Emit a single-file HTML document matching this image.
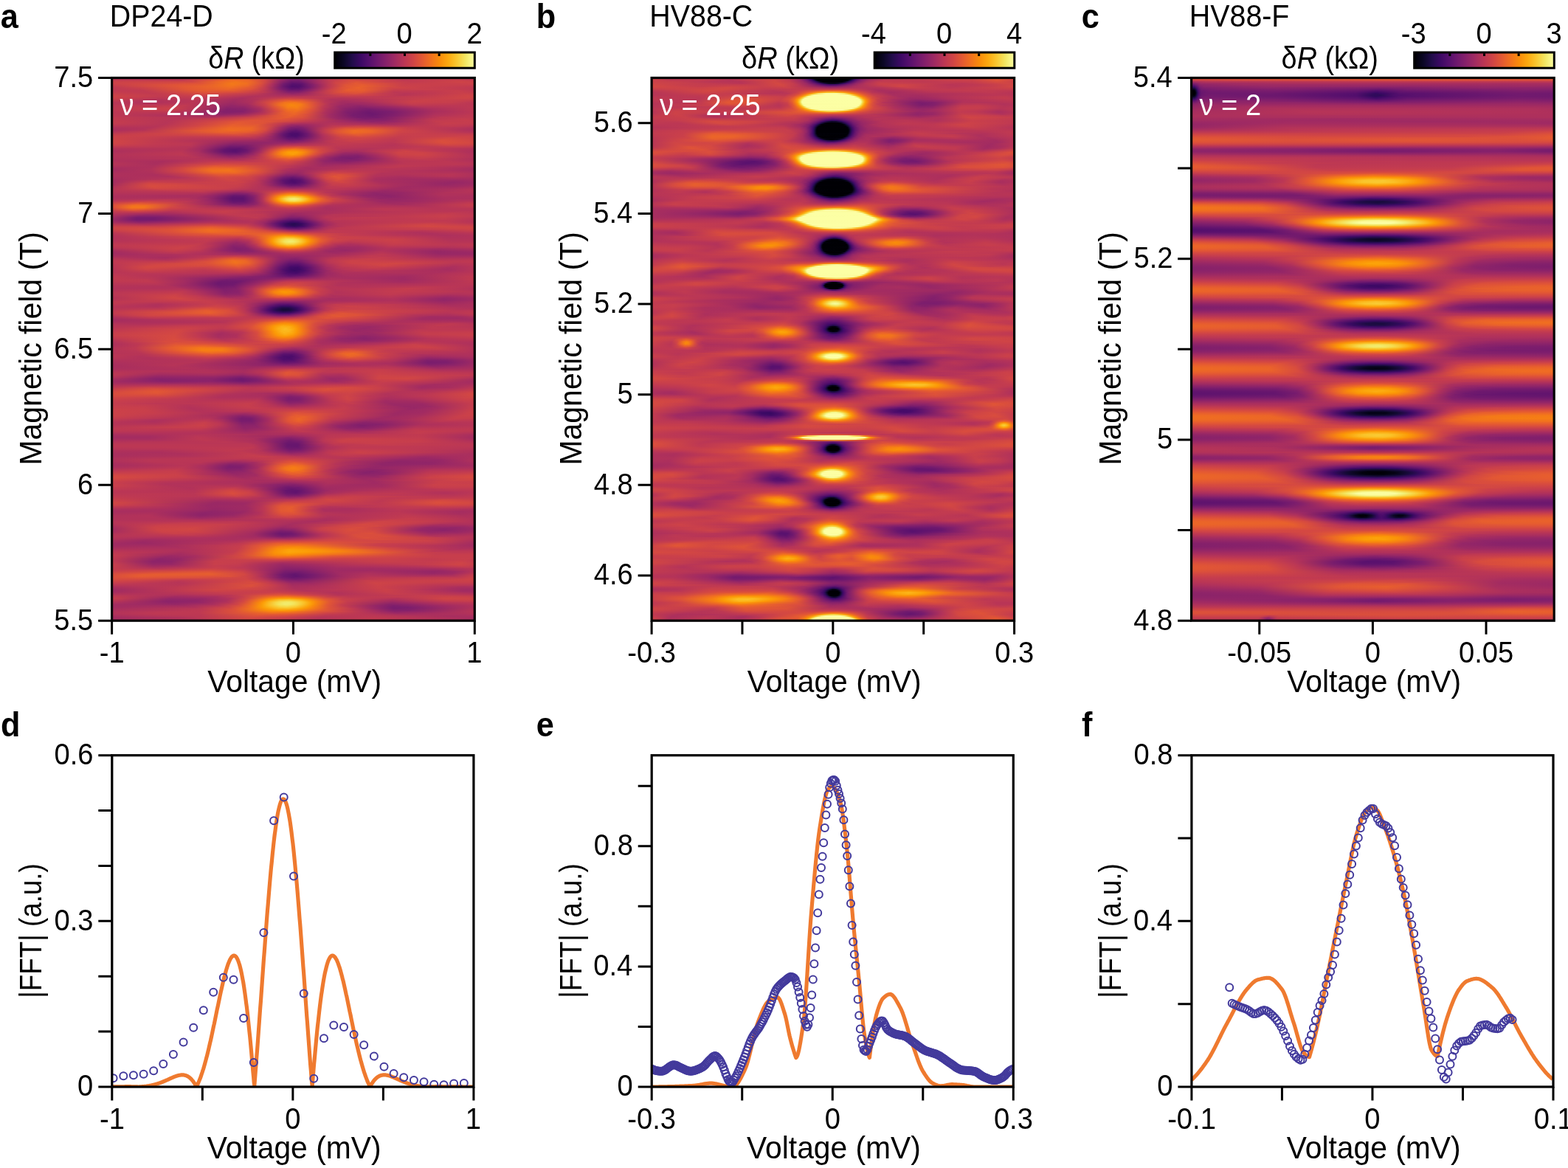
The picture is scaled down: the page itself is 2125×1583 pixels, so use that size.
<!DOCTYPE html><html><head><meta charset="utf-8"><title>Figure</title><style>
html,body{margin:0;padding:0;background:#fff}body{width:2125px;height:1583px;position:relative;overflow:hidden}
.hm{position:absolute;overflow:hidden}.hm i{display:block;height:2px}
svg{position:absolute;left:0;top:0}text{font-family:'Liberation Sans', Arial, sans-serif}
</style></head><body>
<div class="hm" style="left:151.6px;top:105.5px;width:491.7px;height:735.7px"><i style="background:linear-gradient(90deg,#b93556 0px,#b3325a 51px,#bd3853 103px,#e75e2e 156px,#e65e2e 183px,#d04545 206px,#8f2469 234px,#7e1e6c 248px,#8b236a 263px,#bf3952 295px,#d24644 326px,#c83f4c 363px,#bc3754 403px,#c33b4f 462px,#b93556 491px)"></i><i style="background:linear-gradient(90deg,#c43c4f 0px,#c23b50 95px,#da4e3d 128px,#ef6c23 162px,#eb6628 184px,#d44842 206px,#9a2865 227px,#791c6d 241px,#751b6e 253px,#932667 270px,#c23b50 295px,#d74b3f 323px,#d04545 356px,#bf3952 395px,#ca404a 467px,#c43c4e 491px)"></i><i style="background:linear-gradient(90deg,#cb4149 0px,#d14644 108px,#ec6726 145px,#f2751b 167px,#ec6727 188px,#d24743 207px,#8c2369 229px,#6a176e 243px,#6c186e 255px,#a62d60 280px,#ce4347 303px,#de5338 332px,#cc4248 370px,#c23b50 406px,#ce4347 471px,#cb4149 491px)"></i><i style="background:linear-gradient(90deg,#cc4149 0px,#d74b3f 82px,#df5337 120px,#f37819 162px,#f06f20 182px,#db4f3b 202px,#b0315b 217px,#741b6e 233px,#5c126e 245px,#63146e 257px,#a22b62 280px,#cf4446 303px,#e35833 330px,#da4e3c 357px,#c63d4d 398px,#cc4149 489px,#cc4149 491px)"></i><i style="background:linear-gradient(90deg,#c83f4b 0px,#de5238 82px,#e45a31 121px,#f3771a 162px,#ee6b24 183px,#d74b3f 202px,#ae305c 216px,#6f196e 232px,#540f6d 244px,#57106d 255px,#84206b 272px,#bd3853 293px,#de5338 316px,#e65c30 338px,#c93f4b 394px,#c83f4b 491px)"></i><i style="background:linear-gradient(90deg,#c33b4f 0px,#e05536 88px,#e9622b 129px,#f1721e 161px,#eb6429 183px,#d34743 202px,#a62d60 217px,#68166e 233px,#4f0d6c 244px,#540f6d 255px,#7f1e6c 271px,#bf3952 294px,#e15734 318px,#e75f2d 339px,#cb4149 392px,#c33b4f 491px)"></i><i style="background:linear-gradient(90deg,#bf3952 0px,#cb4149 41px,#e25734 98px,#ef6c23 162px,#e05536 191px,#c13a51 208px,#7b1d6d 228px,#58106e 241px,#550f6d 252px,#731a6e 266px,#b93556 290px,#dd513a 311px,#e9612b 334px,#d04545 377px,#c83f4b 418px,#c13a51 482px,#bf3952 491px)"></i><i style="background:linear-gradient(90deg,#bf3952 0px,#c43c4f 38px,#e35833 106px,#eb6528 157px,#de5238 188px,#bf3952 208px,#7b1d6d 230px,#60136e 243px,#65156e 255px,#9b2865 276px,#cc4248 297px,#e65d2f 321px,#e75e2e 340px,#c83f4b 383px,#c83f4c 429px,#c13a50 481px,#bf3952 491px)"></i><i style="background:linear-gradient(90deg,#c13a51 0px,#c13a51 42px,#e45a31 120px,#e45a31 164px,#cd4248 198px,#a62d60 218px,#731a6e 239px,#71196e 252px,#902568 268px,#ca404a 293px,#e55b31 318px,#e55b31 340px,#c33b4f 381px,#c13a50 416px,#c73e4c 468px,#c13a51 491px)"></i><i style="background:linear-gradient(90deg,#c43c4e 0px,#c13a51 48px,#df5437 126px,#d84c3e 170px,#bf3952 205px,#83206b 239px,#84206b 253px,#ba3655 282px,#de5238 311px,#e15734 336px,#bc3754 383px,#be3853 419px,#c83f4b 471px,#c43c4e 491px)"></i><i style="background:linear-gradient(90deg,#c83f4b 0px,#c13a50 56px,#d84c3e 128px,#c13a51 193px,#a32c61 224px,#912568 245px,#a22b62 264px,#cf4446 300px,#db503b 330px,#c43c4f 367px,#b73557 397px,#ca404a 477px,#c83f4b 491px)"></i><i style="background:linear-gradient(90deg,#cc4248 0px,#c23b50 64px,#ce4347 128px,#a92e5f 229px,#a52c60 252px,#ce4447 316px,#cc4149 348px,#b83556 393px,#ce4347 481px,#cc4248 491px)"></i><i style="background:linear-gradient(90deg,#ce4347 0px,#c03a51 68px,#c53d4e 125px,#b0315b 186px,#c33c4f 324px,#be3853 375px,#c43c4f 426px,#cf4446 482px,#ce4347 491px)"></i><i style="background:linear-gradient(90deg,#cc4149 0px,#bc3754 61px,#bf3952 122px,#a92e5e 176px,#bb3755 210px,#cb4149 241px,#be3853 277px,#b53458 308px,#ce4447 479px,#cc4248 491px)"></i><i style="background:linear-gradient(90deg,#c63e4d 0px,#b43359 57px,#bb3755 116px,#a52c60 168px,#b33359 196px,#dc503a 235px,#da4e3c 256px,#b0315b 297px,#b0315b 332px,#ca404a 423px,#c9404b 484px,#c63e4d 491px)"></i><i style="background:linear-gradient(90deg,#c03a51 0px,#af315c 51px,#b93656 112px,#a22b62 165px,#b0315b 190px,#d84c3e 218px,#ec6727 240px,#e65e2e 257px,#b83556 289px,#a62d60 314px,#b43359 356px,#cb4149 410px,#c63e4d 474px,#c03a51 491px)"></i><i style="background:linear-gradient(90deg,#bb3755 0px,#af315c 53px,#ba3655 108px,#9e2a63 164px,#ad305c 188px,#d74b3f 213px,#f1731d 234px,#f37819 248px,#e55b31 266px,#bc3754 288px,#a32c61 310px,#a42c61 339px,#c93f4b 405px,#c63e4d 459px,#bb3755 491px)"></i><i style="background:linear-gradient(90deg,#ba3655 0px,#b63458 54px,#bc3754 103px,#9a2865 161px,#a52c60 183px,#cc4248 207px,#f1721e 229px,#f78410 242px,#f57b17 255px,#d84c3e 275px,#ae305c 296px,#9a2865 320px,#a22b62 352px,#c53d4e 406px,#c13a50 462px,#ba3655 491px)"></i><i style="background:linear-gradient(90deg,#bc3754 0px,#c13a51 98px,#a42c61 135px,#932667 162px,#a02a62 185px,#cc4248 209px,#f1721e 229px,#f8870e 243px,#f67e14 254px,#e15635 271px,#b93656 289px,#9b2865 310px,#912568 336px,#a32c61 370px,#bd3853 411px,#bc3754 491px)"></i><i style="background:linear-gradient(90deg,#bd3853 0px,#c73e4c 85px,#b33359 117px,#8f2469 156px,#932567 179px,#b33359 201px,#df5437 220px,#f67e14 238px,#f78212 250px,#ea6429 265px,#c03a51 285px,#992865 307px,#88226a 336px,#952667 369px,#b43359 419px,#bd3853 491px)"></i><i style="background:linear-gradient(90deg,#bd3853 0px,#ca404a 80px,#b63457 112px,#88226a 156px,#8c2369 179px,#ab2f5e 201px,#db503b 221px,#f3771a 238px,#f57b17 251px,#e15734 269px,#b63457 288px,#8d2369 315px,#7e1e6c 344px,#902568 381px,#ae305c 429px,#bd3853 491px)"></i><i style="background:linear-gradient(90deg,#bd3853 0px,#c83f4c 77px,#b63458 108px,#84206b 155px,#88226a 180px,#a62d60 201px,#d94d3d 222px,#f0701f 239px,#f1731d 252px,#dc503a 270px,#ac2f5d 292px,#85216b 319px,#761b6e 348px,#87216b 381px,#ac2f5d 436px,#bd3853 491px)"></i><i style="background:linear-gradient(90deg,#bc3754 0px,#c13a50 78px,#ab2f5e 112px,#84206b 151px,#84206b 175px,#9f2a63 197px,#d24644 220px,#ec6726 237px,#ef6e21 249px,#de5238 267px,#ad305c 290px,#83206b 317px,#71196e 346px,#7c1e6d 377px,#a92e5e 435px,#bc3754 491px)"></i><i style="background:linear-gradient(90deg,#bc3754 0px,#b93556 83px,#9a2865 124px,#85216b 154px,#8f2468 180px,#b63457 206px,#e55c30 231px,#ed6925 246px,#e25734 262px,#ae305c 288px,#7f1e6c 319px,#6d186e 348px,#7c1e6d 380px,#ac2f5d 437px,#bc3754 491px)"></i><i style="background:linear-gradient(90deg,#bd3853 0px,#b0315b 91px,#902568 148px,#992865 174px,#be3853 204px,#e65d2f 232px,#eb6429 247px,#d54941 268px,#a02a63 295px,#781c6d 326px,#6d186e 353px,#83206b 386px,#af315c 437px,#bd3853 488px,#bd3853 491px)"></i><i style="background:linear-gradient(90deg,#be3853 0px,#ab2f5e 103px,#a02b62 148px,#b53458 184px,#de5238 221px,#e9612b 242px,#db4f3b 262px,#a32c61 293px,#791c6d 326px,#6f196e 351px,#811f6c 381px,#b3325a 436px,#bf3952 484px,#be3853 491px)"></i><i style="background:linear-gradient(90deg,#c03a51 0px,#b0315b 135px,#cc4249 191px,#e65d2f 236px,#db503b 258px,#9f2a63 297px,#781c6d 333px,#751b6e 359px,#9d2964 403px,#bd3853 446px,#c03a51 491px)"></i><i style="background:linear-gradient(90deg,#c13a50 0px,#b63458 96px,#c83f4b 156px,#e25734 229px,#d44842 260px,#982766 307px,#7c1d6d 343px,#84206b 372px,#bc3754 434px,#c43c4f 476px,#c23b50 491px)"></i><i style="background:linear-gradient(90deg,#c33b4f 0px,#b73557 79px,#ca404a 134px,#df5337 191px,#da4e3d 236px,#ba3655 281px,#88226a 336px,#88226a 369px,#c13a51 435px,#c63d4d 481px,#c43c4f 491px)"></i><i style="background:linear-gradient(90deg,#c43c4e 0px,#b73557 75px,#cb4149 124px,#e15635 173px,#dd513a 214px,#bf3952 262px,#a62d60 309px,#8f2469 352px,#982766 382px,#c43c4e 440px,#c53d4e 488px,#c43c4e 491px)"></i><i style="background:linear-gradient(90deg,#c43c4f 0px,#b73557 73px,#cf4446 123px,#e45932 170px,#de5238 205px,#be3952 234px,#b0315b 256px,#b1325a 301px,#9c2964 365px,#b1325a 406px,#c73e4c 452px,#c43c4f 491px)"></i><i style="background:linear-gradient(90deg,#c03a51 0px,#b73557 69px,#cf4446 118px,#e65d2f 164px,#e15734 198px,#c73e4c 221px,#9f2a63 244px,#9f2a63 262px,#b63458 296px,#b33359 343px,#ad305d 381px,#c53d4e 450px,#c13a51 491px)"></i><i style="background:linear-gradient(90deg,#b93656 0px,#b63457 60px,#cf4446 110px,#e9612b 161px,#e65e2e 192px,#d04545 214px,#962766 238px,#88226a 251px,#9d2964 270px,#be3952 299px,#ca414a 333px,#bc3754 389px,#c13a50 463px,#ba3655 491px)"></i><i style="background:linear-gradient(90deg,#b2325a 0px,#b43359 52px,#d54a41 110px,#ec6726 160px,#ea6429 189px,#d54a41 210px,#9d2964 230px,#7d1e6c 243px,#7d1e6c 256px,#ba3655 288px,#d84c3e 317px,#da4e3c 347px,#c43c4e 400px,#b73557 474px,#b2325a 491px)"></i><i style="background:linear-gradient(90deg,#ad305d 0px,#b3325a 43px,#d94d3d 107px,#ee6b23 158px,#ec6726 187px,#da4e3d 207px,#b0315b 222px,#771c6d 239px,#6c186e 249px,#7c1d6d 261px,#c33b4f 289px,#e35933 316px,#e8612c 340px,#c93f4b 399px,#ad305c 491px)"></i><i style="background:linear-gradient(90deg,#ae305c 0px,#b83556 43px,#e35833 118px,#ee6b23 163px,#e9612b 190px,#d34743 208px,#a22b61 223px,#69176e 239px,#5f136e 249px,#741a6e 261px,#b63458 282px,#dc503a 302px,#ee6b24 328px,#eb6429 349px,#ce4347 393px,#ae305c 491px)"></i><i style="background:linear-gradient(90deg,#b53458 0px,#c63e4d 59px,#e9622b 147px,#e75e2e 183px,#d54941 203px,#af315c 217px,#6f196e 233px,#550f6d 244px,#58106e 253px,#7c1d6d 266px,#c13a51 287px,#e15734 307px,#ee6b23 328px,#eb6429 349px,#ce4447 389px,#b53458 486px,#b53458 491px)"></i><i style="background:linear-gradient(90deg,#bf3952 0px,#d04545 83px,#e35933 164px,#d74b3f 195px,#bb3755 210px,#731a6e 229px,#4f0d6c 241px,#4d0c6b 251px,#6d186e 264px,#b63458 285px,#da4e3d 304px,#ea6429 328px,#e45932 352px,#ca404a 392px,#bf3952 491px)"></i><i style="background:linear-gradient(90deg,#c73e4c 0px,#ce4347 95px,#d74b3f 174px,#c73e4c 199px,#a62d60 214px,#63146e 232px,#4a0c6b 243px,#4c0c6b 252px,#6e186e 265px,#b3325a 286px,#d74b3f 308px,#e35933 333px,#c83f4c 390px,#c73e4c 491px)"></i><i style="background:linear-gradient(90deg,#cc4149 0px,#c53d4e 98px,#c83f4c 185px,#b53458 204px,#8f2468 219px,#550f6d 238px,#4d0d6c 249px,#67166e 262px,#af315c 286px,#d14644 309px,#da4e3d 336px,#c53d4e 388px,#cd4248 477px,#cc4149 491px)"></i><i style="background:linear-gradient(90deg,#cd4248 0px,#bf3952 93px,#b73557 193px,#9f2a63 212px,#5e136e 238px,#59116e 250px,#781c6d 265px,#b3325a 288px,#ce4447 313px,#d04545 342px,#c23b50 383px,#d24743 456px,#cd4248 491px)"></i><i style="background:linear-gradient(90deg,#ce4347 0px,#bd3853 83px,#ad305c 177px,#a62d60 203px,#86216b 223px,#69166e 240px,#6b176e 253px,#a92e5f 282px,#c63e4d 305px,#ce4347 334px,#bf3952 381px,#d74b3f 449px,#ce4447 491px)"></i><i style="background:linear-gradient(90deg,#d04545 0px,#c03a51 63px,#b2325a 121px,#a02a62 170px,#9b2865 208px,#771c6d 243px,#83206b 258px,#bc3754 293px,#ca404a 322px,#be3853 383px,#da4e3d 447px,#d04545 491px)"></i><i style="background:linear-gradient(90deg,#d04545 0px,#c13a50 58px,#b93556 109px,#932667 168px,#932667 220px,#8b236a 247px,#c13a50 300px,#c53d4e 335px,#bb3755 379px,#da4e3c 449px,#d24644 491px)"></i><i style="background:linear-gradient(90deg,#cf4446 0px,#c13a51 58px,#bc3754 106px,#88226a 165px,#8e2469 192px,#a22b62 239px,#c23b50 310px,#b83556 382px,#d74b3f 452px,#d04545 491px)"></i><i style="background:linear-gradient(90deg,#c9404b 0px,#be3853 63px,#bb3755 105px,#9d2964 134px,#7c1e6d 161px,#7e1e6c 182px,#bb3755 237px,#bf3952 309px,#b63458 380px,#cf4446 455px,#ca404a 491px)"></i><i style="background:linear-gradient(90deg,#c03a51 0px,#bb3755 72px,#b63458 107px,#9b2964 130px,#6f196e 160px,#711a6e 179px,#972766 202px,#d04545 232px,#d84d3e 252px,#bc3754 305px,#b73557 373px,#c53d4e 465px,#c13a51 491px)"></i><i style="background:linear-gradient(90deg,#b63457 0px,#b63457 100px,#9f2a63 124px,#65156e 157px,#63146e 173px,#811f6c 192px,#bd3853 214px,#e45a31 232px,#ec6826 248px,#d74b3f 274px,#b93656 305px,#b33359 345px,#c13a51 414px,#b63457 491px)"></i><i style="background:linear-gradient(90deg,#b0315b 0px,#b63457 96px,#a32c61 119px,#62146e 153px,#59116e 167px,#68166e 181px,#972766 199px,#d34743 217px,#f1721e 232px,#f78510 245px,#f3771a 258px,#d04545 284px,#b2325a 312px,#af315c 339px,#c73e4c 394px,#b93556 454px,#b0315b 491px)"></i><i style="background:linear-gradient(90deg,#ad305c 0px,#b93656 94px,#a62d60 118px,#63146e 152px,#59116e 167px,#6d186e 182px,#a22b62 200px,#da4e3d 216px,#f57c16 229px,#fb9607 239px,#fb9706 250px,#f57d15 262px,#d44842 282px,#af315c 307px,#a62d60 331px,#bf3952 366px,#ce4347 398px,#bc3754 448px,#ad305c 491px)"></i><i style="background:linear-gradient(90deg,#af315c 0px,#bc3754 93px,#ab2f5e 117px,#69176e 153px,#62146e 168px,#781c6d 183px,#ad305c 201px,#e05536 216px,#f98a0c 230px,#fca007 239px,#fca007 250px,#f98a0c 259px,#df5337 276px,#b93656 294px,#9d2964 316px,#9e2a63 337px,#ce4347 388px,#cd4248 422px,#b0315b 484px,#af315c 491px)"></i><i style="background:linear-gradient(90deg,#b2325a 0px,#bd3853 95px,#a82e5f 123px,#731a6e 157px,#741b6e 173px,#9b2865 192px,#d24743 210px,#f57c16 226px,#fb9606 235px,#fca008 245px,#f98c0b 256px,#e05536 273px,#ba3655 288px,#932667 312px,#8f2469 332px,#ab2f5e 358px,#cc4248 388px,#cf4446 420px,#b3325a 486px,#b2325a 491px)"></i><i style="background:linear-gradient(90deg,#b3325a 0px,#bb3755 101px,#a62d60 129px,#83206b 158px,#88226a 175px,#ae305c 196px,#de5338 215px,#f78311 232px,#fa8f09 243px,#f68013 254px,#da4e3d 271px,#ad305c 288px,#88226a 312px,#84206b 333px,#a92e5e 362px,#ca404a 390px,#cd4248 422px,#b3325a 489px,#b3325a 491px)"></i><i style="background:linear-gradient(90deg,#b2325a 0px,#b73557 112px,#932567 161px,#9b2964 180px,#c63d4d 205px,#ef6c23 229px,#f47819 241px,#ee6b23 253px,#ce4347 270px,#9c2964 290px,#7f1e6c 311px,#7e1e6c 333px,#a62d60 364px,#c63d4d 392px,#c83f4c 426px,#b2325a 491px)"></i><i style="background:linear-gradient(90deg,#b0315b 0px,#b63458 92px,#b2325a 128px,#a12b62 166px,#b43359 193px,#df5337 223px,#ea6429 240px,#de5238 256px,#a72d5f 280px,#83206b 302px,#7a1d6d 324px,#8f2469 349px,#bc3754 387px,#c53d4e 417px,#b0315b 491px)"></i><i style="background:linear-gradient(90deg,#b0315b 0px,#ae305c 74px,#b83556 127px,#b0315b 174px,#ca404a 210px,#de5338 236px,#d44842 254px,#9a2865 283px,#811f6c 305px,#83206b 332px,#bb3755 391px,#bf3952 432px,#b0315b 491px)"></i><i style="background:linear-gradient(90deg,#b2325a 0px,#a92e5e 66px,#bf3952 134px,#c13a51 191px,#d54941 238px,#c13a51 259px,#912568 289px,#87216b 317px,#9b2865 350px,#ba3655 394px,#bc3754 453px,#b3325a 491px)"></i><i style="background:linear-gradient(90deg,#b53458 0px,#a92e5e 61px,#ca414a 140px,#cc4149 241px,#972766 289px,#932567 316px,#bc3754 399px,#bc3754 466px,#b63458 491px)"></i><i style="background:linear-gradient(90deg,#b53458 0px,#aa2f5e 59px,#c9404b 110px,#d74b3f 153px,#c53d4e 239px,#9d2964 287px,#a22b61 325px,#bc3754 391px,#bc3754 466px,#b53458 491px)"></i><i style="background:linear-gradient(90deg,#b1325a 0px,#ad305d 55px,#c63e4d 96px,#e15635 139px,#dd5139 180px,#b53458 250px,#a22b62 285px,#bf3952 392px,#b43359 480px,#b1325a 491px)"></i><i style="background:linear-gradient(90deg,#ab2f5e 0px,#ae305c 53px,#d14644 99px,#ea632a 138px,#e75f2d 172px,#c83f4c 219px,#a72d5f 262px,#ac2f5d 302px,#bd3853 377px,#b0315b 468px,#ab2f5e 491px)"></i><i style="background:linear-gradient(90deg,#a62d60 0px,#b0315b 52px,#d24743 95px,#ee6b24 133px,#f06e21 160px,#dc503a 198px,#ad305d 241px,#a52c60 267px,#b93656 333px,#b63458 421px,#a62d60 491px)"></i><i style="background:linear-gradient(90deg,#a62d60 0px,#b1325a 54px,#d44842 96px,#f06f20 134px,#f2741c 158px,#e45a31 191px,#ae305c 233px,#a12b62 255px,#be3952 310px,#ad305d 455px,#a62d60 491px)"></i><i style="background:linear-gradient(90deg,#a92e5f 0px,#b0315b 54px,#d24743 98px,#ef6d22 137px,#f06f20 165px,#da4e3d 200px,#a32c61 237px,#9e2a63 255px,#c83f4c 299px,#c13a50 331px,#b43359 383px,#b0315b 462px,#a92e5f 491px)"></i><i style="background:linear-gradient(90deg,#ad305c 0px,#ad305c 54px,#c83f4b 96px,#e9612b 138px,#eb6429 167px,#d64a40 199px,#992865 237px,#962766 252px,#b93656 276px,#d34743 298px,#ce4347 322px,#b33359 365px,#b53458 462px,#ad305c 491px)"></i><i style="background:linear-gradient(90deg,#ae305c 0px,#ac2f5d 61px,#c73e4c 105px,#e25734 145px,#df5337 178px,#c63e4d 205px,#8c2369 236px,#88226a 249px,#a42c61 266px,#d34743 289px,#dc503a 309px,#b33359 358px,#b1325a 400px,#b93556 456px,#ae305c 491px)"></i><i style="background:linear-gradient(90deg,#ad305c 0px,#ae305c 76px,#da4e3d 148px,#d44842 183px,#bc3754 206px,#7e1e6c 234px,#751b6e 246px,#88226a 259px,#c93f4b 283px,#df5437 301px,#d84c3e 320px,#b3325a 354px,#ab2f5e 389px,#b63458 457px,#ad305c 491px)"></i><i style="background:linear-gradient(90deg,#aa2f5e 0px,#b43359 92px,#d44842 152px,#cc4248 187px,#b3325a 207px,#711a6e 232px,#63146e 244px,#711a6e 256px,#ad305d 275px,#d34743 290px,#df5437 307px,#cb4149 329px,#ac2f5d 358px,#a62d60 398px,#ad305c 464px,#a92e5e 491px)"></i><i style="background:linear-gradient(90deg,#a72d5f 0px,#b53458 64px,#bf3952 111px,#d24644 157px,#c83f4c 189px,#ad305d 207px,#68166e 231px,#540f6d 244px,#62146e 256px,#9f2a63 274px,#cf4446 291px,#db503b 307px,#c83f4c 329px,#a92e5e 357px,#a22b62 405px,#a52c60 491px)"></i><i style="background:linear-gradient(90deg,#a52c60 0px,#c03a51 55px,#c13a50 114px,#d04545 164px,#c13a50 193px,#9f2a63 211px,#5e136e 232px,#4d0c6b 244px,#58106e 255px,#8f2469 272px,#c43c4e 289px,#d74b3f 304px,#c93f4b 326px,#aa2f5e 356px,#9b2964 466px,#a12b62 491px)"></i><i style="background:linear-gradient(90deg,#a32c61 0px,#ca404a 50px,#c43c4e 94px,#ca404a 135px,#cc4149 175px,#b73557 199px,#8a226a 218px,#56106d 236px,#4d0c6b 247px,#60136e 259px,#a02a63 278px,#c83f4c 294px,#d24644 311px,#ac2f5d 361px,#962766 462px,#9e2a63 491px)"></i><i style="background:linear-gradient(90deg,#a62d60 0px,#d24743 50px,#cf4446 83px,#c83f4c 122px,#cc4149 168px,#b93556 197px,#972766 214px,#5d126e 236px,#550f6d 248px,#6b176e 261px,#b0315b 284px,#c93f4b 299px,#ca404a 319px,#ae305c 364px,#962766 453px,#9e2a63 491px)"></i><i style="background:linear-gradient(90deg,#a92e5e 0px,#d64a40 50px,#d44842 83px,#cc4149 128px,#c83f4b 172px,#b33359 201px,#801f6c 226px,#65156e 242px,#6a176e 254px,#a72d5f 280px,#c53d4e 298px,#c63d4d 321px,#a82e5f 384px,#992865 451px,#a22b62 491px)"></i><i style="background:linear-gradient(90deg,#b0315b 0px,#d74b3f 54px,#d14644 97px,#c73e4c 169px,#b0315b 205px,#7c1d6d 241px,#811f6c 256px,#bd3853 292px,#c33b4f 315px,#a22b62 397px,#a02a62 463px,#a92e5e 491px)"></i><i style="background:linear-gradient(90deg,#b43359 0px,#d44842 58px,#ca404a 152px,#ab2f5e 216px,#942667 245px,#a42c61 268px,#be3853 296px,#b83556 327px,#a12b62 388px,#a72d5f 461px,#b0315b 491px)"></i><i style="background:linear-gradient(90deg,#b73557 0px,#cc4149 68px,#c63e4d 142px,#b43359 185px,#b2325a 240px,#b83556 311px,#9f2a63 374px,#aa2f5e 450px,#b53458 491px)"></i><i style="background:linear-gradient(90deg,#b73557 0px,#c43c4f 121px,#b1325a 153px,#a52c60 178px,#ce4347 238px,#a92e5f 326px,#982766 370px,#b63458 491px)"></i><i style="background:linear-gradient(90deg,#b53458 0px,#b93556 124px,#8f2468 171px,#9d2964 190px,#d24743 220px,#e65e2e 240px,#df5437 258px,#b83556 290px,#932667 355px,#972766 391px,#b1325a 455px,#b33359 491px)"></i><i style="background:linear-gradient(90deg,#b2325a 0px,#b2325a 95px,#ab2f5e 127px,#7b1d6d 167px,#82206c 183px,#ad305c 202px,#e25734 221px,#f57e15 237px,#f68212 247px,#ec6826 262px,#ca404a 282px,#a82e5f 311px,#8e2469 359px,#962766 393px,#b0315b 447px,#b0315b 491px)"></i><i style="background:linear-gradient(90deg,#af315c 0px,#a92e5e 118px,#932567 139px,#69176e 165px,#6d186e 179px,#8f2469 194px,#c63e4d 209px,#ef6e21 222px,#fa9309 231px,#fcad13 241px,#fca80f 251px,#f98f0a 260px,#dc513a 279px,#bc3754 297px,#942667 342px,#8d2369 373px,#af315c 450px,#ad305c 491px)"></i><i style="background:linear-gradient(90deg,#ae305c 0px,#a92e5e 114px,#8f2468 137px,#5f136e 164px,#61146e 178px,#83206b 192px,#b93556 205px,#e45932 215px,#fa9108 225px,#fca70d 229px,#f8cf3b 239px,#f6d645 247px,#fac228 256px,#fba009 264px,#f8880d 269px,#e25833 282px,#c43c4f 299px,#972766 346px,#8e2469 377px,#ac2f5d 448px,#ad305d 491px)"></i><i style="background:linear-gradient(90deg,#af315c 0px,#b1325a 101px,#9f2a63 127px,#5d126e 163px,#5c126e 177px,#7d1e6d 191px,#b0315b 203px,#df5437 213px,#f98b0b 222px,#fc9f07 225px,#f7d340 234px,#f2e967 241px,#f2ed71 246px,#f2e55f 252px,#fbba1f 263px,#fb9a06 269px,#f1721e 278px,#d94d3d 291px,#b73557 317px,#932667 363px,#972766 396px,#ab2f5e 452px,#ad305c 491px)"></i><i style="background:linear-gradient(90deg,#b43359 0px,#be3853 74px,#af315c 114px,#8e2469 138px,#5e136e 163px,#5e136e 178px,#7d1e6d 191px,#b43359 204px,#e35933 214px,#fb9706 224px,#fcab10 227px,#f4e054 237px,#f1ec6f 242px,#f1ed71 248px,#f4df53 255px,#fca80d 267px,#fa9407 271px,#e9622b 283px,#ce4347 300px,#a02a62 350px,#962766 384px,#af315c 467px,#b1325a 491px)"></i><i style="background:linear-gradient(90deg,#be3853 0px,#cc4248 51px,#bb3755 102px,#9c2964 131px,#64156e 164px,#64156e 178px,#811f6c 192px,#b53458 205px,#e45a31 216px,#fa9407 226px,#fcaf14 231px,#f7d23f 240px,#f6d848 247px,#f9c831 255px,#fba009 265px,#f7850f 271px,#e25833 284px,#c83f4b 302px,#9c2964 364px,#9c2964 400px,#b63457 477px,#b83556 491px)"></i><i style="background:linear-gradient(90deg,#ca404a 0px,#dd5239 39px,#cc4248 82px,#a22b62 129px,#6d186e 165px,#71196e 181px,#8f2468 196px,#c33b4f 210px,#ee6b24 223px,#fa910a 232px,#fbac12 242px,#fba80f 252px,#f98d0b 261px,#dd5239 280px,#c13a50 299px,#9e2a63 374px,#a72d5f 418px,#bf3952 483px,#c03a51 491px)"></i><i style="background:linear-gradient(90deg,#d44842 0px,#eb6528 33px,#e55c30 56px,#b93556 110px,#86216b 155px,#7b1d6d 174px,#8c2369 192px,#bd3853 211px,#e9622b 228px,#f57f14 242px,#f3771a 254px,#d34743 276px,#b63457 299px,#a32c61 393px,#c53d4e 487px,#c53d4e 491px)"></i><i style="background:linear-gradient(90deg,#d94c3e 0px,#f2731d 28px,#f1731d 44px,#cc4248 89px,#922568 164px,#932567 186px,#b1325a 208px,#df5437 233px,#e35a32 248px,#ca414a 270px,#b0315b 292px,#ae305c 415px,#c53d4e 488px,#c53d4e 491px)"></i><i style="background:linear-gradient(90deg,#d84c3e 0px,#f3761b 27px,#f3761b 42px,#d24644 80px,#b93656 122px,#a32c61 183px,#b73557 212px,#d04545 239px,#c73e4c 259px,#ab2f5e 289px,#b53458 369px,#b53458 432px,#c03a51 491px)"></i><i style="background:linear-gradient(90deg,#d14644 0px,#ed6925 27px,#ec6727 42px,#cc4149 78px,#c13a51 113px,#b63458 170px,#b63458 210px,#c03a51 244px,#a92e5e 291px,#bb3755 366px,#b73557 439px,#ba3655 491px)"></i><i style="background:linear-gradient(90deg,#c83f4c 0px,#df5437 28px,#d54a40 50px,#bf3952 83px,#c33b4f 159px,#b43359 241px,#aa2f5e 295px,#bb3755 371px,#b73557 491px)"></i><i style="background:linear-gradient(90deg,#c03a51 0px,#ca404a 34px,#b43359 78px,#c73e4c 151px,#b0315b 227px,#a82e5f 265px,#ba3655 391px,#bb3755 480px,#b83556 491px)"></i><i style="background:linear-gradient(90deg,#ba3655 0px,#a72d5f 73px,#c43c4e 152px,#ba3655 205px,#9f2a63 248px,#b33359 314px,#c23b50 461px,#bb3755 491px)"></i><i style="background:linear-gradient(90deg,#b3325a 0px,#962766 47px,#a02a62 91px,#c13a51 160px,#bf3952 201px,#972766 245px,#a42c61 269px,#b73557 300px,#bd3853 392px,#c63e4d 450px,#be3853 491px)"></i><i style="background:linear-gradient(90deg,#ab2f5e 0px,#85216b 36px,#87216b 64px,#c23b50 180px,#bc3754 206px,#8d2369 243px,#962766 261px,#b83556 291px,#ba3655 348px,#c83f4c 450px,#bf3952 491px)"></i><i style="background:linear-gradient(90deg,#a42c61 0px,#781c6d 33px,#781c6d 58px,#b43359 160px,#c03a51 194px,#b1325a 212px,#801f6c 240px,#811f6c 254px,#b93556 290px,#bf3952 323px,#c03a51 393px,#c63e4d 449px,#bc3754 491px)"></i><i style="background:linear-gradient(90deg,#9f2a63 0px,#741a6e 33px,#741a6e 55px,#b83556 176px,#b83556 199px,#9a2865 218px,#6d186e 239px,#6d186e 253px,#ac2f5d 283px,#be3853 302px,#bf3952 392px,#c43c4f 447px,#b83556 491px)"></i><i style="background:linear-gradient(90deg,#a12b62 0px,#7a1d6d 33px,#7d1e6c 58px,#a32c61 130px,#b63458 190px,#a52c60 207px,#61136e 233px,#510e6c 245px,#5d126e 257px,#9f2a63 281px,#b73557 297px,#bb3755 334px,#c13a51 402px,#bf3952 459px,#b63458 491px)"></i><i style="background:linear-gradient(90deg,#a72d5f 0px,#8a226a 37px,#972766 74px,#b0315b 137px,#b2325a 191px,#9a2865 208px,#58106e 229px,#3b0a64 242px,#3e0a66 252px,#68166e 267px,#a22b61 287px,#b63457 304px,#c13a50 394px,#c23b50 450px,#b63457 491px)"></i><i style="background:linear-gradient(90deg,#b33359 0px,#a02b62 41px,#be3952 132px,#b73557 187px,#a02a63 204px,#5e136e 224px,#310a5d 238px,#290b54 247px,#3a0963 257px,#6d186e 272px,#a12b62 289px,#b53458 307px,#cb4149 433px,#bc3754 491px)"></i><i style="background:linear-gradient(90deg,#c03a51 0px,#b63457 49px,#d04545 135px,#c33b4f 183px,#a62d60 203px,#67166e 222px,#380962 235px,#270b52 245px,#310a5d 255px,#60136e 269px,#9d2964 288px,#b53458 306px,#d14644 427px,#c53d4e 491px)"></i><i style="background:linear-gradient(90deg,#ca404a 0px,#ca404a 65px,#e05536 135px,#ce4447 182px,#b3325a 202px,#7e1e6c 219px,#430a68 236px,#350a5f 247px,#480b6a 259px,#84206b 277px,#ad305d 294px,#bc3754 318px,#d24743 431px,#cc4248 491px)"></i><i style="background:linear-gradient(90deg,#ce4447 0px,#d64a40 73px,#ea632a 134px,#dd513a 177px,#c33b4f 201px,#902568 220px,#5b116e 238px,#530f6c 249px,#67166e 262px,#aa2f5e 288px,#bd3853 307px,#ce4447 459px,#cf4446 491px)"></i><i style="background:linear-gradient(90deg,#cc4248 0px,#dc503a 76px,#ef6c23 132px,#e9612b 167px,#d24743 200px,#ac2f5d 220px,#7e1e6c 240px,#781c6d 253px,#9c2964 274px,#bc3754 296px,#c03a51 339px,#c73e4c 445px,#cc4248 491px)"></i><i style="background:linear-gradient(90deg,#c63e4d 0px,#dd5139 79px,#f06e21 133px,#ea632a 173px,#d64a40 209px,#a32c61 245px,#a32c61 261px,#c13a51 296px,#b83556 419px,#c63e4d 491px)"></i><i style="background:linear-gradient(90deg,#be3853 0px,#db503b 83px,#ed6826 135px,#de5338 220px,#c13b50 262px,#bf3952 334px,#b0315b 414px,#be3853 491px)"></i><i style="background:linear-gradient(90deg,#b73557 0px,#d94d3d 92px,#e55c30 143px,#e65d2f 196px,#ed6925 231px,#d34743 271px,#c13a51 324px,#ad305d 430px,#b73557 491px)"></i><i style="background:linear-gradient(90deg,#b43359 0px,#d74b3f 110px,#dd513a 185px,#f0701f 212px,#f98d0b 233px,#f78311 248px,#d84d3e 279px,#c53d4e 312px,#b93556 386px,#ad305d 450px,#b33359 491px)"></i><i style="background:linear-gradient(90deg,#b3325a 0px,#d04545 132px,#cb4149 174px,#e05536 196px,#f57c16 213px,#fb9907 223px,#fcb116 235px,#fcac12 246px,#fa9309 257px,#e35933 278px,#cd4248 299px,#c63e4d 342px,#bf3952 392px,#af315c 453px,#b3325a 491px)"></i><i style="background:linear-gradient(90deg,#b3325a 0px,#c43c4f 95px,#c63e4d 136px,#bc3754 171px,#d14644 191px,#ef6c23 207px,#fb9706 218px,#fcb318 225px,#f7d03c 236px,#f7d03c 245px,#fcb318 256px,#fb9b07 262px,#f47918 271px,#e05536 285px,#cb4149 306px,#c63d4d 390px,#b1325a 454px,#b3325a 491px)"></i><i style="background:linear-gradient(90deg,#b43359 0px,#bd3853 86px,#c43c4f 128px,#ae305c 169px,#be3853 185px,#df5337 200px,#f8860e 213px,#fc9f07 218px,#f7d03c 229px,#f3e45d 237px,#f2e661 243px,#f6d847 251px,#fca309 264px,#f98c0b 269px,#e55c30 283px,#ce4447 301px,#c53d4e 329px,#cb4149 382px,#b33359 455px,#b43359 491px)"></i><i style="background:linear-gradient(90deg,#b63457 0px,#be3853 88px,#c13a51 128px,#a22b62 168px,#b33359 185px,#d84c3e 199px,#f57c16 211px,#fb9a06 217px,#fbba1f 223px,#f3e35a 233px,#f1ed71 240px,#f1ec6d 245px,#f5db4c 252px,#fca60b 264px,#f98d09 269px,#e65d2f 282px,#cc4248 298px,#c03a51 323px,#ca404a 382px,#b53458 460px,#b63457 491px)"></i><i style="background:linear-gradient(90deg,#ba3655 0px,#c13a50 124px,#a82e5f 149px,#972766 169px,#a92e5f 184px,#d64a40 200px,#f57b17 212px,#fb9a06 218px,#fbb91e 224px,#f3e258 235px,#f2e763 241px,#f3e258 247px,#fac127 257px,#fb9e07 264px,#f8860e 269px,#e15734 282px,#c63d4d 298px,#b83556 320px,#c93f4b 384px,#b83556 460px,#b93656 491px)"></i><i style="background:linear-gradient(90deg,#be3853 0px,#c43c4e 118px,#ad305c 142px,#902568 165px,#972766 179px,#c23b50 196px,#ea632a 209px,#fb9706 220px,#fcb318 226px,#f7d340 237px,#f7d23f 245px,#fbba1f 254px,#fb9d07 261px,#f68112 267px,#d94d3d 282px,#b93556 301px,#ae305c 323px,#c63d4d 380px,#bb3755 460px,#be3853 491px)"></i><i style="background:linear-gradient(90deg,#bf3952 0px,#c83f4b 108px,#b83556 133px,#8a226a 164px,#8e2469 178px,#b0315b 193px,#de5338 208px,#f88a0c 222px,#fba10a 228px,#fbb61b 238px,#fcb116 247px,#fa9508 257px,#e45a31 273px,#c33b4f 288px,#a92e5f 307px,#a92e5f 333px,#c03a51 377px,#b93656 462px,#be3853 491px)"></i><i style="background:linear-gradient(90deg,#bc3754 0px,#cb4149 96px,#be3853 126px,#84206b 165px,#89226a 180px,#ad305d 196px,#de5238 213px,#f68013 228px,#fa910a 240px,#f78410 252px,#de5238 270px,#b73557 288px,#9f2a63 309px,#a22b62 334px,#b93556 374px,#b33359 455px,#b93656 491px)"></i><i style="background:linear-gradient(90deg,#b53458 0px,#cb4149 89px,#c13a51 120px,#992865 148px,#801f6c 168px,#87216b 183px,#b1325a 203px,#e35932 225px,#ee6c23 240px,#e8602c 254px,#b73557 281px,#9b2964 304px,#9e2a63 331px,#b33359 372px,#a62d60 444px,#b0315b 491px)"></i><i style="background:linear-gradient(90deg,#ac2f5d 0px,#c83f4b 85px,#bd3853 119px,#922568 152px,#801f6c 171px,#89226a 188px,#bd3853 216px,#d84c3e 236px,#d34743 254px,#a22b62 290px,#972766 316px,#b2325a 369px,#9c2964 439px,#a62d60 491px)"></i><i style="background:linear-gradient(90deg,#a52c60 0px,#c33b4f 84px,#b63458 121px,#88226a 169px,#8b236a 189px,#c13b50 236px,#bd3853 256px,#9b2964 295px,#9f2a63 325px,#b53458 364px,#a82e5f 398px,#962766 440px,#9f2a63 491px)"></i><i style="background:linear-gradient(90deg,#a22b62 0px,#bb3755 88px,#ad305d 130px,#932667 178px,#9c2964 209px,#af315c 242px,#9f2a63 304px,#ba3655 366px,#a82e5f 403px,#962766 441px,#9b2865 491px)"></i><i style="background:linear-gradient(90deg,#a42c61 0px,#b2325a 106px,#a42c61 187px,#9f2a63 232px,#a92e5f 313px,#bf3952 365px,#ad305d 403px,#9a2865 444px,#9d2964 491px)"></i><i style="background:linear-gradient(90deg,#a92e5e 0px,#ab2f5e 85px,#bd3853 147px,#c13b50 174px,#982766 230px,#9b2865 262px,#c13a51 352px,#b93656 389px,#a22b62 439px,#a42c61 491px)"></i><i style="background:linear-gradient(90deg,#b2325a 0px,#a72d5f 73px,#bd3853 126px,#d94d3d 166px,#cc4249 188px,#942667 228px,#8e2469 250px,#b93656 305px,#c43c4f 365px,#aa2f5e 440px,#ae305c 491px)"></i><i style="background:linear-gradient(90deg,#b93656 0px,#ac2f5d 72px,#c53d4e 122px,#e75e2e 163px,#e25833 181px,#c23b50 203px,#8f2469 230px,#83206b 248px,#9e2a63 272px,#bd3853 299px,#c83f4c 347px,#b33359 445px,#b73557 491px)"></i><i style="background:linear-gradient(90deg,#be3853 0px,#b73557 76px,#d44842 128px,#ef6d22 164px,#eb6528 180px,#cf4446 200px,#932567 225px,#7a1d6d 241px,#7e1e6c 256px,#bc3754 294px,#cb4149 326px,#c63d4d 389px,#ba3655 451px,#bd3853 491px)"></i><i style="background:linear-gradient(90deg,#bf3952 0px,#c63d4d 84px,#dd513a 132px,#f1731d 166px,#ec6726 182px,#d24644 200px,#8f2469 224px,#6f196e 240px,#6f196e 253px,#932567 272px,#bb3755 294px,#cc4248 322px,#cc4149 389px,#bd3853 463px,#bf3952 491px)"></i><i style="background:linear-gradient(90deg,#be3853 0px,#da4e3c 126px,#f06f20 168px,#e8612c 185px,#c93f4b 203px,#88226a 224px,#62146e 240px,#62146e 254px,#912568 275px,#b73557 294px,#cc4149 323px,#d14644 384px,#b93656 467px,#bc3754 491px)"></i><i style="background:linear-gradient(90deg,#bb3755 0px,#d24644 60px,#da4e3c 131px,#ec6726 168px,#e45932 186px,#c43c4e 203px,#801f6c 224px,#59106e 239px,#520e6d 251px,#711a6e 267px,#ab2f5e 290px,#c43c4f 312px,#d24644 369px,#c13a50 423px,#b43359 465px,#bb3755 491px)"></i><i style="background:linear-gradient(90deg,#b93656 0px,#d34743 49px,#d44842 131px,#e65d2f 171px,#d54a41 192px,#ad305c 209px,#6b176e 228px,#490b6a 242px,#490b6a 253px,#6b176e 268px,#a82e5f 291px,#c13a51 314px,#cd4248 369px,#bc3754 420px,#ae305c 463px,#b93556 491px)"></i><i style="background:linear-gradient(90deg,#b93556 0px,#d24743 47px,#c9404b 124px,#de5238 172px,#ce4347 192px,#a92e5e 208px,#67166e 227px,#420a68 241px,#3e0966 251px,#59106e 264px,#9d2964 288px,#b83556 307px,#c73e4c 353px,#bc3754 403px,#a92e5f 456px,#b73557 491px)"></i><i style="background:linear-gradient(90deg,#b73557 0px,#ce4347 45px,#c23b50 125px,#d44842 173px,#c23b50 194px,#972766 212px,#550f6d 231px,#3c0965 243px,#3e0966 254px,#6d186e 272px,#a22b62 292px,#b93656 315px,#bf3952 362px,#a62d60 454px,#b73557 491px)"></i><i style="background:linear-gradient(90deg,#b73557 0px,#c83f4b 50px,#bc3754 125px,#ca404a 175px,#b53458 197px,#84206b 216px,#480b6a 236px,#3a0964 247px,#4b0c6b 260px,#8a226a 282px,#ac2f5d 301px,#ba3655 331px,#ae305c 404px,#a92e5f 458px,#b73557 491px)"></i><i style="background:linear-gradient(90deg,#b83556 0px,#c13a50 53px,#b93556 130px,#be3952 176px,#a92e5f 199px,#721a6e 221px,#470b6a 239px,#430a68 251px,#62146e 267px,#9c2964 291px,#b0315b 312px,#b1325a 369px,#ab2f5e 444px,#b83556 491px)"></i><i style="background:linear-gradient(90deg,#bb3755 0px,#b93656 75px,#b3325a 142px,#ae305c 182px,#932567 206px,#530e6d 236px,#4c0c6b 249px,#67166e 266px,#9b2865 290px,#ad305c 314px,#ac2f5d 431px,#bb3755 491px)"></i><i style="background:linear-gradient(90deg,#be3853 0px,#b43359 78px,#9b2964 187px,#801f6c 213px,#59116e 240px,#60136e 255px,#9f2a63 292px,#ab2f5e 317px,#a62d60 405px,#be3853 491px)"></i><i style="background:linear-gradient(90deg,#c03a51 0px,#b53458 64px,#801f6c 210px,#6b176e 242px,#7c1d6d 262px,#a32c61 293px,#aa2f5e 325px,#a12b62 396px,#c13a51 491px)"></i><i style="background:linear-gradient(90deg,#c13a50 0px,#b93656 55px,#8f2469 136px,#801f6c 175px,#89226a 251px,#aa2f5e 297px,#a62d60 345px,#9f2a63 394px,#c13a50 491px)"></i><i style="background:linear-gradient(90deg,#c03a51 0px,#bf3952 47px,#9f2a63 104px,#771c6d 155px,#7b1d6d 185px,#a62d60 245px,#af315c 310px,#9f2a63 397px,#c13a51 491px)"></i><i style="background:linear-gradient(90deg,#bf3952 0px,#c03a51 50px,#a32c61 98px,#71196e 149px,#721a6e 174px,#9c2964 210px,#bb3755 237px,#bc3854 267px,#a22b62 391px,#b93656 476px,#bf3952 491px)"></i><i style="background:linear-gradient(90deg,#bc3754 0px,#be3853 56px,#a32c61 97px,#6e186e 145px,#6f196e 168px,#932567 196px,#c63d4d 231px,#ca404a 255px,#b0315b 313px,#a72d5f 397px,#bd3853 491px)"></i><i style="background:linear-gradient(90deg,#b93656 0px,#b93656 61px,#9e2a63 101px,#6d186e 144px,#70196e 165px,#962766 192px,#c83f4b 223px,#d24743 245px,#b1325a 308px,#b0315b 402px,#bb3755 491px)"></i><i style="background:linear-gradient(90deg,#b63457 0px,#b33359 70px,#992865 107px,#70196e 146px,#741a6e 164px,#9d2964 190px,#d04545 218px,#db4f3b 240px,#c63e4d 271px,#b2325a 306px,#b93556 464px,#b83556 491px)"></i><i style="background:linear-gradient(90deg,#b43359 0px,#b0315b 81px,#992865 113px,#751b6e 147px,#7c1d6d 166px,#a52c60 189px,#db503b 216px,#e75f2d 235px,#d94d3d 259px,#b93556 291px,#b43359 329px,#bf3952 424px,#b53458 491px)"></i><i style="background:linear-gradient(90deg,#b3325a 0px,#b2325a 91px,#972766 122px,#7c1d6d 150px,#83206b 168px,#ad305d 189px,#e35932 213px,#f2741c 231px,#f06f21 245px,#d14644 271px,#b73557 296px,#b93556 335px,#c43c4f 403px,#b3325a 491px)"></i><i style="background:linear-gradient(90deg,#b53458 0px,#b73557 97px,#992865 128px,#801f6c 153px,#89226a 171px,#b3325a 190px,#e55b31 209px,#f8860e 227px,#f98a0c 239px,#ef6d22 255px,#cc4149 277px,#b63458 300px,#bb3755 337px,#c43c4e 396px,#b33359 491px)"></i><i style="background:linear-gradient(90deg,#b83556 0px,#bf3952 95px,#a32c61 125px,#83206b 153px,#8a226a 171px,#ad305c 188px,#dc503a 204px,#f67f13 219px,#fb9706 231px,#fa9207 243px,#e75f2d 263px,#c63d4d 282px,#b43359 303px,#c43c4f 386px,#b63457 491px)"></i><i style="background:linear-gradient(90deg,#bb3755 0px,#c43c4e 91px,#af315c 119px,#87216b 153px,#8b236a 171px,#af315c 189px,#dd5139 205px,#f78410 221px,#fb9706 234px,#f98b0b 246px,#e45932 265px,#c43c4f 283px,#b3325a 304px,#c23b50 381px,#b53458 468px,#b73557 491px)"></i><i style="background:linear-gradient(90deg,#bb3755 0px,#ca404a 87px,#b43359 119px,#8e2469 153px,#922568 173px,#b1325a 190px,#e15734 209px,#f68112 226px,#f8870e 238px,#ef6d22 254px,#cd4248 274px,#b33359 296px,#b63458 327px,#c13a51 377px,#af315c 458px,#b43359 491px)"></i><i style="background:linear-gradient(90deg,#b93656 0px,#ce4347 84px,#bf3952 115px,#982765 155px,#9c2964 175px,#be3853 196px,#e8612c 219px,#f06f20 234px,#e9612b 250px,#c13a50 276px,#ae305c 299px,#bc3754 378px,#a52c60 455px,#ad305c 491px)"></i><i style="background:linear-gradient(90deg,#b63457 0px,#d04545 84px,#c23b50 118px,#a32c61 159px,#ab2f5e 183px,#dd5239 224px,#db4f3b 245px,#af315c 285px,#ab2f5e 315px,#b73557 378px,#9b2865 453px,#a62d60 491px)"></i><i style="background:linear-gradient(90deg,#b63457 0px,#d04545 91px,#bd3853 134px,#ad305c 172px,#c53d4d 232px,#a62d60 294px,#b2325a 381px,#942667 450px,#a22b62 491px)"></i><i style="background:linear-gradient(90deg,#ba3655 0px,#cc4149 104px,#b0315b 193px,#a42c61 264px,#b0315b 383px,#932667 450px,#a22b62 491px)"></i><i style="background:linear-gradient(90deg,#bf3952 0px,#c13a50 72px,#c63d4d 132px,#ad305d 192px,#88226a 233px,#8f2468 255px,#ad305c 293px,#b43359 380px,#992865 449px,#a72d5f 491px)"></i><i style="background:linear-gradient(90deg,#c03a51 0px,#b63457 63px,#c63d4d 136px,#b73557 178px,#932667 204px,#6d186e 229px,#6f196e 245px,#b1325a 287px,#be3853 322px,#b53458 398px,#a02a62 451px,#aa2f5e 491px)"></i><i style="background:linear-gradient(90deg,#be3853 0px,#b0315b 62px,#c83f4c 142px,#b93656 177px,#942667 199px,#58106d 225px,#510e6c 238px,#6a176e 254px,#b0315b 283px,#c43c4e 304px,#c13a50 376px,#a72d5f 455px,#ad305d 491px)"></i><i style="background:linear-gradient(90deg,#b93656 0px,#b0315b 60px,#cd4248 140px,#c13a51 172px,#9f2a63 192px,#5d126e 214px,#380a62 230px,#3a0a63 241px,#5b116e 255px,#9f2a63 276px,#bf3952 293px,#cc4149 320px,#bb3755 410px,#ac2f5d 460px,#ad305d 491px)"></i><i style="background:linear-gradient(90deg,#b83556 0px,#b63458 62px,#d54941 133px,#ca404a 165px,#b0315b 184px,#731a6e 204px,#400a67 218px,#230c4c 230px,#220c4b 239px,#3b0964 250px,#6e186e 264px,#ad305d 283px,#c83f4c 302px,#cb4149 343px,#b83556 426px,#af315c 477px,#af315c 491px)"></i><i style="background:linear-gradient(90deg,#b93656 0px,#c13a50 69px,#de5238 128px,#d44842 159px,#b83556 180px,#8b236a 196px,#4c0c6b 212px,#280b53 222px,#160b39 231px,#170b3b 239px,#2e0a5a 249px,#550f6d 259px,#972766 276px,#bb3755 290px,#cd4248 309px,#c43c4f 392px,#b3325a 472px,#b43359 491px)"></i><i style="background:linear-gradient(90deg,#be3853 0px,#d04545 79px,#e55c30 128px,#da4e3c 157px,#bc3754 179px,#88226a 197px,#4c0c6b 212px,#280b53 222px,#170b3b 232px,#1c0c43 241px,#380962 251px,#66166e 262px,#ad305c 281px,#cc4149 298px,#d24743 328px,#b83556 466px,#bb3755 491px)"></i><i style="background:linear-gradient(90deg,#c13a50 0px,#db503b 90px,#e8602d 131px,#d64a40 164px,#b43359 184px,#751b6e 204px,#400a67 219px,#290b53 232px,#310a5b 242px,#5e136e 256px,#a12b62 273px,#c83f4b 288px,#d94d3d 308px,#cc4248 367px,#b93556 453px,#bf3952 491px)"></i><i style="background:linear-gradient(90deg,#c13a51 0px,#d74b3f 71px,#e65c30 132px,#d34743 167px,#b1325a 188px,#6d186e 212px,#4d0d6b 227px,#4d0d6b 239px,#711a6e 254px,#b63458 274px,#d44842 289px,#e05536 312px,#c33b4f 390px,#b43359 453px,#c03a51 491px)"></i><i style="background:linear-gradient(90deg,#bc3754 0px,#d24644 52px,#dd513a 141px,#c73e4c 177px,#982865 204px,#721a6e 225px,#741b6d 240px,#9c2964 258px,#cf4446 279px,#e15734 299px,#de5238 331px,#b33359 412px,#ad305d 457px,#bc3754 491px)"></i><i style="background:linear-gradient(90deg,#b33359 0px,#ca404a 51px,#ce4447 152px,#ba3655 190px,#972766 226px,#a12b62 245px,#d94d3d 281px,#e25734 307px,#c83f4b 363px,#a42c61 430px,#a72d5f 471px,#b33359 491px)"></i><i style="background:linear-gradient(90deg,#ab2f5e 0px,#bf3952 57px,#bf3952 189px,#b93655 229px,#de5238 291px,#d04545 339px,#a12b62 422px,#9f2a63 467px,#aa2f5e 491px)"></i><i style="background:linear-gradient(90deg,#a62d60 0px,#b53458 79px,#be3853 172px,#db503b 250px,#d14644 315px,#a22b62 420px,#a42c61 485px,#a62d60 491px)"></i><i style="background:linear-gradient(90deg,#a72d5f 0px,#b73557 156px,#d44842 203px,#ec6727 235px,#e65d2f 257px,#ce4347 298px,#ad305d 390px,#a72d5f 491px)"></i><i style="background:linear-gradient(90deg,#ad305c 0px,#ad305c 57px,#b63457 150px,#d44842 193px,#f06f21 219px,#f68112 234px,#f2741c 250px,#d54a41 278px,#b63458 324px,#ad305c 377px,#b43359 467px,#ad305c 491px)"></i><i style="background:linear-gradient(90deg,#b33359 0px,#b0315b 43px,#b83556 109px,#bd3853 155px,#d84c3e 191px,#ef6c23 210px,#fa9108 227px,#fa9507 239px,#f57b17 253px,#d64a40 275px,#b63458 305px,#a62d60 346px,#b63458 411px,#bf3952 459px,#b43359 491px)"></i><i style="background:linear-gradient(90deg,#b73557 0px,#b73557 44px,#c13a51 97px,#c13a51 154px,#da4e3d 189px,#f06f20 207px,#fb9607 221px,#fca80d 232px,#fb9d07 244px,#f78410 253px,#da4e3d 272px,#b73557 294px,#a02a62 330px,#a42c61 370px,#c13a50 443px,#b83556 491px)"></i><i style="background:linear-gradient(90deg,#b93556 0px,#bf3952 48px,#c83f4b 101px,#c13a50 151px,#d94d3d 187px,#ee6b23 204px,#fb9706 218px,#fcb216 230px,#fcaf14 240px,#fa9407 250px,#e35933 267px,#c33b4f 283px,#a22b62 312px,#992865 348px,#bf3952 434px,#b93556 491px)"></i><i style="background:linear-gradient(90deg,#bb3755 0px,#c93f4b 61px,#cc4149 104px,#bf3952 149px,#d24743 183px,#e9622b 201px,#fb9606 217px,#fcae12 225px,#fbbb20 235px,#fca40a 247px,#f98d09 253px,#df5337 269px,#c03a51 284px,#a22b62 310px,#972766 342px,#ab2f5e 384px,#bf3952 434px,#bb3755 491px)"></i><i style="background:linear-gradient(90deg,#bf3952 0px,#d04545 91px,#b93556 149px,#c9404b 180px,#e35933 199px,#fb9506 217px,#fcab10 224px,#fbbc21 234px,#fcb418 242px,#fb9a06 250px,#f47918 258px,#d64a40 273px,#b33359 293px,#982766 328px,#9c2964 359px,#be3853 417px,#be3853 491px)"></i><i style="background:linear-gradient(90deg,#c33b4f 0px,#d24644 90px,#b0315b 148px,#bd3853 175px,#da4e3c 196px,#f47819 211px,#fb9a06 220px,#fcb519 230px,#fbb71c 239px,#fb9906 250px,#f2751b 259px,#d74b3f 273px,#b63458 292px,#992865 331px,#9f2a63 362px,#c13a51 417px,#c33b4f 491px)"></i><i style="background:linear-gradient(90deg,#c63e4d 0px,#d34743 88px,#b93656 123px,#a82e5f 149px,#b93656 177px,#d94c3e 197px,#f57c16 213px,#fb9a06 221px,#fcb519 233px,#fcab10 243px,#fb9606 250px,#e35833 267px,#c33b4f 283px,#a22b62 315px,#992865 346px,#c43c4e 422px,#c63e4d 491px)"></i><i style="background:linear-gradient(90deg,#c83f4b 0px,#d44842 86px,#bf3952 116px,#a52c60 145px,#b0315b 170px,#d54a41 196px,#f2751b 212px,#fb9706 222px,#fcae13 234px,#fca209 244px,#f98c0a 251px,#db503b 269px,#b93656 288px,#9b2865 325px,#992865 354px,#c53d4e 426px,#c83f4b 491px)"></i><i style="background:linear-gradient(90deg,#c83f4c 0px,#d54a41 84px,#c13a50 114px,#a62d60 144px,#ae305c 168px,#d54941 196px,#f1711f 212px,#fb9706 225px,#fca309 235px,#fa9108 246px,#e45932 263px,#c03a51 280px,#a02a62 308px,#902568 342px,#a32c61 380px,#c03a51 425px,#c83f4c 491px)"></i><i style="background:linear-gradient(90deg,#c43c4e 0px,#d64a40 84px,#c23b50 116px,#a92e5e 144px,#b0315b 168px,#d24743 196px,#f3761b 217px,#fa9108 232px,#f8860e 244px,#e15635 261px,#bd3853 278px,#9d2964 304px,#8b236a 341px,#9c2964 377px,#bc3754 429px,#c43c4f 491px)"></i><i style="background:linear-gradient(90deg,#bf3952 0px,#d74b3f 84px,#c73e4c 116px,#af315c 148px,#bb3755 177px,#da4e3c 203px,#f47918 227px,#f47918 240px,#de5338 258px,#b63458 278px,#952667 309px,#89226a 342px,#9b2964 380px,#b63457 428px,#bf3952 491px)"></i><i style="background:linear-gradient(90deg,#b93556 0px,#d94c3e 85px,#c83f4b 121px,#b63457 153px,#c63d4d 188px,#e75e2e 219px,#ed6925 235px,#db4f3b 254px,#b0315b 278px,#962766 308px,#8d2369 345px,#b53458 424px,#b93556 491px)"></i><i style="background:linear-gradient(90deg,#b3325a 0px,#d74b3f 73px,#d74b3f 108px,#bf3952 158px,#cc4149 197px,#e35932 231px,#d44842 252px,#ab2f5e 280px,#972766 318px,#9b2964 357px,#b83556 414px,#b3325a 491px)"></i><i style="background:linear-gradient(90deg,#af315c 0px,#c13a51 38px,#dd5139 87px,#d74b3f 125px,#c83f4c 174px,#d44842 214px,#d64a40 239px,#a92e5e 282px,#a12b62 324px,#ad305d 364px,#c13a51 411px,#b2325a 469px,#af315c 491px)"></i><i style="background:linear-gradient(90deg,#ae305c 0px,#bd3853 35px,#e15635 85px,#e15734 125px,#cc4248 197px,#ca404a 239px,#aa2f5e 286px,#b3325a 352px,#c9404b 409px,#bb3755 455px,#ae305c 491px)"></i><i style="background:linear-gradient(90deg,#b0315b 0px,#bc3754 32px,#e65e2e 88px,#ec6727 124px,#d64a40 183px,#ae305c 277px,#c33b4f 372px,#cd4248 417px,#b0315b 491px)"></i><i style="background:linear-gradient(90deg,#b33359 0px,#bd3853 31px,#e65e2e 82px,#f3761b 120px,#f06f21 149px,#cf4446 199px,#aa2f5e 245px,#b33359 286px,#c33b4f 333px,#c83f4c 383px,#cb4149 431px,#b2325a 491px)"></i><i style="background:linear-gradient(90deg,#b53458 0px,#be3853 32px,#e45932 78px,#f67f13 122px,#f57b17 149px,#de5238 186px,#a52c60 228px,#9a2865 248px,#d04545 320px,#c43c4f 377px,#c63e4d 441px,#b3325a 491px)"></i><i style="background:linear-gradient(90deg,#b63458 0px,#bb3755 32px,#e05536 78px,#f67e14 123px,#f57d15 148px,#e05536 183px,#b63458 210px,#8a226a 234px,#8a226a 251px,#cc4248 298px,#de5238 324px,#c23b50 373px,#bd3853 459px,#b2325a 491px)"></i><i style="background:linear-gradient(90deg,#b63458 0px,#b93656 35px,#df5337 85px,#f3761b 129px,#f06f20 154px,#d74b3f 186px,#a92e5f 210px,#781c6d 231px,#731a6e 245px,#8c2369 261px,#c43c4e 287px,#e65d2f 316px,#e55c30 333px,#c63e4d 364px,#ba3655 410px,#b53458 477px,#b0315b 491px)"></i><i style="background:linear-gradient(90deg,#b63457 0px,#b83556 39px,#de5338 97px,#eb6628 135px,#e15734 166px,#c23b50 193px,#89226a 216px,#63146e 233px,#64156e 247px,#922568 266px,#c73e4c 287px,#ea632a 313px,#ed6925 327px,#d14644 355px,#b83556 395px,#b43359 448px,#b0315b 491px)"></i><i style="background:linear-gradient(90deg,#b93556 0px,#b63457 43px,#df5337 126px,#d94d3d 159px,#bc3854 189px,#932567 208px,#57106d 231px,#530e6d 243px,#6a176e 255px,#aa2f5e 275px,#d94c3e 297px,#ed6a24 319px,#eb6528 333px,#cb4149 362px,#ac2f5d 419px,#af315c 491px)"></i><i style="background:linear-gradient(90deg,#ba3655 0px,#b2325a 39px,#d24743 131px,#c33c4f 170px,#a62d60 195px,#6a176e 219px,#4d0c6b 233px,#4d0c6b 244px,#6e186e 258px,#b63457 281px,#dd5139 304px,#ea6429 323px,#e05536 341px,#c63d4d 369px,#a12b62 427px,#ad305d 491px)"></i><i style="background:linear-gradient(90deg,#b83556 0px,#b0315b 48px,#c63d4d 130px,#b0315b 179px,#932567 201px,#510e6d 228px,#490b6a 240px,#5d126e 253px,#a02a62 274px,#c83f4c 293px,#e15734 320px,#da4e3c 340px,#bf3952 376px,#952667 428px,#9f2a63 465px,#a82e5f 491px)"></i><i style="background:linear-gradient(90deg,#b43359 0px,#b0315b 53px,#bc3754 127px,#a02a62 187px,#7e1e6c 209px,#4f0d6c 232px,#4f0d6c 244px,#7a1d6d 262px,#ae305c 282px,#d04545 311px,#d44842 333px,#ae305c 391px,#88226a 427px,#8c2369 454px,#a22b62 491px)"></i><i style="background:linear-gradient(90deg,#b0315b 0px,#b33359 68px,#b53458 127px,#942667 194px,#56106d 233px,#59116e 246px,#962766 273px,#b2325a 290px,#c63e4d 326px,#b0315b 383px,#7e1e6c 427px,#801f6c 452px,#9e2a63 491px)"></i><i style="background:linear-gradient(90deg,#ad305c 0px,#b63458 109px,#902568 197px,#61146e 234px,#69166e 249px,#a42c61 284px,#b73557 322px,#ad305c 377px,#7a1d6d 428px,#7d1e6d 453px,#9d2964 491px)"></i><i style="background:linear-gradient(90deg,#ab2f5e 0px,#b63457 94px,#8f2468 200px,#71196e 236px,#7f1e6c 256px,#a22b62 284px,#b0315b 339px,#a92e5e 380px,#7d1e6d 429px,#82206c 455px,#9e2a63 491px)"></i><i style="background:linear-gradient(90deg,#a92e5e 0px,#b63458 83px,#a02a63 156px,#8b236a 219px,#88226a 245px,#a82e5f 290px,#b1325a 372px,#87216b 432px,#8f2469 463px,#a12b62 491px)"></i><i style="background:linear-gradient(90deg,#a92e5e 0px,#b33359 85px,#9b2964 189px,#a22b62 249px,#b33359 318px,#b73557 374px,#922568 438px,#a22b62 486px,#a42c61 491px)"></i><i style="background:linear-gradient(90deg,#aa2f5e 0px,#b2325a 101px,#9f2a63 181px,#b43359 232px,#b93656 265px,#bf3952 340px,#bc3754 383px,#9f2a63 441px,#a82e5f 491px)"></i><i style="background:linear-gradient(90deg,#ae305c 0px,#b0315b 127px,#a32c61 178px,#b73557 214px,#cd4348 243px,#bc3754 297px,#c63d4d 366px,#ab2f5e 445px,#ad305c 491px)"></i><i style="background:linear-gradient(90deg,#b43359 0px,#b3325a 85px,#b0315b 140px,#a72d5f 180px,#c13a50 214px,#da4e3c 240px,#ce4447 263px,#bd3853 291px,#c83f4b 365px,#b53458 446px,#b43359 491px)"></i><i style="background:linear-gradient(90deg,#ba3655 0px,#ad305d 66px,#b1325a 136px,#a52c60 177px,#ba3655 205px,#e05536 237px,#da4e3d 256px,#bb3755 285px,#bc3754 317px,#ca404a 363px,#be3853 445px,#ba3655 491px)"></i><i style="background:linear-gradient(90deg,#bd3853 0px,#a62d60 63px,#ab2f5e 138px,#9d2964 177px,#b2325a 202px,#e05536 236px,#dd5139 252px,#b63458 283px,#b0315b 309px,#cc4149 361px,#be3853 490px,#bd3853 491px)"></i><i style="background:linear-gradient(90deg,#bb3755 0px,#9c2964 62px,#a12b62 137px,#8e2469 176px,#a22b62 198px,#db4f3b 235px,#d94d3d 252px,#ad305d 286px,#a92e5f 310px,#ce4447 364px,#c13a51 482px,#bc3754 491px)"></i><i style="background:linear-gradient(90deg,#b63458 0px,#932567 59px,#952667 105px,#942667 139px,#7e1e6c 174px,#8f2468 196px,#d04545 234px,#d04545 253px,#a32c61 290px,#a32c61 314px,#cf4446 362px,#ce4447 410px,#b83556 488px,#b63457 491px)"></i><i style="background:linear-gradient(90deg,#ad305c 0px,#8a226a 60px,#8e2469 109px,#8c2369 138px,#711a6e 175px,#83206b 196px,#c33c4f 236px,#c43c4e 254px,#9c2964 295px,#9f2a63 315px,#ce4447 361px,#d14644 400px,#af315c 490px,#ad305c 491px)"></i><i style="background:linear-gradient(90deg,#a62d60 0px,#85216b 65px,#8b236a 132px,#6e186e 175px,#7c1e6d 196px,#b73557 238px,#b63458 259px,#9b2865 298px,#a32c61 321px,#ca404a 360px,#cd4248 399px,#a62d60 491px)"></i><i style="background:linear-gradient(90deg,#a32c61 0px,#89226a 71px,#8e2469 134px,#741b6e 177px,#85216b 201px,#b0315b 241px,#ad305d 268px,#9f2a63 304px,#b63457 337px,#c83f4b 367px,#c13a51 410px,#a32c61 491px)"></i><i style="background:linear-gradient(90deg,#a62d60 0px,#962766 80px,#9a2865 134px,#85216b 177px,#922568 204px,#b0315b 247px,#ac2f5d 312px,#c53d4e 362px,#a92e5f 462px,#a62d60 491px)"></i><i style="background:linear-gradient(90deg,#ad305c 0px,#aa2f5e 106px,#a52c60 148px,#992865 183px,#b93556 262px,#be3853 322px,#c53d4e 361px,#a52c60 437px,#ac2f5d 491px)"></i><i style="background:linear-gradient(90deg,#b63457 0px,#bc3754 67px,#b63458 145px,#ac2f5d 190px,#c83f4c 289px,#ca404a 353px,#a22b62 424px,#a82e5f 463px,#b33359 491px)"></i><i style="background:linear-gradient(90deg,#be3853 0px,#cc4249 50px,#c43c4f 136px,#b73557 192px,#cc4149 260px,#d54941 319px,#c83f4b 362px,#a22b62 420px,#a72d5f 455px,#ba3655 491px)"></i><i style="background:linear-gradient(90deg,#c63e4d 0px,#d84c3e 57px,#cd4248 122px,#ba3655 188px,#c73e4c 245px,#da4e3d 292px,#d14644 344px,#a62d60 419px,#b0315b 459px,#c03a51 491px)"></i><i style="background:linear-gradient(90deg,#ce4347 0px,#df5337 59px,#d34743 111px,#b83556 182px,#c03a51 242px,#d94d3d 288px,#d24644 333px,#ae305c 411px,#b53458 452px,#c73e4c 491px)"></i><i style="background:linear-gradient(90deg,#d44842 0px,#e25734 60px,#d04545 112px,#b53458 175px,#b53458 245px,#d24743 285px,#d14644 323px,#b53458 385px,#b63457 433px,#ce4347 491px)"></i><i style="background:linear-gradient(90deg,#d74b3f 0px,#e05536 61px,#ca404a 113px,#b33359 164px,#a62d60 222px,#a52c60 247px,#ca404a 286px,#ce4447 321px,#b33359 374px,#ba3655 427px,#d24743 491px)"></i><i style="background:linear-gradient(90deg,#d74b3f 0px,#db4f3b 64px,#b2325a 151px,#a92e5f 208px,#912568 240px,#a12b62 259px,#c43c4f 289px,#ce4347 320px,#b1325a 371px,#bb3755 423px,#d44842 491px)"></i><i style="background:linear-gradient(90deg,#d54941 0px,#d24743 68px,#b0315b 149px,#aa2f5e 204px,#83206b 241px,#8f2468 257px,#bf3952 291px,#ce4447 318px,#bc3754 347px,#af315c 378px,#be3853 430px,#d24743 491px)"></i><i style="background:linear-gradient(90deg,#d04545 0px,#c83f4c 75px,#b0315b 148px,#af315c 201px,#962766 221px,#7c1d6d 239px,#82206c 254px,#c13a51 296px,#cf4446 319px,#bf3952 344px,#ac2f5d 372px,#b63458 418px,#ce4447 480px,#d04545 491px)"></i><i style="background:linear-gradient(90deg,#cc4248 0px,#b43359 152px,#b63458 198px,#9f2a63 217px,#7a1d6d 239px,#7e1e6c 253px,#c13a50 299px,#ce4447 320px,#bf3952 341px,#a82e5f 371px,#ad305d 410px,#cc4149 478px,#cc4149 491px)"></i><i style="background:linear-gradient(90deg,#c93f4b 0px,#b93556 127px,#bc3754 198px,#a32c61 218px,#7f1e6c 238px,#801f6c 252px,#c13a51 300px,#cc4149 322px,#a22b62 371px,#a62d60 410px,#c83f4c 477px,#c93f4b 491px)"></i><i style="background:linear-gradient(90deg,#c63e4d 0px,#ba3655 110px,#c23b50 193px,#ae305c 215px,#85216b 240px,#89226a 255px,#b93656 295px,#c83f4c 319px,#b83556 341px,#9f2a63 371px,#a02a62 412px,#c53d4e 480px,#c63e4d 491px)"></i><i style="background:linear-gradient(90deg,#c63d4d 0px,#bc3754 63px,#bc3754 121px,#c63e4d 187px,#b63457 212px,#8f2469 241px,#972766 259px,#bf3952 301px,#c43c4f 325px,#9b2964 377px,#9d2964 420px,#c63d4d 488px,#c63d4d 491px)"></i><i style="background:linear-gradient(90deg,#c63e4d 0px,#c23b50 49px,#b63457 103px,#c73e4c 182px,#bc3754 210px,#9b2964 242px,#a72d5f 264px,#c33b4f 312px,#ba3655 337px,#9a2865 383px,#992865 421px,#c63e4d 491px)"></i><i style="background:linear-gradient(90deg,#c83f4c 0px,#c63d4d 44px,#b43359 104px,#c63e4d 185px,#ba3655 217px,#a92e5e 243px,#c43c4f 314px,#b33359 347px,#972766 397px,#9b2964 430px,#c83f4c 491px)"></i><i style="background:linear-gradient(90deg,#c93f4b 0px,#c83f4b 41px,#b2325a 107px,#c53d4e 191px,#b93556 248px,#c53d4e 315px,#a62d60 368px,#972766 409px,#a42c61 440px,#c93f4b 491px)"></i><i style="background:linear-gradient(90deg,#cb4149 0px,#c83f4b 45px,#b2325a 111px,#c43c4f 219px,#c73e4c 310px,#b0315b 356px,#9a2865 402px,#a32c61 434px,#ca404a 490px,#ca404a 491px)"></i><i style="background:linear-gradient(90deg,#cc4149 0px,#c83f4b 47px,#b3325a 116px,#be3853 195px,#d34743 262px,#bd3853 334px,#9d2964 392px,#a12b62 425px,#cb4149 488px,#cc4149 491px)"></i><i style="background:linear-gradient(90deg,#cc4248 0px,#c73e4c 53px,#b3325a 125px,#ae305c 185px,#db4f3b 251px,#bc3754 333px,#9d2964 388px,#a22b62 422px,#cb4149 485px,#cc4248 491px)"></i><i style="background:linear-gradient(90deg,#cc4248 0px,#c53d4e 58px,#a92e5f 154px,#9c2964 180px,#b33359 205px,#e05536 247px,#dd513a 268px,#c23b50 318px,#9d2964 384px,#a42c61 419px,#ca404a 480px,#cc4248 491px)"></i><i style="background:linear-gradient(90deg,#cc4248 0px,#bf3952 72px,#a92e5e 145px,#8c2369 176px,#962766 193px,#cf4446 228px,#e65c30 250px,#e05536 268px,#c83f4c 302px,#9e2a63 382px,#a82e5f 419px,#ca404a 475px,#cc4248 491px)"></i><i style="background:linear-gradient(90deg,#ca404a 0px,#ad305c 139px,#7e1e6c 177px,#88226a 192px,#c23b50 222px,#e65c30 244px,#e8612c 260px,#ca404a 295px,#a02a63 372px,#a82e5f 410px,#c83f4b 468px,#ca404a 491px)"></i><i style="background:linear-gradient(90deg,#c63d4d 0px,#b53458 78px,#b43359 133px,#9c2964 153px,#781c6d 175px,#7a1d6d 188px,#a72d5f 211px,#e15635 239px,#eb6528 253px,#e25734 269px,#c43c4e 298px,#a02a62 361px,#a72d5f 400px,#c73e4c 464px,#c73e4c 491px)"></i><i style="background:linear-gradient(90deg,#c03a51 0px,#af315c 62px,#bb3755 130px,#a82e5f 149px,#781c6d 174px,#771c6d 188px,#a52c60 211px,#e15635 239px,#eb6528 253px,#e15635 269px,#c13a51 295px,#9c2964 351px,#a22b62 386px,#c43c4f 458px,#c03a51 491px)"></i><i style="background:linear-gradient(90deg,#ba3655 0px,#ad305d 57px,#c23b50 126px,#b43359 145px,#7a1d6d 175px,#7b1d6d 189px,#a52c60 211px,#df5337 239px,#e8612c 253px,#d84c3e 272px,#b33359 300px,#932667 344px,#982766 376px,#bc3754 444px,#bb3755 491px)"></i><i style="background:linear-gradient(90deg,#b63457 0px,#b0315b 59px,#c83f4c 125px,#b93556 146px,#801f6c 176px,#811f6c 190px,#b1325a 217px,#de5238 242px,#e35833 256px,#cd4248 275px,#a62d60 304px,#89226a 341px,#912568 372px,#b33359 430px,#b83556 489px,#b73557 491px)"></i><i style="background:linear-gradient(90deg,#b63457 0px,#b63457 59px,#ca404a 123px,#bc3754 146px,#87216b 176px,#88226a 192px,#bc3754 224px,#db4f3b 247px,#d64a40 263px,#a32c61 298px,#84206b 334px,#86216b 361px,#ae305c 420px,#b73557 488px,#b63457 491px)"></i><i style="background:linear-gradient(90deg,#b83556 0px,#bf3952 68px,#cb4149 123px,#b93656 147px,#8b236a 177px,#8e2469 195px,#c63d4d 234px,#d54941 252px,#c63d4d 270px,#942667 306px,#7f1e6c 339px,#8e2469 370px,#b0315b 415px,#b83556 491px)"></i><i style="background:linear-gradient(90deg,#bb3755 0px,#c63e4d 84px,#c73e4c 126px,#ad305c 154px,#8e2469 178px,#922568 197px,#cc4248 247px,#c63d4d 266px,#912568 309px,#84206b 339px,#932567 367px,#b53458 412px,#bb3755 491px)"></i><i style="background:linear-gradient(90deg,#be3853 0px,#c33b4f 121px,#aa2f5e 154px,#912568 180px,#9b2964 204px,#c73e4c 248px,#be3853 270px,#912568 318px,#8f2469 347px,#bc3754 410px,#be3853 491px)"></i><i style="background:linear-gradient(90deg,#be3853 0px,#bc3754 121px,#972766 181px,#a22b62 207px,#c33b4f 251px,#b63458 279px,#9a2865 323px,#9e2a63 351px,#c13a50 409px,#be3853 491px)"></i><i style="background:linear-gradient(90deg,#ba3655 0px,#b63458 125px,#9d2964 182px,#bf3952 258px,#a52c60 333px,#b73557 377px,#c43c4e 419px,#ba3655 491px)"></i><i style="background:linear-gradient(90deg,#b3325a 0px,#b3325a 130px,#a42c61 183px,#b93556 277px,#b0315b 344px,#c43c4f 415px,#b3325a 491px)"></i><i style="background:linear-gradient(90deg,#aa2f5e 0px,#ae305c 64px,#b63458 123px,#a92e5e 201px,#aa2f5e 249px,#ba3655 296px,#bc3754 365px,#c13a50 419px,#aa2f5e 491px)"></i><i style="background:linear-gradient(90deg,#a62d60 0px,#a62d60 51px,#b93656 116px,#a22b61 215px,#9a2865 244px,#bc3754 294px,#c13a50 418px,#a62d60 491px)"></i><i style="background:linear-gradient(90deg,#a42c61 0px,#a42c61 48px,#bc3754 119px,#a82e5f 199px,#8a226a 239px,#972766 259px,#bc3754 290px,#c43c4e 328px,#c23b50 418px,#a52c60 491px)"></i><i style="background:linear-gradient(90deg,#a82e5f 0px,#a62d60 48px,#bd3853 121px,#ad305d 191px,#8d2369 221px,#7d1e6c 241px,#8c2369 258px,#bd3853 289px,#ca404a 320px,#c43c4f 420px,#a82e5f 491px)"></i><i style="background:linear-gradient(90deg,#ae305c 0px,#af315c 62px,#bd3853 128px,#ad305c 193px,#88226a 222px,#731a6e 240px,#801f6c 256px,#bb3755 287px,#cb4149 312px,#c63d4d 418px,#ae305c 491px)"></i><i style="background:linear-gradient(90deg,#b43359 0px,#b83556 87px,#bb3755 155px,#ad305c 197px,#84206b 223px,#6c186e 240px,#751b6e 255px,#b83556 287px,#ca404a 310px,#c63e4d 414px,#b43359 491px)"></i><i style="background:linear-gradient(90deg,#b93656 0px,#b93656 183px,#a62d60 206px,#6a176e 237px,#6a176e 251px,#a82e5f 280px,#c13a50 300px,#c93f4b 356px,#b93656 491px)"></i><i style="background:linear-gradient(90deg,#bc3754 0px,#bb3755 189px,#a42c61 209px,#67166e 238px,#68166e 252px,#a52c60 281px,#bd3853 302px,#c53d4e 374px,#bc3754 483px,#bc3754 491px)"></i><i style="background:linear-gradient(90deg,#bc3754 0px,#bc3754 191px,#a42c61 210px,#69176e 237px,#67166e 251px,#8b236a 270px,#b2325a 292px,#c03a51 326px,#bf3952 404px,#bb3755 479px,#bc3754 491px)"></i><i style="background:linear-gradient(90deg,#b93656 0px,#bf3952 189px,#a82e5f 209px,#6c186e 238px,#6c186e 253px,#ae305c 289px,#bf3952 320px,#bf3952 393px,#b93656 481px,#b93656 491px)"></i><i style="background:linear-gradient(90deg,#b53458 0px,#b73557 73px,#c13a51 175px,#b63458 200px,#8c2369 224px,#71196e 241px,#761b6e 255px,#b33359 291px,#c43c4f 326px,#bf3952 396px,#b53458 491px)"></i><i style="background:linear-gradient(90deg,#b0315b 0px,#b0315b 64px,#c03a51 161px,#b93656 197px,#9a2865 220px,#7c1d6d 240px,#7f1e6c 254px,#bb3755 294px,#c93f4b 335px,#b0315b 491px)"></i><i style="background:linear-gradient(90deg,#ad305c 0px,#ab2f5e 60px,#c03a51 177px,#b73557 204px,#89226a 241px,#902568 258px,#be3853 293px,#cb4149 335px,#ad305c 491px)"></i><i style="background:linear-gradient(90deg,#aa2f5e 0px,#ad305c 93px,#c23b50 185px,#b63457 212px,#992865 243px,#a22b62 263px,#c23b50 299px,#c83f4c 341px,#b2325a 430px,#aa2f5e 491px)"></i><i style="background:linear-gradient(90deg,#aa2f5e 0px,#af315c 101px,#c53d4e 192px,#b73557 223px,#a92e5f 250px,#c33b4f 313px,#ba3655 361px,#a92e5f 428px,#aa2f5e 491px)"></i><i style="background:linear-gradient(90deg,#ac2f5d 0px,#b33359 108px,#c63e4d 204px,#b73557 261px,#bc3754 326px,#9f2a63 424px,#ac2f5d 491px)"></i><i style="background:linear-gradient(90deg,#af315c 0px,#b53458 54px,#ba3655 116px,#c63d4d 248px,#ad305d 350px,#982766 423px,#ac2f5d 486px,#ae305c 491px)"></i><i style="background:linear-gradient(90deg,#b0315b 0px,#b93656 50px,#ba3655 142px,#b63457 179px,#d04545 247px,#972766 389px,#972766 443px,#b0315b 491px)"></i><i style="background:linear-gradient(90deg,#af315c 0px,#b93656 52px,#b93656 129px,#a62d60 170px,#ba3655 205px,#da4e3c 241px,#d24644 267px,#a92e5e 329px,#902568 389px,#952667 442px,#af315c 491px)"></i><i style="background:linear-gradient(90deg,#ac2f5d 0px,#b83556 63px,#b93556 120px,#962766 166px,#a42c61 192px,#d54941 226px,#e45a31 247px,#d24644 273px,#ad305c 316px,#8f2468 375px,#912568 434px,#ab2f5e 491px)"></i><i style="background:linear-gradient(90deg,#a92e5f 0px,#b93656 96px,#b1325a 123px,#88226a 161px,#8e2469 180px,#b43359 206px,#e35933 232px,#eb6628 249px,#d74b3f 273px,#b53458 303px,#902568 365px,#922568 430px,#a82e5f 491px)"></i><i style="background:linear-gradient(90deg,#a82e5f 0px,#b93556 101px,#a92e5f 126px,#801f6c 159px,#84206b 177px,#b0315b 203px,#e15734 226px,#f1711f 243px,#ed6a24 257px,#c53d4e 287px,#a22b62 326px,#912568 370px,#a32c61 479px,#a72d5f 491px)"></i><i style="background:linear-gradient(90deg,#ab2f5e 0px,#bb3755 96px,#a82e5f 125px,#7c1e6d 158px,#7f1e6c 174px,#a42c61 197px,#d74b3f 218px,#f1711f 235px,#f57b17 246px,#ef6e21 259px,#c83f4b 285px,#a92e5f 313px,#932667 357px,#9e2a63 412px,#ab2f5e 491px)"></i><i style="background:linear-gradient(90deg,#b2325a 0px,#bf3952 91px,#ad305c 121px,#801f6c 156px,#82206c 174px,#a22b62 195px,#d74b3f 217px,#f1731d 234px,#f67e14 245px,#f2731d 257px,#ca404a 283px,#a82e5f 309px,#912568 349px,#9a2865 386px,#ac2f5d 436px,#b1325a 491px)"></i><i style="background:linear-gradient(90deg,#b93656 0px,#c43c4f 87px,#b2325a 119px,#85216b 157px,#88226a 175px,#b1325a 201px,#e05536 222px,#f37819 239px,#f37819 252px,#db4f3b 273px,#b33359 295px,#922568 331px,#8c2369 361px,#b43359 432px,#b93556 491px)"></i><i style="background:linear-gradient(90deg,#c13a51 0px,#c73e4c 85px,#b2325a 121px,#8c2369 158px,#912568 179px,#b53458 204px,#e45932 227px,#f1721e 244px,#eb6628 259px,#bf3952 287px,#942667 321px,#86216b 352px,#9a2865 386px,#ba3655 431px,#c03a51 491px)"></i><i style="background:linear-gradient(90deg,#c83f4c 0px,#c83f4b 88px,#aa2f5e 132px,#922568 163px,#9b2964 188px,#c73e4c 215px,#e9612b 237px,#eb6528 253px,#cf4446 277px,#9f2a63 310px,#86216b 343px,#8e2469 371px,#bd3853 427px,#c83f4c 491px)"></i><i style="background:linear-gradient(90deg,#cf4446 0px,#ca404a 88px,#a92e5e 137px,#972766 169px,#a22b62 194px,#cf4446 223px,#e55c30 244px,#e05536 262px,#ad305c 301px,#8c2369 338px,#8f2469 366px,#c33b4f 427px,#ce4447 489px,#ce4447 491px)"></i><i style="background:linear-gradient(90deg,#d44842 0px,#ca404a 92px,#9d2964 170px,#a32c61 195px,#d24644 230px,#de5238 252px,#c93f4b 279px,#982766 327px,#912568 355px,#b1325a 396px,#cc4149 438px,#d44842 491px)"></i><i style="background:linear-gradient(90deg,#d54a41 0px,#c63e4d 99px,#a12b62 177px,#ad305d 205px,#d24743 244px,#cc4149 270px,#9b2865 332px,#9a2865 360px,#cb4149 430px,#d54941 491px)"></i><i style="background:linear-gradient(90deg,#d34743 0px,#bd3853 118px,#a62d60 182px,#b0315b 213px,#c63d4d 251px,#b73557 290px,#9d2964 341px,#a72d5f 374px,#c93f4b 429px,#d24743 491px)"></i><i style="background:linear-gradient(90deg,#ce4347 0px,#b2325a 145px,#a72d5f 202px,#b73557 273px,#9f2a63 350px,#bc3754 404px,#ce4447 464px,#ce4347 491px)"></i><i style="background:linear-gradient(90deg,#ca404a 0px,#b93556 70px,#ac2f5d 171px,#a22b62 240px,#b0315b 293px,#a02a63 355px,#ca404a 443px,#ca404a 491px)"></i><i style="background:linear-gradient(90deg,#c83f4b 0px,#b33359 73px,#ad305c 173px,#912568 241px,#ad305c 293px,#a02a63 357px,#ca404a 442px,#c93f4b 491px)"></i><i style="background:linear-gradient(90deg,#ca404a 0px,#b3325a 74px,#b1325a 171px,#89226a 226px,#84206b 247px,#a92e5f 290px,#a12b62 333px,#a32c61 368px,#cb4149 438px,#ca404a 491px)"></i><i style="background:linear-gradient(90deg,#c83f4c 0px,#b1325a 91px,#b83556 142px,#b63457 173px,#912568 212px,#771c6d 238px,#7f1e6c 256px,#a42c61 288px,#a32c61 325px,#a42c61 366px,#c93f4b 436px,#c83f4b 491px)"></i><i style="background:linear-gradient(90deg,#c43c4e 0px,#b1325a 104px,#c23b50 166px,#a82e5f 196px,#6e186e 237px,#70196e 252px,#a12b62 289px,#a92e5e 368px,#c63d4d 442px,#c53d4e 491px)"></i><i style="background:linear-gradient(90deg,#c03a51 0px,#b3325a 109px,#cc4149 163px,#b63457 191px,#781c6d 226px,#64156e 243px,#71196e 259px,#9e2a63 289px,#a82e5f 328px,#bf3952 459px,#c03a51 491px)"></i><i style="background:linear-gradient(90deg,#bc3754 0px,#b63458 111px,#d34743 162px,#c53d4e 186px,#982766 212px,#65156e 236px,#61146e 251px,#8b236a 276px,#a42c61 297px,#b83556 387px,#bc3754 491px)"></i><i style="background:linear-gradient(90deg,#ba3655 0px,#b83556 112px,#d74b3f 162px,#cb4149 186px,#a52c60 209px,#67166e 236px,#60136e 249px,#781c6d 266px,#a32c61 291px,#b63457 335px,#bb3755 392px,#b3325a 450px,#ba3655 491px)"></i><i style="background:linear-gradient(90deg,#bb3755 0px,#bc3754 59px,#b93656 110px,#d94c3e 164px,#ca404a 189px,#a52c60 211px,#6d186e 236px,#66166e 249px,#7c1e6d 265px,#a92e5e 290px,#b93656 319px,#bf3952 382px,#b2325a 452px,#bb3755 491px)"></i><i style="background:linear-gradient(90deg,#be3853 0px,#bc3754 66px,#ba3655 112px,#d44842 165px,#c63e4d 192px,#9f2a63 216px,#761b6d 238px,#761b6d 252px,#b73557 292px,#c23b50 324px,#bb3755 407px,#b73557 463px,#be3853 491px)"></i><i style="background:linear-gradient(90deg,#c13a51 0px,#bb3755 72px,#b93656 120px,#ca414a 169px,#b93656 200px,#87216b 239px,#8d2369 255px,#c13a50 290px,#c83f4b 320px,#bc3754 456px,#c13a51 491px)"></i><i style="background:linear-gradient(90deg,#c43c4e 0px,#b33359 121px,#bc3754 178px,#ab2f5e 215px,#9c2964 241px,#a92e5f 260px,#ca404a 290px,#cb4149 321px,#bf3952 374px,#c43c4e 491px)"></i><i style="background:linear-gradient(90deg,#c83f4b 0px,#ac2f5d 134px,#b53458 251px,#d14644 294px,#bf3952 367px,#cf4446 451px,#c83f4b 491px)"></i><i style="background:linear-gradient(90deg,#cd4248 0px,#a22b62 143px,#a82e5f 191px,#c63d4d 246px,#d04545 301px,#bd3853 363px,#d74b3f 443px,#ce4347 491px)"></i><i style="background:linear-gradient(90deg,#d14644 0px,#9b2964 141px,#a12b62 185px,#d24743 237px,#ca404a 309px,#be3853 360px,#da4e3d 442px,#d14644 491px)"></i><i style="background:linear-gradient(90deg,#d14644 0px,#b2325a 79px,#9a2865 136px,#9d2964 180px,#b93656 207px,#da4e3c 232px,#da4e3c 255px,#c53d4e 298px,#bf3952 364px,#d84c3e 440px,#d14644 491px)"></i><i style="background:linear-gradient(90deg,#cc4149 0px,#b53458 71px,#9a2865 131px,#9e2a63 179px,#b33359 201px,#e05536 230px,#e05536 250px,#c13a51 285px,#bb3755 345px,#d04545 444px,#cc4149 491px)"></i><i style="background:linear-gradient(90deg,#c13a50 0px,#b1325a 71px,#9a2865 133px,#9f2a63 181px,#b83556 203px,#e15734 228px,#e55c30 244px,#c33b4f 273px,#b33359 295px,#bf3952 369px,#c53d4e 453px,#c13a50 491px)"></i><i style="background:linear-gradient(90deg,#b53458 0px,#ad305c 70px,#982766 140px,#a02a63 184px,#bd3853 206px,#e25734 228px,#e65d2f 242px,#d04545 262px,#b0315b 285px,#ad305c 319px,#bf3952 395px,#b63458 491px)"></i><i style="background:linear-gradient(90deg,#ad305d 0px,#a92e5f 73px,#962766 139px,#9f2a63 183px,#bd3853 206px,#e35933 229px,#e55c30 244px,#c73e4c 266px,#ab2f5e 287px,#ac2f5d 322px,#bb3755 388px,#ac2f5d 482px,#ad305d 491px)"></i><i style="background:linear-gradient(90deg,#a92e5f 0px,#a92e5f 63px,#912568 135px,#9b2964 180px,#b93556 204px,#e15734 229px,#e45a31 243px,#c83f4c 266px,#ad305c 288px,#ae305c 326px,#ba3655 390px,#a62d60 470px,#a92e5e 491px)"></i><i style="background:linear-gradient(90deg,#aa2f5e 0px,#ac2f5d 55px,#8e2469 125px,#972766 172px,#b0315b 199px,#df5337 229px,#e05536 246px,#b53458 283px,#af315c 317px,#bc3754 388px,#a62d60 469px,#aa2f5e 491px)"></i><i style="background:linear-gradient(90deg,#ad305c 0px,#b0315b 51px,#8d2369 121px,#972766 165px,#b2325a 199px,#dc503a 231px,#db4f3b 249px,#b63457 286px,#b33359 328px,#be3853 397px,#a92e5e 470px,#ad305c 491px)"></i><i style="background:linear-gradient(90deg,#b0315b 0px,#b3325a 50px,#8f2468 120px,#9b2964 164px,#ba3655 204px,#d74b3f 234px,#ce4447 257px,#b33359 291px,#b63457 341px,#c03a51 400px,#ad305c 478px,#b0315b 491px)"></i><i style="background:linear-gradient(90deg,#b1325a 0px,#b3325a 56px,#972766 119px,#a52c60 167px,#c63e4d 219px,#ce4347 242px,#af315c 293px,#b93656 351px,#c33b4f 404px,#b0315b 483px,#b1325a 491px)"></i><i style="background:linear-gradient(90deg,#b2325a 0px,#b2325a 66px,#a22b62 121px,#c13a50 240px,#ac2f5d 290px,#bb3755 348px,#c63e4d 403px,#b1325a 491px)"></i><i style="background:linear-gradient(90deg,#b33359 0px,#b33359 79px,#b0315b 139px,#b53458 241px,#a92e5e 289px,#ca404a 379px,#c33b4f 430px,#b2325a 491px)"></i><i style="background:linear-gradient(90deg,#b63458 0px,#bc3754 168px,#a92e5f 274px,#ce4447 365px,#c63e4d 418px,#b3325a 487px,#b3325a 491px)"></i><i style="background:linear-gradient(90deg,#b63458 0px,#c53d4e 106px,#bf3952 183px,#a82e5f 248px,#b63457 293px,#d24644 349px,#cc4149 394px,#b2325a 462px,#b1325a 491px)"></i><i style="background:linear-gradient(90deg,#b33359 0px,#c83f4b 72px,#c83f4c 150px,#b63458 206px,#a62d60 241px,#d54941 341px,#cc4248 382px,#a92e5e 445px,#ad305d 491px)"></i><i style="background:linear-gradient(90deg,#ae305c 0px,#cc4149 63px,#cc4149 127px,#b83556 200px,#a22b62 235px,#b2325a 263px,#d34743 317px,#d44842 358px,#9f2a63 434px,#a02a62 475px,#a62d60 491px)"></i><i style="background:linear-gradient(90deg,#a82e5f 0px,#cc4248 58px,#cf4446 113px,#b43359 199px,#9a2865 231px,#a62d60 252px,#cb4149 289px,#d84c3e 335px,#c73e4c 372px,#962766 427px,#932667 465px,#9f2a63 491px)"></i><i style="background:linear-gradient(90deg,#a52c60 0px,#ce4347 61px,#d14644 107px,#b0315b 197px,#8f2469 229px,#972766 247px,#c83f4c 282px,#d94d3d 324px,#ce4347 361px,#962766 418px,#8c2369 451px,#9b2964 491px)"></i><i style="background:linear-gradient(90deg,#a62d60 0px,#ce4347 63px,#d04545 109px,#ab2f5e 195px,#811f6c 229px,#88226a 244px,#c63d4d 283px,#d94d3d 322px,#d24743 356px,#972766 416px,#8c2369 449px,#9e2a63 491px)"></i><i style="background:linear-gradient(90deg,#a92e5e 0px,#cd4248 69px,#cd4248 116px,#a62d60 193px,#751b6e 228px,#781c6d 242px,#bb3755 280px,#d64a40 316px,#d74b3f 353px,#b43359 392px,#952667 429px,#972766 467px,#a32c61 491px)"></i><i style="background:linear-gradient(90deg,#b0315b 0px,#cb4149 85px,#c43c4e 128px,#a42c61 191px,#6d186e 228px,#71196e 243px,#b3325a 280px,#d44842 316px,#db4f3b 351px,#bf3952 389px,#9e2a63 430px,#a12b62 468px,#ab2f5e 491px)"></i><i style="background:linear-gradient(90deg,#b53458 0px,#c43c4f 106px,#a32c61 190px,#6c186e 230px,#741b6e 246px,#b73557 286px,#d94d3d 329px,#d94d3d 363px,#a92e5e 430px,#ad305c 476px,#b1325a 491px)"></i><i style="background:linear-gradient(90deg,#b73557 0px,#b83556 120px,#a22b62 194px,#781c6d 230px,#801f6c 246px,#b93656 286px,#da4e3c 334px,#d84c3e 372px,#b43359 439px,#b53458 491px)"></i><i style="background:linear-gradient(90deg,#b53458 0px,#af315c 58px,#af315c 124px,#a62d60 199px,#8f2468 233px,#a22b61 257px,#c53d4e 292px,#db4f3b 344px,#d14644 395px,#b93656 470px,#b53458 491px)"></i><i style="background:linear-gradient(90deg,#b1325a 0px,#a52c60 48px,#ad305d 116px,#aa2f5e 165px,#b2325a 207px,#ae305c 240px,#ce4347 294px,#d84c3e 365px,#c33b4f 450px,#b1325a 491px)"></i><i style="background:linear-gradient(90deg,#ab2f5e 0px,#9e2a63 44px,#ac2f5d 121px,#b0315b 168px,#c63d4d 218px,#d54941 306px,#cd4248 427px,#ac2f5d 491px)"></i><i style="background:linear-gradient(90deg,#a62d60 0px,#9b2865 41px,#af315c 129px,#b73557 170px,#db4f3b 225px,#de5238 276px,#ce4347 386px,#c53d4e 439px,#a62d60 491px)"></i><i style="background:linear-gradient(90deg,#a22b62 0px,#9b2964 47px,#b43359 142px,#c33b4f 178px,#e8602c 224px,#ea6429 255px,#c93f4b 363px,#c03a51 434px,#a32c61 491px)"></i><i style="background:linear-gradient(90deg,#a22b62 0px,#a22b62 65px,#c43c4f 173px,#e35833 204px,#f3771a 235px,#f1721e 262px,#c93f4b 356px,#b63457 440px,#a22b62 491px)"></i><i style="background:linear-gradient(90deg,#a52c60 0px,#a92e5f 86px,#c63e4d 173px,#e35933 200px,#f78410 229px,#f8880d 252px,#df5437 327px,#c73e4c 374px,#a62d60 489px,#a62d60 491px)"></i><i style="background:linear-gradient(90deg,#ab2f5e 0px,#ad305d 98px,#c73e4c 172px,#e15734 196px,#f98a0c 224px,#fb9806 245px,#f68013 286px,#de5238 346px,#c33b4f 404px,#ad305d 471px,#ad305c 491px)"></i><i style="background:linear-gradient(90deg,#b2325a 0px,#b0315b 57px,#b0315b 108px,#c63e4d 170px,#e35833 195px,#f98e09 222px,#fca309 240px,#fb9906 267px,#f2751b 320px,#d54941 379px,#b3325a 458px,#b53458 491px)"></i><i style="background:linear-gradient(90deg,#b93556 0px,#b43359 53px,#ad305d 97px,#c53d4e 167px,#e45932 194px,#fa9108 221px,#fca60c 240px,#fc9f07 264px,#f78410 310px,#de5238 375px,#bc3754 437px,#bc3754 491px)"></i><i style="background:linear-gradient(90deg,#be3853 0px,#b63458 48px,#a92e5e 93px,#c53d4e 164px,#e15734 190px,#fa9008 220px,#fca40a 239px,#fb9806 266px,#ed6925 345px,#c93f4b 414px,#bf3952 467px,#c13a50 491px)"></i><i style="background:linear-gradient(90deg,#c23b50 0px,#ad305c 56px,#a42c61 92px,#c83f4c 163px,#e45a31 191px,#f98d0a 221px,#fb9906 239px,#f8860e 270px,#ef6e21 315px,#d64a40 388px,#c53d4e 439px,#c53d4e 491px)"></i><i style="background:linear-gradient(90deg,#c43c4f 0px,#9d2964 79px,#a82e5f 112px,#d44842 175px,#f67e14 218px,#f8870e 238px,#e75f2d 301px,#d44842 383px,#c73e4c 438px,#c73e4c 491px)"></i><i style="background:linear-gradient(90deg,#c33b4f 0px,#962766 72px,#9f2a63 103px,#da4e3c 184px,#f06f20 225px,#ed6925 251px,#db503b 296px,#ce4347 386px,#c73e4c 436px,#c73e4c 491px)"></i><i style="background:linear-gradient(90deg,#c13a50 0px,#902568 65px,#962766 91px,#c63e4d 149px,#e15734 227px,#ce4347 308px,#cc4149 378px,#c43c4e 428px,#c83f4c 483px,#c53d4e 491px)"></i><i style="background:linear-gradient(90deg,#c03a51 0px,#8c2369 62px,#932667 89px,#c63e4d 142px,#cc4248 219px,#c63d4d 309px,#ca404a 372px,#c33b4f 429px,#c83f4b 479px,#c33b4f 491px)"></i><i style="background:linear-gradient(90deg,#c23b50 0px,#8d2369 56px,#8e2469 80px,#c83f4c 139px,#c73e4c 178px,#b53458 242px,#c83f4b 367px,#c43c4f 425px,#cc4149 473px,#c43c4f 491px)"></i><i style="background:linear-gradient(90deg,#c53d4e 0px,#902568 55px,#912568 79px,#c83f4b 139px,#c63e4d 171px,#a52c60 231px,#b1325a 278px,#c43c4e 362px,#c43c4e 424px,#ce4447 473px,#c63e4d 491px)"></i><i style="background:linear-gradient(90deg,#c83f4c 0px,#972766 55px,#982766 80px,#c83f4c 139px,#c43c4f 171px,#9b2865 230px,#a22b61 264px,#b63457 320px,#c43c4f 425px,#cf4446 470px,#c73e4c 491px)"></i><i style="background:linear-gradient(90deg,#c83f4b 0px,#a02a62 56px,#a62d60 87px,#c63d4d 137px,#c13a51 172px,#932667 233px,#9a2865 262px,#ad305d 308px,#ba3655 415px,#ca404a 473px,#c43c4e 491px)"></i><i style="background:linear-gradient(90deg,#c63e4d 0px,#ab2f5e 58px,#b73557 98px,#c83f4c 142px,#bb3755 181px,#8d2369 235px,#922568 260px,#a62d60 305px,#af315c 412px,#c03a51 483px,#bf3952 491px)"></i><i style="background:linear-gradient(90deg,#c53d4e 0px,#b83556 62px,#cd4248 137px,#bf3952 179px,#87216b 235px,#8a226a 259px,#a12b62 300px,#a72d5f 439px,#b83556 491px)"></i><i style="background:linear-gradient(90deg,#c73e4c 0px,#cb4149 78px,#d64a40 135px,#c63d4d 178px,#9f2a63 210px,#7f1e6c 236px,#811f6c 258px,#9f2a63 300px,#a22b62 361px,#9b2865 442px,#b63458 491px)"></i><i style="background:linear-gradient(90deg,#cc4248 0px,#df5437 132px,#ce4347 176px,#aa2f5e 204px,#781c6d 234px,#751b6e 254px,#a02a63 304px,#a72d5f 350px,#942667 436px,#9f2a63 465px,#b73557 491px)"></i><i style="background:linear-gradient(90deg,#d44842 0px,#e05536 54px,#e55c30 131px,#d24743 177px,#ad305c 203px,#741a6e 232px,#69176e 248px,#7d1e6d 271px,#a22b62 309px,#ad305d 348px,#972766 434px,#9f2a63 462px,#be3853 491px)"></i><i style="background:linear-gradient(90deg,#d94c3e 0px,#e55c30 43px,#e55c30 134px,#d34743 179px,#b1325a 202px,#731a6e 229px,#62146e 246px,#741b6e 269px,#a12b62 309px,#b1325a 346px,#a22b62 429px,#a62d60 460px,#c53d4e 491px)"></i><i style="background:linear-gradient(90deg,#da4e3c 0px,#e55b31 38px,#dd513a 159px,#c83f4b 189px,#9e2a63 211px,#6d186e 233px,#61146e 249px,#781c6d 272px,#a52c60 314px,#b63458 348px,#b0315b 421px,#b33359 464px,#ca404a 491px)"></i><i style="background:linear-gradient(90deg,#da4e3d 0px,#df5437 36px,#d84d3e 125px,#d04545 181px,#b83556 201px,#791c6d 229px,#68166e 245px,#711a6e 263px,#a32c61 308px,#bc3754 349px,#c03a51 469px,#cd4248 491px)"></i><i style="background:linear-gradient(90deg,#d74b3f 0px,#d54a40 42px,#ca414a 98px,#d04545 182px,#bb3755 203px,#7f1e6c 233px,#741a6e 249px,#89226a 275px,#ba3655 331px,#c43c4e 371px,#c53d4e 451px,#ce4347 491px)"></i><i style="background:linear-gradient(90deg,#d24644 0px,#cd4248 38px,#be3853 92px,#d34743 185px,#be3952 207px,#89226a 237px,#83206b 254px,#c73e4c 346px,#ca404a 443px,#cb4149 486px,#cc4149 491px)"></i><i style="background:linear-gradient(90deg,#cc4149 0px,#c33b4f 44px,#b73557 90px,#cc4248 155px,#d74b3f 189px,#c33b4f 211px,#942667 241px,#942667 263px,#cc4248 353px,#c83f4b 446px,#c83f4b 491px)"></i><i style="background:linear-gradient(90deg,#c43c4f 0px,#bb3755 50px,#b73557 96px,#d44842 166px,#d84c3e 196px,#bc3754 221px,#9e2a63 244px,#a02a62 269px,#ce4347 357px,#c23b50 449px,#c23b50 491px)"></i><i style="background:linear-gradient(90deg,#ba3655 0px,#b93656 93px,#db503b 189px,#ca404a 214px,#a52c60 245px,#a92e5f 274px,#cd4248 360px,#bc3754 441px,#b93656 491px)"></i><i style="background:linear-gradient(90deg,#b0315b 0px,#bd3853 91px,#da4e3d 188px,#c83f4c 215px,#a92e5f 246px,#b0315b 282px,#cc4149 361px,#ba3655 427px,#ad305c 476px,#af315c 491px)"></i><i style="background:linear-gradient(90deg,#a72d5f 0px,#bc3754 78px,#d64a40 173px,#ce4447 204px,#ac2f5d 247px,#b63458 297px,#cb4149 363px,#bc3754 415px,#a62d60 470px,#a62d60 491px)"></i><i style="background:linear-gradient(90deg,#a12b62 0px,#ba3655 73px,#d04545 140px,#cf4446 196px,#af315c 251px,#be3853 322px,#cb4149 372px,#b2325a 431px,#a12b62 479px,#a22b62 491px)"></i><i style="background:linear-gradient(90deg,#a12b62 0px,#b93656 72px,#cc4248 140px,#c93f4b 206px,#b3325a 263px,#b93556 318px,#ca404a 370px,#bb3755 419px,#a22b62 475px,#a22b62 491px)"></i><i style="background:linear-gradient(90deg,#a72d5f 0px,#b53458 67px,#c63e4d 148px,#ca404a 223px,#b1325a 302px,#c83f4c 374px,#ba3655 429px,#a92e5f 484px,#a82e5f 491px)"></i><i style="background:linear-gradient(90deg,#b0315b 0px,#b63458 92px,#c73e4c 177px,#d64a40 227px,#c23b50 270px,#b2325a 307px,#c63e4d 383px,#b3325a 491px)"></i><i style="background:linear-gradient(90deg,#bb3755 0px,#ab2f5e 95px,#ba3655 160px,#e05536 210px,#e65e2e 237px,#ce4347 274px,#b83556 306px,#c63e4d 440px,#be3952 491px)"></i><i style="background:linear-gradient(90deg,#c33b4f 0px,#a02a62 86px,#a92e5e 141px,#c53d4e 176px,#f06f20 216px,#f57d15 236px,#ec6826 259px,#ca414a 292px,#bd3853 323px,#c23b50 399px,#cc4248 457px,#c83f4b 491px)"></i><i style="background:linear-gradient(90deg,#c63d4d 0px,#972766 78px,#9b2865 123px,#b3325a 161px,#d84c3e 187px,#f78311 212px,#fb9c08 226px,#fba10a 240px,#f98c0b 257px,#dc503a 288px,#c53d4e 315px,#b63457 386px,#cf4446 450px,#cc4248 491px)"></i><i style="background:linear-gradient(90deg,#c13a50 0px,#902568 75px,#932567 117px,#ae305c 157px,#d54a41 182px,#f67f14 203px,#fb9b07 212px,#fac026 227px,#f9c62d 240px,#fcb217 254px,#fb9607 265px,#e55b31 288px,#ca404a 312px,#ac2f5d 380px,#cb4149 451px,#cb4149 491px)"></i><i style="background:linear-gradient(90deg,#b93556 0px,#8d2369 74px,#912568 114px,#ad305c 154px,#d34743 178px,#f2751b 196px,#fb9906 206px,#fbb61b 214px,#f5da4b 228px,#f4e055 236px,#f4de51 243px,#fac228 257px,#fb9e07 268px,#f78410 276px,#e15635 294px,#c63e4d 318px,#a02a62 380px,#b1325a 413px,#c33b4f 454px,#c53d4e 491px)"></i><i style="background:linear-gradient(90deg,#af315c 0px,#8f2469 78px,#982766 121px,#b73557 158px,#db503b 180px,#f98c0a 200px,#fca007 205px,#f5da4a 222px,#f2ea69 232px,#f1ec6d 239px,#f3e45b 247px,#fbbf24 261px,#fb9d07 270px,#f68013 278px,#de5238 296px,#c13a50 320px,#932667 380px,#a22b62 409px,#b63458 449px,#bc3754 491px)"></i><i style="background:linear-gradient(90deg,#a62d60 0px,#962766 86px,#aa2f5e 137px,#ce4347 169px,#ea6429 186px,#fb9806 202px,#fcb216 209px,#f3e258 225px,#f1ec6d 234px,#f2e967 242px,#f5da4a 251px,#fca309 268px,#f98c0a 274px,#e45932 291px,#c73e4c 311px,#88226a 377px,#8f2469 401px,#a82e5f 442px,#b63458 491px)"></i><i style="background:linear-gradient(90deg,#a32c61 0px,#a32c61 99px,#bb3755 146px,#db503b 174px,#f67f13 194px,#fb9d07 203px,#fac026 214px,#f4de51 228px,#f3e35a 237px,#f7d441 249px,#fca209 266px,#f98c0a 272px,#e25734 291px,#c43c4e 313px,#932567 359px,#7e1e6c 381px,#88226a 406px,#a02a62 447px,#b2325a 491px)"></i><i style="background:linear-gradient(90deg,#a42c61 0px,#b0315b 112px,#cf4446 159px,#eb6528 183px,#fb9706 202px,#fcac11 210px,#f8cd37 227px,#f7d23f 236px,#fac52c 248px,#fb9c07 264px,#f67e14 274px,#de5238 294px,#bf3952 322px,#992865 354px,#7a1d6d 380px,#7d1e6d 401px,#9e2a63 453px,#b1325a 491px)"></i><i style="background:linear-gradient(90deg,#a82e5f 0px,#b93656 117px,#d74b3f 162px,#f2731d 189px,#fb9806 206px,#fbb81d 225px,#fbba1f 239px,#fb9e07 257px,#f78410 268px,#df5437 292px,#bf3952 327px,#982766 357px,#7a1d6d 382px,#801f6c 406px,#b33359 491px)"></i><i style="background:linear-gradient(90deg,#ad305d 0px,#b63457 73px,#bf3952 124px,#de5238 167px,#fa8f09 209px,#fca20a 229px,#fa9508 249px,#e8602d 280px,#cf4446 309px,#b0315b 345px,#83206b 380px,#83206b 402px,#b63457 491px)"></i><i style="background:linear-gradient(90deg,#b1325a 0px,#bb3755 63px,#bf3952 120px,#dc503a 165px,#f78212 214px,#f78410 238px,#e05536 279px,#c83f4c 319px,#ad305d 352px,#8d2369 383px,#942667 416px,#b73557 491px)"></i><i style="background:linear-gradient(90deg,#b3325a 0px,#be3853 57px,#be3853 117px,#df5437 174px,#ef6e21 218px,#ea632a 247px,#ce4347 290px,#b53458 349px,#9b2865 386px,#b1325a 480px,#b63457 491px)"></i><i style="background:linear-gradient(90deg,#b0315b 0px,#bc3754 62px,#bd3853 119px,#e45a31 199px,#e15635 234px,#c23b50 292px,#b93556 352px,#a82e5f 393px,#ad305d 478px,#b3325a 491px)"></i><i style="background:linear-gradient(90deg,#a92e5e 0px,#b73557 69px,#bc3754 120px,#dc503a 193px,#d44842 235px,#ba3655 288px,#bc3754 354px,#a72d5f 462px,#ab2f5e 491px)"></i><i style="background:linear-gradient(90deg,#a52c60 0px,#b2325a 94px,#d64a40 189px,#ca404a 235px,#b63458 283px,#bf3952 354px,#a62d60 491px)"></i><i style="background:linear-gradient(90deg,#a62d60 0px,#b63458 114px,#d34743 180px,#ca404a 229px,#b63458 280px,#c13a50 353px,#ac2f5d 468px,#a62d60 491px)"></i><i style="background:linear-gradient(90deg,#ad305d 0px,#ad305d 66px,#bb3755 122px,#d44842 180px,#c93f4b 233px,#b93556 283px,#c13a51 351px,#bb3755 418px,#b63457 465px,#ad305c 491px)"></i></div>
<div class="hm" style="left:883.1px;top:105.5px;width:491.5px;height:735.7px"><i style="background:linear-gradient(90deg,#cf4446 1px,#bc3754 24px,#c03a51 69px,#b63457 110px,#d24743 164px,#c43c4f 185px,#a12b62 200px,#7a1d6d 208px,#4d0c6b 214px,#2d0b58 217px,#050416 221px,#000004 223px,#000004 268px,#060418 270px,#2e0a59 274px,#4c0c6b 277px,#7c1e6d 284px,#a32c61 295px,#bc3754 315px,#ca404a 404px,#cb4149 436px,#e25734 467px,#d24743 489px,#d04545 491px)"></i><i style="background:linear-gradient(90deg,#cd4248 1px,#c13a50 26px,#c13a50 68px,#b63458 107px,#c83f4c 142px,#d04545 167px,#bf3952 188px,#9f2a63 202px,#741a6e 211px,#460b69 217px,#280b52 220px,#060415 224px,#010005 226px,#000004 264px,#03030f 266px,#180a3b 269px,#360a5f 272px,#59116d 276px,#89226a 284px,#aa2f5e 295px,#c03a51 315px,#c03a51 368px,#c83f4b 404px,#ca404a 435px,#dd513a 468px,#ce4447 491px)"></i><i style="background:linear-gradient(90deg,#cc4248 1px,#c63e4d 39px,#b93656 84px,#b63457 120px,#d24743 166px,#c43c4e 188px,#9f2a63 205px,#6f196e 215px,#440b68 221px,#2a0b53 224px,#070518 229px,#000004 233px,#010006 258px,#0b061f 262px,#300b59 267px,#4a0c6a 270px,#84206b 279px,#ad305d 291px,#c43c4f 308px,#c33b4f 335px,#bf3952 369px,#c63d4d 435px,#d74b3f 469px,#cc4248 491px)"></i><i style="background:linear-gradient(90deg,#ce4447 1px,#b93556 122px,#d44842 171px,#c53d4e 191px,#9d2964 209px,#67166e 221px,#3d0b63 228px,#160936 235px,#0a051c 240px,#080518 248px,#0f0729 253px,#310b59 260px,#520f6c 265px,#912568 277px,#b43359 290px,#ca404a 311px,#c63e4d 346px,#bc3754 422px,#d14644 476px,#ce4447 491px)"></i><i style="background:linear-gradient(90deg,#d14644 1px,#c63e4d 45px,#c43c4f 87px,#c53d4e 142px,#d44842 175px,#c13a51 196px,#942667 216px,#58106d 233px,#420c65 242px,#490d68 251px,#801f6c 266px,#aa2f5e 281px,#c93f4b 310px,#cf4446 340px,#b93556 405px,#bf3952 444px,#d14644 490px,#d14644 491px)"></i><i style="background:linear-gradient(90deg,#d34743 1px,#cc4149 36px,#c63d4d 66px,#cd4248 108px,#c83f4c 148px,#d04545 179px,#b93556 203px,#791c6d 239px,#7c1d6c 250px,#ab2f5e 277px,#d04545 338px,#c33b4f 372px,#b93656 412px,#c53d4e 459px,#d24743 491px)"></i><i style="background:linear-gradient(90deg,#cf4446 1px,#cc4149 64px,#d34743 103px,#c63d4d 153px,#ca404a 185px,#a02b62 242px,#b2325a 279px,#b43359 308px,#c9404b 347px,#bc3754 405px,#cc4248 483px,#cf4446 491px)"></i><i style="background:linear-gradient(90deg,#c73e4c 1px,#d34743 96px,#c13a51 156px,#c43c4e 267px,#ac2f5d 304px,#c03a51 361px,#c13a50 423px,#c73e4c 491px)"></i><i style="background:linear-gradient(90deg,#be3853 1px,#d34743 79px,#b93656 165px,#c73e4c 200px,#ea6628 238px,#e9632a 255px,#c73e4c 281px,#a92e5e 308px,#ad305c 335px,#bc3754 372px,#c23b50 430px,#be3853 491px)"></i><i style="background:linear-gradient(90deg,#b83556 1px,#cf4446 72px,#b53458 175px,#c63e4d 196px,#e55c30 212px,#f88c0f 225px,#f9b520 238px,#f9b923 247px,#fa9b10 259px,#f57f14 266px,#d94d3d 281px,#b63457 300px,#a52c60 324px,#b83556 383px,#bf3952 459px,#b83556 491px)"></i><i style="background:linear-gradient(90deg,#b73557 1px,#ca404a 76px,#b83556 161px,#b93656 184px,#d44842 199px,#ed6925 208px,#f98e0d 214px,#fbab15 218px,#f7cb39 222px,#f9e66d 226px,#fbfea3 236px,#fbfea3 251px,#f9e76f 261px,#fabd25 267px,#fb9e0e 271px,#f78411 275px,#e05536 285px,#c23b50 299px,#a72d5f 324px,#aa2f5e 356px,#bc3754 461px,#b73557 491px)"></i><i style="background:linear-gradient(90deg,#b83556 1px,#c9404b 127px,#be3853 180px,#d44842 194px,#eb6627 202px,#fa920b 208px,#fbaf16 211px,#f7d140 214px,#f8ef7c 217px,#fcffa4 221px,#fcffa4 266px,#f8ef7c 270px,#fabd24 275px,#fb9f0c 278px,#f7860f 281px,#e45a31 289px,#c83f4c 301px,#a92e5f 328px,#a52c60 360px,#b53458 419px,#bc3754 479px,#b83556 491px)"></i><i style="background:linear-gradient(90deg,#bc3754 1px,#be3853 65px,#d24743 126px,#c63e4d 180px,#db4f3b 192px,#f0701f 199px,#fa920a 203px,#fba70f 205px,#f8cc38 208px,#f7f281 211px,#fafd9f 213px,#fcffa4 216px,#fcffa4 273px,#fafd9f 274px,#f7f283 276px,#f7cf3c 279px,#fbb61c 281px,#fba00b 283px,#f78510 286px,#e35932 293px,#c73e4c 305px,#a62d60 336px,#a12b62 364px,#b53458 413px,#bc3754 449px,#c13a50 477px,#bc3754 491px)"></i><i style="background:linear-gradient(90deg,#bf3952 1px,#bb3755 64px,#da4e3d 121px,#ca404a 177px,#da4e3c 188px,#ef6c23 195px,#fb9708 200px,#fcb015 202px,#f8cb36 204px,#f4e96a 206px,#f7f589 207px,#f9fc9b 208px,#fcffa4 209px,#fcffa4 278px,#f9fc9d 279px,#f7f78d 280px,#f7cf3b 283px,#fbb318 285px,#fb9b08 287px,#f06f21 292px,#d94d3d 299px,#bc3754 313px,#9d2964 350px,#a02a62 375px,#b43359 412px,#bd3853 451px,#c33b4f 480px,#bf3952 491px)"></i><i style="background:linear-gradient(90deg,#bf3952 1px,#b93656 61px,#de5338 114px,#d64a40 147px,#ca404a 175px,#d94d3d 186px,#ee6b23 193px,#fb9906 198px,#fcb318 200px,#f7d03c 202px,#f3f079 204px,#f8fb99 205px,#fcffa4 206px,#fcffa4 281px,#fafd9f 282px,#f4f587 283px,#f6d746 285px,#fbb81d 287px,#fb9e07 289px,#f8870e 291px,#e45a31 297px,#c83f4b 306px,#a92e5f 328px,#932567 359px,#9d2964 384px,#b2325a 417px,#bf3952 483px,#bf3952 491px)"></i><i style="background:linear-gradient(90deg,#bc3754 1px,#bb3755 61px,#e15635 107px,#de5238 134px,#c63d4d 173px,#d54941 185px,#ec6727 192px,#fb9606 197px,#fca309 198px,#fac127 200px,#f3e35a 202px,#f2f37f 203px,#fbfea3 204px,#fcffa4 283px,#f6f994 284px,#f2eb6b 285px,#f9c932 287px,#fcaa0f 289px,#fb9c06 290px,#f8850f 292px,#e25734 298px,#c53d4e 307px,#9b2964 337px,#85216b 363px,#922568 387px,#b3325a 423px,#bc3754 491px)"></i><i style="background:linear-gradient(90deg,#b93556 1px,#ba3655 42px,#c43c4f 68px,#e25734 104px,#de5238 130px,#bf3952 173px,#cc4248 184px,#e55c30 191px,#f8860e 196px,#fca008 198px,#fbbe23 200px,#f3e258 202px,#f2f37f 203px,#fcffa4 204px,#fcffa4 283px,#f6f994 284px,#f2eb6b 285px,#f5d949 286px,#fbb81d 288px,#fca80d 289px,#fb9b06 290px,#ed6826 295px,#d54941 301px,#b63458 314px,#7c1d6d 362px,#811f6c 382px,#b33359 422px,#b33359 456px,#b83556 491px)"></i><i style="background:linear-gradient(90deg,#b63457 1px,#c43c4e 67px,#df5337 107px,#d44842 137px,#b93656 172px,#c73e4c 184px,#e05536 191px,#f57c16 196px,#fa9307 198px,#fca108 199px,#fac026 201px,#f3e35c 203px,#f3f483 204px,#fbfda1 205px,#fcffa4 282px,#f8fa97 283px,#f2ed71 284px,#f5db4c 285px,#fbba1f 287px,#fb9d07 289px,#f57b17 292px,#e15734 297px,#c53d4e 306px,#8e2469 346px,#781c6d 367px,#83206b 385px,#b83556 420px,#bc3754 442px,#b1325a 478px,#b63458 491px)"></i><i style="background:linear-gradient(90deg,#b73557 1px,#ca404a 84px,#d44842 117px,#b73557 173px,#c73e4c 185px,#e45932 193px,#f98d0a 199px,#fb9907 200px,#fbb61b 202px,#f6d544 204px,#f6f589 206px,#f9fc9d 207px,#fcffa4 209px,#fcffa4 280px,#f8fb99 281px,#f3e25a 283px,#fac32a 285px,#fca60c 287px,#fb9a07 288px,#ee6b24 293px,#d64a40 300px,#bb3755 313px,#7e1e6c 364px,#84206b 382px,#c03a51 420px,#c33b4f 443px,#b33359 479px,#b63457 491px)"></i><i style="background:linear-gradient(90deg,#b93656 1px,#c53d4e 124px,#ba3655 174px,#cf4446 188px,#ea6429 196px,#fa9608 202px,#fcae13 204px,#f9c933 206px,#f4e665 208px,#f7f385 209px,#fcffa4 211px,#fbfea3 277px,#f6f383 279px,#f5d94a 281px,#fcb116 284px,#fb9a07 286px,#eb6429 293px,#d24644 302px,#ab2f5e 330px,#88226a 362px,#8c2369 380px,#c53d4e 420px,#c63d4d 444px,#b63457 477px,#b93656 491px)"></i><i style="background:linear-gradient(90deg,#bc3754 1px,#c43c4f 57px,#be3853 115px,#c23b50 175px,#d84c3e 191px,#ed6925 199px,#fa9209 205px,#fba60e 207px,#f9c730 210px,#f8f17f 214px,#fcffa4 217px,#fbfda1 271px,#f8f07d 274px,#f9c730 278px,#fbb016 280px,#fa9509 283px,#ec6726 290px,#d54941 300px,#b0315b 329px,#912568 362px,#972766 381px,#c63d4d 419px,#c53d4e 443px,#b63457 474px,#bc3754 491px)"></i><i style="background:linear-gradient(90deg,#bb3755 1px,#c83f4b 38px,#bf3952 114px,#cd4248 177px,#df5437 195px,#f2751b 205px,#fa980b 211px,#fbad15 214px,#f7cf3e 218px,#f9eb75 222px,#fcffa4 229px,#fcffa4 258px,#f9eb75 265px,#f7e05f 267px,#f9be26 271px,#fb9f0f 275px,#f88a0e 278px,#e75f2d 287px,#d04545 300px,#a12b62 347px,#972766 369px,#a92e5f 391px,#c43c4e 418px,#c13a51 442px,#b1325a 471px,#bb3755 491px)"></i><i style="background:linear-gradient(90deg,#b83556 1px,#cc4149 33px,#c23b50 104px,#da4e3d 188px,#ea6429 206px,#f9910d 220px,#fab31d 228px,#f6d145 238px,#f7d44c 244px,#f7cf43 249px,#faaa18 260px,#f88a0f 267px,#e45b31 280px,#ca404a 298px,#972766 363px,#a12b62 385px,#c23b50 417px,#be3853 441px,#ab2f5e 470px,#b73557 491px)"></i><i style="background:linear-gradient(90deg,#b73557 1px,#cd4248 32px,#bf3952 93px,#e25833 211px,#f1751c 240px,#eb6826 257px,#ce4447 284px,#922568 361px,#992865 382px,#c23b50 418px,#c03a51 439px,#ab2f5e 471px,#b63457 491px)"></i><i style="background:linear-gradient(90deg,#bc3754 1px,#cd4248 34px,#b53458 85px,#d84c3e 189px,#c33c4f 279px,#ad305d 323px,#912568 359px,#982766 381px,#c73e4c 421px,#c43c4f 445px,#b33359 475px,#bb3755 491px)"></i><i style="background:linear-gradient(90deg,#c13a50 1px,#cc4149 39px,#ae305c 83px,#c13a50 140px,#d24743 184px,#c03a51 218px,#aa2f5e 247px,#b93556 303px,#972766 361px,#a62d60 388px,#cd4248 424px,#ca404a 449px,#bf3952 481px,#c13a50 491px)"></i><i style="background:linear-gradient(90deg,#c43c4e 1px,#ca404a 46px,#b2325a 87px,#c83f4c 161px,#ca404a 194px,#b0315b 219px,#88226a 244px,#962766 261px,#b33359 290px,#b53458 320px,#a42c61 364px,#b2325a 394px,#d04545 430px,#c43c4e 491px)"></i><i style="background:linear-gradient(90deg,#c23b50 1px,#ca404a 57px,#c03a51 98px,#c63d4d 192px,#b2325a 213px,#741a6e 236px,#65156e 246px,#741a6e 257px,#a22b61 279px,#b73557 306px,#b0315b 355px,#b0315b 391px,#ce4347 434px,#c23b50 491px)"></i><i style="background:linear-gradient(90deg,#bf3952 1px,#c63d4d 36px,#cf4446 76px,#c13a51 193px,#b0315b 211px,#8c2369 223px,#510e6c 236px,#3c0b62 244px,#420b67 252px,#781c6d 267px,#9c2964 281px,#b33359 304px,#ba3655 343px,#af315c 386px,#ca404a 435px,#c03a51 491px)"></i><i style="background:linear-gradient(90deg,#bf3952 1px,#c03a51 36px,#d64a40 84px,#ce4347 137px,#b33359 203px,#9b2865 215px,#6b176e 225px,#3d0a64 232px,#160a37 239px,#0c0724 244px,#0f082a 250px,#290b52 257px,#480c6a 262px,#7d1e6c 273px,#9d2964 286px,#b63458 313px,#bc3754 348px,#b43359 386px,#ca404a 433px,#bf3952 491px)"></i><i style="background:linear-gradient(90deg,#bf3952 1px,#bc3754 39px,#d54a41 92px,#cd4248 134px,#ad305c 200px,#932567 213px,#63146e 222px,#3b0a63 227px,#170a39 231px,#040310 235px,#000004 239px,#010107 254px,#060416 257px,#250b4e 262px,#450b69 266px,#751b6e 274px,#972766 285px,#b2325a 308px,#bf3952 343px,#ba3655 381px,#cd4248 429px,#bf3952 491px)"></i><i style="background:linear-gradient(90deg,#bc3754 1px,#bc3754 46px,#d04545 103px,#b33359 187px,#9b2865 206px,#791c6d 215px,#470b69 222px,#270b51 225px,#060415 229px,#010005 231px,#000004 259px,#03030f 261px,#200c49 265px,#3e0a66 268px,#6b176e 274px,#932567 284px,#ad305d 300px,#bc3754 337px,#be3853 382px,#ce4347 421px,#bc3754 491px)"></i><i style="background:linear-gradient(90deg,#b83556 1px,#c53d4e 117px,#bd3853 178px,#a32c61 201px,#801f6c 212px,#4d0c6b 219px,#2c0b57 222px,#040313 226px,#000004 228px,#010006 263px,#09061f 265px,#320a5d 269px,#510e6c 272px,#7d1e6d 279px,#9c2964 289px,#b2325a 310px,#b93656 352px,#be3853 384px,#cc4248 426px,#b83556 491px)"></i><i style="background:linear-gradient(90deg,#b63457 1px,#c03a51 72px,#c53d4e 152px,#c33b4f 179px,#a82e5f 201px,#8f2469 209px,#60136e 216px,#420a68 219px,#270b52 221px,#050417 224px,#010006 225px,#000004 265px,#03020e 266px,#1f0c47 269px,#380962 271px,#5d126e 275px,#85216b 282px,#9e2a63 292px,#b1325a 321px,#bf3952 396px,#c73e4c 435px,#b63458 491px)"></i><i style="background:linear-gradient(90deg,#b93656 1px,#c43c4f 80px,#c83f4c 151px,#c63e4d 181px,#b1325a 200px,#982766 208px,#69176e 215px,#3d0965 219px,#1f0c48 221px,#07051b 223px,#010006 224px,#000004 266px,#02020d 267px,#210c4a 270px,#3a0964 272px,#60136e 276px,#87216b 283px,#9e2a63 294px,#b93656 356px,#bc3754 405px,#c13a50 442px,#b93556 491px)"></i><i style="background:linear-gradient(90deg,#bf3952 1px,#cf4446 101px,#c63e4d 186px,#b2325a 202px,#912568 210px,#61136e 216px,#3b0964 219px,#2c0b58 220px,#040314 223px,#000004 224px,#000004 266px,#010108 267px,#1f0c47 270px,#390963 272px,#61146e 276px,#88226a 283px,#9c2964 293px,#b63457 339px,#bd3853 366px,#b83556 407px,#bd3853 491px)"></i><i style="background:linear-gradient(90deg,#c13a50 1px,#c93f4b 47px,#dc513a 90px,#c53d4e 190px,#b0315b 203px,#922568 210px,#60136e 216px,#3b0964 219px,#1c0c43 221px,#040314 223px,#000004 224px,#000004 266px,#02020e 267px,#230c4c 270px,#3e0966 272px,#6d186e 277px,#902568 284px,#a22b62 296px,#b0315b 329px,#c23b50 356px,#b63458 446px,#c03a51 491px)"></i><i style="background:linear-gradient(90deg,#c23b50 1px,#c93f4b 43px,#e65c30 85px,#df5437 127px,#cf4446 172px,#c03a51 195px,#a42c61 206px,#7b1d6d 213px,#490b6a 218px,#2e0a5a 220px,#06051a 223px,#010006 224px,#010107 266px,#1e0c45 269px,#390963 271px,#62146e 275px,#89226a 281px,#a02a62 289px,#ab2f5e 309px,#ba3655 338px,#c53d4e 364px,#b53458 421px,#b2325a 451px,#c03a51 491px)"></i><i style="background:linear-gradient(90deg,#c13a50 1px,#ca404a 43px,#e9622b 82px,#e8602d 114px,#d44842 166px,#c43c4e 192px,#a62d60 205px,#83206b 212px,#4e0d6c 218px,#360a60 220px,#0f092c 223px,#010107 225px,#000004 264px,#02010a 265px,#1f0c47 268px,#380962 270px,#62146e 274px,#8f2469 281px,#a92e5f 291px,#ad305c 312px,#b63458 337px,#c43c4f 367px,#c13a50 408px,#ad305d 444px,#bf3952 491px)"></i><i style="background:linear-gradient(90deg,#bf3952 1px,#cb4149 44px,#eb6528 82px,#ea632a 111px,#d44842 166px,#c43c4e 191px,#a62d60 205px,#801f6c 213px,#500d6c 219px,#2e0a59 222px,#040313 226px,#000004 228px,#010005 262px,#08051c 264px,#350a5f 268px,#550f6d 271px,#88226a 278px,#a62d60 287px,#af315c 301px,#a42c61 329px,#bc3754 364px,#c43c4f 407px,#ad305d 446px,#bc3754 491px)"></i><i style="background:linear-gradient(90deg,#bd3853 1px,#d04545 50px,#ea6429 82px,#e8602d 109px,#d44842 163px,#c53d4e 188px,#a62d60 205px,#7c1e6d 215px,#480b6a 222px,#290b53 225px,#070417 229px,#000004 232px,#010107 258px,#060416 260px,#280b52 264px,#480b69 267px,#7e1e6c 274px,#a02a62 282px,#ad305c 292px,#a02a62 309px,#922568 327px,#b2325a 364px,#bd3853 411px,#aa2f5e 456px,#b93656 491px)"></i><i style="background:linear-gradient(90deg,#bc3754 1px,#d74b3f 57px,#e65e2e 86px,#d34743 152px,#c83f4c 183px,#a42c61 206px,#7d1e6c 217px,#4c0c6b 225px,#2c0b56 229px,#0c0722 234px,#040310 237px,#000004 244px,#040312 252px,#0c0724 255px,#380b60 261px,#61136e 266px,#932567 275px,#a82e5f 283px,#ad305d 294px,#82206c 323px,#8e2469 338px,#a92e5e 359px,#b3325a 424px,#a72d5f 463px,#b83556 491px)"></i><i style="background:linear-gradient(90deg,#ba3655 1px,#cc4149 30px,#dd5139 74px,#dd513a 98px,#ca414a 136px,#cd4248 175px,#b0315b 201px,#8c2369 217px,#510e6c 230px,#280b50 239px,#210a47 245px,#340b5c 252px,#59116d 259px,#952667 271px,#ad305c 281px,#ad305c 294px,#7d1e6d 323px,#88226a 336px,#aa2f5e 356px,#ab2f5e 409px,#a92e5f 441px,#a42c61 467px,#b73557 491px)"></i><i style="background:linear-gradient(90deg,#ba3655 1px,#ce4447 30px,#d64a40 91px,#bb3755 132px,#ce4447 174px,#bf3952 195px,#972766 218px,#5d126e 239px,#5f136e 248px,#9a2865 266px,#b2325a 277px,#b2325a 292px,#84206b 322px,#8f2469 335px,#b3325a 355px,#b3325a 373px,#aa2f5e 405px,#a62d60 441px,#a32c61 469px,#b73557 491px)"></i><i style="background:linear-gradient(90deg,#ba3655 1px,#d14644 34px,#d24644 88px,#af315c 130px,#bd3853 151px,#d24644 176px,#c73e4c 197px,#86216b 238px,#8c2369 250px,#b63457 271px,#b93656 288px,#972766 313px,#912568 327px,#be3853 356px,#b93656 379px,#aa2f5e 436px,#a12b62 461px,#b83556 491px)"></i><i style="background:linear-gradient(90deg,#ba3655 1px,#d54941 39px,#d44842 79px,#aa2f5e 130px,#b93556 151px,#d54941 178px,#ce4447 199px,#a62d60 237px,#ae305c 252px,#c23b50 274px,#b63457 296px,#9b2964 321px,#aa2f5e 337px,#c53d4e 358px,#b43359 426px,#a02a63 457px,#b0315b 482px,#b93556 491px)"></i><i style="background:linear-gradient(90deg,#bc3754 1px,#dd513a 51px,#d44842 81px,#ac2f5d 127px,#b33359 146px,#d74b3f 181px,#d14644 205px,#be3952 237px,#ca404a 275px,#a62d60 322px,#c63e4d 363px,#be3853 416px,#a02a63 455px,#ac2f5d 477px,#bb3755 491px)"></i><i style="background:linear-gradient(90deg,#c23b50 1px,#df5337 55px,#d54941 82px,#b1325a 123px,#b73557 146px,#d74b3f 185px,#d94d3d 247px,#d54941 274px,#ae305c 320px,#c23b50 379px,#c13a51 411px,#a22b62 452px,#ad305c 472px,#c13a51 491px)"></i><i style="background:linear-gradient(90deg,#cc4248 1px,#dd5139 69px,#c13a51 105px,#b53458 129px,#c53d4e 162px,#e75f2d 219px,#f37a18 245px,#f0701f 261px,#cb4149 294px,#b43359 323px,#b83556 380px,#bf3952 410px,#a92e5e 449px,#bc3854 474px,#cc4249 491px)"></i><i style="background:linear-gradient(90deg,#d64a40 1px,#d74b3f 51px,#da4e3d 80px,#b63458 125px,#bf3952 159px,#de5238 193px,#f2761b 211px,#fa950e 220px,#f9b923 229px,#f7d651 239px,#f8da59 246px,#f7d44c 253px,#fab31d 263px,#f9930e 270px,#f07020 279px,#d84d3e 293px,#bb3755 319px,#a72d5f 368px,#ba3655 414px,#b63458 448px,#d64a40 491px)"></i><i style="background:linear-gradient(90deg,#da4e3c 1px,#ce4347 45px,#da4e3c 79px,#c43c4e 106px,#b1325a 132px,#bc3754 163px,#dc503a 187px,#f2731d 200px,#fa970b 207px,#fbaf17 211px,#f7cd3c 215px,#fae871 219px,#fafd9f 226px,#fcffa4 229px,#fcffa4 263px,#f8ed78 269px,#f7e365 271px,#f9c32c 275px,#fba410 279px,#f8890e 283px,#e75f2d 292px,#cc4248 306px,#a62d60 345px,#9f2a63 373px,#b93556 418px,#c43c4e 452px,#da4e3d 485px,#da4e3c 491px)"></i><i style="background:linear-gradient(90deg,#d74b3f 1px,#c83f4b 42px,#d64a40 80px,#c43c4f 103px,#aa2f5e 132px,#b0315b 155px,#d44842 180px,#ec6727 191px,#fb9809 200px,#fbb117 203px,#f7cd3a 206px,#f7eb73 209px,#fbfda1 213px,#fcffa4 275px,#f7ec75 279px,#f7cd3a 282px,#fbae14 285px,#fa9309 288px,#e75e2e 297px,#cb4149 309px,#a62d60 336px,#9a2865 365px,#c13a51 435px,#d94c3e 477px,#d74b3f 491px)"></i><i style="background:linear-gradient(90deg,#cf4446 1px,#c13a50 42px,#ca404a 81px,#9f2a63 133px,#a72d5f 155px,#cc4149 176px,#e8602d 187px,#f98a0c 194px,#fca30b 197px,#fac32a 200px,#f3e765 203px,#f7f891 205px,#fafd9f 206px,#fcffa4 209px,#fcffa4 281px,#fafd9f 282px,#f5f07b 284px,#f6d747 286px,#fcb116 289px,#fb9b08 291px,#f68112 294px,#e55c30 300px,#c73e4c 310px,#a22b62 330px,#932567 352px,#a12b62 378px,#bb3755 415px,#d54a41 475px,#d04545 491px)"></i><i style="background:linear-gradient(90deg,#c73e4c 1px,#b93656 48px,#b1325a 86px,#8f2468 132px,#962766 152px,#be3853 173px,#df5337 184px,#f57b17 191px,#fb9606 194px,#fcab10 196px,#f7d13d 199px,#f2ed71 201px,#f6f991 202px,#fcffa4 203px,#fcffa4 285px,#f7fa95 286px,#f4e055 288px,#f8cf3a 289px,#fca60c 292px,#fa8f09 294px,#e75e2e 300px,#c83f4b 308px,#9f2a63 324px,#88226a 344px,#8e2469 363px,#b83556 400px,#d04545 472px,#c83f4b 491px)"></i><i style="background:linear-gradient(90deg,#c63d4d 1px,#9f2a63 80px,#791c6d 134px,#84206b 152px,#ac2f5d 171px,#d44842 183px,#ec6727 189px,#fa9307 194px,#fc9f07 195px,#fbb91e 197px,#f6d644 199px,#f2f484 201px,#fcffa4 202px,#fcffa4 286px,#f8fb9a 287px,#f1ef75 288px,#f4de51 289px,#fbbd22 291px,#fca108 293px,#f8880d 295px,#e15635 301px,#bf3952 309px,#942667 325px,#7c1e6d 344px,#83206b 362px,#b83556 400px,#ce4347 474px,#c63e4d 491px)"></i><i style="background:linear-gradient(90deg,#ca404a 1px,#9a2865 72px,#66166e 130px,#6d186e 148px,#8c2369 165px,#bd3853 180px,#e15635 188px,#f57c16 193px,#fa9108 195px,#fb9e07 196px,#fbb91e 198px,#f5d949 200px,#f5f78e 202px,#fcffa4 203px,#fcffa4 286px,#f7fb98 287px,#f1ec6f 288px,#f5db4c 289px,#fbba1f 291px,#fb9b06 293px,#eb6628 298px,#cf4446 304px,#a42c61 316px,#7c1d6d 337px,#731a6e 353px,#87216b 371px,#b63457 402px,#d04545 475px,#ca404a 491px)"></i><i style="background:linear-gradient(90deg,#d04545 1px,#9f2a63 67px,#62146e 118px,#5a116e 139px,#6f196e 157px,#a02a62 175px,#ce4347 186px,#ea6429 192px,#fb9607 197px,#fca20a 198px,#fabf25 200px,#f4de52 202px,#f7fa95 204px,#fcffa4 205px,#fcffa4 285px,#f6f991 286px,#f5db4c 288px,#fbbb20 290px,#fb9d07 292px,#f8860e 294px,#e55b31 299px,#c63d4d 306px,#992865 321px,#761b6e 341px,#741a6e 359px,#9c2964 386px,#bd3853 411px,#d64a40 477px,#d04545 491px)"></i><i style="background:linear-gradient(90deg,#d54a41 1px,#ae305c 60px,#6d186e 102px,#59116e 129px,#61146e 149px,#86216b 168px,#b93556 183px,#dd513a 191px,#f57e15 197px,#fa9209 199px,#fcaa10 201px,#f9c72f 203px,#f3e561 205px,#f6f17f 206px,#fcffa4 208px,#fcffa4 282px,#f6f485 284px,#f5d94a 286px,#fcae13 289px,#fb9707 291px,#ea632a 297px,#ca404a 305px,#9e2a63 322px,#7c1d6d 344px,#7d1e6c 362px,#b93556 403px,#d04545 432px,#db503b 481px,#d74b3f 491px)"></i><i style="background:linear-gradient(90deg,#d94d3d 1px,#c73e4c 42px,#b2325a 63px,#741a6e 96px,#5f136e 122px,#66166e 146px,#84206b 167px,#b63458 184px,#df5437 194px,#f57d15 200px,#fb990a 203px,#fbb016 205px,#f9c731 207px,#f7ed76 210px,#fbfda1 213px,#fcffa4 276px,#f7f283 279px,#f7ec75 280px,#f8ca35 283px,#fba911 286px,#fa9609 288px,#eb6429 295px,#cd4248 305px,#a12b62 327px,#8c2369 348px,#942667 370px,#d04545 417px,#e05536 476px,#da4e3d 491px)"></i><i style="background:linear-gradient(90deg,#d94c3e 1px,#ce4447 39px,#bf3952 59px,#7f1e6c 91px,#69166e 112px,#6e186e 142px,#8c2369 168px,#bc3754 187px,#e15734 198px,#f7860f 206px,#fb9e0e 209px,#fab920 212px,#f6d548 215px,#f8e66c 217px,#fcffa4 224px,#fbfea3 265px,#f9e56a 272px,#f8c52f 276px,#fbab15 279px,#f98e0c 283px,#e9612b 292px,#ce4447 305px,#a72d5f 336px,#a12b62 358px,#b93556 389px,#d94c3e 422px,#df5437 477px,#da4e3d 491px)"></i><i style="background:linear-gradient(90deg,#d34743 1px,#ca404a 29px,#c63e4d 54px,#a32c61 76px,#7c1d6d 99px,#71196e 122px,#84206b 156px,#b2325a 184px,#dc513a 201px,#f78710 215px,#faa515 221px,#f7c633 228px,#fbde62 236px,#fbe269 246px,#fadc5f 252px,#f9ba26 262px,#f99410 270px,#f47a17 276px,#df5437 290px,#c53d4e 313px,#b0315b 345px,#b93656 377px,#d94c3e 422px,#dc503a 476px,#d44842 491px)"></i><i style="background:linear-gradient(90deg,#c63d4d 1px,#bd3853 27px,#c03a51 55px,#a32c61 79px,#82206c 105px,#7e1e6c 131px,#972766 162px,#d04545 200px,#ee6d22 228px,#f0751c 245px,#dd5239 274px,#c83f4c 303px,#b63458 347px,#ca404a 397px,#d54a40 453px,#cd4348 483px,#c73e4c 491px)"></i><i style="background:linear-gradient(90deg,#b53458 1px,#ac2f5d 25px,#b63457 59px,#8b236a 118px,#922568 146px,#ca404a 196px,#cf4446 224px,#bc3854 290px,#b53458 335px,#ba3655 371px,#c83f4b 417px,#c83f4c 470px,#b63457 491px)"></i><i style="background:linear-gradient(90deg,#a82e5f 1px,#9f2a63 25px,#ae305c 66px,#9b2865 129px,#a92e5f 155px,#ca404a 188px,#c73e4c 211px,#9c2964 249px,#ab2f5d 291px,#b1325a 327px,#b73557 383px,#be3853 465px,#a92e5f 491px)"></i><i style="background:linear-gradient(90deg,#a62d60 1px,#9c2964 27px,#a92e5e 80px,#b3325a 149px,#cc4149 192px,#bf3952 214px,#82206c 244px,#801f6c 258px,#a92e5f 304px,#b73557 434px,#ba3655 465px,#a62d60 491px)"></i><i style="background:linear-gradient(90deg,#ad305c 1px,#a22b61 35px,#b63457 114px,#c53d4e 200px,#b2325a 217px,#71196e 240px,#65156e 251px,#7e1e6c 268px,#9f2a63 292px,#af315c 323px,#ad305d 408px,#c13a51 455px,#ae305c 491px)"></i><i style="background:linear-gradient(90deg,#b73557 1px,#aa2f5e 44px,#bc3754 110px,#c43c4f 143px,#bc3754 189px,#b43359 209px,#972766 222px,#59116d 238px,#470b69 247px,#500e6c 256px,#8f2469 278px,#a92e5e 297px,#b43359 325px,#ac2f5d 402px,#c63e4d 446px,#b73557 491px)"></i><i style="background:linear-gradient(90deg,#b93556 1px,#b63457 53px,#c23b50 145px,#b3325a 189px,#a92e5f 208px,#8d2369 219px,#530f6c 231px,#2b0b54 239px,#190a3c 246px,#1e0b44 252px,#410a66 261px,#711a6e 271px,#9b2865 284px,#b33359 304px,#b93556 332px,#ac2f5d 393px,#c93f4b 439px,#b93656 491px)"></i><i style="background:linear-gradient(90deg,#b43359 1px,#c83f4c 78px,#b73557 168px,#a62d60 203px,#8b236a 215px,#550f6d 225px,#390a61 229px,#0f082c 235px,#060414 238px,#000004 246px,#02020c 254px,#0a0620 258px,#2d0b57 264px,#4b0c6b 268px,#82206c 278px,#a42c61 290px,#bb3755 313px,#b93656 342px,#ad305c 388px,#c23b50 418px,#c93f4b 440px,#b2325a 479px,#b43359 491px)"></i><i style="background:linear-gradient(90deg,#b0315b 1px,#d54a40 60px,#cd4248 95px,#bf3952 139px,#b93556 180px,#a22b62 203px,#811f6c 214px,#4f0d6c 222px,#360a5f 225px,#0b0722 230px,#03020d 232px,#000004 235px,#010107 261px,#09061e 264px,#320a5d 269px,#550f6d 273px,#88226a 282px,#a92e5e 294px,#c23b50 316px,#c03a51 342px,#b0315b 382px,#bc3754 408px,#c93f4b 433px,#ab2f5e 474px,#b0315b 491px)"></i><i style="background:linear-gradient(90deg,#b0315b 1px,#df5337 52px,#dd5139 83px,#c83f4c 130px,#c83f4b 171px,#ad305c 197px,#8f2469 209px,#61146e 217px,#3f0a66 221px,#2a0b55 223px,#060416 227px,#000004 229px,#000004 265px,#050313 267px,#280b52 271px,#470b69 274px,#7c1d6d 281px,#a62d60 291px,#c63e4d 308px,#d24644 326px,#c13a50 355px,#b43359 386px,#c73e4c 430px,#a92e5e 473px,#b0315b 491px)"></i><i style="background:linear-gradient(90deg,#b43359 1px,#db503b 37px,#e65e2e 59px,#d84c3e 125px,#de5338 164px,#c43c4e 188px,#9f2a63 204px,#741a6e 213px,#410a67 219px,#2a0b55 221px,#03020e 225px,#000004 227px,#000004 268px,#02010b 269px,#1b0c41 272px,#330a5e 274px,#540f6d 277px,#8f2469 285px,#b83556 295px,#d84c3e 310px,#e25834 327px,#cc4248 355px,#bc3754 382px,#c53d4e 433px,#ad305d 475px,#b33359 491px)"></i><i style="background:linear-gradient(90deg,#b73557 1px,#d94d3d 33px,#e75e2e 57px,#e05536 105px,#f1731d 154px,#ea6429 171px,#c83f4b 192px,#9f2a63 205px,#6e186e 213px,#3e0a66 218px,#240c4f 220px,#050315 223px,#010006 224px,#000004 270px,#0b0724 272px,#2f0a5a 275px,#480b6a 277px,#7f1e6c 283px,#b63457 293px,#df5337 307px,#ee6b24 323px,#e8612c 338px,#cc4149 367px,#c33b4f 401px,#c13a50 440px,#b3325a 478px,#b63457 491px)"></i><i style="background:linear-gradient(90deg,#b73557 1px,#d74b3f 35px,#e15734 59px,#de5338 96px,#ef6d22 122px,#f98d0a 148px,#f8850f 163px,#e55b31 183px,#bb3755 199px,#88226a 209px,#4c0c6b 216px,#330a5e 218px,#0d0829 221px,#000004 223px,#000004 271px,#03020e 272px,#210c4a 275px,#3b0964 277px,#65156e 281px,#9f2a63 289px,#d04545 300px,#ef6c23 315px,#f37819 326px,#ec6727 342px,#d54941 366px,#b63458 486px,#b73557 491px)"></i><i style="background:linear-gradient(90deg,#b63458 1px,#d54a40 49px,#d54a40 92px,#e9622b 115px,#fa8f08 143px,#fa9008 158px,#ef6c23 177px,#cb4149 194px,#9d2964 205px,#64156e 213px,#380962 217px,#1d0c44 219px,#010108 222px,#000004 231px,#000004 272px,#0b0725 274px,#300a5b 277px,#510e6c 280px,#8f2469 288px,#c9404b 300px,#ea632a 312px,#f47a17 324px,#f2731d 337px,#de5238 362px,#b93556 465px,#b53458 491px)"></i><i style="background:linear-gradient(90deg,#b43359 1px,#c73e4c 44px,#c33c4f 84px,#de5238 111px,#f67f14 140px,#f78212 156px,#ea6429 175px,#ca404a 192px,#9b2964 204px,#68166e 212px,#400a67 216px,#270b52 218px,#06051a 221px,#010106 222px,#000004 272px,#02020d 273px,#290b54 277px,#480b6a 280px,#84206b 288px,#c73e4c 302px,#ea632a 315px,#f2751b 327px,#ed6925 343px,#df5437 366px,#b93556 462px,#b33359 491px)"></i><i style="background:linear-gradient(90deg,#b43359 1px,#c03a51 38px,#b43359 74px,#ca404a 104px,#ed6a24 137px,#ef6e21 155px,#db4f3b 179px,#b33359 197px,#84206b 208px,#500d6c 215px,#300a5b 218px,#0d0829 221px,#010108 223px,#000004 243px,#010107 272px,#1f0c47 276px,#340a5f 278px,#57106e 282px,#972766 293px,#d24644 308px,#ea632a 322px,#eb6528 337px,#dd513a 368px,#c53d4e 427px,#b3325a 487px,#b33359 491px)"></i><i style="background:linear-gradient(90deg,#b63457 1px,#bf3952 36px,#b2325a 73px,#c63e4d 106px,#e75f2d 140px,#e65d2f 159px,#c93f4b 186px,#a02a62 203px,#741a6e 212px,#440b68 218px,#240b4d 221px,#07051a 224px,#010005 226px,#000004 269px,#040311 271px,#230c4c 275px,#3e0a66 278px,#6d186e 285px,#ab2f5e 299px,#d24743 313px,#e05536 329px,#d54941 377px,#b63458 467px,#b63457 491px)"></i><i style="background:linear-gradient(90deg,#b83556 1px,#bc3754 50px,#bd3853 92px,#da4e3d 126px,#e45932 149px,#cc4248 181px,#aa2f5e 202px,#84206b 212px,#4d0d6b 220px,#300a5a 223px,#0b0722 227px,#02020c 229px,#000004 232px,#000004 265px,#060416 268px,#2a0b55 273px,#4b0c6b 277px,#84206b 288px,#b93656 305px,#d14644 323px,#c63d4d 404px,#b63457 467px,#b83556 491px)"></i><i style="background:linear-gradient(90deg,#b63457 1px,#c23b50 73px,#c93f4b 107px,#e05536 143px,#cd4248 175px,#b3325a 201px,#942667 212px,#5b116e 222px,#3b0a63 226px,#180a3b 230px,#040310 234px,#000004 238px,#010005 259px,#08051a 263px,#2e0b58 269px,#4b0c6b 273px,#83206b 284px,#af315c 300px,#c63d4d 318px,#be3853 424px,#b63458 466px,#b63457 491px)"></i><i style="background:linear-gradient(90deg,#b3325a 1px,#bc3754 34px,#c63e4d 65px,#cb4149 106px,#da4e3d 142px,#b3325a 204px,#972766 215px,#58106d 227px,#310b5a 233px,#0e0728 240px,#070416 245px,#080519 252px,#1b0a3f 259px,#3d0a64 265px,#68166e 273px,#952667 285px,#b83556 304px,#c13a50 324px,#bf3952 372px,#b33359 442px,#b3325a 491px)"></i><i style="background:linear-gradient(90deg,#af315c 1px,#c53d4e 60px,#cb4149 106px,#d24743 141px,#bb3755 184px,#b53458 206px,#972766 219px,#56106d 234px,#350b5d 244px,#370b5f 252px,#59116d 263px,#952667 280px,#b63457 300px,#bf3952 327px,#b2325a 431px,#aa2f5e 469px,#ae305c 491px)"></i><i style="background:linear-gradient(90deg,#ad305c 1px,#c33b4f 51px,#c53d4e 95px,#ca404a 143px,#ba3655 180px,#b83556 207px,#9c2964 222px,#65156e 241px,#61136e 251px,#801f6c 266px,#a82e5f 283px,#bc3754 306px,#b43359 410px,#a32c61 463px,#ad305d 491px)"></i><i style="background:linear-gradient(90deg,#b0315b 1px,#c43c4f 38px,#c43c4f 105px,#bc3754 183px,#bb3755 208px,#992865 229px,#811f6c 244px,#88226a 257px,#b63458 284px,#bf3952 313px,#b63458 405px,#a22b62 450px,#ac2f5d 486px,#b0315b 491px)"></i><i style="background:linear-gradient(90deg,#b63458 1px,#c73e4c 31px,#c13a50 86px,#b83556 164px,#c13a50 202px,#aa2f5e 227px,#9c2964 246px,#ae305c 265px,#c43c4e 288px,#bc3754 345px,#b93656 401px,#a62d60 439px,#ac2f5d 479px,#b53458 491px)"></i><i style="background:linear-gradient(90deg,#b83556 1px,#c83f4c 30px,#c13a50 83px,#b93656 116px,#ad305c 148px,#c63d4d 200px,#b73557 244px,#d04545 285px,#b93656 362px,#bc3754 401px,#ab2f5e 442px,#b1325a 482px,#b83556 491px)"></i><i style="background:linear-gradient(90deg,#b63458 1px,#c23b50 34px,#c13a50 88px,#b63457 116px,#a32c61 145px,#b2325a 168px,#cc4149 197px,#da4f3b 253px,#dd5139 284px,#b43359 341px,#b93556 376px,#c03a51 407px,#af315c 462px,#b63458 491px)"></i><i style="background:linear-gradient(90deg,#b0315b 1px,#b63457 49px,#b93656 104px,#9b2964 143px,#aa2f5e 164px,#d54a40 199px,#ed6b24 232px,#f57f14 253px,#f06f20 273px,#cc4149 308px,#a62d60 338px,#a62d60 365px,#c53d4e 406px,#af315c 486px,#b1325a 491px)"></i><i style="background:linear-gradient(90deg,#aa2f5e 1px,#ac2f5d 103px,#952667 142px,#a62d60 162px,#dd5139 199px,#f2761b 216px,#f9930d 225px,#faba23 236px,#f6d144 247px,#f7cf40 255px,#fbb119 267px,#fa930a 275px,#e25734 294px,#b33359 318px,#912568 341px,#8f2468 360px,#af315c 387px,#c83f4b 411px,#c13a50 442px,#ad305c 489px,#ad305c 491px)"></i><i style="background:linear-gradient(90deg,#a82e5f 1px,#9a2865 102px,#8d2369 137px,#a32c61 161px,#d74b3f 192px,#f0701f 206px,#fa960a 214px,#fbaf16 218px,#f7d140 223px,#f8ed78 228px,#fcffa4 236px,#fcffa4 263px,#f7e76d 272px,#fabe25 278px,#fba20c 282px,#f8890d 286px,#e15734 297px,#b83556 313px,#83206b 337px,#761b6d 355px,#85216b 373px,#c33b4f 407px,#cb4149 430px,#ad305d 491px)"></i><i style="background:linear-gradient(90deg,#a82e5f 1px,#9b2865 61px,#82206c 128px,#952667 152px,#cd4248 185px,#e65d2f 197px,#f8890d 206px,#fb9d09 209px,#fbb61b 212px,#f5dc51 216px,#f7f385 219px,#fbfea3 222px,#fbfda1 277px,#f7ec75 281px,#f7cd3a 284px,#fba60e 288px,#f98c0c 291px,#e45a31 299px,#bf3952 310px,#86216b 329px,#66166e 347px,#66166e 363px,#88226a 382px,#be3853 407px,#ce4347 428px,#bf3952 460px,#ad305c 491px)"></i><i style="background:linear-gradient(90deg,#a82e5f 1px,#932667 69px,#7c1e6d 120px,#88226a 142px,#bf3952 175px,#e05536 191px,#f2751b 199px,#fb9808 204px,#fbb318 207px,#f6d443 210px,#f7f385 213px,#fafd9f 215px,#fcffa4 218px,#fcffa4 284px,#f7ee7a 287px,#f6d647 289px,#fbb016 292px,#fb990a 294px,#f2751b 298px,#db503b 304px,#ad305c 315px,#731a6e 334px,#59116e 350px,#60136e 366px,#972766 390px,#c23b50 411px,#d14644 433px,#bf3952 464px,#ae305c 491px)"></i><i style="background:linear-gradient(90deg,#a82e5f 1px,#932667 74px,#801f6c 117px,#8b236a 139px,#be3853 170px,#e05536 187px,#f57c16 196px,#fb9908 200px,#fbb61b 203px,#f5d94b 206px,#f5f07b 208px,#f9fc9b 210px,#fcffa4 211px,#fcffa4 289px,#f7f589 291px,#f5e05a 293px,#f9c42c 295px,#fba910 297px,#fa910b 299px,#e55c30 305px,#c03a51 313px,#8c2369 326px,#63146e 342px,#59116e 357px,#711a6e 374px,#b3325a 401px,#d04545 422px,#cf4446 446px,#af315c 486px,#ae305c 491px)"></i><i style="background:linear-gradient(90deg,#a82e5f 1px,#9b2865 76px,#8c2369 117px,#9c2964 141px,#cb4149 170px,#e9622b 185px,#f88a0d 193px,#fba10b 196px,#fabe25 199px,#f4df57 202px,#f7f385 204px,#fbfea3 206px,#fcffa4 294px,#f6e96e 297px,#fac028 300px,#fba610 302px,#f78610 305px,#e25834 311px,#b93655 320px,#84206b 335px,#6d186e 350px,#741a6e 366px,#ad305c 395px,#ce4447 417px,#d34743 440px,#ad305c 483px,#ad305c 491px)"></i><i style="background:linear-gradient(90deg,#a92e5f 1px,#a62d60 70px,#a02b62 118px,#b93656 148px,#de5238 171px,#f1731d 182px,#fb9808 189px,#fcad13 192px,#f9c832 195px,#f3e866 198px,#f7f891 200px,#fafd9f 201px,#fcffa4 204px,#fcffa4 299px,#f5ec72 302px,#f6d343 304px,#fbaf16 307px,#f9920c 310px,#e8612c 317px,#c73f4c 326px,#9b2864 342px,#8d2469 357px,#9f2a63 378px,#ce4447 414px,#d24644 439px,#ac2f5d 481px,#ad305d 491px)"></i><i style="background:linear-gradient(90deg,#ad305d 1px,#b0315b 48px,#b33359 122px,#c93f4b 153px,#e65c30 172px,#f78410 183px,#fb9b06 187px,#fbb91e 191px,#f7d441 194px,#f2f37f 197px,#f7fb98 198px,#fcffa4 199px,#fcffa4 303px,#f9fc9b 304px,#f2e967 306px,#f9c831 309px,#fca30a 313px,#f98d0a 316px,#e45a31 326px,#c33c4f 340px,#af315b 358px,#b93556 384px,#d14644 420px,#ca404a 445px,#ad305c 478px,#b0315b 491px)"></i><i style="background:linear-gradient(90deg,#b53458 1px,#b63457 45px,#b93556 91px,#c13a50 151px,#da4e3c 172px,#f1731d 184px,#fa960a 190px,#fbac12 193px,#f8c933 196px,#f4ea6d 199px,#f7f385 200px,#fbfda1 202px,#fcffa4 302px,#f4f483 304px,#f6d746 307px,#fbba1f 310px,#fb9c07 314px,#ef6e21 323px,#d84c3e 337px,#c13a50 361px,#c53d4e 392px,#cc4248 427px,#b2325a 478px,#b63457 491px)"></i><i style="background:linear-gradient(90deg,#be3952 1px,#bc3754 43px,#bc3754 88px,#c13a51 118px,#b73557 155px,#cc4249 175px,#e75f2e 187px,#f78411 194px,#fb9b0b 197px,#faba20 200px,#f5dd54 203px,#f7f283 205px,#fbfda1 207px,#fcffa4 298px,#f7f78d 300px,#f5da4c 303px,#fbbc22 306px,#fca40b 309px,#fa8f09 312px,#ec6726 322px,#d94d3d 338px,#c53d4e 379px,#c53d4e 437px,#b93556 474px,#bf3952 491px)"></i><i style="background:linear-gradient(90deg,#c73e4c 1px,#bf3952 87px,#c13a51 117px,#b0315b 155px,#be3853 174px,#da4e3d 188px,#f2741c 197px,#fa9309 201px,#fbaf15 204px,#f7d240 207px,#f7f487 210px,#fbfea3 212px,#fcffa4 294px,#f7f68b 296px,#f8cf3b 300px,#fcac11 304px,#fb9707 307px,#f0701f 315px,#e05536 328px,#cc4248 368px,#c43c4e 414px,#c13a50 477px,#c73e4c 491px)"></i><i style="background:linear-gradient(90deg,#ca404a 1px,#bc3754 118px,#ad305d 154px,#bc3754 177px,#db4f3b 193px,#f0701f 201px,#fa940a 206px,#fbb016 209px,#f7d140 212px,#f8f17f 215px,#fcffa4 218px,#fcffa4 288px,#f6ee78 292px,#f7d341 295px,#fbb116 299px,#fb9c08 302px,#f47819 309px,#e55b31 320px,#d54a41 340px,#c63d4d 392px,#c53d4e 432px,#ca404a 486px,#cb4149 491px)"></i><i style="background:linear-gradient(90deg,#ca404a 1px,#bd3853 109px,#ac2f5d 149px,#bc3754 180px,#d74b3f 196px,#ef6e21 206px,#fa950b 212px,#fbad15 215px,#f8c935 218px,#f8ed78 222px,#fcffa4 227px,#fbfda1 279px,#f8ed78 284px,#f8c833 289px,#fbab13 293px,#fa940a 297px,#ec6727 309px,#d84c3e 326px,#d04545 351px,#cc4149 385px,#c23b50 417px,#c83f4b 471px,#ca404a 491px)"></i><i style="background:linear-gradient(90deg,#c43c4f 1px,#c43c4f 97px,#b2325a 149px,#c13a50 188px,#dd5239 205px,#f47b17 216px,#fa980d 221px,#fab921 226px,#fae871 234px,#f9fc9d 246px,#fbfea3 254px,#f7f891 262px,#fae66e 271px,#f9c22c 278px,#fba612 283px,#f8890e 289px,#e8602c 303px,#ce4347 327px,#c83f4c 351px,#cc4248 385px,#c33b4f 423px,#c83f4c 466px,#c53d4e 491px)"></i><i style="background:linear-gradient(90deg,#ba3655 1px,#bc3754 42px,#cb4149 89px,#bd3853 182px,#cb4149 203px,#e65e2e 219px,#f78910 233px,#faaa19 247px,#faa817 259px,#f78710 273px,#e45a31 292px,#c43c4e 327px,#be3853 350px,#c83f4b 387px,#c23b50 431px,#c13a50 472px,#ba3655 491px)"></i><i style="background:linear-gradient(90deg,#b0315b 1px,#ac2f5d 31px,#d24644 89px,#c9404b 165px,#bf3952 197px,#da4f3c 226px,#e8612c 253px,#e25833 273px,#c73e4c 309px,#b63458 347px,#c03a51 399px,#bc3754 472px,#b1325a 491px)"></i><i style="background:linear-gradient(90deg,#ad305d 1px,#a52c60 31px,#be3853 61px,#d64a40 90px,#d44842 162px,#bc3754 199px,#c73e4c 238px,#cb4149 258px,#cd4348 279px,#b2325a 349px,#b93556 464px,#ad305d 491px)"></i><i style="background:linear-gradient(90deg,#ad305c 1px,#a72d5f 35px,#c63d4d 69px,#d94d3d 98px,#d54941 168px,#ba3655 207px,#b43359 232px,#a62d60 248px,#c43c4f 272px,#af315c 387px,#b43359 448px,#ad305c 491px)"></i><i style="background:linear-gradient(90deg,#af315c 1px,#b2325a 44px,#d64a40 95px,#d34743 144px,#d54a41 174px,#b63457 218px,#a42c61 232px,#84206b 246px,#8d2469 254px,#b93556 269px,#bf3952 284px,#be3853 328px,#b83556 356px,#ad305d 386px,#b33359 435px,#b0315b 485px,#b0315b 491px)"></i><i style="background:linear-gradient(90deg,#b0315b 1px,#c73e4c 72px,#d24644 105px,#ce4347 140px,#db4f3b 174px,#b73557 216px,#a22b62 228px,#60136e 243px,#59116d 249px,#711a6e 256px,#ad305c 268px,#bf3952 278px,#c83f4c 319px,#cb4149 345px,#b0315b 384px,#b53458 438px,#af315c 485px,#b0315b 491px)"></i><i style="background:linear-gradient(90deg,#b0315b 1px,#cb4149 95px,#ce4447 139px,#e25734 173px,#d14644 197px,#ab2f5e 222px,#88226a 230px,#4c0d6a 238px,#290a4f 243px,#1c0940 247px,#220a47 251px,#410c65 256px,#6d186e 261px,#9f2a63 268px,#ba3655 276px,#d94d3d 319px,#df5437 340px,#c13a50 368px,#b33359 390px,#b73557 450px,#b0315b 491px)"></i><i style="background:linear-gradient(90deg,#b0315b 1px,#bf3952 56px,#ce4347 129px,#ea632a 169px,#e25734 188px,#b53458 216px,#9a2865 224px,#65156e 231px,#460b68 234px,#210a47 237px,#080518 240px,#000004 244px,#000004 252px,#0a061d 256px,#260a4d 259px,#400b65 261px,#6f196e 265px,#9f2a63 271px,#ba3655 278px,#e25833 312px,#ef6e21 331px,#eb6528 345px,#c33b4f 373px,#b33359 395px,#bc3754 452px,#b0315b 491px)"></i><i style="background:linear-gradient(90deg,#b3325a 1px,#b83556 60px,#c03a51 100px,#d94d3d 133px,#f1711f 164px,#ef6e21 179px,#d64a40 200px,#ab2f5e 218px,#84206b 225px,#520e6c 230px,#370a60 232px,#190a3c 234px,#040312 236px,#000004 238px,#000004 258px,#060414 260px,#1a0a3e 262px,#3a0a62 264px,#64156e 267px,#932667 272px,#b2325a 278px,#d14644 293px,#f47819 320px,#f78410 333px,#f1731d 347px,#cb4149 371px,#b3325a 392px,#b93556 423px,#c03a51 454px,#b3325a 491px)"></i><i style="background:linear-gradient(90deg,#b73557 1px,#b63458 58px,#b63458 89px,#ce4447 118px,#f3771a 151px,#f78410 167px,#f1711f 183px,#d04545 203px,#a92e5e 217px,#7f1e6c 224px,#530f6d 228px,#340a5e 230px,#240b4d 231px,#07051a 233px,#010108 234px,#000004 254px,#010006 262px,#050313 263px,#200b47 265px,#310a5c 266px,#510e6c 268px,#87216b 273px,#aa2f5e 279px,#d54941 295px,#f47a17 316px,#f98d09 329px,#f8850f 341px,#e15635 361px,#c13a51 380px,#b2325a 399px,#c43c4e 452px,#b73557 491px)"></i><i style="background:linear-gradient(90deg,#bd3853 1px,#ba3655 53px,#b3325a 88px,#c83f4b 112px,#eb6528 134px,#f98c0a 155px,#f98c0a 169px,#ed6a24 187px,#bf3952 209px,#9a2865 219px,#69166e 225px,#410a67 228px,#300a5b 229px,#0d0828 231px,#03020d 232px,#000004 233px,#010005 264px,#050416 265px,#340a5e 268px,#510e6c 270px,#84206b 275px,#a92e5f 282px,#e15635 303px,#f68013 321px,#f8870e 334px,#ec6726 352px,#cc4248 373px,#b73557 395px,#bf3952 425px,#c63e4d 456px,#bd3853 491px)"></i><i style="background:linear-gradient(90deg,#c13a51 1px,#bf3952 52px,#b43359 90px,#c43c4e 109px,#e45a31 127px,#f98b0b 148px,#fa9207 162px,#f57c16 177px,#d74b3f 197px,#a72d5f 215px,#87216b 221px,#540f6d 226px,#340a5f 228px,#230c4c 229px,#040313 231px,#000004 232px,#000004 265px,#030311 266px,#1e0c45 268px,#2f0a5a 269px,#4c0c6b 271px,#7b1d6d 276px,#a22b62 284px,#de5238 306px,#f1721e 324px,#ef6e21 339px,#cb4149 372px,#bb3755 401px,#c63d4d 458px,#c13a51 491px)"></i><i style="background:linear-gradient(90deg,#c53d4e 1px,#c43c4f 46px,#b63457 91px,#c73e4c 111px,#ea632a 132px,#f78410 150px,#f78410 163px,#e35932 186px,#a92e5e 213px,#8a226a 220px,#5d126e 225px,#430a68 227px,#320a5e 228px,#200c49 229px,#030210 231px,#000004 232px,#010107 266px,#160b39 268px,#350a60 270px,#59106e 273px,#811f6c 279px,#b43359 295px,#db503b 314px,#e35932 332px,#c43c4e 374px,#be3853 418px,#c43c4f 491px)"></i><i style="background:linear-gradient(90deg,#c63e4d 1px,#c73e4c 39px,#b83556 85px,#c53d4e 109px,#e9612b 136px,#f2731d 154px,#ea6429 172px,#c13a50 199px,#9a2865 216px,#7a1d6d 222px,#470b6a 227px,#380962 228px,#160b38 230px,#010006 232px,#000004 265px,#040312 266px,#2a0b55 269px,#440a69 271px,#6d186e 276px,#922568 286px,#c63e4d 313px,#ce4347 332px,#bf3952 374px,#c33b4f 483px,#c63d4d 491px)"></i><i style="background:linear-gradient(90deg,#c53d4e 1px,#c83f4b 35px,#b93556 77px,#ca404a 113px,#e65e2e 148px,#e25833 167px,#bd3853 196px,#922568 217px,#6b176e 224px,#410a67 228px,#320a5e 229px,#07051c 232px,#010108 233px,#000004 253px,#000004 263px,#02010a 264px,#200c48 267px,#3c0a64 269px,#61146e 273px,#83206b 280px,#b1325a 307px,#be3853 328px,#bc3754 372px,#bf3952 415px,#c43c4f 489px,#c43c4e 491px)"></i><i style="background:linear-gradient(90deg,#be3853 1px,#c53d4e 37px,#bb3755 76px,#d74b3f 135px,#dc503a 163px,#c23b50 189px,#8b236a 218px,#67166e 225px,#430a68 229px,#280b52 231px,#060416 234px,#000004 236px,#010107 261px,#040310 262px,#240b4d 265px,#3e0a65 267px,#65156e 271px,#84206b 277px,#9f2a63 292px,#b63457 322px,#bb3755 366px,#c43c4f 404px,#be3853 491px)"></i><i style="background:linear-gradient(90deg,#b33359 1px,#c03a51 42px,#c03a51 81px,#d94c3e 163px,#c43c4e 187px,#86216b 220px,#65156e 227px,#430a67 231px,#210b48 234px,#060416 237px,#000004 240px,#000004 256px,#08051b 259px,#310a5b 263px,#540f6d 266px,#7f1e6c 272px,#9a2865 280px,#b3325a 306px,#bf3952 369px,#c23b50 419px,#be3853 463px,#b33359 491px)"></i><i style="background:linear-gradient(90deg,#ab2f5e 1px,#bc3754 46px,#cd4248 135px,#d74b3f 167px,#c23b50 190px,#8a226a 222px,#65156e 230px,#400b66 235px,#170a38 240px,#0a051c 243px,#040312 248px,#080518 252px,#1a0a3d 256px,#3d0a64 260px,#69166e 265px,#952667 273px,#ac2f5d 285px,#b93656 314px,#bc3754 361px,#bf3952 408px,#c13a51 457px,#ab2f5e 491px)"></i><i style="background:linear-gradient(90deg,#a82e5f 1px,#bc3754 46px,#c63e4d 130px,#d64a40 165px,#c73e4c 187px,#922568 224px,#6a176e 234px,#3c0b62 243px,#320b5b 249px,#470c68 255px,#7b1d6d 264px,#9f2a63 273px,#b53458 287px,#bb3755 316px,#b93656 357px,#be3853 393px,#c03a51 430px,#bc3754 458px,#a82e5f 491px)"></i><i style="background:linear-gradient(90deg,#ab2f5e 1px,#bf3952 45px,#bf3952 123px,#d24644 162px,#c43c4f 189px,#9b2964 226px,#64156e 245px,#65156e 252px,#a62d60 273px,#ba3655 292px,#b53458 329px,#b83556 362px,#bc3754 396px,#ba3655 454px,#aa2f5e 490px,#aa2f5e 491px)"></i><i style="background:linear-gradient(90deg,#b1325a 1px,#c33b4f 41px,#b63457 112px,#cc4248 160px,#b93556 200px,#9e2a63 231px,#83206b 248px,#922568 260px,#b33359 280px,#bc3754 306px,#ad305c 346px,#bf3952 395px,#ba3655 450px,#b0315b 486px,#b1325a 491px)"></i><i style="background:linear-gradient(90deg,#b93556 1px,#c83f4c 40px,#b43359 101px,#c43c4e 139px,#c63e4d 166px,#a62d60 241px,#a62d60 257px,#bf3952 291px,#b43359 320px,#aa2f5e 348px,#c43c4e 405px,#b63458 486px,#b83556 491px)"></i><i style="background:linear-gradient(90deg,#bc3754 1px,#ce4447 41px,#b93656 99px,#c73e4c 154px,#c43c4f 191px,#c03a51 221px,#ce4446 251px,#c33b4f 310px,#ac2f5d 345px,#b63457 374px,#cb4149 409px,#b93656 482px,#bc3754 491px)"></i><i style="background:linear-gradient(90deg,#bf3952 1px,#d84c3e 42px,#c23b50 97px,#ca404a 155px,#c83f4b 179px,#d34743 200px,#d64b3f 217px,#ef7020 233px,#f68916 243px,#f79018 254px,#f27919 267px,#e05635 286px,#c33c4f 323px,#af315c 353px,#b73557 377px,#cf4446 408px,#ba3655 476px,#bf3952 491px)"></i><i style="background:linear-gradient(90deg,#c13a50 1px,#df5437 42px,#d04545 74px,#c73e4c 102px,#ce4347 160px,#d34743 178px,#e8602c 199px,#ec6826 212px,#f57f15 219px,#fa9d14 224px,#f9ba26 228px,#fbdd61 233px,#f7f993 244px,#fafd9f 251px,#f7f993 258px,#fbe066 269px,#f9bd28 275px,#fa9d12 280px,#f68212 286px,#ec6727 299px,#d24644 323px,#b43359 350px,#b3325a 373px,#d24644 410px,#c63d4d 443px,#bc3754 478px,#c13a51 491px)"></i><i style="background:linear-gradient(90deg,#c83f4c 1px,#e25734 40px,#da4e3d 63px,#c43c4e 96px,#d24743 161px,#db4f3b 177px,#f47b17 198px,#f98f0b 209px,#fba912 214px,#f9c029 217px,#f6dc56 220px,#f9ec77 222px,#fbfea3 226px,#fbfea3 277px,#f9ea74 282px,#f6d344 285px,#fbb61d 289px,#fb9d0b 294px,#f68212 304px,#dc503a 323px,#be3853 342px,#b0315b 365px,#bc3754 387px,#d24743 416px,#c43c4e 460px,#c63e4d 490px,#c73e4c 491px)"></i><i style="background:linear-gradient(90deg,#ce4447 1px,#e05536 42px,#cf4446 67px,#b93656 94px,#d34743 156px,#dd513a 175px,#f3771a 190px,#fb9707 201px,#fcab11 206px,#f9c72f 210px,#f4e25c 213px,#f7f385 215px,#fcffa4 218px,#fcffa4 286px,#f7f589 289px,#f6d849 293px,#fabf25 297px,#fca30a 303px,#f98b0b 309px,#db503b 325px,#bd3853 342px,#ae305c 370px,#c63d4d 403px,#d44842 431px,#cc4248 486px,#ce4347 491px)"></i><i style="background:linear-gradient(90deg,#d24743 1px,#d84c3e 44px,#aa2f5e 90px,#b53458 114px,#ce4347 147px,#d94d3d 174px,#ed6a24 187px,#fb9706 199px,#fcae13 203px,#fac52c 206px,#f6d746 208px,#f2ed71 210px,#f6f78d 211px,#f9fc9d 212px,#fcffa4 214px,#fcffa4 291px,#fafd9f 292px,#f5f890 293px,#f4de51 296px,#fac026 300px,#fca60c 304px,#fa9108 308px,#e05536 322px,#c33b4f 335px,#b1325a 358px,#b53458 390px,#d44842 437px,#d24743 491px)"></i><i style="background:linear-gradient(90deg,#d24743 1px,#ce4447 41px,#a12b62 85px,#a72d5f 108px,#c83f4b 146px,#d44842 176px,#e75f2d 188px,#f78311 197px,#fb9b07 201px,#fcb519 204px,#f6d644 207px,#f1f179 209px,#f8fb9a 210px,#fcffa4 211px,#fcffa4 292px,#f7fb98 293px,#f2e661 295px,#f8cf3a 297px,#fcaa0f 301px,#fa9508 304px,#e45b31 316px,#c63d4d 329px,#b33359 347px,#b53458 396px,#d04545 444px,#d24743 491px)"></i><i style="background:linear-gradient(90deg,#ce4347 1px,#c73e4c 37px,#9f2a63 79px,#a62d60 103px,#c43c4f 143px,#ca414a 178px,#e25833 192px,#f57e14 200px,#fb9708 203px,#fcad12 205px,#f9c62e 207px,#f3e45e 209px,#f9fc9d 211px,#fcffa4 213px,#fcffa4 290px,#f8fa97 291px,#f6d645 294px,#fcb015 297px,#fb9b09 299px,#f06f20 305px,#d74b3f 315px,#b73557 332px,#b0315b 356px,#b93656 410px,#ca404a 451px,#ce4347 491px)"></i><i style="background:linear-gradient(90deg,#c73e4c 1px,#c13a50 32px,#a22b62 74px,#b0315b 101px,#c33b4f 133px,#be3853 179px,#d44842 193px,#ed6925 201px,#fa9509 206px,#fbad13 208px,#f8cb36 210px,#f5db4e 211px,#f7f68b 213px,#f9fc9d 214px,#fcffa4 216px,#fbfea3 287px,#f6ee78 289px,#f7d13f 291px,#fbb41a 293px,#fb9a0a 295px,#f57e15 298px,#e25833 304px,#c53d4e 315px,#b0315b 333px,#bc3754 423px,#c73e4c 491px)"></i><i style="background:linear-gradient(90deg,#c03a51 1px,#bc3754 30px,#a62d60 69px,#b53458 94px,#c9404b 124px,#b2325a 179px,#c33c4f 193px,#df5437 202px,#f57e15 208px,#fb9d0d 211px,#fab81f 213px,#f6d648 215px,#f8ef7c 217px,#f9fc9d 219px,#fcffa4 221px,#fbfda1 282px,#f7e76b 285px,#f8c935 287px,#fbae16 289px,#fa950b 291px,#e9622b 297px,#ce4347 305px,#b53458 320px,#b53458 348px,#bc3754 383px,#b93656 428px,#c03a51 491px)"></i><i style="background:linear-gradient(90deg,#bb3755 1px,#b3325a 37px,#a92e5f 70px,#ce4447 119px,#bf3952 144px,#ac2f5d 173px,#b73557 192px,#d54941 204px,#ed6925 211px,#f9920f 216px,#fab31d 219px,#f7cb3b 221px,#f9e165 223px,#fafd9f 228px,#fcffa4 231px,#fcffa4 273px,#f9eb75 277px,#fae56d 278px,#f8c42f 281px,#faac17 283px,#f88c0f 286px,#e75f2e 292px,#cc4248 300px,#b63457 314px,#bc3754 342px,#c63e4d 376px,#b53458 422px,#ba3655 491px)"></i><i style="background:linear-gradient(90deg,#b83556 1px,#b0315b 77px,#cf4446 116px,#c43c4f 138px,#ab2f5e 168px,#b3325a 191px,#d04545 209px,#eb6826 219px,#f78a12 225px,#f8b526 231px,#fcda5f 237px,#f8ef7c 250px,#f9ea74 258px,#fcda5f 265px,#f8bb2b 270px,#f89615 275px,#f37b18 279px,#dd5338 287px,#c13a51 298px,#b33359 314px,#cd4248 375px,#b43359 422px,#ba3655 467px,#b63457 491px)"></i><i style="background:linear-gradient(90deg,#b53458 1px,#b73557 66px,#bf3952 91px,#cd4248 118px,#bd3853 143px,#ac2f5d 171px,#b93556 204px,#d64b40 225px,#e76529 241px,#eb6d22 259px,#d84e3d 274px,#b63457 291px,#ab2f5e 309px,#be3952 351px,#ca404a 379px,#b63458 421px,#bc3754 468px,#b43359 491px)"></i><i style="background:linear-gradient(90deg,#b43359 1px,#bd3853 31px,#c43c4e 62px,#c43c4f 94px,#c93f4b 124px,#af315c 178px,#ae315b 232px,#952764 239px,#791c68 245px,#7d1e68 250px,#ab305c 260px,#b0325a 269px,#9f2a63 297px,#af315c 351px,#c03a51 384px,#b63458 426px,#bb3755 468px,#b3325a 491px)"></i><i style="background:linear-gradient(90deg,#b63458 1px,#c13a50 30px,#ce4447 59px,#c63e4d 107px,#bc3754 159px,#9a2865 225px,#87216a 231px,#60136d 235px,#3f0f5d 237px,#200537 239px,#040310 243px,#000004 246px,#010108 250px,#16052d 254px,#1e0534 255px,#4b0f66 258px,#781c6d 262px,#8c2369 267px,#9f2a63 327px,#a62d60 362px,#b3325a 392px,#b53458 491px)"></i><i style="background:linear-gradient(90deg,#bc3754 1px,#d24644 60px,#c33b4f 110px,#c13a50 168px,#9a2865 215px,#88226a 226px,#6f196e 230px,#420b66 233px,#2b0b53 234px,#130830 235px,#060414 236px,#000004 237px,#000004 257px,#03020e 258px,#0f0727 259px,#240a4a 260px,#390a61 261px,#59116e 263px,#741a6e 266px,#85216b 274px,#a22b62 316px,#9b2964 364px,#a92e5e 414px,#ba3655 491px)"></i><i style="background:linear-gradient(90deg,#c33b4f 1px,#cd4248 61px,#bd3853 110px,#ca404a 168px,#b2325a 196px,#82206c 225px,#6a176e 229px,#510e6c 231px,#3d0965 232px,#240c4f 233px,#0b0725 234px,#000004 235px,#000004 259px,#08061e 260px,#1f0c47 261px,#370961 262px,#58106e 264px,#721a6e 267px,#85216b 275px,#a42c61 310px,#a32c61 338px,#972766 373px,#b33359 467px,#c03a51 491px)"></i><i style="background:linear-gradient(90deg,#c63d4d 1px,#c23b50 66px,#b73557 113px,#cc4149 155px,#cc4149 177px,#ad305c 201px,#7e1e6c 226px,#65156e 230px,#490c6a 232px,#370a60 233px,#1f0b46 234px,#0b0620 235px,#02010a 236px,#000004 238px,#000004 257px,#010109 258px,#0a061e 259px,#1e0b44 260px,#340a5d 261px,#56106d 263px,#71196e 266px,#84206b 272px,#a42c61 305px,#a82e5f 336px,#972766 377px,#b33359 463px,#c33b4f 491px)"></i><i style="background:linear-gradient(90deg,#c43c4e 1px,#c03a51 51px,#b0315b 110px,#bb3755 140px,#cc4248 169px,#be3853 191px,#801f6c 228px,#61146e 233px,#480d68 235px,#28094a 237px,#110627 239px,#010006 242px,#010006 252px,#190635 256px,#380c5c 258px,#55106c 260px,#761b6d 264px,#8a226a 271px,#a42c61 302px,#a62d60 341px,#992865 383px,#a92e5e 439px,#c13a50 491px)"></i><i style="background:linear-gradient(90deg,#bf3952 1px,#bf3952 46px,#aa2f5e 103px,#af315c 137px,#c43c4e 170px,#b3325a 196px,#89226a 231px,#6c186e 238px,#451061 245px,#451061 249px,#6c186e 256px,#8c2369 264px,#a42c61 294px,#a12b62 353px,#9c2964 418px,#b63458 471px,#bb3755 491px)"></i><i style="background:linear-gradient(90deg,#b63457 1px,#c03a51 45px,#a82e5f 98px,#a92e5f 142px,#b63457 175px,#962766 237px,#8c2369 250px,#a32c61 279px,#a32c61 332px,#962766 415px,#ae305c 462px,#b2325a 491px)"></i><i style="background:linear-gradient(90deg,#b0315b 1px,#bf3952 46px,#a92e5f 100px,#a52c60 152px,#ac2f5d 234px,#a82e5f 269px,#a62d60 312px,#972766 373px,#912568 409px,#ab2f5e 457px,#aa2f5e 491px)"></i><i style="background:linear-gradient(90deg,#b1325a 1px,#bd3853 52px,#ad305d 109px,#a02a62 165px,#ac2f5d 199px,#bd3853 232px,#9c2964 353px,#8b236a 389px,#972766 415px,#ad305c 446px,#ab2f5e 491px)"></i><i style="background:linear-gradient(90deg,#ba3655 1px,#bb3755 67px,#a92e5f 134px,#9b2865 170px,#a82e5f 194px,#d04545 233px,#ce4446 257px,#ad305d 311px,#992865 353px,#86216b 383px,#912568 404px,#b63458 440px,#b43359 491px)"></i><i style="background:linear-gradient(90deg,#c53d4e 1px,#b0315b 124px,#962766 169px,#a12b62 189px,#d24644 221px,#e9632a 242px,#e75f2e 256px,#c53d4e 283px,#932567 356px,#83206b 383px,#952667 406px,#b93656 434px,#be3853 488px,#bf3952 491px)"></i><i style="background:linear-gradient(90deg,#ca404a 1px,#b43359 85px,#a92e5f 131px,#942667 170px,#a32c61 192px,#cc4248 215px,#f06f20 232px,#f98e0c 243px,#f98e0c 252px,#f1711f 263px,#d54a40 278px,#b93656 303px,#942667 352px,#811f6c 381px,#8e2469 401px,#b83556 435px,#c43c4f 491px)"></i><i style="background:linear-gradient(90deg,#c93f4b 1px,#ad305c 84px,#a22b62 134px,#982766 174px,#ad305c 198px,#d34743 216px,#f1711f 227px,#fb9708 234px,#fbba20 242px,#f9c52d 249px,#fbb016 257px,#fa9309 263px,#e35933 276px,#ca404a 289px,#962766 348px,#801f6c 377px,#88226a 399px,#ad305c 437px,#c23b50 491px)"></i><i style="background:linear-gradient(90deg,#c53d4e 1px,#b83556 45px,#ab2f5e 93px,#9b2964 153px,#a82e5f 192px,#c33b4f 209px,#e35933 220px,#fa9507 230px,#fcaa0f 233px,#f5dc4e 241px,#f2eb6d 246px,#f2eb6d 250px,#f3e25a 254px,#fabf25 261px,#fb9d07 266px,#f78311 270px,#e05536 280px,#c83f4b 294px,#a02a63 338px,#7e1e6c 369px,#7f1e6c 392px,#9c2964 434px,#b63458 478px,#bd3853 491px)"></i><i style="background:linear-gradient(90deg,#c23b50 1px,#c03a51 36px,#ad305c 93px,#972766 141px,#ab2f5e 196px,#c83f4c 211px,#e55c30 220px,#fb9706 229px,#fcae12 232px,#f2e763 240px,#f5f890 245px,#f7fb98 249px,#f3f68a 253px,#f3e45b 258px,#fcb418 265px,#fc9f07 268px,#f78410 272px,#e55b31 281px,#ce4347 295px,#a72d5f 333px,#7d1e6d 365px,#7b1d6d 386px,#902568 425px,#972766 456px,#ba3655 491px)"></i><i style="background:linear-gradient(90deg,#c23b50 1px,#c63e4d 30px,#b3325a 81px,#a52c60 112px,#932567 140px,#a62d60 193px,#be3853 208px,#e05536 219px,#f98a0c 228px,#fc9f08 231px,#f7d23f 238px,#f2ef75 244px,#f3f585 249px,#f2f17b 253px,#f7d441 260px,#fca208 268px,#f98a0c 272px,#e8612c 282px,#d34743 299px,#ad305c 331px,#801f6c 362px,#801f6c 386px,#922568 417px,#8c2369 449px,#a62d60 474px,#bb3755 491px)"></i><i style="background:linear-gradient(90deg,#c43c4f 1px,#c63e4d 30px,#b2325a 75px,#ab2f5e 106px,#8f2469 142px,#9e2a63 189px,#b83556 207px,#db4f3b 219px,#f68013 229px,#fb9807 233px,#fbb71c 238px,#f6d645 246px,#f5da4b 251px,#f9c932 258px,#fca008 267px,#f8850f 273px,#ea632a 285px,#cb4149 315px,#8f2469 352px,#83206b 371px,#9b2964 414px,#8d2369 450px,#a42c61 472px,#bc3754 491px)"></i><i style="background:linear-gradient(90deg,#c43c4f 1px,#c53d4e 29px,#ad305c 72px,#ab2f5e 107px,#902568 145px,#9b2964 188px,#b93656 209px,#e05536 223px,#f98e0a 236px,#fca60d 242px,#fbb419 250px,#fca70d 260px,#fa9108 267px,#ec6727 284px,#c93f4b 319px,#912568 353px,#8d2369 373px,#a72d5f 411px,#952667 451px,#a92e5f 474px,#bd3853 491px)"></i><i style="background:linear-gradient(90deg,#c13a51 1px,#c43c4e 26px,#ad305d 72px,#aa2f5e 112px,#992865 147px,#a32c61 194px,#c43c4f 214px,#e8602d 229px,#f98b0c 244px,#f98f0a 255px,#e55c30 289px,#c83f4b 321px,#942667 353px,#912568 370px,#ae305c 406px,#9f2a63 456px,#b33359 483px,#bb3755 491px)"></i><i style="background:linear-gradient(90deg,#be3853 1px,#c63e4d 29px,#ad305d 74px,#ac2f5d 122px,#a92e5f 191px,#bc3754 211px,#e55c30 233px,#f1731d 248px,#ed6a24 264px,#dc503a 293px,#ca404a 322px,#952667 357px,#972766 375px,#b1325a 406px,#a62d60 467px,#b83556 491px)"></i><i style="background:linear-gradient(90deg,#bb3755 1px,#cb4149 29px,#b83556 56px,#ad305d 79px,#b43359 146px,#b3325a 187px,#ba3655 210px,#e15734 244px,#df5437 265px,#d54941 297px,#ce4347 323px,#992865 361px,#9d2964 381px,#b3325a 413px,#ac2f5d 456px,#ad305d 481px,#b63458 491px)"></i><i style="background:linear-gradient(90deg,#bb3755 1px,#cf4446 27px,#c33b4f 48px,#ad305d 73px,#c03a51 165px,#b93556 212px,#ce4446 255px,#d14644 301px,#d04545 326px,#9e2a63 366px,#a12b62 389px,#bb3755 431px,#af315c 465px,#b2325a 485px,#b83556 491px)"></i><i style="background:linear-gradient(90deg,#c13a51 1px,#d24644 28px,#be3853 52px,#ad305c 74px,#ba3655 124px,#c13a51 186px,#b1325a 231px,#c63d4d 286px,#d34743 319px,#c03a51 344px,#a22b61 373px,#a52c60 397px,#c13a50 434px,#b73557 463px,#b63457 483px,#be3853 491px)"></i><i style="background:linear-gradient(90deg,#c83f4c 1px,#d14644 28px,#b2325a 67px,#ba3655 115px,#b33359 146px,#c13a50 185px,#ad305d 218px,#9d2964 245px,#ae305c 269px,#cf4446 304px,#cd4248 331px,#a52c60 387px,#b1325a 411px,#c63d4d 437px,#be3853 479px,#c63d4d 491px)"></i><i style="background:linear-gradient(90deg,#cc4149 1px,#cb4149 30px,#b53458 66px,#bf3952 107px,#ad305c 142px,#c13a51 187px,#b0315b 212px,#8c2369 241px,#8f2468 256px,#c93f4b 296px,#ce4447 324px,#aa2f5e 396px,#c73e4c 440px,#c53d4e 481px,#ca404a 491px)"></i><i style="background:linear-gradient(90deg,#ca404a 1px,#c13a50 35px,#b83556 64px,#c43c4f 103px,#ae305c 143px,#c13a51 185px,#b1325a 208px,#7c1d6d 239px,#7c1e6d 253px,#ad305d 279px,#c83f4c 300px,#ca404a 330px,#b33359 384px,#b3325a 405px,#c93f4b 439px,#c53d4e 481px,#c83f4b 491px)"></i><i style="background:linear-gradient(90deg,#c33b4f 1px,#bc3754 38px,#bd3853 71px,#c43c4f 104px,#b73557 144px,#c43c4f 182px,#b3325a 203px,#811f6c 226px,#67166e 240px,#6a176e 253px,#a92e5e 283px,#c13a50 304px,#c33b4f 360px,#b73557 398px,#ce4347 437px,#c03a51 480px,#c33b4f 491px)"></i><i style="background:linear-gradient(90deg,#c03a51 1px,#ba3655 63px,#c23b50 106px,#c23b50 150px,#ca404a 180px,#b33359 201px,#7c1d6d 223px,#56106d 239px,#550f6d 250px,#7d1e6c 269px,#a32c61 287px,#b93656 311px,#c53d4e 354px,#bd3853 396px,#d54941 434px,#c23b50 466px,#bf3952 491px)"></i><i style="background:linear-gradient(90deg,#c13a50 1px,#bb3755 33px,#b63457 62px,#c13a50 118px,#d14644 179px,#b93656 199px,#86216b 218px,#480b6a 239px,#400a67 248px,#781c6d 271px,#9f2a63 290px,#c43c4f 334px,#c13a51 368px,#c13a51 395px,#da4e3c 432px,#ce4347 457px,#c03a51 484px,#c13a50 491px)"></i><i style="background:linear-gradient(90deg,#c83f4c 1px,#bc3754 30px,#b0315b 57px,#d24644 153px,#dc513a 177px,#c73e4c 196px,#962766 214px,#56106d 232px,#350a5f 240px,#210b48 246px,#290b53 250px,#490b6a 257px,#87216b 278px,#a82e5f 297px,#c53d4e 332px,#bd3853 369px,#c03a51 393px,#db503b 430px,#d24644 458px,#c83f4c 490px,#c83f4c 491px)"></i><i style="background:linear-gradient(90deg,#cf4446 1px,#b0315b 51px,#bf3952 96px,#d54941 149px,#ea6429 174px,#e05536 189px,#b83556 206px,#741a6e 224px,#430a68 235px,#2a0b55 238px,#09051d 242px,#02020c 245px,#03030f 249px,#09061e 251px,#340a5f 256px,#520e6d 261px,#972766 283px,#b63458 301px,#c63e4d 326px,#b93656 360px,#b63458 383px,#da4e3d 429px,#cf4446 491px)"></i><i style="background:linear-gradient(90deg,#d24644 1px,#b0315b 50px,#bd3853 83px,#cd4248 128px,#db503b 150px,#f47a17 172px,#f2751b 183px,#d94d3d 198px,#9c2964 215px,#5a116e 230px,#390963 235px,#230c4c 237px,#03020f 240px,#000004 241px,#000004 252px,#03020d 253px,#210c4a 256px,#370961 258px,#550f6d 263px,#972766 281px,#bd3853 298px,#cc4149 320px,#b93656 352px,#af315c 378px,#d54a41 428px,#d24644 491px)"></i><i style="background:linear-gradient(90deg,#ce4447 1px,#af315c 49px,#b73557 73px,#cf4446 107px,#d44842 142px,#eb6429 157px,#f98e0a 171px,#fa9108 180px,#f3771a 190px,#d24743 203px,#8e2469 219px,#500d6c 232px,#380962 235px,#200c49 237px,#02010b 240px,#000004 242px,#010108 253px,#270b52 257px,#420a68 260px,#771c6d 272px,#b53458 289px,#d04545 304px,#d24644 326px,#b1325a 369px,#b93556 394px,#d24644 431px,#cf4446 491px)"></i><i style="background:linear-gradient(90deg,#c63e4d 1px,#a92e5e 54px,#bc3754 79px,#d04545 105px,#ce4347 139px,#e05536 151px,#fa8f08 167px,#fca309 175px,#fb9c07 183px,#f78410 190px,#d94d3d 203px,#932667 219px,#550f6d 232px,#3b0a64 236px,#280b52 238px,#060416 242px,#010006 246px,#040312 251px,#2a0b55 256px,#450a69 260px,#7e1e6c 273px,#c13a50 290px,#db4f3b 304px,#df5337 321px,#ba3655 366px,#bd3853 398px,#cc4248 439px,#c63e4d 491px)"></i><i style="background:linear-gradient(90deg,#bf3952 1px,#a62d60 58px,#c13a50 87px,#cc4149 108px,#c53d4e 137px,#db503b 151px,#f98a0c 166px,#fca108 174px,#fca108 181px,#f98a0c 189px,#e25734 201px,#ac2f5d 215px,#6d186e 229px,#430a68 238px,#1f0b46 245px,#200b47 249px,#430a68 257px,#781c6d 270px,#b93656 285px,#de5238 298px,#ea6429 313px,#e15734 333px,#c53d4e 365px,#bf3952 400px,#c73e4c 450px,#bf3952 491px)"></i><i style="background:linear-gradient(90deg,#bf3952 1px,#ab2f5e 63px,#c53d4e 103px,#bc3754 136px,#d44842 151px,#f67f14 167px,#fa9407 176px,#f98c0b 185px,#e55b31 199px,#ae305c 215px,#6d186e 231px,#450b69 244px,#450b69 251px,#71196e 266px,#ad305c 280px,#da4e3c 293px,#ef6e21 308px,#f0701f 322px,#ce4447 359px,#c23b50 394px,#c23b50 467px,#bf3952 491px)"></i><i style="background:linear-gradient(90deg,#c43c4e 1px,#b63458 72px,#bf3952 106px,#b93556 137px,#d24743 153px,#f2731d 170px,#f47b17 180px,#ea6429 192px,#c13a51 209px,#811f6c 227px,#59116e 241px,#550f6d 251px,#741b6e 264px,#b43359 280px,#df5437 294px,#f3761b 311px,#f1731d 326px,#d24644 356px,#c43c4e 385px,#c63e4d 454px,#c43c4e 491px)"></i><i style="background:linear-gradient(90deg,#cb4149 1px,#c83f4b 38px,#c83f4b 53px,#bc3754 73px,#bc3754 139px,#d84c3e 159px,#ea6429 177px,#e15635 191px,#b2325a 212px,#731a6e 233px,#61136e 245px,#6c186e 257px,#a62d60 275px,#db503b 293px,#f0701f 310px,#f0701f 324px,#cd4248 357px,#c33b4f 382px,#ce4347 440px,#cb4149 491px)"></i><i style="background:linear-gradient(90deg,#ce4347 1px,#c83f4b 31px,#dd5239 47px,#cb4149 59px,#be3853 72px,#c33b4f 145px,#dc503a 177px,#cd4248 197px,#9c2964 221px,#731a6e 239px,#711a6e 252px,#942667 268px,#d54941 292px,#eb6429 310px,#eb6628 324px,#c53d4e 361px,#c13a50 385px,#d24743 436px,#ce4347 491px)"></i><i style="background:linear-gradient(90deg,#ce4347 1px,#c53d4e 29px,#de5238 39px,#ed6925 47px,#e55c30 53px,#c43c4e 63px,#b93556 75px,#c63e4d 163px,#c83f4b 192px,#b0315b 216px,#86216b 241px,#86216b 254px,#b53458 279px,#df5337 304px,#e65c30 323px,#c13a51 367px,#c43c4f 395px,#d14644 439px,#ce4347 491px)"></i><i style="background:linear-gradient(90deg,#cd4248 1px,#bf3952 27px,#d34743 35px,#f2741c 43px,#f78212 48px,#ef6c23 53px,#cf4446 60px,#b63458 68px,#b83556 94px,#bd3853 131px,#b63458 168px,#be3853 210px,#9c2964 248px,#ab2f5e 270px,#db503b 311px,#de5238 332px,#c13a51 377px,#cf4446 482px,#cd4248 491px)"></i><i style="background:linear-gradient(90deg,#ca404a 1px,#bb3755 27px,#ce4447 34px,#ec6727 40px,#f98b0b 46px,#f8850f 50px,#e55c30 56px,#c43c4f 62px,#b0315b 69px,#b33359 92px,#b73557 127px,#a42c61 166px,#b93656 198px,#c13a50 222px,#b53458 259px,#ca404a 299px,#dc503a 330px,#c33b4f 391px,#cc4248 471px,#cc4149 491px)"></i><i style="background:linear-gradient(90deg,#c93f4b 1px,#ba3655 26px,#c83f4c 33px,#e8602d 40px,#f57e15 46px,#f3761b 51px,#d74b3f 58px,#b73557 65px,#ad305c 76px,#b33359 122px,#9a2865 166px,#a82e5f 187px,#c83f4c 217px,#c93f4b 300px,#d74b3f 337px,#be3853 417px,#c83f4b 465px,#c93f4b 491px)"></i><i style="background:linear-gradient(90deg,#c63d4d 1px,#bb3755 26px,#cb4149 35px,#e9622b 45px,#e75f2e 51px,#c13a51 62px,#b0315b 72px,#b2325a 123px,#972766 165px,#a52c60 186px,#cc4149 218px,#d54941 258px,#c93f4b 307px,#cc4249 349px,#ba3655 433px,#c93f4b 484px,#c63e4d 491px)"></i><i style="background:linear-gradient(90deg,#c23b50 1px,#bd3853 28px,#d94d3d 47px,#c43c4e 59px,#b33359 72px,#b63458 124px,#9c2964 164px,#ab2f5e 187px,#d54a41 228px,#df5337 258px,#c53d4e 313px,#b93556 414px,#bb3755 450px,#c63d4d 484px,#c43c4f 491px)"></i><i style="background:linear-gradient(90deg,#bf3952 1px,#bf3952 33px,#c83f4c 49px,#b3325a 73px,#be3853 121px,#aa2f5e 164px,#c03a51 200px,#e35932 236px,#ea632a 253px,#c43c4e 302px,#b73557 348px,#bd3853 400px,#b33359 444px,#c23b50 484px,#c03a51 491px)"></i><i style="background:linear-gradient(90deg,#be3853 1px,#ba3655 55px,#b53458 81px,#c63e4d 121px,#bc3854 167px,#cc4248 207px,#e65d2f 227px,#f57e15 245px,#f3771a 257px,#d24644 284px,#b73557 314px,#b63458 355px,#c33b4f 393px,#b1325a 444px,#bf3952 485px,#be3853 491px)"></i><i style="background:linear-gradient(90deg,#be3853 1px,#b93556 71px,#ce4447 121px,#c73e4c 179px,#d44842 208px,#ea6429 222px,#fa950a 235px,#fbad14 245px,#fba50e 254px,#f98d0b 261px,#de5238 278px,#c13a50 295px,#b1325a 324px,#be3853 366px,#c83f4c 395px,#b3325a 441px,#c03a51 485px,#bf3952 491px)"></i><i style="background:linear-gradient(90deg,#c23b50 1px,#b93556 37px,#cc4248 96px,#d34743 125px,#c63d4d 174px,#d04545 202px,#e65d2f 215px,#f88a0c 225px,#fba20a 229px,#f9c72f 235px,#f4e564 243px,#f4e96b 248px,#f4df57 253px,#fbb116 262px,#fb9808 266px,#e75e2e 277px,#cb4149 289px,#b63458 308px,#b63457 351px,#c53d4e 395px,#b73557 443px,#c63d4d 483px,#c33b4f 491px)"></i><i style="background:linear-gradient(90deg,#c73e4c 1px,#b93656 35px,#d14644 117px,#bd3853 167px,#c63d4d 194px,#dd513a 209px,#f2731d 218px,#fb9a07 224px,#fcb116 227px,#f5da4b 232px,#f6f88f 237px,#fcffa4 241px,#fbfea3 253px,#f7fa95 256px,#f5dc4e 261px,#fcab10 267px,#fa9507 270px,#e8602d 279px,#ce4447 289px,#b73557 306px,#af315c 346px,#b93656 409px,#bd3853 447px,#ca404a 483px,#c83f4c 491px)"></i><i style="background:linear-gradient(90deg,#c83f4c 1px,#be3853 36px,#c93f4b 79px,#c23b50 126px,#af315c 162px,#bc3754 190px,#d84c3e 207px,#ef6e21 216px,#fb9b06 223px,#fcb418 226px,#f4df53 231px,#f6fa96 235px,#fcffa4 236px,#fcffa4 257px,#f2e967 261px,#f8cf3a 264px,#fcab10 268px,#fa9307 271px,#e9622b 279px,#ce4447 289px,#b1325a 309px,#a02b62 348px,#bc3754 448px,#ca404a 480px,#c83f4b 491px)"></i><i style="background:linear-gradient(90deg,#c43c4f 1px,#bf3952 35px,#ca404a 68px,#ad305d 137px,#a12b62 163px,#b3325a 186px,#d54941 206px,#ee6b24 216px,#fa9507 223px,#fcab10 226px,#f5da4b 232px,#f6f88f 237px,#fcffa4 241px,#fbfea3 252px,#f5f68b 256px,#f8cf3b 262px,#fca60c 267px,#fa8f09 270px,#e8602d 278px,#cc4149 288px,#a62d60 311px,#8b236a 341px,#932667 368px,#ad305d 415px,#bc3754 454px,#c63d4d 486px,#c43c4e 491px)"></i><i style="background:linear-gradient(90deg,#bc3754 1px,#c13a51 34px,#cc4149 63px,#ad305c 118px,#932667 163px,#a82e5f 183px,#d44842 207px,#ed6a24 218px,#fb9908 227px,#fbb81d 232px,#f4de55 240px,#f4e869 246px,#f4e15a 251px,#fabe24 259px,#fb9e09 264px,#f67f14 269px,#dd513a 279px,#b73557 293px,#811f6c 324px,#731a6e 343px,#7f1e6c 361px,#a82e5f 396px,#ac2f5d 434px,#be3853 484px,#bc3754 491px)"></i><i style="background:linear-gradient(90deg,#b63458 1px,#c83f4c 40px,#cd4248 65px,#ac2f5d 110px,#982766 140px,#86216b 163px,#982765 180px,#d24743 209px,#ee6b23 223px,#fa920a 233px,#fbac13 243px,#fba910 251px,#f98c0c 260px,#dd5139 275px,#af315c 292px,#741b6e 320px,#5e136e 339px,#69166e 355px,#a92e5f 390px,#b33359 411px,#ac2f5d 450px,#b63458 491px)"></i><i style="background:linear-gradient(90deg,#b3325a 1px,#d04545 55px,#c03a51 81px,#a92e5e 113px,#992865 137px,#781c6d 162px,#811f6c 175px,#bb3755 201px,#e65d2f 225px,#f47b17 242px,#f2741c 254px,#d84c3e 272px,#a02a62 295px,#63146e 324px,#550f6d 342px,#67166e 358px,#ad305d 390px,#b83556 409px,#a82e5f 453px,#b2325a 491px)"></i><i style="background:linear-gradient(90deg,#b1325a 1px,#ce4347 42px,#c83f4b 69px,#ab2f5e 106px,#9d2964 133px,#6a176e 163px,#711a6e 175px,#af315c 199px,#d84c3e 223px,#e55c30 245px,#d44842 266px,#8f2468 302px,#60136e 329px,#5c126e 346px,#7d1e6d 367px,#af315c 392px,#b83556 412px,#a22b62 458px,#b1325a 491px)"></i><i style="background:linear-gradient(90deg,#b3325a 1px,#cc4248 38px,#c53d4e 68px,#a92e5e 107px,#9f2a63 131px,#781c6d 150px,#5e136e 164px,#65156e 175px,#a02a62 196px,#c43c4e 213px,#d64a40 237px,#cc4248 261px,#9b2964 298px,#70196e 328px,#6c186e 345px,#86216b 366px,#b1325a 394px,#b33359 417px,#9f2a63 457px,#ad305d 485px,#b2325a 491px)"></i><i style="background:linear-gradient(90deg,#b63457 1px,#ca404a 38px,#c13a51 70px,#aa2f5e 114px,#992865 134px,#58106e 163px,#5b116e 174px,#84206b 189px,#b63458 206px,#cc4149 225px,#ca404a 255px,#ac2f5d 292px,#7f1e6c 328px,#801f6c 349px,#b1325a 393px,#b0315b 417px,#9f2a63 453px,#b3325a 488px,#b63458 491px)"></i><i style="background:linear-gradient(90deg,#bc3754 1px,#c83f4c 47px,#ab2f5e 121px,#8a226a 141px,#59116e 162px,#5c126e 174px,#83206b 188px,#b53458 205px,#ca404a 223px,#c83f4c 263px,#b2325a 295px,#8a226a 328px,#8c2369 349px,#b33359 390px,#ad305d 419px,#a42c61 449px,#bb3755 491px)"></i><i style="background:linear-gradient(90deg,#c13a50 1px,#c13a51 97px,#ae305c 124px,#801f6c 147px,#62146e 163px,#69166e 175px,#a32c61 196px,#c33b4f 212px,#cc4248 238px,#c33b4f 286px,#8f2469 332px,#972766 354px,#b53458 386px,#ad305c 421px,#ad305c 449px,#c13a50 491px)"></i><i style="background:linear-gradient(90deg,#c63e4d 1px,#c23b50 53px,#c73e4c 102px,#b1325a 126px,#731a6e 161px,#761b6d 174px,#b3325a 201px,#c63e4d 218px,#c63e4d 288px,#a62d60 317px,#962766 339px,#a92e5f 366px,#b73557 392px,#b3325a 439px,#c73e4c 483px,#c63e4d 491px)"></i><i style="background:linear-gradient(90deg,#c93f4b 1px,#bf3952 43px,#ce4347 95px,#bc3754 121px,#811f6c 162px,#87216b 177px,#ba3655 208px,#c23b50 239px,#c83f4b 295px,#a22b62 339px,#ae305c 369px,#b43359 400px,#bd3853 444px,#cc4149 481px,#c93f4b 491px)"></i><i style="background:linear-gradient(90deg,#cc4149 1px,#c03a51 45px,#d04545 93px,#b93656 122px,#8f2469 161px,#972766 180px,#b63458 211px,#ba3655 258px,#ce4347 294px,#af315c 348px,#b63458 420px,#cd4248 483px,#cc4149 491px)"></i><i style="background:linear-gradient(90deg,#cf4446 1px,#c43c4e 53px,#ce4447 93px,#b2325a 126px,#9d2964 157px,#aa2f5e 187px,#b1325a 213px,#a52c60 246px,#c13a50 275px,#d24644 298px,#b3325a 394px,#c63e4d 464px,#cf4446 491px)"></i><i style="background:linear-gradient(90deg,#d34743 1px,#c83f4b 39px,#cc4248 79px,#c33b4f 106px,#a92e5e 137px,#b2325a 173px,#b93556 201px,#9d2964 229px,#912568 247px,#a62d60 265px,#d04545 291px,#d84c3e 316px,#bc3754 412px,#be3853 458px,#d34743 491px)"></i><i style="background:linear-gradient(90deg,#d44842 1px,#cf4446 31px,#ca404a 64px,#c63e4d 97px,#b0315b 132px,#c53d4e 190px,#b43359 211px,#7f1e6c 239px,#7e1e6c 252px,#9e2a63 268px,#cf4446 290px,#e15635 313px,#db4f3b 358px,#bf3952 426px,#b83556 454px,#d44842 491px)"></i><i style="background:linear-gradient(90deg,#d14644 1px,#cd4248 34px,#c63e4d 93px,#b63457 128px,#d04545 176px,#c63d4d 200px,#a52c60 217px,#6d186e 239px,#6a176e 251px,#85216b 264px,#ce4447 289px,#e8602d 310px,#ee6b23 339px,#e45a31 388px,#b73557 440px,#ba3655 462px,#d24644 491px)"></i><i style="background:linear-gradient(90deg,#cc4248 1px,#ca404a 86px,#bc3754 120px,#df5437 167px,#d64a40 191px,#b73557 209px,#741b6e 230px,#59116e 243px,#60136e 253px,#84206b 266px,#cb4149 286px,#eb6628 305px,#f7850f 332px,#f8890d 363px,#f0701f 389px,#cc4149 420px,#b73557 443px,#c03a51 469px,#cc4248 491px)"></i><i style="background:linear-gradient(90deg,#c73e4c 1px,#cc4149 54px,#ca404a 88px,#c13a51 116px,#d94d3d 140px,#ee6b23 163px,#ed6925 179px,#d74b3f 198px,#a52c60 215px,#65156e 232px,#480b6a 245px,#58106e 254px,#942667 270px,#d24644 287px,#ee6b23 303px,#fa9507 325px,#fcae13 352px,#fca70d 371px,#f98e0a 385px,#e35833 408px,#c23b50 429px,#b93656 450px,#c83f4c 491px)"></i><i style="background:linear-gradient(90deg,#c33b4f 1px,#c73e4c 43px,#cf4446 80px,#c43c4e 113px,#da4e3c 133px,#f68112 157px,#f98b0c 171px,#f57e15 183px,#de5238 199px,#b2325a 212px,#71196e 227px,#3f0a66 239px,#280b51 245px,#2e0b58 249px,#530f6d 256px,#942667 270px,#d44842 287px,#f1731d 304px,#fb9706 321px,#fcb115 336px,#fac42a 356px,#fbbd22 370px,#fb9706 388px,#ee6b23 404px,#cf4446 424px,#bf3952 444px,#c43c4e 491px)"></i><i style="background:linear-gradient(90deg,#be3853 1px,#c23b50 39px,#cf4446 77px,#c93f4b 113px,#e05536 132px,#f98e09 154px,#fca108 167px,#fb9906 179px,#f67f14 189px,#dd513a 202px,#9b2964 217px,#5d126e 230px,#3b0a64 236px,#200b47 239px,#09061d 242px,#03020e 245px,#050313 249px,#070518 250px,#1e0b44 253px,#3e0a65 256px,#68166e 262px,#a92e5f 276px,#d74b3f 290px,#f37819 309px,#fb9807 325px,#fbbc21 350px,#fbbc21 367px,#fb9b06 387px,#f57d15 400px,#d94d3d 424px,#c43c4e 452px,#c03a51 491px)"></i><i style="background:linear-gradient(90deg,#b93556 1px,#bd3853 36px,#cc4149 81px,#cc4248 114px,#e45932 132px,#fb9506 154px,#fca80d 167px,#fca108 179px,#f8890c 188px,#e25734 201px,#b0315b 213px,#70196e 225px,#450a69 233px,#2a0b55 236px,#07051c 239px,#02010a 240px,#000004 242px,#000004 252px,#03020f 253px,#240c4e 256px,#3e0a65 258px,#61136e 263px,#a62d60 278px,#d14644 292px,#ee6b24 313px,#fa9409 339px,#fba20a 362px,#fa9009 385px,#e25734 423px,#c63d4d 457px,#ba3655 491px)"></i><i style="background:linear-gradient(90deg,#b33359 1px,#b63458 31px,#c83f4b 80px,#ce4447 115px,#e55b31 133px,#fa9307 155px,#fca309 169px,#fa9307 182px,#ef6c23 195px,#cb4149 207px,#89226a 220px,#4f0d6c 231px,#300a5b 235px,#0e092a 238px,#010005 240px,#010005 253px,#1b0c41 256px,#330a5e 258px,#56106d 263px,#982765 278px,#c13a50 292px,#e35a32 322px,#f47b17 358px,#f47819 387px,#db503b 434px,#b93656 478px,#b43359 491px)"></i><i style="background:linear-gradient(90deg,#af315c 1px,#af315c 30px,#c73e4c 80px,#d04545 118px,#e8612c 138px,#f98d0a 160px,#fa9108 173px,#f3761b 189px,#d94c3e 203px,#a22b62 216px,#63146e 228px,#3a0963 235px,#290b53 237px,#070418 241px,#000004 245px,#010109 250px,#060416 252px,#250c50 256px,#3d0965 259px,#6d186e 269px,#a52c60 285px,#be3853 302px,#df5437 346px,#eb6628 381px,#da4e3d 435px,#b0315b 491px)"></i><i style="background:linear-gradient(90deg,#ad305d 1px,#a62d60 28px,#c73e4c 80px,#cc4248 119px,#e65e2e 141px,#f57e15 161px,#f47a17 178px,#e25734 198px,#ba3655 212px,#721a6e 227px,#410a67 237px,#1b0a3f 244px,#180a3b 248px,#330a5e 255px,#530e6d 262px,#942667 280px,#af315c 294px,#cb4149 340px,#e35833 377px,#db4f3b 419px,#c43c4e 465px,#ad305c 491px)"></i><i style="background:linear-gradient(90deg,#ac2f5d 1px,#a32c61 27px,#c43c4e 82px,#c63d4d 118px,#e35833 143px,#ef6e21 163px,#eb6429 185px,#d54a41 204px,#a92e5e 218px,#6b176e 232px,#410a67 245px,#430a68 252px,#7c1e6d 271px,#a62d60 286px,#b63458 304px,#ce4447 349px,#df5337 384px,#c53d4e 462px,#ad305d 491px)"></i><i style="background:linear-gradient(90deg,#b0315b 1px,#aa2f5e 32px,#be3853 84px,#bd3853 116px,#e65e2e 158px,#e65c30 185px,#d34743 206px,#a82e5f 221px,#69176e 238px,#59116e 248px,#65156e 259px,#aa2f5e 285px,#be3853 305px,#dd513a 384px,#b83556 480px,#b1325a 491px)"></i><i style="background:linear-gradient(90deg,#ba3655 1px,#b63457 113px,#dd5139 160px,#dd513a 195px,#c43c4e 214px,#84206b 236px,#71196e 248px,#7b1d6d 260px,#b73557 288px,#c83f4c 313px,#d84c3e 387px,#c43c4e 440px,#ba3655 491px)"></i><i style="background:linear-gradient(90deg,#c63d4d 1px,#bf3952 50px,#b0315b 91px,#bc3754 126px,#d54941 170px,#d24743 202px,#b3325a 223px,#8c2369 243px,#8c2369 256px,#c23b50 293px,#c83f4b 325px,#cd4348 391px,#c13a51 433px,#c63d4d 491px)"></i><i style="background:linear-gradient(90deg,#ce4347 1px,#cb4149 41px,#ae305c 82px,#c43c4e 151px,#cc4149 195px,#bc3754 219px,#a22b61 244px,#a82e5f 262px,#c63d4d 297px,#bf3952 375px,#c33b4f 437px,#ce4347 491px)"></i><i style="background:linear-gradient(90deg,#d24743 1px,#cf4446 40px,#b0315b 78px,#c53d4e 165px,#c43c4e 213px,#b73557 251px,#c43c4e 307px,#ad305d 363px,#ca404a 442px,#d24743 484px,#d24743 491px)"></i><i style="background:linear-gradient(90deg,#d54941 1px,#cd4248 41px,#b53458 76px,#c13a50 157px,#cd4248 202px,#bf3952 313px,#9f2a63 358px,#a62d60 382px,#d54941 446px,#d84c3e 481px,#d54941 491px)"></i><i style="background:linear-gradient(90deg,#d54a41 1px,#c53d4e 47px,#b93656 75px,#bf3952 155px,#d64a40 199px,#d34743 252px,#b63458 317px,#922568 355px,#972766 375px,#c63e4d 421px,#df5337 463px,#d74b3f 491px)"></i><i style="background:linear-gradient(90deg,#d54941 1px,#b83556 69px,#bf3952 112px,#b33359 153px,#da4e3c 200px,#dd513a 249px,#aa2f5e 316px,#84206b 352px,#88226a 371px,#bb3755 414px,#df5437 464px,#d54a41 491px)"></i><i style="background:linear-gradient(90deg,#d24743 1px,#b3325a 62px,#bd3853 111px,#9f2a63 151px,#b0315b 171px,#d54a40 201px,#e55c30 249px,#cc4149 277px,#89226a 324px,#711a6e 350px,#781c6d 369px,#ae305c 408px,#da4e3d 461px,#d64a40 486px,#d34743 491px)"></i><i style="background:linear-gradient(90deg,#ce4447 1px,#ab2f5e 63px,#b43359 109px,#922567 136px,#82206b 153px,#902568 169px,#c83f4b 201px,#e75e2e 230px,#f1711f 247px,#ea6429 261px,#be3853 286px,#83206b 312px,#61136e 336px,#5e136e 357px,#84206b 382px,#ac2f5d 408px,#d74b3f 468px,#d04545 491px)"></i><i style="background:linear-gradient(90deg,#cc4149 1px,#a22b61 68px,#a42c61 109px,#7d1e6c 133px,#65156e 150px,#69176e 163px,#952666 184px,#d84c3e 217px,#f78410 237px,#fa960a 247px,#f98d0b 256px,#e9612b 270px,#be3853 286px,#84206b 305px,#59116e 324px,#490c6a 341px,#550f6d 360px,#932667 390px,#b53458 413px,#d44842 467px,#cd4248 491px)"></i><i style="background:linear-gradient(90deg,#c93f4b 1px,#992865 72px,#972766 106px,#761b6d 126px,#4d0d6b 147px,#4d0c6b 161px,#6e186e 178px,#b0315b 202px,#dd513a 218px,#f8870e 230px,#fb9d09 234px,#fac229 243px,#f8c933 249px,#fbb61b 257px,#fb9a08 263px,#f67f14 268px,#d64a40 280px,#9b2865 297px,#5d126e 318px,#440a68 336px,#470b6a 352px,#721a6e 375px,#ad305c 403px,#ca404a 432px,#d34743 471px,#ca404a 491px)"></i><i style="background:linear-gradient(90deg,#c63e4d 1px,#972766 63px,#902568 105px,#731a6e 123px,#400a67 147px,#3a0963 160px,#57106d 176px,#972766 197px,#cb4149 212px,#eb6628 221px,#fa9508 228px,#fcac11 231px,#f4de52 238px,#f6f587 244px,#f7f78d 250px,#f3ec70 255px,#fbbd23 263px,#fb9e08 267px,#f78311 271px,#dd5139 280px,#af315c 293px,#741a6e 312px,#500d6c 330px,#480b6a 346px,#62146e 366px,#a42c61 399px,#c93f4b 426px,#d54941 459px,#c93f4b 489px,#c63e4d 491px)"></i><i style="background:linear-gradient(90deg,#c43c4e 1px,#a02a62 39px,#962766 73px,#962766 104px,#741a6e 125px,#3d0965 150px,#380962 162px,#4f0d6c 176px,#8f2469 196px,#c53d4e 210px,#ea6429 219px,#fa9108 225px,#fca40a 227px,#f9c932 231px,#f2ec6f 235px,#f6f88f 237px,#fcffa4 240px,#fbfea3 256px,#f8fa97 258px,#f4e156 262px,#fcb419 267px,#fb9a06 270px,#f06e21 276px,#d24743 285px,#a02a62 301px,#6a176e 324px,#59116e 342px,#69176e 364px,#a62d60 404px,#ce4447 433px,#d74b3f 465px,#c53d4e 491px)"></i><i style="background:linear-gradient(90deg,#c43c4f 1px,#a02a63 34px,#9b2865 66px,#a12b62 102px,#89226a 122px,#4c0c6b 149px,#410a67 162px,#550f6d 176px,#932567 196px,#ca404a 210px,#eb6628 218px,#fa9407 224px,#fca60c 226px,#f6d847 231px,#f4f88e 235px,#fafd9f 236px,#fcffa4 239px,#fcffa4 258px,#fafd9f 259px,#f2eb6b 262px,#f8cf3a 265px,#fcaa0f 269px,#fa9207 272px,#e75f2d 280px,#c83f4c 291px,#942667 313px,#751b6d 335px,#781c6d 358px,#9b2964 399px,#d24644 438px,#d94c3e 466px,#c53d4e 491px)"></i><i style="background:linear-gradient(90deg,#c43c4e 1px,#a12b62 36px,#a32c61 70px,#a92e5e 103px,#932567 124px,#59116e 154px,#59116e 169px,#7b1d6d 185px,#b53458 203px,#df5337 214px,#f78212 222px,#fb9906 225px,#fcb318 228px,#f4df53 233px,#f6f991 237px,#fcffa4 240px,#fbfda1 255px,#f8fa97 257px,#f5dc4e 262px,#fcb318 267px,#fb9b07 270px,#f68013 274px,#e15635 283px,#c23b50 297px,#962766 326px,#8f2468 351px,#a22b62 399px,#d44842 441px,#d74b3f 471px,#c63d4d 491px)"></i><i style="background:linear-gradient(90deg,#c33b4f 1px,#a52c60 41px,#ad305c 101px,#972766 126px,#6d186e 155px,#71196e 171px,#9d2964 192px,#d44842 211px,#f06f20 221px,#fb9908 228px,#fbb318 232px,#f4df57 240px,#f5ec72 245px,#f4ea6d 251px,#f9c62e 260px,#fca60d 265px,#f98d0a 269px,#e8602d 279px,#ce4447 293px,#a92e5f 326px,#a62d60 359px,#b3325a 406px,#d24743 447px,#d24644 481px,#c63d4d 491px)"></i><i style="background:linear-gradient(90deg,#c13a51 1px,#ad305c 47px,#b0315b 99px,#902568 136px,#7c1e6d 161px,#8f2468 180px,#c83f4b 207px,#e75e2e 221px,#fa910b 234px,#fbac14 244px,#fbaa12 252px,#f98d0b 262px,#e45a31 278px,#c93f4b 299px,#b2325a 334px,#be3853 420px,#d04545 466px,#db4f3b 479px,#c83f4c 491px)"></i><i style="background:linear-gradient(90deg,#bf3952 1px,#b73557 67px,#af315c 105px,#8c2369 157px,#992865 176px,#da4e3d 219px,#f3771a 244px,#f1721e 257px,#d54941 287px,#ba3655 332px,#bb3755 438px,#c33b4f 460px,#df5437 470px,#ec6727 477px,#e65d2f 483px,#ce4447 491px)"></i><i style="background:linear-gradient(90deg,#c03a51 1px,#bf3952 47px,#b63458 101px,#9c2964 156px,#af315c 180px,#ce4447 210px,#e25834 252px,#c13a50 330px,#bc3754 384px,#b2325a 436px,#bc3754 457px,#d74b3f 465px,#f68311 473px,#fa940b 477px,#f9900b 480px,#f37919 484px,#d94d3d 491px)"></i><i style="background:linear-gradient(90deg,#c43c4f 1px,#c43c4e 48px,#b93556 107px,#ad305c 154px,#bc3854 179px,#d24644 208px,#cf4446 302px,#bf3952 374px,#ba3655 406px,#b3325a 436px,#c03a51 457px,#d74b3f 463px,#f1721e 468px,#fa9308 471px,#fca80e 473px,#fbbe24 476px,#fac026 479px,#fca40b 483px,#f98e0a 485px,#e75e2e 490px,#e35833 491px)"></i><i style="background:linear-gradient(90deg,#c83f4b 1px,#c13a51 97px,#b93556 148px,#cb4149 185px,#d54941 211px,#cf4446 286px,#cf4446 328px,#c23b50 369px,#c13a51 407px,#bd3853 439px,#ca404a 457px,#de5338 463px,#f57d15 468px,#fa9307 470px,#fcaa0f 472px,#f9c831 476px,#f8cc36 478px,#fbb61b 482px,#fca108 484px,#f98b0b 486px,#e65d2f 491px)"></i><i style="background:linear-gradient(90deg,#cc4149 1px,#c03a51 151px,#d44842 209px,#cc4248 287px,#d44842 326px,#c43c4e 370px,#ce4447 453px,#de5238 462px,#f2751b 468px,#fa9608 472px,#fcad13 477px,#fba20b 481px,#f98d0b 484px,#e35833 491px)"></i><i style="background:linear-gradient(90deg,#cc4248 1px,#c43c4f 81px,#c73e4c 171px,#ce4447 213px,#ca404a 293px,#d54941 332px,#c63e4d 377px,#d94d3d 460px,#eb6628 469px,#f57e15 476px,#f1731d 482px,#db4f3b 491px)"></i><i style="background:linear-gradient(90deg,#ca404a 1px,#bf3952 70px,#c23b50 138px,#c53d4e 180px,#c83f4b 220px,#c83f4c 274px,#c83f4b 304px,#d74b3f 336px,#c83f4c 381px,#d84c3e 430px,#d84c3e 464px,#e25834 479px,#d04545 491px)"></i><i style="background:linear-gradient(90deg,#c63e4d 1px,#b83556 74px,#bf3952 128px,#ba3655 169px,#c73e4c 205px,#c43c4f 244px,#c13a50 282px,#c43c4f 308px,#d54941 340px,#c83f4c 383px,#d94c3e 425px,#ce4347 467px,#cc4149 486px,#c83f4b 491px)"></i><i style="background:linear-gradient(90deg,#c43c4f 1px,#b93556 48px,#b3325a 85px,#ba3655 127px,#b1325a 164px,#c63d4d 203px,#ba3655 245px,#bc3754 293px,#c63e4d 323px,#cb4149 350px,#c53d4e 384px,#d54a41 423px,#c33b4f 468px,#c43c4f 491px)"></i><i style="background:linear-gradient(90deg,#c13a51 1px,#b93656 48px,#b1325a 87px,#b33359 130px,#ac2f5d 162px,#d14744 214px,#db5835 251px,#c9404a 283px,#bc3754 312px,#c13a50 388px,#d04545 424px,#bc3754 466px,#c13a51 491px)"></i><i style="background:linear-gradient(90deg,#c03a51 1px,#b83556 62px,#b33359 115px,#ab2f5e 161px,#bf3952 181px,#dc5139 194px,#f17d19 203px,#f59a26 207px,#f4b540 210px,#fac458 212px,#fcd45a 217px,#f8ef7c 224px,#fbfda1 229px,#fbfda1 265px,#fbe167 273px,#fcce55 278px,#f8c057 282px,#f49d2b 286px,#f17e1b 290px,#e15833 297px,#ca404a 308px,#b83556 334px,#b93656 378px,#c63e4d 425px,#bb3755 471px,#bf3952 491px)"></i><i style="background:linear-gradient(90deg,#c33b4f 1px,#ad305c 160px,#c13a51 178px,#de5238 188px,#f3761b 194px,#fa9307 197px,#fcaa0f 199px,#f6d543 202px,#f3f27f 204px,#f9fc9b 205px,#fcffa4 206px,#fcffa4 288px,#f8fa97 289px,#f4f27f 290px,#f3e35d 291px,#fbb81d 294px,#fba009 296px,#f98b0b 298px,#e8612c 304px,#d14644 313px,#b93656 333px,#b33359 361px,#bf3952 412px,#c33b4f 491px)"></i><i style="background:linear-gradient(90deg,#ca404a 1px,#b1325a 135px,#b93656 173px,#d04545 188px,#e6612c 196px,#f38318 201px,#f6aa2e 205px,#fac954 208px,#fbdd63 212px,#f7f487 216px,#fbfda1 218px,#fbfea3 276px,#f9eb75 280px,#fcd157 285px,#fccd55 286px,#f6af2e 289px,#f68b17 293px,#ee6f20 297px,#db503b 306px,#c53d4e 326px,#b73557 355px,#bf3952 400px,#bf3952 439px,#ca404a 485px,#ca404a 491px)"></i><i style="background:linear-gradient(90deg,#d14644 1px,#b83556 87px,#bf3952 198px,#d14d40 218px,#d9692f 232px,#d7763c 247px,#db6e30 260px,#da6030 268px,#d04744 286px,#ca404a 332px,#c03a51 362px,#c13a50 415px,#d24743 486px,#d24644 491px)"></i><i style="background:linear-gradient(90deg,#d74b3f 1px,#ba3655 73px,#c33b4f 179px,#aa2f5e 207px,#781c6d 237px,#69176e 246px,#7c1d6c 256px,#c13a51 290px,#d74b3f 313px,#ca414a 353px,#ca404a 425px,#d74b3f 490px,#d74b3f 491px)"></i><i style="background:linear-gradient(90deg,#da4e3d 1px,#bc3754 67px,#ca414a 142px,#d44942 174px,#c03a51 198px,#8d2369 222px,#63146e 235px,#3a0b61 244px,#3d0b63 249px,#6a176e 258px,#ae305c 280px,#d14644 297px,#e15635 319px,#d04545 365px,#c73e4c 397px,#da4e3d 491px)"></i><i style="background:linear-gradient(90deg,#da4e3c 1px,#be3853 65px,#cf4446 132px,#e9622b 168px,#e25834 187px,#c33b4f 205px,#7c1e6d 227px,#56106d 234px,#3c0a64 237px,#11082e 242px,#09051b 245px,#0a061e 248px,#200b47 252px,#3d0a64 255px,#63146e 260px,#912568 271px,#ce4447 292px,#e8602d 313px,#ea6429 335px,#d04545 376px,#c93f4b 401px,#da4e3c 478px,#da4e3c 491px)"></i><i style="background:linear-gradient(90deg,#d74b3f 1px,#bf3952 68px,#cf4446 122px,#e8602c 144px,#f7860f 165px,#f78510 179px,#e55c30 197px,#b63457 213px,#6f196e 229px,#440a69 234px,#2a0b55 236px,#07051a 239px,#010005 241px,#010005 251px,#07051a 253px,#280b52 256px,#420a67 258px,#69176e 263px,#b0315b 281px,#de5338 299px,#f2751b 321px,#f3761b 341px,#d24644 385px,#d04545 418px,#d84c3e 485px,#d74b3f 491px)"></i><i style="background:linear-gradient(90deg,#cf4446 1px,#c43c4e 69px,#ce4347 115px,#e35933 134px,#fa9507 157px,#fca80e 168px,#fca50b 178px,#f98d0a 188px,#e45932 202px,#aa2f5e 217px,#69176e 229px,#440a68 233px,#270b52 235px,#0a0723 237px,#02020c 238px,#000004 239px,#000004 253px,#02010b 254px,#230c4e 257px,#3e0966 259px,#68166e 264px,#ae305c 281px,#e05536 299px,#f68013 319px,#f98b0b 336px,#ef6e21 360px,#d84c3e 388px,#d34743 430px,#cf4446 491px)"></i><i style="background:linear-gradient(90deg,#c63d4d 1px,#c63e4d 63px,#d24743 116px,#e65e2e 134px,#fb9806 155px,#fcb317 169px,#fcab10 180px,#fb9506 188px,#e9612b 201px,#bd3853 213px,#7c1e6d 226px,#4e0d6c 232px,#340a5f 234px,#160b38 236px,#010109 238px,#000004 241px,#000004 253px,#010108 254px,#140b36 256px,#310a5c 258px,#510e6d 261px,#711a6e 266px,#b63458 283px,#e45932 300px,#f8850f 319px,#fa9108 334px,#f68013 352px,#de5338 387px,#d34743 426px,#c63d4d 491px)"></i><i style="background:linear-gradient(90deg,#bc3754 1px,#c13a51 49px,#ce4447 94px,#db503b 124px,#f2731d 144px,#fb9707 158px,#fca50b 171px,#fb9707 183px,#f3761b 194px,#d04545 208px,#8a226a 224px,#57106d 232px,#350a5f 235px,#1a0b3e 237px,#050415 239px,#000004 241px,#000004 251px,#050415 253px,#260b50 256px,#3e0a66 258px,#61146e 262px,#952667 273px,#d34743 292px,#f1711f 311px,#f8870e 328px,#f67f14 346px,#db4f3b 390px,#c63d4d 460px,#bc3754 491px)"></i><i style="background:linear-gradient(90deg,#b63458 1px,#b63458 40px,#cc4248 87px,#da4e3c 125px,#f47918 154px,#f98b0c 169px,#f68013 183px,#e05536 201px,#ad305c 217px,#751b6e 230px,#480c6a 236px,#290b52 239px,#0d0725 243px,#09051a 246px,#0c0724 249px,#280b51 253px,#450b68 256px,#6f196e 262px,#b93556 282px,#df5437 300px,#f0701f 322px,#ee6b23 342px,#d24743 388px,#cf4446 426px,#bd3853 472px,#b63458 491px)"></i><i style="background:linear-gradient(90deg,#b2325a 1px,#ad305c 33px,#c63d4d 85px,#d54a41 126px,#f1721e 168px,#ee6b23 184px,#d54a41 204px,#9d2964 224px,#70196e 235px,#410b65 244px,#400b65 248px,#721a6e 259px,#bc3754 284px,#db4f3b 303px,#e45a31 326px,#c53d4e 381px,#c73e4c 413px,#ca404a 445px,#b2325a 491px)"></i><i style="background:linear-gradient(90deg,#b0315b 1px,#ac2f5d 29px,#c13a51 80px,#ce4347 119px,#ea632a 174px,#e05536 195px,#bf3952 215px,#7f1e6c 238px,#6d186e 246px,#7c1d6d 256px,#c23b50 290px,#d44842 315px,#c73e4c 345px,#b33359 377px,#bc3754 407px,#ca404a 438px,#b1325a 491px)"></i><i style="background:linear-gradient(90deg,#b0315b 1px,#ad305c 29px,#c23b50 69px,#c83f4c 108px,#e45a31 173px,#dd513a 195px,#b93556 219px,#89226a 245px,#972766 262px,#c13a50 296px,#c43c4e 327px,#a62d60 377px,#b3325a 405px,#c83f4b 438px,#b73557 481px,#b0315b 491px)"></i><i style="background:linear-gradient(90deg,#b0315b 1px,#b0315b 28px,#c73e4c 67px,#c93f4b 106px,#dd5139 153px,#df5337 185px,#c43c4e 211px,#9d2964 241px,#a22b61 260px,#be3853 297px,#b93656 338px,#a22b62 381px,#b0315b 408px,#c83f4b 439px,#c13a51 469px,#b1325a 491px)"></i><i style="background:linear-gradient(90deg,#b0315b 1px,#ae305c 25px,#ca404a 65px,#ca404a 109px,#dc503a 159px,#d84c3e 189px,#ad305d 231px,#ae305c 253px,#be3853 292px,#b33359 347px,#a22b62 387px,#af315c 411px,#ca404a 443px,#c13a51 471px,#b1325a 491px)"></i><i style="background:linear-gradient(90deg,#af315c 1px,#ac2f5d 23px,#cb4149 64px,#c73e4c 112px,#da4e3d 167px,#d04545 195px,#b63458 229px,#c53d4e 280px,#ae305c 352px,#9f2a63 392px,#b53458 420px,#ca404a 446px,#be3853 474px,#af315c 491px)"></i><i style="background:linear-gradient(90deg,#ab2f5e 1px,#aa2f5e 24px,#c83f4c 60px,#c13a50 115px,#d74b3f 168px,#ce4447 199px,#c13a50 229px,#d04545 271px,#a52c60 350px,#9a2865 388px,#a92e5f 413px,#c53d4e 444px,#bc3754 471px,#ac2f5d 491px)"></i><i style="background:linear-gradient(90deg,#a72d5f 1px,#a92e5e 25px,#c33b4f 59px,#bf3952 116px,#d64a40 171px,#ce4447 227px,#da4e3c 263px,#c83f4b 289px,#a72d5f 325px,#8f2469 369px,#982766 400px,#bc3754 444px,#b33359 473px,#a72d5f 491px)"></i><i style="background:linear-gradient(90deg,#a52c60 1px,#ab2f5e 28px,#bd3853 60px,#c13a51 121px,#d24644 166px,#d64a40 218px,#e9612b 250px,#d54941 281px,#a52c60 315px,#801f6c 362px,#8b236a 392px,#b2325a 441px,#ad305c 474px,#a62d60 491px)"></i><i style="background:linear-gradient(90deg,#a72d5f 1px,#b0315b 34px,#c13a50 110px,#ca404a 167px,#ce4347 200px,#e35932 223px,#f68013 243px,#f47a17 254px,#d24743 284px,#9f2a63 316px,#741a6e 357px,#751b6e 379px,#a92e5e 440px,#a92e5e 480px,#a72d5f 491px)"></i><i style="background:linear-gradient(90deg,#ae305c 1px,#bf3952 77px,#c63e4d 112px,#bc3754 184px,#d74b3f 210px,#ef6c23 224px,#fa9309 233px,#fbb117 242px,#fbb016 249px,#fa9109 258px,#e75f2d 272px,#c43c4f 294px,#86216b 335px,#68166e 361px,#6c186e 382px,#a92e5e 450px,#ad305c 491px)"></i><i style="background:linear-gradient(90deg,#b93656 1px,#be3853 71px,#ca404a 105px,#b1325a 151px,#a72d5f 174px,#b83556 192px,#db503b 211px,#f1731d 221px,#fb9708 227px,#fbb419 231px,#f4e564 239px,#f6f07b 243px,#f6ee78 247px,#f4df57 252px,#fbb217 259px,#fb9707 263px,#ed6826 272px,#d54941 285px,#a22b62 320px,#68166e 358px,#65156e 379px,#8f2468 425px,#af315c 459px,#b93556 491px)"></i><i style="background:linear-gradient(90deg,#c53d4e 1px,#c73e4c 31px,#bc3754 67px,#c83f4c 107px,#b63457 133px,#902568 165px,#982865 180px,#c43c4e 200px,#e65c30 213px,#f8870e 221px,#fb9e08 224px,#fbba1f 227px,#f4e157 231px,#f7f88f 234px,#fcffa4 237px,#fbfda1 253px,#f5f383 256px,#f5da4b 259px,#fbbd22 262px,#fca109 265px,#f98b0b 268px,#eb6528 275px,#d14644 288px,#9f2a63 327px,#70196e 360px,#71196e 386px,#8f2469 424px,#b33359 461px,#c43c4e 491px)"></i><i style="background:linear-gradient(90deg,#ce4347 1px,#d24644 27px,#bc3754 69px,#c23b50 113px,#ae305c 134px,#7c1e6d 164px,#83206b 177px,#ad305d 193px,#dd5139 208px,#f57c16 217px,#fb9906 221px,#fcaa0f 223px,#f7d441 227px,#f3f483 230px,#f8fb99 231px,#fcffa4 232px,#fcffa4 257px,#f7fb97 258px,#f4de51 261px,#fbbd22 264px,#fc9f07 267px,#f8870e 270px,#e65e2e 278px,#cb4149 292px,#9b2865 335px,#801f6c 362px,#89226a 400px,#c33b4f 477px,#cd4248 491px)"></i><i style="background:linear-gradient(90deg,#d44842 1px,#d54a41 28px,#b83556 71px,#bc3754 118px,#a62d60 136px,#70196e 162px,#6f196e 173px,#89226a 185px,#c13a50 200px,#e9622b 212px,#fb9506 220px,#fca70c 222px,#fac62d 225px,#f2e661 228px,#f5f992 230px,#fcffa4 231px,#fbfda1 258px,#f1ed71 260px,#f6d644 262px,#fcb519 265px,#fca208 267px,#f8880d 270px,#e75e2e 278px,#cc4248 291px,#af315c 316px,#932567 362px,#b93556 454px,#d34743 491px)"></i><i style="background:linear-gradient(90deg,#d64a40 1px,#d44842 29px,#b43359 69px,#ba3655 119px,#a22b62 137px,#65156e 163px,#65156e 175px,#85216b 187px,#c13a51 202px,#e9622b 214px,#fb9707 222px,#fcb318 225px,#f7d23f 228px,#f3f079 231px,#f7f88f 232px,#fcffa4 234px,#fbfea3 255px,#f5f68b 257px,#f7d03c 261px,#fca70d 265px,#fb9707 267px,#ee6b24 274px,#d64a40 285px,#b43359 308px,#9e2a63 357px,#ba3655 434px,#d64a40 491px)"></i><i style="background:linear-gradient(90deg,#d74b3f 1px,#ce4347 31px,#b3325a 67px,#bc3754 115px,#a62d60 134px,#65156e 160px,#59106e 171px,#6d186e 184px,#a82e5f 200px,#db503b 214px,#f68013 223px,#fa9709 226px,#fbb117 229px,#f6d443 233px,#f6f07d 237px,#f7fa95 241px,#f9fc9b 246px,#f7f68b 251px,#f4e96a 254px,#fac229 259px,#fba10a 263px,#f98b0b 266px,#ea632a 274px,#d04545 288px,#b0315b 315px,#a52c60 362px,#c43c4f 426px,#d74b3f 491px)"></i><i style="background:linear-gradient(90deg,#d54941 1px,#c13a50 43px,#b63457 72px,#bb3755 112px,#a82e5f 132px,#71196e 154px,#550f6d 168px,#58106e 178px,#7b1d6d 192px,#b83556 209px,#df5437 220px,#f8890d 230px,#fba30d 234px,#f9c62f 241px,#f8cc38 246px,#fabd24 252px,#fb9908 259px,#f3761b 266px,#df5337 277px,#bc3754 304px,#ab2f5e 341px,#ac2f5d 375px,#cb4149 431px,#d54941 491px)"></i><i style="background:linear-gradient(90deg,#d04545 1px,#bf3952 79px,#b63458 116px,#9e2a63 137px,#5d126e 165px,#57106d 177px,#721a6e 191px,#b2325a 211px,#df5337 225px,#f7860f 238px,#fa930a 246px,#f68013 256px,#df5437 273px,#c23b50 299px,#b0315b 335px,#aa2f5e 378px,#d04545 438px,#d14644 490px,#d04545 491px)"></i><i style="background:linear-gradient(90deg,#ca404a 1px,#bf3952 90px,#a32c61 136px,#66166e 168px,#66166e 181px,#8b236a 198px,#cc4149 222px,#eb6528 239px,#ed6925 250px,#cd4248 283px,#b63457 323px,#a52c60 381px,#c43c4f 418px,#d44842 448px,#ca404a 491px)"></i><i style="background:linear-gradient(90deg,#c33b4f 1px,#c13a50 80px,#b0315b 124px,#a12b62 143px,#771c6d 170px,#7d1e6c 185px,#b73557 214px,#da4e3c 238px,#d84d3e 257px,#c23b50 298px,#af315c 352px,#a02a62 383px,#b1325a 407px,#d24644 438px,#cf4446 468px,#c33b4f 491px)"></i><i style="background:linear-gradient(90deg,#bf3952 1px,#ba3655 85px,#ad305c 139px,#8c2369 170px,#932667 187px,#c43c4e 226px,#ca404a 251px,#c63d4d 286px,#c73e4c 321px,#9f2a63 383px,#a82e5f 404px,#cf4446 438px,#cb4149 466px,#c03a51 491px)"></i><i style="background:linear-gradient(90deg,#c13a50 1px,#b63457 113px,#b0315b 141px,#9d2964 171px,#bd3853 224px,#bf3952 273px,#d44842 309px,#c43c4f 338px,#9f2a63 386px,#aa2f5e 409px,#cb4149 441px,#c13a50 491px)"></i><i style="background:linear-gradient(90deg,#c9404b 1px,#c13a50 35px,#b63457 69px,#b63458 136px,#ad305d 170px,#ba3655 216px,#b53458 261px,#db503b 307px,#cb4149 333px,#a52c60 383px,#a92e5e 408px,#c83f4c 445px,#c9404b 491px)"></i><i style="background:linear-gradient(90deg,#cf4446 1px,#c83f4b 33px,#b93656 67px,#ba3655 174px,#bb3755 206px,#a92e5e 250px,#bc3754 276px,#de5238 305px,#d94d3d 322px,#b73557 354px,#a82e5f 396px,#bd3853 430px,#ca404a 473px,#ce4447 491px)"></i><i style="background:linear-gradient(90deg,#ce4347 1px,#cd4248 30px,#bd3853 75px,#bd3853 147px,#bf3952 191px,#9b2964 243px,#a82e5f 268px,#d04545 292px,#e65e2e 309px,#df5437 323px,#be3853 347px,#ac2f5d 390px,#b83556 422px,#c43c4e 457px,#ce4347 491px)"></i><i style="background:linear-gradient(90deg,#c63d4d 1px,#ce4347 32px,#b43359 107px,#ca404a 169px,#ba3655 197px,#89226a 238px,#8e2469 256px,#b3325a 279px,#de5238 295px,#f2731d 308px,#f1721e 317px,#d24644 338px,#b93656 360px,#b0315b 398px,#bf3952 445px,#be3853 479px,#c63d4d 491px)"></i><i style="background:linear-gradient(90deg,#bb3755 1px,#d04545 33px,#bf3952 69px,#ae305c 99px,#b93656 123px,#d54a40 159px,#ce4347 183px,#a02a62 212px,#721a6e 239px,#751b6e 251px,#a12b62 272px,#d24644 287px,#f57c16 300px,#fa9509 307px,#fb9908 314px,#f78510 322px,#de5238 337px,#c53d4e 355px,#b43359 391px,#ba3655 439px,#ae305c 474px,#b93656 491px)"></i><i style="background:linear-gradient(90deg,#b63458 1px,#d24644 31px,#c83f4b 56px,#a82e5f 94px,#b0315b 115px,#e25734 156px,#e25833 175px,#cb4149 193px,#88226a 219px,#540f6d 242px,#5d126e 251px,#9d2964 271px,#d54941 285px,#f78212 296px,#fb9907 300px,#fbb71c 307px,#fbbd22 312px,#fcab10 319px,#fa9407 324px,#e75f2d 336px,#d04545 350px,#bc3754 385px,#b93656 432px,#a72d5f 471px,#b43359 491px)"></i><i style="background:linear-gradient(90deg,#b93656 1px,#d24644 30px,#c83f4c 52px,#a52c60 88px,#ab2f5e 110px,#d04545 136px,#ef6c23 158px,#f1731d 172px,#e35933 187px,#b93556 203px,#791c6d 221px,#460b69 235px,#2d0b57 242px,#2f0b58 247px,#56106d 255px,#972766 270px,#d24644 283px,#f78212 294px,#fb9d07 298px,#fac62d 306px,#f8cd37 311px,#fac52c 316px,#fb9d07 324px,#f78212 329px,#e35933 339px,#cf4446 355px,#c03a51 390px,#b93656 429px,#aa2f5e 467px,#b93556 491px)"></i><i style="background:linear-gradient(90deg,#c03a51 1px,#cd4248 29px,#b63458 59px,#a32c61 87px,#ac2f5d 109px,#d24644 134px,#f47918 156px,#f98b0b 167px,#f78410 178px,#e15734 193px,#a62d60 209px,#69166e 223px,#430a68 231px,#260b50 235px,#09061d 240px,#040312 243px,#060415 247px,#11092f 250px,#320a5d 254px,#520e6d 258px,#962766 271px,#d44842 284px,#f68013 294px,#fb9a06 298px,#fbbf25 305px,#f9c831 311px,#fbbc21 317px,#fb9e07 323px,#f68112 328px,#e35933 338px,#d04545 352px,#c43c4f 393px,#b1325a 461px,#bf3952 491px)"></i><i style="background:linear-gradient(90deg,#c13a51 1px,#c13a50 29px,#a52c60 73px,#af315c 105px,#d04545 132px,#ee6a24 148px,#fa9207 162px,#fb9c07 173px,#f8860e 184px,#e25833 196px,#a72d5f 210px,#69176e 222px,#420a68 229px,#270b52 232px,#040313 236px,#000004 238px,#010107 251px,#09061e 253px,#270b51 256px,#450b69 259px,#721a6e 266px,#b33359 279px,#e15635 289px,#f98d0a 299px,#fca50c 304px,#fcb015 311px,#fca60c 317px,#fa9009 322px,#e45932 335px,#ce4347 349px,#bc3754 426px,#b93556 467px,#c13a51 491px)"></i><i style="background:linear-gradient(90deg,#bc3754 1px,#b3325a 30px,#a32c61 61px,#c23b50 121px,#de5238 140px,#f98e09 161px,#fca108 173px,#fa9108 184px,#e8602d 197px,#b73557 209px,#751b6e 221px,#480b6a 228px,#290b55 231px,#07051c 234px,#010108 235px,#000004 240px,#000004 253px,#010109 254px,#1d0c44 257px,#340a5f 259px,#540f6d 263px,#972766 276px,#d64a40 290px,#f2741c 300px,#f98c0c 309px,#f7850f 317px,#d94d3d 336px,#c83f4c 354px,#c73e4c 409px,#ba3655 469px,#bc3754 491px)"></i><i style="background:linear-gradient(90deg,#b63457 1px,#a22b61 37px,#9f2a63 59px,#c03a51 110px,#d14644 135px,#eb6528 151px,#fa9208 168px,#fb9706 179px,#f68013 190px,#df5437 202px,#a52c60 215px,#61136e 226px,#3c0964 230px,#200c49 232px,#07051c 234px,#010107 235px,#000004 254px,#02020e 255px,#1f0c48 258px,#360961 260px,#58106e 265px,#992865 279px,#d94d3d 296px,#ec6826 308px,#e9622b 319px,#cb4149 341px,#c83f4b 367px,#ce4347 403px,#b73557 483px,#b63457 491px)"></i><i style="background:linear-gradient(90deg,#b43359 1px,#9d2964 38px,#9d2964 61px,#c13a51 103px,#d24644 137px,#ed6826 156px,#f8860e 172px,#f78410 184px,#e8602d 199px,#c13a51 211px,#7a1d6d 224px,#490c6a 230px,#310a5c 232px,#150b37 234px,#02020c 236px,#000004 237px,#000004 253px,#02020d 254px,#280b53 258px,#440a68 261px,#751b6e 271px,#bc3754 291px,#da4e3c 306px,#d74b3f 323px,#c63d4d 348px,#d24743 405px,#b43359 467px,#b43359 491px)"></i><i style="background:linear-gradient(90deg,#b63458 1px,#a92e5e 27px,#9a2865 52px,#b43359 86px,#d94d3d 142px,#f2731d 172px,#ef6e21 187px,#d74b3f 204px,#a62d60 217px,#63146e 229px,#3e0a65 233px,#250b4f 235px,#080519 238px,#000004 241px,#010005 249px,#09051d 252px,#2d0b58 256px,#470b69 259px,#70196e 267px,#b1325a 288px,#cc4248 306px,#cc4149 328px,#c63e4d 363px,#d34743 405px,#b0315b 459px,#b63458 491px)"></i><i style="background:linear-gradient(90deg,#bc3754 1px,#b53458 24px,#a12b62 55px,#c03a51 102px,#e15635 154px,#e8602c 177px,#d84c3e 199px,#b3325a 214px,#6d186e 230px,#440b68 236px,#1b093e 242px,#170938 246px,#2e0b56 251px,#4c0d6a 255px,#781c6d 264px,#ad305d 283px,#c53d4e 303px,#c83f4c 333px,#c63d4d 373px,#d14644 408px,#ba3655 436px,#ab2f5e 460px,#bc3754 491px)"></i><i style="background:linear-gradient(90deg,#c13a50 1px,#c13a51 23px,#ad305c 58px,#db503b 172px,#ce4447 199px,#ab2f5e 217px,#70196e 235px,#550f6c 243px,#5d126e 250px,#972766 268px,#b83556 286px,#c63e4d 317px,#c03a51 375px,#cf4446 411px,#b83556 439px,#aa2f5e 460px,#c13a50 491px)"></i><i style="background:linear-gradient(90deg,#c73e4c 1px,#c9404b 26px,#bc3754 64px,#cf4446 186px,#bc3754 212px,#82206b 244px,#902568 256px,#bb3755 284px,#c43c4f 330px,#bc3754 376px,#cd4248 414px,#ae305c 460px,#c73e4c 491px)"></i><i style="background:linear-gradient(90deg,#cd4248 1px,#cf4446 29px,#c53d4e 101px,#ca404a 196px,#b63457 224px,#a22b62 246px,#bf3952 292px,#bd3853 367px,#c63e4d 422px,#b63458 461px,#cc4248 491px)"></i><i style="background:linear-gradient(90deg,#d44842 1px,#d24644 44px,#c93f4b 105px,#cd4248 192px,#b93656 241px,#c13a51 335px,#c23b50 463px,#d44842 491px)"></i><i style="background:linear-gradient(90deg,#d94d3d 1px,#c93f4b 94px,#d44842 170px,#c83f4b 217px,#b63457 318px,#c63d4d 361px,#bb3755 426px,#d94c3e 491px)"></i><i style="background:linear-gradient(90deg,#d94d3d 1px,#c53d4e 87px,#da4e3c 146px,#cc4149 178px,#c13a50 203px,#cb4149 248px,#b2325a 311px,#c43c4f 364px,#b83556 426px,#d94d3d 481px,#d94d3d 491px)"></i><i style="background:linear-gradient(90deg,#d34743 1px,#c23b50 70px,#cc4248 103px,#de5238 142px,#d04545 166px,#b63458 195px,#c23b50 219px,#d04545 245px,#b33359 304px,#bd3853 364px,#bb3755 438px,#d44842 481px,#d34743 491px)"></i><i style="background:linear-gradient(90deg,#c83f4b 1px,#c33b4f 79px,#df5437 139px,#d04545 163px,#af315c 191px,#b63458 210px,#d54941 240px,#cc4248 261px,#b93556 294px,#bc3754 349px,#ba3655 384px,#be3853 416px,#b93656 448px,#c83f4b 488px,#c83f4b 491px)"></i><i style="background:linear-gradient(90deg,#c03a51 1px,#c83f4b 93px,#de5238 136px,#ce4347 161px,#ae305c 189px,#b73557 209px,#de5338 240px,#d74b3f 257px,#bd3853 284px,#c03a51 339px,#b3325a 371px,#c03a51 409px,#b0315b 449px,#c03a51 491px)"></i><i style="background:linear-gradient(90deg,#bd3853 1px,#c73e4c 43px,#c63d4d 93px,#d54941 134px,#c33b4f 162px,#b0315b 187px,#bc3754 207px,#e05536 230px,#eb6628 244px,#db503b 260px,#bf3952 279px,#b93656 303px,#be3853 335px,#a92e5e 370px,#b73557 410px,#a82e5f 446px,#bd3853 491px)"></i><i style="background:linear-gradient(90deg,#c03a51 1px,#ca404a 38px,#c03a51 93px,#c83f4c 134px,#ad305d 181px,#bf3952 203px,#e05536 223px,#f67f14 241px,#f47918 250px,#d74b3f 265px,#b73557 281px,#ae305c 305px,#ad305d 338px,#9b2865 372px,#a62d60 413px,#a52c60 450px,#bf3952 491px)"></i><i style="background:linear-gradient(90deg,#c43c4f 1px,#cd4248 38px,#bd3853 93px,#bc3754 134px,#a62d60 175px,#b63457 193px,#df5337 217px,#f68212 231px,#fb9b09 238px,#fba40c 245px,#fa900a 252px,#e35933 263px,#c13a51 274px,#a62d60 291px,#982865 330px,#89226a 375px,#a72d5f 450px,#c43c4f 491px)"></i><i style="background:linear-gradient(90deg,#c43c4e 1px,#cc4149 44px,#bd3853 113px,#ac2f5d 153px,#9f2a63 175px,#b1325a 191px,#de5338 213px,#f3771a 224px,#fb9707 230px,#fbb419 235px,#f8cd38 241px,#f7d13e 245px,#fac42b 250px,#fb9c09 256px,#f7850f 259px,#de5338 267px,#bd3853 277px,#9a2865 298px,#82206c 329px,#7a1d6d 380px,#912568 418px,#bd3853 476px,#c43c4f 491px)"></i><i style="background:linear-gradient(90deg,#c03a51 1px,#ca404a 67px,#b0315b 147px,#942667 176px,#a22b61 189px,#d54a41 209px,#ef6d22 220px,#fb9807 227px,#fcb015 230px,#f4e157 236px,#f6f589 240px,#f7fa95 245px,#f7f589 249px,#f4e058 253px,#fbb217 258px,#fb9e09 260px,#f68212 263px,#de5338 270px,#c03a51 279px,#8f2469 306px,#71196e 334px,#6e186e 385px,#82206c 409px,#b2325a 450px,#c03a51 491px)"></i><i style="background:linear-gradient(90deg,#ba3655 1px,#cb4149 62px,#c73e4c 98px,#a92e5e 150px,#84206b 175px,#8b236a 187px,#c03a51 205px,#e45a31 216px,#f78410 223px,#fb9e07 226px,#fbbc21 229px,#f5db4c 232px,#f5f78b 235px,#fbfea3 237px,#fbfda1 253px,#f5f689 255px,#f8cd38 259px,#fca90f 262px,#fa9407 264px,#e9622b 270px,#d04545 277px,#aa2f5e 294px,#6e186e 330px,#61146e 351px,#6a176e 393px,#8c2369 419px,#af315c 446px,#ba3655 486px,#ba3655 491px)"></i><i style="background:linear-gradient(90deg,#b3325a 1px,#c13a51 46px,#cc4248 80px,#aa2f5e 143px,#88226a 162px,#6f196e 175px,#741a6e 186px,#a02a62 200px,#d54a41 213px,#f3771a 221px,#fb9b06 225px,#fcb115 227px,#f6d543 230px,#f4f68a 233px,#fafd9f 234px,#fcffa4 237px,#fcffa4 256px,#f8fb99 257px,#f2e763 259px,#fac228 262px,#fca80d 264px,#fa9208 266px,#e9622b 272px,#d24644 279px,#a92e5e 299px,#69166e 333px,#5a116e 352px,#68166e 392px,#952667 425px,#af315c 450px,#b3325a 491px)"></i><i style="background:linear-gradient(90deg,#af315c 1px,#c63e4d 83px,#a22b62 145px,#7b1d6d 162px,#5d126e 176px,#65156e 186px,#922568 199px,#ce4447 212px,#f06e21 220px,#fa9207 224px,#fca70c 226px,#f8cc36 229px,#f2e55f 231px,#f6f994 233px,#fcffa4 234px,#fcffa4 257px,#f6f994 258px,#f3e55d 260px,#f9cb35 262px,#fca60b 265px,#fa9108 267px,#ed6826 272px,#d44842 280px,#aa2f5e 301px,#69176e 334px,#59116e 354px,#741a6e 397px,#a92e5e 443px,#af315c 491px)"></i><i style="background:linear-gradient(90deg,#ae305c 1px,#bc3754 64px,#b53458 105px,#a62d60 143px,#801f6c 159px,#59116e 174px,#5a116e 184px,#801f6c 196px,#be3853 209px,#e65d2f 218px,#f98a0c 224px,#fb9d07 226px,#fac026 229px,#f3e35a 232px,#f5f78b 234px,#fcffa4 236px,#fbfda1 256px,#f6f994 257px,#f5dc4e 260px,#fbb91e 263px,#fca209 265px,#f98e09 267px,#e75e2e 274px,#cc4149 284px,#8e2469 317px,#67166e 342px,#65156e 360px,#9a2865 422px,#ad305d 451px,#ae305c 491px)"></i><i style="background:linear-gradient(90deg,#af315c 1px,#bb3755 32px,#b1325a 141px,#942667 155px,#5f136e 173px,#5a116e 182px,#6d186e 191px,#a92e5f 205px,#db503b 217px,#f47918 224px,#fb9b08 228px,#fbb91e 231px,#f4e058 235px,#f7f68b 238px,#fcffa4 242px,#fbfda1 251px,#f6f68b 254px,#f6d746 258px,#fcb015 262px,#fb9d07 264px,#f57d15 268px,#e45932 275px,#c73e4c 288px,#8c2369 322px,#731a6e 344px,#781c6d 365px,#af315c 448px,#ad305d 487px,#af315c 491px)"></i><i style="background:linear-gradient(90deg,#b2325a 1px,#bd3853 32px,#b53458 81px,#be3952 139px,#a62d60 153px,#69166e 173px,#63146e 183px,#781c6d 193px,#b2325a 208px,#de5238 220px,#f57e14 228px,#fa9508 231px,#fcac12 234px,#f5d94b 241px,#f4e45f 245px,#f4e25c 249px,#f9c72f 255px,#fca50c 260px,#fa8f09 263px,#ea6429 271px,#d24743 283px,#9d2964 318px,#84206b 343px,#8f2468 369px,#ab2f5e 429px,#b33359 455px,#af315c 487px,#b2325a 491px)"></i><i style="background:linear-gradient(90deg,#b53458 1px,#bd3853 38px,#bf3952 101px,#c83f4c 138px,#b33359 152px,#751b6e 173px,#6d186e 183px,#7f1e6c 193px,#bc3754 211px,#e35933 224px,#fa9408 236px,#fbaf14 243px,#fbaf14 250px,#fa9009 258px,#e75f2d 270px,#cf4446 285px,#9c2964 331px,#972766 355px,#a22b61 393px,#b0315b 427px,#bc3754 455px,#b53458 491px)"></i><i style="background:linear-gradient(90deg,#b83556 1px,#cb4149 140px,#b63457 154px,#7f1e6c 175px,#7c1d6d 186px,#9f2a63 201px,#dd513a 223px,#f78311 239px,#f98d0b 248px,#f1711f 260px,#db4f3b 274px,#bf3952 302px,#a42c61 348px,#b33359 419px,#c63e4d 454px,#b83556 491px)"></i><i style="background:linear-gradient(90deg,#bb3755 1px,#cb4149 77px,#cd4248 143px,#b2325a 159px,#8a226a 176px,#8a226a 187px,#b93556 207px,#e65d2f 229px,#f2741c 244px,#ec6726 256px,#d14644 275px,#bc3754 307px,#ac2f5d 358px,#c73e4c 433px,#c93f4b 462px,#bb3755 491px)"></i><i style="background:linear-gradient(90deg,#c03a51 1px,#d34743 48px,#d14644 113px,#d14644 143px,#b33359 161px,#942667 178px,#9a2865 190px,#da4e3c 222px,#ea632a 242px,#de5338 258px,#bf3952 281px,#b73557 312px,#ae305c 361px,#ca404a 421px,#c83f4c 462px,#c03a51 491px)"></i><i style="background:linear-gradient(90deg,#c63e4d 1px,#dd513a 38px,#d14644 86px,#d74b3f 136px,#bf3952 157px,#9e2a63 178px,#a52c60 191px,#da4e3d 222px,#e15635 241px,#ce4447 260px,#af315c 286px,#ad305d 359px,#cd4248 406px,#c23b50 481px,#c63e4d 491px)"></i><i style="background:linear-gradient(90deg,#cc4248 1px,#e15635 34px,#d34743 79px,#db503b 129px,#c73e4c 152px,#a62d60 176px,#ab2f5e 190px,#d54a41 221px,#d54a40 244px,#a82e5f 285px,#a92e5e 318px,#af315c 362px,#cc4149 400px,#c43c4f 434px,#be3853 466px,#cc4149 491px)"></i><i style="background:linear-gradient(90deg,#cf4446 1px,#de5238 35px,#d34743 78px,#de5238 124px,#c93f4b 152px,#af315c 178px,#bc3754 200px,#cf4446 225px,#c33b4f 255px,#ac2f5d 291px,#b43359 364px,#c93f4b 399px,#b73557 455px,#ce4347 491px)"></i><i style="background:linear-gradient(90deg,#cf4446 1px,#d54a41 40px,#d04545 78px,#dc503a 125px,#c63e4d 163px,#ba3655 187px,#c33b4f 233px,#be3952 295px,#bc3754 361px,#c73e4c 400px,#b2325a 449px,#cf4446 491px)"></i><i style="background:linear-gradient(90deg,#d14644 1px,#ce4447 50px,#ce4347 85px,#d94d3d 131px,#c63e4d 186px,#b93556 238px,#cc4249 278px,#d44842 306px,#c43c4e 352px,#ca404a 395px,#ad305c 444px,#bf3952 469px,#d14644 491px)"></i><i style="background:linear-gradient(90deg,#d44842 1px,#d14644 47px,#ca404a 83px,#d84c3e 178px,#b63457 224px,#c9404b 264px,#e45a31 297px,#d44842 325px,#cc4149 351px,#d04545 389px,#ab2f5e 442px,#b73557 463px,#d44842 491px)"></i><i style="background:linear-gradient(90deg,#d54941 1px,#d24644 51px,#cc4248 92px,#cd4248 145px,#e45a31 178px,#d74b3f 197px,#bc3754 222px,#c53d4e 240px,#d24743 261px,#e15734 280px,#ed6a24 298px,#e65d2f 313px,#ce4447 335px,#d14644 364px,#ce4447 394px,#ae305c 443px,#bc3754 466px,#d44842 491px)"></i><i style="background:linear-gradient(90deg,#d04545 1px,#cf4446 67px,#c73e4c 113px,#c43c4f 139px,#dd513a 160px,#f06f21 179px,#ed6925 191px,#c83f4b 217px,#c63e4d 231px,#df5337 253px,#df5337 272px,#f47918 296px,#f1711f 308px,#d34743 330px,#c93f4b 349px,#cf4446 388px,#b63457 453px,#cf4446 491px)"></i><i style="background:linear-gradient(90deg,#ca404a 1px,#ce4347 96px,#c03a51 135px,#d74b3f 154px,#f67f14 174px,#f98d0b 184px,#f68013 194px,#d54a40 215px,#ca404a 228px,#df5337 243px,#e75e2e 254px,#e15635 271px,#f2731d 286px,#f8870e 298px,#f47a17 309px,#d54a41 329px,#c73e4c 347px,#c53d4e 432px,#c13a50 466px,#ca404a 491px)"></i><i style="background:linear-gradient(90deg,#c83f4c 1px,#cb4149 95px,#bf3952 133px,#d24743 150px,#ef6e21 164px,#fb9607 175px,#fca70d 185px,#fb9707 195px,#f1731d 205px,#da4e3d 217px,#cd4248 229px,#e15734 244px,#e75e2e 254px,#df5337 271px,#ee6b23 283px,#f98c0a 297px,#f8860e 307px,#d94d3d 329px,#c73e4c 349px,#c33b4f 403px,#c83f4b 471px,#c83f4c 491px)"></i><i style="background:linear-gradient(90deg,#ca404a 1px,#c03a51 101px,#ba3655 133px,#d14644 150px,#ed6826 162px,#fb9706 173px,#fcb014 183px,#fcaa0f 192px,#fa9407 199px,#e25734 215px,#d04545 227px,#da4e3d 240px,#e45a31 253px,#db4f3b 271px,#ed6826 284px,#f8860e 297px,#f78410 307px,#d94d3d 331px,#c13a50 357px,#b63458 395px,#ce4447 458px,#cb4149 491px)"></i><i style="background:linear-gradient(90deg,#ce4447 1px,#b2325a 125px,#c13a50 144px,#e05536 158px,#f98c0b 173px,#fca40a 182px,#fca209 191px,#f98a0c 200px,#e05536 217px,#d24743 230px,#e15635 254px,#db503b 272px,#f06f20 291px,#f47a17 302px,#eb6628 316px,#d04545 336px,#af315c 374px,#af315c 407px,#d04545 458px,#ce4447 491px)"></i><i style="background:linear-gradient(90deg,#d04545 1px,#b0315b 102px,#b43359 134px,#cf4446 153px,#f47b17 174px,#f98d0b 185px,#f78311 196px,#e05536 217px,#d84c3e 233px,#e25734 257px,#e05536 276px,#ec6726 301px,#d44842 327px,#ad305d 364px,#a62d60 399px,#c33b4f 439px,#d24644 475px,#d04545 491px)"></i><i style="background:linear-gradient(90deg,#d04545 1px,#b73557 77px,#bc3754 137px,#d74b3f 159px,#f06f20 180px,#f1711f 193px,#dd513a 223px,#e55c30 263px,#e05536 306px,#b1325a 353px,#a52c60 383px,#b0315b 419px,#d04545 470px,#d04545 491px)"></i><i style="background:linear-gradient(90deg,#cc4248 1px,#b93656 55px,#c23b50 116px,#c83f4b 145px,#e8602d 182px,#e35933 207px,#df5337 234px,#e65c30 267px,#d44842 314px,#ab2f5e 368px,#af315c 413px,#cf4446 478px,#cc4248 491px)"></i><i style="background:linear-gradient(90deg,#c73e4c 1px,#b63457 43px,#ca404a 106px,#cc4248 145px,#e15635 187px,#db4f3b 242px,#df5437 281px,#c83f4b 332px,#b0315b 374px,#b43359 415px,#cc4149 476px,#c83f4c 491px)"></i><i style="background:linear-gradient(90deg,#c43c4f 1px,#b43359 43px,#c83f4b 100px,#ca404a 142px,#db4f3b 188px,#cd4348 250px,#da4e3c 301px,#c73e4c 343px,#b63458 382px,#bf3952 424px,#ca404a 475px,#c43c4f 491px)"></i><i style="background:linear-gradient(90deg,#c23b50 1px,#b63458 49px,#c33b4f 99px,#c43c4e 141px,#d74b3f 187px,#c73e4c 222px,#ba3655 248px,#db503b 300px,#d14644 336px,#bb3755 380px,#c43c4f 416px,#cc4248 449px,#c33b4f 491px)"></i><i style="background:linear-gradient(90deg,#c13a50 1px,#b63457 62px,#ba3655 100px,#bb3755 137px,#d34743 187px,#c73e4c 214px,#ad305d 244px,#b63457 263px,#d84c3e 294px,#d54941 327px,#bc3754 379px,#c63e4d 410px,#d24743 440px,#c13a50 491px)"></i><i style="background:linear-gradient(90deg,#c03a51 1px,#ab2f5e 122px,#cc4248 193px,#be3853 217px,#a22b61 244px,#aa2f5e 261px,#ce4447 291px,#cb4149 323px,#b43359 381px,#ca404a 416px,#d04545 441px,#bf3952 484px,#c03a51 491px)"></i><i style="background:linear-gradient(90deg,#bd3853 1px,#b83556 34px,#9a2865 118px,#b0315b 166px,#be3952 198px,#ae305c 220px,#932667 246px,#a02b62 265px,#bc3754 290px,#b43358 323px,#a22b61 380px,#c63d4d 430px,#b83556 478px,#bd3853 491px)"></i><i style="background:linear-gradient(90deg,#b93556 1px,#b63457 30px,#992865 85px,#87216b 116px,#992865 168px,#a72d5f 199px,#932667 223px,#7f1e6c 246px,#8a226a 265px,#a32c61 290px,#9a2865 322px,#8b236a 376px,#a52c60 407px,#b2325a 432px,#ac2f5d 471px,#b93556 491px)"></i><i style="background:linear-gradient(90deg,#b63458 1px,#b43359 31px,#9b2865 77px,#781c6d 113px,#801f6c 151px,#8e2469 197px,#741b6e 228px,#69166e 250px,#84206b 278px,#902568 299px,#771c6d 366px,#87216b 392px,#9d2964 418px,#9f2a63 466px,#b63458 491px)"></i><i style="background:linear-gradient(90deg,#b83556 1px,#b63457 30px,#9c2964 76px,#741a6e 112px,#771c6d 141px,#84206b 183px,#71196e 216px,#5d126e 246px,#70196e 269px,#8a226a 295px,#811f6c 323px,#731a6e 360px,#801f6c 384px,#972766 414px,#962766 458px,#b73557 491px)"></i><i style="background:linear-gradient(90deg,#bf3952 1px,#bd3853 27px,#9f2a63 79px,#7a1d6d 113px,#7d1e6c 138px,#912568 176px,#801f6c 205px,#62146e 242px,#6d186e 264px,#8f2469 296px,#88226a 326px,#801f6c 360px,#a12b62 409px,#952667 453px,#b0315b 479px,#be3853 491px)"></i><i style="background:linear-gradient(90deg,#c63d4d 1px,#c43c4e 25px,#a42c61 84px,#88226a 115px,#8f2468 139px,#a82e5f 174px,#9e2a63 198px,#741a6e 240px,#751b6e 260px,#992865 299px,#9a2865 362px,#b33359 403px,#9d2964 451px,#ad305c 471px,#c53d4e 491px)"></i><i style="background:linear-gradient(90deg,#cc4149 1px,#c83f4c 26px,#b73557 66px,#992865 119px,#a42c61 144px,#bc3854 176px,#b33359 201px,#801f6c 244px,#84206b 264px,#a42c61 303px,#c03a51 380px,#c13a50 410px,#a82e5f 451px,#bc3754 476px,#cb4149 491px)"></i><i style="background:linear-gradient(90deg,#cf4446 1px,#c33b4f 39px,#b33359 91px,#a72d5f 121px,#ba3655 155px,#c53d4e 183px,#b33359 211px,#811f6c 245px,#84206b 261px,#a72d5f 296px,#cd4348 362px,#cd4248 406px,#b33359 451px,#c83f4c 481px,#ce4447 491px)"></i><i style="background:linear-gradient(90deg,#cb4149 1px,#c23b50 67px,#b43359 125px,#c23b50 175px,#b33359 207px,#7c1e6d 239px,#721a6e 251px,#aa2f5e 294px,#d24743 339px,#db4f3b 367px,#c73e4c 422px,#b93656 455px,#cb4149 491px)"></i><i style="background:linear-gradient(90deg,#c13a51 1px,#bf3952 48px,#c23b50 90px,#c43c4f 148px,#b63458 189px,#9f2a63 214px,#65156e 239px,#56106d 248px,#711a6e 261px,#ad305d 289px,#e25734 344px,#e15734 369px,#bc3754 444px,#c13a51 491px)"></i><i style="background:linear-gradient(90deg,#b43359 1px,#b93556 40px,#c83f4c 83px,#c63d4d 163px,#9f2a63 207px,#70196e 229px,#440b68 240px,#2d0b57 246px,#370a60 252px,#5d126e 259px,#a22b61 279px,#c9404b 297px,#ea6429 335px,#ed6925 357px,#c73e4c 418px,#b63458 474px,#b53458 491px)"></i><i style="background:linear-gradient(90deg,#b0315b 1px,#b63458 38px,#cc4149 78px,#ce4347 137px,#cc4149 164px,#a62d60 201px,#771c6d 222px,#510e6c 233px,#380a61 237px,#180b3c 241px,#070417 245px,#060416 249px,#10092e 252px,#3c0a64 257px,#68166e 263px,#b0315b 280px,#d54a40 294px,#ee6c22 316px,#f78410 343px,#f47918 365px,#d04545 412px,#b0315b 489px,#b0315b 491px)"></i><i style="background:linear-gradient(90deg,#b73557 1px,#b93656 36px,#d24644 82px,#d44842 135px,#d44842 166px,#b3325a 196px,#87216b 215px,#510e6c 231px,#340a5f 235px,#160b38 238px,#02010b 241px,#000004 244px,#000004 252px,#050416 254px,#250c50 257px,#3f0a66 259px,#6c186e 264px,#b33359 279px,#dc503a 292px,#f47a17 311px,#fb9707 330px,#fba009 349px,#fa9109 367px,#df5437 409px,#ba3655 478px,#b73557 491px)"></i><i style="background:linear-gradient(90deg,#c23b50 1px,#c43c4f 43px,#db4f3b 90px,#e15734 161px,#ca404a 188px,#a22b62 207px,#60136e 227px,#3e0966 233px,#2a0b56 235px,#0a0722 238px,#000004 240px,#000004 254px,#03020f 255px,#280b53 258px,#440a69 260px,#781c6d 266px,#c13a50 282px,#e65e2e 296px,#fa9207 319px,#fca90e 333px,#fcb418 349px,#fc9f07 369px,#f8860e 383px,#e65c30 413px,#c43c4f 483px,#c13a51 491px)"></i><i style="background:linear-gradient(90deg,#c93f4b 1px,#c9404b 41px,#ea6429 104px,#ee6b23 156px,#db503b 185px,#b33359 205px,#6e186e 225px,#4b0c6b 232px,#300a5b 235px,#180c3c 237px,#010006 240px,#000004 254px,#0d0829 256px,#290b55 258px,#450a69 260px,#721a6e 265px,#b83556 280px,#e45a31 296px,#f98d0a 319px,#fca40a 332px,#fcb115 348px,#fca108 365px,#f8880d 379px,#ea6429 406px,#ca404a 479px,#c73e4c 491px)"></i><i style="background:linear-gradient(90deg,#cb4149 1px,#d24644 41px,#ec6727 83px,#f78510 116px,#f78510 151px,#ee6b24 178px,#d44842 198px,#9e2a63 216px,#59116e 232px,#380a61 236px,#200c49 238px,#050415 241px,#010005 243px,#010107 252px,#08061d 254px,#2a0b55 257px,#440a68 259px,#741a6e 265px,#bb3755 282px,#e15635 297px,#f78410 322px,#fb9a07 342px,#fa9408 358px,#e75e2e 395px,#ce4447 460px,#c73e4c 491px)"></i><i style="background:linear-gradient(90deg,#ca404a 1px,#dd5139 46px,#f3761b 84px,#fb9707 105px,#fca70d 125px,#fb9807 155px,#f57d15 177px,#df5337 198px,#b0315b 215px,#69176e 232px,#3f0a66 238px,#10082d 244px,#09061e 247px,#0d0726 250px,#2e0b59 255px,#490c6a 258px,#7a1d6d 266px,#c03a51 285px,#e35833 302px,#f57c16 333px,#f57e15 353px,#da4e3d 398px,#c63e4d 464px,#c53d4e 491px)"></i><i style="background:linear-gradient(90deg,#ca404a 1px,#de5338 41px,#f67e14 83px,#fb9d07 99px,#fbba1f 118px,#fbb91e 137px,#fb9906 165px,#f57c16 183px,#de5238 202px,#af315c 218px,#69176e 235px,#3a0a62 244px,#320a5c 249px,#540f6d 257px,#972766 274px,#cc4248 292px,#e45a31 312px,#ed6826 351px,#d54a41 397px,#c03a51 454px,#c23b50 491px)"></i><i style="background:linear-gradient(90deg,#c83f4c 1px,#db503b 39px,#f78410 85px,#fb9e07 98px,#fbbe23 116px,#fac228 130px,#fc9f07 160px,#f8850f 177px,#e35833 200px,#b63457 217px,#771c6d 235px,#56106d 246px,#5a116e 253px,#972766 274px,#ca404a 293px,#db503b 313px,#e45932 370px,#bd3853 452px,#bf3952 491px)"></i><i style="background:linear-gradient(90deg,#c33b4f 1px,#d44842 37px,#f47a17 83px,#fb9b07 101px,#fbb51a 119px,#fcb015 135px,#fb9607 154px,#eb6528 191px,#cb4149 210px,#8c2369 232px,#70196e 245px,#731a6e 255px,#ad305d 279px,#cc4149 296px,#d24743 324px,#df5437 379px,#c83f4c 433px,#bb3755 466px,#bc3754 491px)"></i><i style="background:linear-gradient(90deg,#bf3952 1px,#cc4248 35px,#f1731d 88px,#fb9707 111px,#fb9c08 127px,#f68212 149px,#e05536 197px,#b73557 219px,#88226a 241px,#88226a 256px,#c63d4d 292px,#c83f4b 318px,#ce4347 347px,#d94d3d 385px,#cc4149 431px,#b93556 468px,#b93556 491px)"></i><i style="background:linear-gradient(90deg,#bf3952 1px,#d34743 48px,#e9622b 91px,#f68112 119px,#f37819 138px,#e8602d 165px,#da4e3d 200px,#ad305d 227px,#942667 245px,#9c2964 261px,#c13a51 290px,#be3952 314px,#bd3853 340px,#ce4447 383px,#ce4347 429px,#b93656 469px,#ba3655 491px)"></i><i style="background:linear-gradient(90deg,#c43c4e 1px,#da4e3c 89px,#ef6c23 123px,#e35833 174px,#d44842 204px,#a12b62 242px,#a42c61 261px,#bb3755 291px,#b0315b 337px,#cf4446 425px,#be3853 471px,#c13a51 491px)"></i><i style="background:linear-gradient(90deg,#cb4149 1px,#ca404a 57px,#cb4149 89px,#e75f2d 125px,#dd5139 188px,#a92e5e 241px,#aa2f5e 266px,#b2325a 300px,#a62d60 339px,#bc3754 391px,#cf4446 428px,#c63e4d 476px,#c9404b 491px)"></i><i style="background:linear-gradient(90deg,#cf4446 1px,#c63d4d 51px,#bf3952 84px,#e25734 127px,#de5338 182px,#b63457 232px,#ae305c 278px,#972766 352px,#b0315b 386px,#d14644 423px,#ce4447 491px)"></i><i style="background:linear-gradient(90deg,#ce4347 1px,#b83556 82px,#de5238 128px,#d94d3d 187px,#c23b50 227px,#bc3854 264px,#83206b 349px,#8f2468 369px,#cd4248 412px,#d94d3d 439px,#cd4248 491px)"></i><i style="background:linear-gradient(90deg,#c83f4b 1px,#b53458 69px,#bd3853 96px,#d74b3f 129px,#d54941 195px,#d04545 221px,#dd5239 251px,#c83f4c 273px,#9b2865 309px,#711a6e 346px,#781c6d 363px,#aa2f5e 389px,#d04545 412px,#dd5139 439px,#c83f4b 491px)"></i><i style="background:linear-gradient(90deg,#c33b4f 1px,#b2325a 47px,#bb3755 100px,#cc4249 136px,#d74b3f 200px,#df5437 218px,#f68212 244px,#f47c16 255px,#db503b 273px,#b53458 292px,#731a6e 335px,#67166e 352px,#781c6d 368px,#b33359 394px,#d44842 415px,#de5238 447px,#c43c4f 491px)"></i><i style="background:linear-gradient(90deg,#c13a50 1px,#ad305c 36px,#b43359 91px,#c43c4f 152px,#da4e3c 191px,#e45a31 210px,#f47c16 222px,#fa980d 228px,#faba22 235px,#f6d244 243px,#f6d64a 247px,#f7cb39 253px,#fba310 262px,#f7860f 267px,#df5437 278px,#bc3754 292px,#7b1d6d 330px,#67166e 349px,#751b6e 366px,#b2325a 393px,#d44842 416px,#dd513a 450px,#c23b50 491px)"></i><i style="background:linear-gradient(90deg,#c43c4e 1px,#ac2f5d 29px,#b83556 79px,#ad305c 127px,#c73e4c 159px,#dd5139 190px,#e9612b 206px,#f78311 215px,#fb9a0a 219px,#fab920 223px,#f5e15e 228px,#f8ee7a 230px,#fbfea3 236px,#fbfea3 256px,#f8ed78 262px,#f9c22a 267px,#fba60f 270px,#f88b0d 273px,#e35933 281px,#c53d4e 291px,#922568 321px,#741b6e 345px,#7c1e6d 363px,#b73557 394px,#d24743 417px,#dd513a 461px,#c63d4d 491px)"></i><i style="background:linear-gradient(90deg,#ca404a 1px,#ad305d 26px,#b2325a 47px,#bc3754 74px,#a92e5e 122px,#bc3754 146px,#da4e3d 175px,#e55b31 199px,#f3761b 208px,#fa9608 213px,#fbaf14 216px,#f7cf3c 219px,#f6ef7a 222px,#fbfda1 225px,#fcffa4 266px,#f8f17f 269px,#f9c32b 273px,#fba911 275px,#fa930a 277px,#e55c30 284px,#c83f4b 293px,#a62d60 315px,#88226a 345px,#932567 365px,#c83f4b 405px,#e15635 466px,#cf4446 488px,#cb4149 491px)"></i><i style="background:linear-gradient(90deg,#ce4447 1px,#b0315b 23px,#b63458 46px,#be3853 72px,#ae305c 117px,#bc3754 140px,#d94d3d 169px,#e35833 197px,#f1721e 205px,#fb9607 210px,#fca90f 212px,#f8ce3a 215px,#f7f589 218px,#fcffa4 220px,#fcffa4 272px,#f7f283 274px,#f9c832 277px,#fbab12 279px,#fa9309 281px,#eb6528 286px,#d24644 293px,#b63457 308px,#9d2964 346px,#ad305c 373px,#c83f4b 407px,#d84c3e 444px,#e55b31 467px,#d64a40 487px,#d04545 491px)"></i><i style="background:linear-gradient(90deg,#d04545 1px,#b63458 23px,#bf3952 73px,#b33359 113px,#c73e4c 143px,#d94c3e 169px,#dc503a 193px,#ea6429 201px,#f78212 206px,#fa9507 208px,#fcad12 210px,#f9ca34 212px,#f5d94a 213px,#f7f78d 215px,#fafd9f 216px,#fcffa4 219px,#fcffa4 276px,#f7fa95 277px,#f5f07b 278px,#f8ce3a 280px,#fbaf14 282px,#fba10a 283px,#f8870e 285px,#e65e2e 290px,#ce4447 297px,#ba3655 312px,#ae305c 350px,#c73e4c 408px,#ce4447 438px,#e55b31 466px,#db4f3b 484px,#d24644 491px)"></i></div>
<div class="hm" style="left:1614.6px;top:105.5px;width:491.6px;height:735.7px"><i style="background:linear-gradient(90deg,#db503b 0px,#e8602d 281px,#e15635 466px,#e35833 491px)"></i><i style="background:linear-gradient(90deg,#c83f4b 0px,#d04545 61px,#d74c3f 314px,#d54a40 491px)"></i><i style="background:linear-gradient(90deg,#a42c61 0px,#a92e5e 7px,#b33359 19px,#bc3754 228px,#bd3853 491px)"></i><i style="background:linear-gradient(90deg,#86216b 0px,#87216a 5px,#9e2a63 13px,#ac2f5d 131px,#ab2f5e 491px)"></i><i style="background:linear-gradient(90deg,#6c186e 0px,#66166e 3px,#8f2468 12px,#9f2a63 72px,#9e2a63 240px,#a22b61 481px,#a12b62 491px)"></i><i style="background:linear-gradient(90deg,#510e6c 0px,#470b69 3px,#5a116e 6px,#801f6c 11px,#8b236a 17px,#992865 113px,#922568 272px,#9b2964 452px,#972766 491px)"></i><i style="background:linear-gradient(90deg,#310a5c 0px,#250b4e 2px,#2a0b54 4px,#4e0d6c 7px,#741b6e 11px,#811f6c 16px,#8f2469 101px,#82206c 235px,#801f6c 261px,#912568 396px,#8e2469 491px)"></i><i style="background:linear-gradient(90deg,#170b39 0px,#0d0829 1px,#0a0621 3px,#0e082a 4px,#250b4f 6px,#380a61 7px,#56106d 9px,#741b6e 13px,#7f1e6c 35px,#84206b 126px,#741a6e 230px,#6a176e 255px,#7a1d6d 293px,#89226a 452px,#85216b 491px)"></i><i style="background:linear-gradient(90deg,#06051a 0px,#010109 1px,#010005 3px,#02010a 4px,#130a33 6px,#250c50 7px,#390963 8px,#58106e 10px,#6d186e 13px,#761b6e 24px,#7b1d6d 116px,#67166e 226px,#550f6d 251px,#6d186e 291px,#801f6c 449px,#7c1e6d 491px)"></i><i style="background:linear-gradient(90deg,#02010a 0px,#000004 2px,#000004 4px,#02010a 5px,#1b0c42 7px,#310a5c 8px,#510e6d 10px,#69176e 13px,#711a6e 23px,#741a6e 110px,#5d126e 223px,#400a67 251px,#60136e 284px,#781c6d 443px,#751b6e 491px)"></i><i style="background:linear-gradient(90deg,#02010a 0px,#000004 2px,#000004 4px,#02010a 5px,#1b0c42 7px,#300a5b 8px,#430a68 9px,#64156e 12px,#70196e 18px,#6f196e 105px,#550f6d 223px,#310a5d 249px,#3e0965 262px,#57106d 282px,#731a6e 433px,#70196e 491px)"></i><i style="background:linear-gradient(90deg,#060419 0px,#010109 1px,#010109 4px,#120a32 6px,#240c4f 7px,#380962 8px,#550f6d 10px,#6b176e 13px,#731a6e 23px,#6b176e 120px,#520e6d 223px,#310a5c 244px,#2d0b59 255px,#4f0d6c 275px,#5a116e 302px,#721a6e 444px,#6f196e 491px)"></i><i style="background:linear-gradient(90deg,#150b37 0px,#09061f 2px,#09061f 3px,#160b38 5px,#350a60 7px,#540f6d 9px,#6d186e 12px,#761b6e 19px,#6d186e 122px,#550f6d 223px,#310a5d 249px,#3e0965 262px,#57106d 282px,#731a6e 433px,#70196e 491px)"></i><i style="background:linear-gradient(90deg,#300a5a 0px,#220c4b 2px,#270b51 4px,#4a0c6b 7px,#70196e 11px,#7c1d6d 16px,#741b6e 116px,#5c126e 224px,#400a67 250px,#520e6d 268px,#63146e 292px,#781c6d 446px,#741b6e 491px)"></i><i style="background:linear-gradient(90deg,#4d0d6b 0px,#430b68 2px,#4d0d6b 5px,#751b6e 10px,#82206c 15px,#7e1e6c 114px,#66166e 227px,#550f6d 251px,#6d186e 291px,#801f6c 443px,#7c1d6d 491px)"></i><i style="background:linear-gradient(90deg,#66166e 0px,#5f136e 3px,#87216b 12px,#8b236a 73px,#741a6e 230px,#6a176e 255px,#7a1d6d 293px,#89226a 445px,#84206b 491px)"></i><i style="background:linear-gradient(90deg,#7a1d6d 0px,#771c6d 4px,#902568 13px,#902568 131px,#801f6c 241px,#83206b 270px,#932567 441px,#8e2469 491px)"></i><i style="background:linear-gradient(90deg,#88226a 0px,#8e2469 7px,#982766 20px,#982765 163px,#922568 269px,#9b2964 440px,#972766 491px)"></i><i style="background:linear-gradient(90deg,#932567 0px,#9f2a63 32px,#a22b62 168px,#a02a62 304px,#a02a62 481px,#9f2a63 491px)"></i><i style="background:linear-gradient(90deg,#9a2865 0px,#a92e5f 81px,#a72d5f 470px,#a52c60 491px)"></i><i style="background:linear-gradient(90deg,#9f2a63 0px,#af315c 117px,#ad305d 458px,#a92e5f 491px)"></i><i style="background:linear-gradient(90deg,#a42c61 0px,#b33359 143px,#af315c 465px,#ac2f5d 491px)"></i><i style="background:linear-gradient(90deg,#a72d5f 0px,#b63458 162px,#b0315b 461px,#ad305c 491px)"></i><i style="background:linear-gradient(90deg,#a92e5e 0px,#b63458 169px,#b0315b 466px,#ae305c 491px)"></i><i style="background:linear-gradient(90deg,#ab2f5e 0px,#b33359 189px,#ae305c 491px)"></i><i style="background:linear-gradient(90deg,#ad305d 0px,#ae305c 491px)"></i><i style="background:linear-gradient(90deg,#aa2f5e 0px,#aa2f5e 362px,#ad305c 491px)"></i><i style="background:linear-gradient(90deg,#a72d5f 0px,#a12b62 217px,#a82e5f 491px)"></i><i style="background:linear-gradient(90deg,#a32c61 0px,#9f2a63 188px,#a12b62 357px,#a32c61 491px)"></i><i style="background:linear-gradient(90deg,#9d2964 0px,#a22b62 142px,#9e2a63 312px,#a12b62 470px,#9f2a63 491px)"></i><i style="background:linear-gradient(90deg,#982766 0px,#a42c61 126px,#a42c61 354px,#a02a63 479px,#9f2a63 491px)"></i><i style="background:linear-gradient(90deg,#952667 0px,#a92e5e 127px,#a72d5f 460px,#a42c61 491px)"></i><i style="background:linear-gradient(90deg,#962766 0px,#ae305c 125px,#ad305c 491px)"></i><i style="background:linear-gradient(90deg,#9b2865 0px,#b33359 129px,#b83556 491px)"></i><i style="background:linear-gradient(90deg,#a42c61 0px,#b93556 145px,#c13a51 483px,#c23b50 491px)"></i><i style="background:linear-gradient(90deg,#b0315b 0px,#be3853 191px,#c43c4e 441px,#ca404a 491px)"></i><i style="background:linear-gradient(90deg,#bc3854 0px,#c83f4b 428px,#d44842 491px)"></i><i style="background:linear-gradient(90deg,#c83f4b 0px,#cc4248 415px,#db4f3b 491px)"></i><i style="background:linear-gradient(90deg,#d34743 0px,#cf4446 172px,#d44842 423px,#e05536 491px)"></i><i style="background:linear-gradient(90deg,#db4f3b 0px,#d54941 158px,#d54941 367px,#e05536 475px,#e45932 491px)"></i><i style="background:linear-gradient(90deg,#e15635 0px,#d94d3d 134px,#dd513a 299px,#dd513a 440px,#e45a31 491px)"></i><i style="background:linear-gradient(90deg,#e35933 0px,#db503b 130px,#e05536 297px,#dc503a 439px,#e15734 491px)"></i><i style="background:linear-gradient(90deg,#e15734 0px,#db4f3b 139px,#e05536 293px,#da4e3d 450px,#dc503a 491px)"></i><i style="background:linear-gradient(90deg,#dd5139 0px,#d74b3f 144px,#da4e3d 322px,#d44842 491px)"></i><i style="background:linear-gradient(90deg,#d44842 0px,#ce4447 174px,#cc4248 370px,#c83f4c 491px)"></i><i style="background:linear-gradient(90deg,#c43c4e 0px,#b83556 466px,#b63457 491px)"></i><i style="background:linear-gradient(90deg,#b2325a 0px,#a72d5f 301px,#a62d60 445px,#9f2a63 491px)"></i><i style="background:linear-gradient(90deg,#9e2a63 0px,#952667 155px,#8c2369 275px,#952667 411px,#88226a 491px)"></i><i style="background:linear-gradient(90deg,#912568 0px,#8a226a 133px,#7b1d6d 254px,#88226a 412px,#781c6d 491px)"></i><i style="background:linear-gradient(90deg,#8e2469 0px,#88226a 130px,#781c6d 257px,#86216b 410px,#771c6d 491px)"></i><i style="background:linear-gradient(90deg,#962766 0px,#8f2468 141px,#84206b 261px,#8f2469 418px,#83206b 491px)"></i><i style="background:linear-gradient(90deg,#a32c61 0px,#9b2964 167px,#972766 296px,#9c2964 433px,#952667 491px)"></i><i style="background:linear-gradient(90deg,#b1325a 0px,#a82e5f 310px,#a72d5f 463px,#a52c60 491px)"></i><i style="background:linear-gradient(90deg,#bb3755 0px,#b3325a 333px,#ae305c 491px)"></i><i style="background:linear-gradient(90deg,#c43c4f 0px,#b83556 236px,#b33359 491px)"></i><i style="background:linear-gradient(90deg,#ca404a 0px,#ba3655 196px,#b73557 491px)"></i><i style="background:linear-gradient(90deg,#d34743 0px,#bc3754 176px,#be3853 491px)"></i><i style="background:linear-gradient(90deg,#db4f3b 0px,#c43c4e 113px,#bc3754 224px,#c13a50 424px,#c73e4c 491px)"></i><i style="background:linear-gradient(90deg,#e15635 0px,#d04545 89px,#bd3853 173px,#c03a51 372px,#d04545 491px)"></i><i style="background:linear-gradient(90deg,#e55b31 0px,#d84c3e 83px,#bf3952 168px,#c13a51 357px,#da4e3d 482px,#da4e3d 491px)"></i><i style="background:linear-gradient(90deg,#e55b31 0px,#dd5139 77px,#c13a51 169px,#c43c4f 353px,#df5337 461px,#e05536 491px)"></i><i style="background:linear-gradient(90deg,#e15635 0px,#db4f3b 87px,#c43c4f 178px,#c73e4c 350px,#e15635 449px,#e25734 491px)"></i><i style="background:linear-gradient(90deg,#da4e3c 0px,#d54941 107px,#c83f4b 190px,#cc4248 354px,#df5337 446px,#de5338 491px)"></i><i style="background:linear-gradient(90deg,#d04545 0px,#d24644 217px,#d34743 379px,#d54941 491px)"></i><i style="background:linear-gradient(90deg,#c43c4e 0px,#d44842 165px,#e05536 260px,#c83f4b 424px,#c53d4e 491px)"></i><i style="background:linear-gradient(90deg,#b63457 0px,#c13a50 105px,#e15734 186px,#ee6b24 246px,#e55c30 303px,#be3952 391px,#b33359 480px,#b2325a 491px)"></i><i style="background:linear-gradient(90deg,#a92e5e 0px,#b3325a 91px,#d24743 146px,#f2731d 204px,#f7850f 246px,#f47b17 285px,#dd5139 337px,#b63457 387px,#a52c60 442px,#a22b62 491px)"></i><i style="background:linear-gradient(90deg,#9e2a63 0px,#a72d5f 85px,#c23b50 129px,#eb6528 173px,#fa9208 213px,#fca30b 248px,#fb9707 283px,#f47819 312px,#d24644 355px,#ab2f5e 397px,#9b2865 458px,#992865 491px)"></i><i style="background:linear-gradient(90deg,#972766 0px,#a12b62 85px,#bc3754 125px,#e45932 159px,#fa9208 197px,#fca90e 216px,#fbbb20 243px,#fbb71c 270px,#fb9706 301px,#ee6b23 330px,#c73e4c 368px,#a62d60 411px,#9a2865 491px)"></i><i style="background:linear-gradient(90deg,#952667 0px,#a02a63 85px,#bc3754 125px,#e35833 157px,#fa9108 191px,#fca70c 205px,#fac62d 234px,#f9c932 260px,#fcaf13 291px,#fb9706 307px,#f06e21 332px,#ce4347 368px,#af315c 411px,#a22b61 483px,#a22b61 491px)"></i><i style="background:linear-gradient(90deg,#9a2865 0px,#a22b62 83px,#bb3755 123px,#e15635 156px,#f98e09 190px,#fca50a 204px,#fac42a 231px,#f9c932 252px,#fac228 273px,#fb9a06 305px,#f47819 326px,#d44842 365px,#b73557 410px,#ac2f5d 490px,#ac2f5d 491px)"></i><i style="background:linear-gradient(90deg,#a02a62 0px,#aa2f5e 90px,#c43c4e 131px,#e75f2d 165px,#fb9607 201px,#fcb116 226px,#fbbc21 252px,#fcad12 281px,#fa9507 301px,#e35933 346px,#c63d4d 386px,#b33359 449px,#b2325a 491px)"></i><i style="background:linear-gradient(90deg,#a72d5f 0px,#b0315b 97px,#cc4248 142px,#f0701f 186px,#fa9508 219px,#fca30b 251px,#fa9308 284px,#e8602d 331px,#c83f4b 375px,#b63458 435px,#b3325a 491px)"></i><i style="background:linear-gradient(90deg,#ab2f5e 0px,#b3325a 102px,#ce4447 152px,#f1721e 207px,#f78510 246px,#f47b17 281px,#da4e3d 338px,#bc3754 391px,#b2325a 485px,#b2325a 491px)"></i><i style="background:linear-gradient(90deg,#a92e5f 0px,#b0315b 110px,#ce4447 166px,#ea6429 223px,#ec6726 267px,#d54941 329px,#b73557 390px,#b0315b 491px)"></i><i style="background:linear-gradient(90deg,#a12b62 0px,#a72d5f 121px,#da4e3c 215px,#db4f3b 281px,#b2325a 386px,#ad305c 491px)"></i><i style="background:linear-gradient(90deg,#932667 0px,#992865 127px,#c73e4c 205px,#ca414a 281px,#b2325a 351px,#a72d5f 409px,#a62d60 491px)"></i><i style="background:linear-gradient(90deg,#85216b 0px,#8a226a 133px,#b63458 199px,#b63458 308px,#9c2964 379px,#9b2964 491px)"></i><i style="background:linear-gradient(90deg,#7c1d6d 0px,#7d1e6c 138px,#a32c61 195px,#a22b61 321px,#8f2469 375px,#912568 491px)"></i><i style="background:linear-gradient(90deg,#7a1d6d 0px,#781c6d 144px,#902568 194px,#89226a 266px,#932567 322px,#88226a 377px,#8d2369 491px)"></i><i style="background:linear-gradient(90deg,#84206b 0px,#7c1d6d 123px,#7d1e6c 196px,#69166e 249px,#751b6d 288px,#86216b 333px,#932667 477px,#932667 491px)"></i><i style="background:linear-gradient(90deg,#972766 0px,#902568 104px,#70196e 187px,#480c6a 240px,#4d0d6b 271px,#85216b 345px,#9e2a63 416px,#a22b62 491px)"></i><i style="background:linear-gradient(90deg,#b0315b 0px,#a82e5f 99px,#89226a 151px,#4b0c6b 205px,#2c0b57 239px,#2e0a59 267px,#5b116e 309px,#922568 359px,#ac2f5d 410px,#b2325a 491px)"></i><i style="background:linear-gradient(90deg,#c83f4b 0px,#c13a51 93px,#a82e5f 133px,#6c186e 176px,#390963 208px,#1d0c44 236px,#1a0c3f 259px,#330a5e 289px,#5e136e 318px,#9d2964 364px,#b93556 408px,#c13a51 491px)"></i><i style="background:linear-gradient(90deg,#dc503a 0px,#d34743 95px,#bd3853 129px,#801f6c 167px,#440a69 200px,#210c4a 229px,#190c3e 252px,#230c4c 275px,#480b6a 304px,#84206b 341px,#b2325a 378px,#c63e4d 423px,#cc4149 491px)"></i><i style="background:linear-gradient(90deg,#e8612c 0px,#e15734 93px,#cd4348 127px,#a02a62 156px,#61146e 189px,#360a60 223px,#290b53 253px,#3d0a65 286px,#711a6e 325px,#b2325a 369px,#ca404a 407px,#d44842 491px)"></i><i style="background:linear-gradient(90deg,#ef6d22 0px,#eb6429 90px,#d84c3e 127px,#aa2f5e 157px,#6e186e 192px,#4d0d6b 227px,#480c6a 263px,#61146e 300px,#a02a62 348px,#c63d4d 383px,#d54a41 432px,#d94d3d 491px)"></i><i style="background:linear-gradient(90deg,#f2751b 0px,#ee6b24 96px,#db4f3b 131px,#9b2865 175px,#761b6d 208px,#67166e 249px,#751b6d 293px,#a52c60 342px,#cc4248 384px,#da4e3c 445px,#dc503a 491px)"></i><i style="background:linear-gradient(90deg,#f2751b 0px,#ef6e21 95px,#dc503a 134px,#a72d5f 177px,#8c2369 217px,#88226a 270px,#9f2a63 322px,#d14644 387px,#db503b 471px,#dc503a 491px)"></i><i style="background:linear-gradient(90deg,#f0701f 0px,#ed6925 99px,#d84c3e 140px,#b0315b 184px,#a12b62 235px,#a92e5f 307px,#d44842 398px,#d94d3d 491px)"></i><i style="background:linear-gradient(90deg,#eb6628 0px,#e8612c 104px,#cf4446 154px,#b93656 203px,#bc3754 323px,#d24644 412px,#d24743 491px)"></i><i style="background:linear-gradient(90deg,#e35932 0px,#e05536 118px,#ca414a 190px,#ca404a 491px)"></i><i style="background:linear-gradient(90deg,#d84d3e 0px,#d84c3e 160px,#df5437 272px,#c13a50 422px,#be3952 491px)"></i><i style="background:linear-gradient(90deg,#ca414a 0px,#d64a40 115px,#ea632a 191px,#f2761b 245px,#ef6d22 289px,#cf4446 360px,#b63458 426px,#b0315b 491px)"></i><i style="background:linear-gradient(90deg,#bb3755 0px,#c63d4d 89px,#e05536 143px,#f98f0a 206px,#fba40d 245px,#fb9c0b 277px,#f78410 305px,#dd513a 351px,#b93556 394px,#a62d60 448px,#a22b61 491px)"></i><i style="background:linear-gradient(90deg,#aa2f5e 0px,#b63457 78px,#d54a41 127px,#f3771a 164px,#fb9708 185px,#fbb419 204px,#f7d13e 234px,#f6d544 255px,#f9c933 278px,#fb9b08 313px,#f67e14 329px,#d34743 366px,#ad305c 403px,#9b2865 454px,#962766 491px)"></i><i style="background:linear-gradient(90deg,#9b2865 0px,#a92e5f 76px,#c83f4b 118px,#ec6727 149px,#fb9706 173px,#fcb116 185px,#f2e763 217px,#f5f689 237px,#f6f991 254px,#f3f27d 272px,#f7d23f 298px,#fca209 322px,#f8890c 333px,#da4e3d 364px,#b1325a 396px,#972766 437px,#8f2468 491px)"></i><i style="background:linear-gradient(90deg,#8d2369 0px,#982765 69px,#b63458 109px,#dd513a 137px,#f98b0b 165px,#fca108 174px,#f6d644 197px,#f3f68a 218px,#fcffa4 231px,#fbfda1 273px,#f1f077 289px,#fbb71c 318px,#fb9c06 329px,#f78410 339px,#da4e3d 366px,#b0315b 397px,#962766 440px,#8e2469 491px)"></i><i style="background:linear-gradient(90deg,#801f6c 0px,#8d2369 73px,#ab2f5e 110px,#d84c3e 139px,#f8860e 166px,#fc9f08 176px,#f8cd37 196px,#f2f37f 219px,#f7fb97 230px,#fbfda1 250px,#f9fc9b 269px,#f2f077 285px,#fac127 312px,#fb9e07 327px,#f78410 338px,#d74b3f 368px,#af315c 402px,#982766 449px,#922568 491px)"></i><i style="background:linear-gradient(90deg,#741b6e 0px,#801f6c 73px,#992865 108px,#c83f4b 138px,#f2731d 166px,#fb9708 182px,#fbb51a 196px,#f5dd50 223px,#f3e868 244px,#f3e764 263px,#f6d544 285px,#fb9e08 318px,#f78410 332px,#d74b3f 366px,#b0315b 404px,#9d2964 457px,#9a2865 491px)"></i><i style="background:linear-gradient(90deg,#69166e 0px,#731a6e 79px,#902568 116px,#c53d4e 146px,#ec6826 173px,#fa910a 197px,#fbb016 224px,#fbba20 253px,#fbab12 283px,#fa900a 307px,#e25833 348px,#bf3952 385px,#a72d5f 430px,#9f2a63 491px)"></i><i style="background:linear-gradient(90deg,#5d126e 0px,#69166e 90px,#82206c 119px,#b93656 151px,#e25834 180px,#f47c16 217px,#f78610 253px,#f37819 292px,#d84c3e 345px,#b3325a 395px,#a42c61 463px,#a22b62 491px)"></i><i style="background:linear-gradient(90deg,#56106d 0px,#5e136e 95px,#791c6d 125px,#b93656 164px,#d84c3e 195px,#e35a32 247px,#da4f3c 308px,#ad305d 396px,#a42c61 491px)"></i><i style="background:linear-gradient(90deg,#550f6d 0px,#5b116e 101px,#741b6e 130px,#b33359 178px,#c33c4f 217px,#be3952 321px,#a72d5f 410px,#a62d60 491px)"></i><i style="background:linear-gradient(90deg,#5d126e 0px,#5f136e 107px,#7c1d6d 143px,#9c2964 180px,#a02b62 232px,#ab2f5e 491px)"></i><i style="background:linear-gradient(90deg,#6d186e 0px,#6a176e 119px,#84206b 179px,#781c6d 263px,#a92e5f 398px,#b2325a 491px)"></i><i style="background:linear-gradient(90deg,#82206c 0px,#781c6d 92px,#6e186e 182px,#510e6c 243px,#58106d 280px,#972766 361px,#b1325a 413px,#bb3755 491px)"></i><i style="background:linear-gradient(90deg,#9a2865 0px,#8f2468 84px,#69176e 163px,#3c0a64 214px,#2a0b54 248px,#370a60 282px,#66166e 325px,#a62d60 381px,#be3853 431px,#c43c4e 491px)"></i><i style="background:linear-gradient(90deg,#b2325a 0px,#a72d5f 79px,#85216b 132px,#490b6a 184px,#250c50 212px,#130a33 239px,#130a33 262px,#250c50 289px,#490b6a 315px,#87216b 354px,#b53458 394px,#c9404b 442px,#ce4347 491px)"></i><i style="background:linear-gradient(90deg,#c63e4d 0px,#ba3655 82px,#9c2964 124px,#58106e 172px,#310a5c 197px,#120a32 224px,#0a0722 250px,#110a30 275px,#2f0a5b 302px,#57106e 326px,#9a2865 364px,#bf3952 396px,#d34743 444px,#d74b3f 491px)"></i><i style="background:linear-gradient(90deg,#d64a40 0px,#cb4149 84px,#b1325a 121px,#67166e 169px,#380962 198px,#190c3d 226px,#110a30 252px,#1b0c41 278px,#440a68 310px,#7d1e6c 342px,#bc3754 380px,#d64a40 419px,#df5437 491px)"></i><i style="background:linear-gradient(90deg,#e15635 0px,#d64a40 92px,#ba3655 128px,#741b6e 171px,#3e0a65 211px,#2a0b54 241px,#2e0b59 271px,#540f6d 308px,#932567 346px,#ca404a 382px,#df5437 422px,#e65c30 491px)"></i><i style="background:linear-gradient(90deg,#e75f2d 0px,#e05536 92px,#c9404b 128px,#83206b 176px,#5a116e 213px,#4d0d6b 250px,#59116d 286px,#84206b 326px,#ca404a 373px,#e15635 408px,#e8612c 491px)"></i><i style="background:linear-gradient(90deg,#eb6528 0px,#e55b31 97px,#d04545 132px,#932567 181px,#741a6e 223px,#71196e 269px,#89226a 311px,#c13a51 357px,#de5338 392px,#e75f2d 451px,#e8612c 491px)"></i><i style="background:linear-gradient(90deg,#eb6528 0px,#e65d2f 102px,#d04545 140px,#a02b62 188px,#8d2369 236px,#932667 290px,#b3325a 335px,#da4e3c 383px,#e55b31 444px,#e65c30 491px)"></i><i style="background:linear-gradient(90deg,#e9612b 0px,#e45a31 109px,#ca404a 154px,#aa2f5e 200px,#a32c61 267px,#b2325a 321px,#d94d3d 388px,#df5337 491px)"></i><i style="background:linear-gradient(90deg,#e45932 0px,#e05536 116px,#b83556 193px,#b33359 285px,#c63d4d 350px,#d54941 406px,#d74b3f 491px)"></i><i style="background:linear-gradient(90deg,#dd5139 0px,#d94c3e 126px,#bf3952 203px,#c33b4f 342px,#cc4248 427px,#cc4248 491px)"></i><i style="background:linear-gradient(90deg,#d44842 0px,#d04545 140px,#c63e4d 214px,#c23b50 491px)"></i><i style="background:linear-gradient(90deg,#cb4149 0px,#d14644 219px,#cd4248 308px,#b93656 422px,#b83556 491px)"></i><i style="background:linear-gradient(90deg,#c23b50 0px,#ca404a 139px,#df5437 254px,#d04545 323px,#b43359 399px,#af315c 491px)"></i><i style="background:linear-gradient(90deg,#b83556 0px,#c13a50 117px,#e25833 201px,#eb6628 253px,#e05536 306px,#b43359 377px,#a72d5f 450px,#a62d60 491px)"></i><i style="background:linear-gradient(90deg,#b0315b 0px,#b93556 107px,#d74b3f 163px,#f2741c 223px,#f47a17 261px,#e8602d 307px,#b83556 365px,#a32c61 408px,#9e2a63 491px)"></i><i style="background:linear-gradient(90deg,#a72d5f 0px,#b0315b 100px,#ca404a 146px,#f1721e 199px,#f98d0a 237px,#f98c0b 270px,#ec6727 311px,#bc3754 358px,#a02a62 394px,#942667 477px,#942667 491px)"></i><i style="background:linear-gradient(90deg,#9f2a63 0px,#a72d5f 98px,#c03a51 138px,#e65e2e 176px,#fa9108 219px,#fca008 251px,#fa9008 282px,#ea6429 318px,#bc3754 356px,#9c2964 388px,#8e2469 446px,#8c2369 491px)"></i><i style="background:linear-gradient(90deg,#972766 0px,#9f2a63 98px,#b93556 137px,#e45932 173px,#f98e09 212px,#fca309 241px,#fca108 267px,#f98b0b 292px,#e35833 326px,#b63458 357px,#972766 386px,#88226a 435px,#85216b 491px)"></i><i style="background:linear-gradient(90deg,#902568 0px,#972766 95px,#ad305c 133px,#da4e3d 168px,#f57d15 202px,#fb9706 228px,#fc9f07 253px,#fa8f09 283px,#e75e2e 319px,#b63458 353px,#932567 383px,#83206b 436px,#811f6c 491px)"></i><i style="background:linear-gradient(90deg,#8b236a 0px,#932567 102px,#a92e5e 137px,#da4e3c 174px,#f47918 209px,#fa8f09 243px,#f8880d 275px,#e65e2e 314px,#b1325a 352px,#8f2468 382px,#82206c 435px,#7f1e6c 491px)"></i><i style="background:linear-gradient(90deg,#88226a 0px,#8f2468 108px,#a62d60 141px,#e05536 188px,#f3771a 231px,#f37819 269px,#e15635 311px,#a62d60 356px,#8c2369 387px,#811f6c 471px,#811f6c 491px)"></i><i style="background:linear-gradient(90deg,#88226a 0px,#8f2468 114px,#a52c60 145px,#db503b 195px,#ea6429 238px,#e8602c 280px,#ce4447 321px,#9a2865 366px,#8a226a 403px,#86216b 491px)"></i><i style="background:linear-gradient(90deg,#8b236a 0px,#912568 119px,#ac2f5d 156px,#d34743 198px,#df5437 252px,#d34743 304px,#9b2865 368px,#8f2469 418px,#8d2369 491px)"></i><i style="background:linear-gradient(90deg,#902568 0px,#952667 123px,#af315c 163px,#cc4149 204px,#d24743 269px,#c13a50 319px,#9d2964 374px,#962766 491px)"></i><i style="background:linear-gradient(90deg,#972766 0px,#9c2964 133px,#c43c4f 206px,#c53d4e 292px,#a22b61 384px,#a12b62 491px)"></i><i style="background:linear-gradient(90deg,#9f2a63 0px,#a42c61 143px,#bc3754 211px,#b73557 324px,#ac2f5d 397px,#ab2f5e 491px)"></i><i style="background:linear-gradient(90deg,#a82e5f 0px,#ac2f5d 158px,#b3325a 229px,#b63458 491px)"></i><i style="background:linear-gradient(90deg,#b2325a 0px,#a82e5f 211px,#a62d60 281px,#be3853 390px,#c03a51 491px)"></i><i style="background:linear-gradient(90deg,#bb3755 0px,#b43359 137px,#8f2468 246px,#9c2964 298px,#c43c4f 371px,#ca404a 491px)"></i><i style="background:linear-gradient(90deg,#c53d4e 0px,#be3853 125px,#a22b62 175px,#7c1d6d 229px,#7c1e6d 274px,#a22b61 322px,#c73e4c 364px,#d24743 435px,#d24743 491px)"></i><i style="background:linear-gradient(90deg,#cf4446 0px,#c83f4c 120px,#ae305c 159px,#71196e 212px,#5f136e 246px,#68166e 278px,#942667 318px,#c73e4c 357px,#d74b3f 400px,#db4f3b 491px)"></i><i style="background:linear-gradient(90deg,#d84c3e 0px,#d24644 115px,#bf3952 147px,#761b6e 195px,#500d6c 229px,#490c6a 258px,#60136e 289px,#9a2865 325px,#ca404a 356px,#dc503a 391px,#e15635 491px)"></i><i style="background:linear-gradient(90deg,#e05536 0px,#da4e3c 114px,#c63e4d 147px,#8f2468 179px,#550f6d 213px,#3d0965 242px,#400a67 267px,#61146e 296px,#9f2a63 328px,#cc4149 354px,#df5337 384px,#e55c30 463px,#e65d2f 491px)"></i><i style="background:linear-gradient(90deg,#e65e2e 0px,#e15734 114px,#ce4447 147px,#a32c61 172px,#65156e 203px,#440a68 230px,#3c0964 256px,#510e6c 284px,#84206b 314px,#c73e4c 347px,#df5437 374px,#e8612c 442px,#e8612c 491px)"></i><i style="background:linear-gradient(90deg,#ea6429 0px,#e65d2f 116px,#d44842 149px,#a92e5f 174px,#6d186e 205px,#4e0d6c 234px,#4a0c6b 260px,#66166e 292px,#a22b61 324px,#d34743 352px,#e55c30 386px,#ea632a 491px)"></i><i style="background:linear-gradient(90deg,#eb6628 0px,#e8602d 118px,#d84c3e 151px,#ab2f5e 179px,#771c6d 211px,#61146e 242px,#68166e 273px,#88226a 303px,#c43c4f 337px,#df5337 364px,#e8612c 427px,#e8612c 491px)"></i><i style="background:linear-gradient(90deg,#ea6429 0px,#e75e2e 126px,#d54a41 158px,#9a2865 199px,#801f6c 233px,#801f6c 269px,#9d2964 305px,#d84c3e 351px,#e45a31 394px,#e65d2f 491px)"></i><i style="background:linear-gradient(90deg,#e65e2e 0px,#e35833 139px,#cb4149 171px,#a62d60 209px,#9b2864 253px,#a82e5f 296px,#db4f3b 357px,#e15635 457px,#e15635 491px)"></i><i style="background:linear-gradient(90deg,#e05536 0px,#dd513a 148px,#bb3755 210px,#bc3754 297px,#d94d3d 365px,#da4e3c 491px)"></i><i style="background:linear-gradient(90deg,#d84c3e 0px,#d64a40 165px,#d04545 220px,#d24644 341px,#d24644 491px)"></i><i style="background:linear-gradient(90deg,#ce4347 0px,#d54941 145px,#e25833 214px,#e9622b 259px,#ce4347 357px,#c63e4d 475px,#c63e4d 491px)"></i><i style="background:linear-gradient(90deg,#c23b50 0px,#c83f4b 125px,#e05536 181px,#f68212 238px,#f67f14 268px,#de5338 320px,#c13a50 369px,#b83556 456px,#b83556 491px)"></i><i style="background:linear-gradient(90deg,#b43359 0px,#ba3655 114px,#d54941 161px,#f3771a 199px,#fb9707 223px,#fca70e 249px,#fb9908 276px,#f67e14 296px,#d34743 335px,#b33359 372px,#a82e5f 440px,#a82e5f 491px)"></i><i style="background:linear-gradient(90deg,#a62d60 0px,#ad305d 111px,#c43c4f 149px,#e65d2f 178px,#fb9706 209px,#fbb51a 229px,#fac329 250px,#fbb71c 271px,#fb9706 291px,#ef6d22 312px,#ca404a 338px,#a72d5f 367px,#972766 420px,#952667 491px)"></i><i style="background:linear-gradient(90deg,#982765 0px,#9f2a63 110px,#b43359 144px,#db503b 172px,#f8880d 199px,#fca108 211px,#fac42a 233px,#f9cb35 251px,#fac42a 268px,#fb9c06 292px,#f68112 304px,#d64a40 328px,#a92e5f 352px,#8f2468 380px,#84206b 442px,#84206b 491px)"></i><i style="background:linear-gradient(90deg,#8c2369 0px,#932567 111px,#a82e5f 144px,#d14644 170px,#f57c16 197px,#fb9906 211px,#fbbd22 236px,#fac329 255px,#fcaa0f 280px,#fa9208 293px,#e55c30 316px,#b43359 339px,#8c2369 364px,#7a1d6d 400px,#751b6e 491px)"></i><i style="background:linear-gradient(90deg,#84206b 0px,#89226a 111px,#9c2964 144px,#ca404a 172px,#ef6c23 197px,#fa9308 219px,#fca80e 245px,#fba10a 269px,#f88a0c 287px,#e45b31 311px,#b0315b 336px,#86216b 359px,#741a6e 391px,#6d186e 491px)"></i><i style="background:linear-gradient(90deg,#801f6c 0px,#86216b 118px,#9a2865 149px,#cb4149 179px,#ec6727 205px,#f78510 237px,#f78311 268px,#e8612c 299px,#c63d4d 322px,#8f2468 348px,#771c6d 374px,#6e186e 446px,#6d186e 491px)"></i><i style="background:linear-gradient(90deg,#83206b 0px,#89226a 128px,#a12b62 158px,#d94d3d 199px,#ec6727 238px,#e9612b 276px,#d24743 307px,#942667 345px,#7e1e6c 369px,#751b6e 446px,#751b6e 491px)"></i><i style="background:linear-gradient(90deg,#8b236a 0px,#912568 135px,#aa2f5e 167px,#d14644 206px,#dc503a 256px,#cd4348 300px,#912568 353px,#84206b 395px,#83206b 491px)"></i><i style="background:linear-gradient(90deg,#972766 0px,#9b2865 140px,#c63e4d 212px,#c83f4b 280px,#b53458 320px,#9b2865 361px,#952667 491px)"></i><i style="background:linear-gradient(90deg,#a42c61 0px,#a82e5f 156px,#b93656 215px,#b63458 314px,#a92e5e 386px,#a92e5e 491px)"></i><i style="background:linear-gradient(90deg,#b1325a 0px,#a92e5e 237px,#b0315b 309px,#bd3853 402px,#be3853 491px)"></i><i style="background:linear-gradient(90deg,#bd3853 0px,#b83556 141px,#922567 245px,#9d2964 292px,#c9404b 360px,#cf4446 491px)"></i><i style="background:linear-gradient(90deg,#c83f4b 0px,#c33b4f 128px,#ad305c 168px,#7c1e6c 226px,#781c6d 264px,#902568 300px,#ce4447 351px,#dc503a 398px,#de5238 491px)"></i><i style="background:linear-gradient(90deg,#d34743 0px,#cc4149 125px,#b63458 158px,#741b6e 205px,#59116d 240px,#5c126e 269px,#7c1d6d 299px,#b63457 331px,#d84c3e 356px,#e65d2f 401px,#e8602d 491px)"></i><i style="background:linear-gradient(90deg,#db503b 0px,#d44842 120px,#be3853 153px,#791c6d 191px,#430a68 226px,#370a60 253px,#480b6a 279px,#781c6d 307px,#bb3755 335px,#dc503a 356px,#eb6429 393px,#ed6a24 491px)"></i><i style="background:linear-gradient(90deg,#e25734 0px,#dd513a 114px,#c83f4b 147px,#9e2a63 171px,#5d126e 199px,#300a5b 225px,#1f0c47 248px,#270b52 269px,#520e6d 296px,#922568 321px,#d04545 347px,#e75e2e 372px,#ef6c23 424px,#ef6e21 491px)"></i><i style="background:linear-gradient(90deg,#e75e2e 0px,#e25734 112px,#cf4446 145px,#a92e5f 167px,#67166e 193px,#380962 215px,#1b0c41 237px,#180c3c 258px,#2f0a5b 281px,#57106e 301px,#972766 325px,#cc4149 347px,#e35933 369px,#ec6726 412px,#ee6b24 491px)"></i><i style="background:linear-gradient(90deg,#e9622b 0px,#e55b31 114px,#d14644 147px,#a92e5f 169px,#68166e 195px,#370a61 220px,#200c49 242px,#220c4b 262px,#420a68 288px,#7b1d6d 314px,#c23b50 344px,#dd513a 367px,#e8602d 416px,#e9622b 491px)"></i><i style="background:linear-gradient(90deg,#e9622b 0px,#e55b31 116px,#d24743 149px,#a62d60 174px,#67166e 202px,#3f0a66 231px,#380a61 256px,#4e0d6c 284px,#89226a 317px,#c33b4f 347px,#d94d3d 375px,#e15734 457px,#e15734 491px)"></i><i style="background:linear-gradient(90deg,#e75e2e 0px,#e35833 121px,#ce4447 154px,#932667 188px,#65156e 220px,#57106d 249px,#63146e 279px,#902568 314px,#c43c4e 352px,#d44842 393px,#d84c3e 491px)"></i><i style="background:linear-gradient(90deg,#e35833 0px,#dd513a 132px,#c63e4d 163px,#8e2469 204px,#781c6d 238px,#7c1d6d 274px,#a42c61 321px,#c43c4e 361px,#ce4347 446px,#ce4347 491px)"></i><i style="background:linear-gradient(90deg,#dc503a 0px,#d54a41 141px,#b93556 178px,#972766 219px,#922567 264px,#ad305d 322px,#c13a50 373px,#c53d4e 491px)"></i><i style="background:linear-gradient(90deg,#d44842 0px,#cf4446 146px,#a92e5f 220px,#a92e5e 286px,#bd3853 391px,#be3853 491px)"></i><i style="background:linear-gradient(90deg,#cc4149 0px,#c73e4c 156px,#b63458 228px,#b73557 491px)"></i><i style="background:linear-gradient(90deg,#c43c4f 0px,#be3853 310px,#b3325a 397px,#b3325a 491px)"></i><i style="background:linear-gradient(90deg,#bb3755 0px,#c13a50 164px,#d14644 257px,#c13a50 320px,#af315c 376px,#ad305d 491px)"></i><i style="background:linear-gradient(90deg,#b2325a 0px,#b93556 139px,#e15635 233px,#de5238 281px,#bc3754 337px,#a92e5e 382px,#a62d60 491px)"></i><i style="background:linear-gradient(90deg,#a92e5f 0px,#af315c 123px,#c43c4f 162px,#ea6429 213px,#f2751b 249px,#ec6826 283px,#ce4347 324px,#aa2f5e 364px,#9f2a63 431px,#9f2a63 491px)"></i><i style="background:linear-gradient(90deg,#9f2a63 0px,#a52c60 114px,#ba3655 151px,#e05536 183px,#f8870e 218px,#fb9c09 247px,#fa9209 273px,#f1711f 299px,#cd4248 331px,#a92e5f 362px,#9a2865 406px,#972766 491px)"></i><i style="background:linear-gradient(90deg,#942667 0px,#9b2964 111px,#b2325a 146px,#da4e3c 173px,#f7850f 200px,#fb9e08 212px,#fabf25 236px,#fac52c 255px,#fcb015 278px,#fa9608 293px,#ef6c23 312px,#c63e4d 338px,#a12b62 367px,#912568 412px,#8f2469 491px)"></i><i style="background:linear-gradient(90deg,#8b236a 0px,#922568 107px,#a82e5f 141px,#d34743 167px,#f67f14 191px,#fb9c07 202px,#fac026 217px,#f4df53 238px,#f3e45c 252px,#f5da4b 268px,#fbb51a 289px,#fb9906 300px,#f1731d 314px,#ca404a 337px,#a02a62 363px,#8c2369 399px,#87216b 491px)"></i><i style="background:linear-gradient(90deg,#84206b 0px,#8b236a 106px,#a02a62 139px,#c93f4b 163px,#ee6b23 183px,#fb9706 198px,#fcb014 207px,#f4dd4f 227px,#f1ec6d 243px,#f1ed71 256px,#f4df53 272px,#fcb418 293px,#fb9906 302px,#f47918 313px,#d24644 333px,#a52c60 356px,#8c2369 381px,#801f6c 436px,#7f1e6c 491px)"></i><i style="background:linear-gradient(90deg,#801f6c 0px,#87216b 106px,#992865 137px,#c03a51 161px,#e8612c 181px,#fb9607 200px,#fcad12 209px,#f5da4b 233px,#f3e35a 247px,#f4e055 261px,#f9c831 279px,#fb9d07 298px,#f68112 308px,#d44842 330px,#a52c60 352px,#8a226a 375px,#7c1d6d 426px,#7b1d6d 491px)"></i><i style="background:linear-gradient(90deg,#801f6c 0px,#87216b 110px,#9c2964 143px,#cc4149 170px,#f1721e 193px,#fb9707 209px,#fbbd23 233px,#fac52c 254px,#fbb318 276px,#fb9707 292px,#ef6e21 309px,#c63d4d 332px,#972766 356px,#801f6c 387px,#781c6d 485px,#781c6d 491px)"></i><i style="background:linear-gradient(90deg,#85216b 0px,#8b236a 114px,#9f2a63 146px,#cc4248 175px,#f06f21 202px,#fa900a 227px,#fb9c09 252px,#f98d0b 278px,#e65d2f 308px,#b1325a 337px,#8b236a 362px,#7b1d6d 404px,#781c6d 491px)"></i><i style="background:linear-gradient(90deg,#8c2369 0px,#932667 125px,#ac2f5d 158px,#e25734 201px,#f1731d 238px,#f06f20 272px,#db503b 305px,#9c2964 345px,#84206b 371px,#7c1d6d 452px,#7c1d6d 491px)"></i><i style="background:linear-gradient(90deg,#982765 0px,#9e2a63 133px,#b53458 167px,#da4e3c 211px,#e25834 260px,#d14644 301px,#932667 351px,#85216b 384px,#82206c 491px)"></i><i style="background:linear-gradient(90deg,#a32c61 0px,#aa2f5e 146px,#ce4447 222px,#cc4249 288px,#ad305c 327px,#902568 362px,#8b236a 483px,#8b236a 491px)"></i><i style="background:linear-gradient(90deg,#b0315b 0px,#b63458 164px,#c23b50 254px,#b93556 308px,#992865 361px,#952667 491px)"></i><i style="background:linear-gradient(90deg,#bc3754 0px,#b63457 191px,#af315c 320px,#a22b62 374px,#a22b62 491px)"></i><i style="background:linear-gradient(90deg,#c73e4c 0px,#c23b50 146px,#a32c61 231px,#a72d5f 294px,#b0315b 491px)"></i><i style="background:linear-gradient(90deg,#d24644 0px,#cb4149 138px,#b3325a 175px,#8f2468 223px,#8b2369 266px,#b83556 368px,#be3853 491px)"></i><i style="background:linear-gradient(90deg,#db4f3b 0px,#d44842 129px,#bf3952 161px,#82206c 206px,#6b176e 240px,#6f196e 272px,#9b2865 319px,#be3853 358px,#ca404a 422px,#ca414a 491px)"></i><i style="background:linear-gradient(90deg,#e35833 0px,#dd513a 120px,#c83f4b 152px,#922568 183px,#58106d 218px,#450b68 245px,#4b0c6a 270px,#741b6e 304px,#b93556 346px,#cf4446 378px,#d74b3f 491px)"></i><i style="background:linear-gradient(90deg,#e8602d 0px,#e35933 114px,#cf4446 147px,#a92e5e 168px,#69166e 194px,#380a61 219px,#210b4a 240px,#200b47 259px,#380a62 283px,#69176e 308px,#ae305c 339px,#cf4446 363px,#df5337 412px,#e05536 491px)"></i><i style="background:linear-gradient(90deg,#eb6628 0px,#e8602d 106px,#d74b3f 141px,#b63457 161px,#741a6e 185px,#400a67 204px,#180b3c 224px,#0a0722 242px,#0b0724 262px,#1f0c47 282px,#420a68 298px,#7a1d6d 319px,#be3853 346px,#da4e3d 369px,#e65e2e 420px,#e75f2d 491px)"></i><i style="background:linear-gradient(90deg,#ed6a24 0px,#ea632a 106px,#d84c3e 142px,#b43359 162px,#70196e 185px,#3e0966 202px,#160b39 220px,#07051b 235px,#040312 251px,#07051b 266px,#1e0c45 286px,#3e0966 299px,#751b6e 318px,#bc3754 343px,#db4f3b 364px,#ea632a 405px,#ec6726 491px)"></i><i style="background:linear-gradient(90deg,#ed6a24 0px,#ea632a 108px,#d94d3d 142px,#b63457 162px,#711a6e 186px,#3e0a66 205px,#160b39 225px,#090620 245px,#0c0826 264px,#1f0c48 282px,#460b69 299px,#811f6c 320px,#c63d4d 345px,#e35833 369px,#ed6a24 415px,#ee6b23 491px)"></i><i style="background:linear-gradient(90deg,#eb6628 0px,#e8602d 109px,#d74b3f 145px,#b3325a 166px,#711a6e 191px,#3d0a64 216px,#210b4a 239px,#200b47 259px,#390a62 283px,#6c186e 307px,#ac2f5d 331px,#d64a40 352px,#e9612b 380px,#ef6c23 451px,#ef6c23 491px)"></i><i style="background:linear-gradient(90deg,#e8602d 0px,#e45932 116px,#d34743 149px,#a32c61 177px,#66166e 208px,#480c69 236px,#480c69 264px,#66166e 293px,#a22b62 322px,#d24743 347px,#e65c30 372px,#ec6726 431px,#ed6925 491px)"></i><i style="background:linear-gradient(90deg,#e35833 0px,#dd5139 126px,#ca404a 157px,#89226a 201px,#6d186e 233px,#6d186e 268px,#8b236a 300px,#c53d4e 335px,#df5437 361px,#e8612c 417px,#e9622b 491px)"></i><i style="background:linear-gradient(90deg,#db4f3b 0px,#d54a41 137px,#bc3754 173px,#932667 216px,#8a226a 258px,#9b2964 296px,#d84c3e 353px,#e25734 408px,#e35833 491px)"></i><i style="background:linear-gradient(90deg,#d34743 0px,#cd4248 145px,#a52c60 224px,#a72d5f 285px,#c93f4b 336px,#d84c3e 377px,#da4e3c 491px)"></i><i style="background:linear-gradient(90deg,#c9404b 0px,#c43c4e 159px,#b33359 237px,#bc3754 312px,#cf4446 372px,#d04545 491px)"></i><i style="background:linear-gradient(90deg,#bf3952 0px,#c43c4e 351px,#c43c4e 491px)"></i><i style="background:linear-gradient(90deg,#b43359 0px,#ba3655 156px,#cd4348 244px,#c03a51 332px,#b83556 446px,#b83556 491px)"></i><i style="background:linear-gradient(90deg,#a82e5f 0px,#ae305c 138px,#d74b3f 224px,#d64a40 284px,#af315c 370px,#ab2f5e 491px)"></i><i style="background:linear-gradient(90deg,#9b2964 0px,#a12b62 128px,#b63457 164px,#de5238 209px,#e75f2d 251px,#dd5139 293px,#aa2f5e 355px,#9f2a63 413px,#9d2964 491px)"></i><i style="background:linear-gradient(90deg,#8d2369 0px,#942667 124px,#a82e5f 154px,#df5337 197px,#f1721e 234px,#f1711f 269px,#dd513a 307px,#aa2f5e 347px,#972766 378px,#902568 491px)"></i><i style="background:linear-gradient(90deg,#801f6c 0px,#86216b 117px,#9b2865 149px,#cd4248 179px,#ed6a24 205px,#f8890d 236px,#f8890d 266px,#eb6628 299px,#c33b4f 329px,#972766 358px,#87216b 397px,#84206b 491px)"></i><i style="background:linear-gradient(90deg,#731a6e 0px,#791c6d 115px,#8e2469 145px,#ba3655 169px,#ea632a 195px,#fa9008 223px,#fca108 247px,#fb9706 272px,#f57b17 293px,#dc503a 316px,#a62d60 343px,#88226a 367px,#791c6d 416px,#781c6d 491px)"></i><i style="background:linear-gradient(90deg,#68166e 0px,#6f196e 113px,#83206b 143px,#b2325a 167px,#e65d2f 191px,#fa8f08 215px,#fca70c 236px,#fcab10 259px,#fa9108 285px,#e75e2e 310px,#b33359 335px,#87216b 359px,#731a6e 394px,#6e186e 491px)"></i><i style="background:linear-gradient(90deg,#61146e 0px,#68166e 113px,#7c1e6d 143px,#a92e5f 165px,#e25734 189px,#f8870e 211px,#fb9e07 226px,#fcad12 250px,#fca007 274px,#f8880d 290px,#e15734 313px,#ad305d 336px,#801f6c 359px,#6d186e 389px,#67166e 491px)"></i><i style="background:linear-gradient(90deg,#5f136e 0px,#65156e 111px,#761b6e 141px,#9b2865 161px,#d84c3e 186px,#f37819 207px,#fb9607 227px,#fca108 253px,#fa9208 277px,#ec6727 303px,#c33b4f 325px,#8b236a 349px,#70196e 372px,#64156e 435px,#63146e 491px)"></i><i style="background:linear-gradient(90deg,#61146e 0px,#68166e 119px,#7f1e6c 148px,#b43359 173px,#e45932 197px,#f78212 226px,#f98d0a 254px,#f57c16 281px,#de5338 308px,#a42c61 335px,#7a1d6d 358px,#69166e 388px,#63146e 491px)"></i><i style="background:linear-gradient(90deg,#68166e 0px,#6f196e 125px,#84206b 151px,#bc3754 179px,#e05536 202px,#f1721e 234px,#f1711f 268px,#e05536 299px,#ba3655 323px,#85216b 349px,#70196e 373px,#67166e 464px,#67166e 491px)"></i><i style="background:linear-gradient(90deg,#731a6e 0px,#781c6d 126px,#8c2369 153px,#c63d4d 188px,#e05536 217px,#e75f2d 259px,#d84c3e 297px,#b33359 323px,#811f6c 353px,#721a6e 385px,#6e186e 491px)"></i><i style="background:linear-gradient(90deg,#801f6c 0px,#85216b 133px,#9c2964 162px,#cb4149 201px,#da4e3d 240px,#d24644 290px,#b33359 320px,#85216b 355px,#791c6d 395px,#781c6d 491px)"></i><i style="background:linear-gradient(90deg,#8d2369 0px,#932667 142px,#c63d4d 208px,#cc4249 269px,#ba3655 310px,#8c2369 357px,#84206b 434px,#84206b 491px)"></i><i style="background:linear-gradient(90deg,#9b2964 0px,#a02a62 150px,#bd3853 215px,#b93656 300px,#932667 362px,#912568 491px)"></i><i style="background:linear-gradient(90deg,#a82e5f 0px,#ab2f5e 170px,#af315c 305px,#9f2a63 370px,#9f2a63 491px)"></i><i style="background:linear-gradient(90deg,#b43359 0px,#b0315b 147px,#982865 255px,#ab2f5e 384px,#ad305c 491px)"></i><i style="background:linear-gradient(90deg,#c03a51 0px,#b93656 132px,#9e2a63 183px,#7d1e6c 236px,#801f6c 274px,#b2325a 360px,#bb3755 451px,#bb3755 491px)"></i><i style="background:linear-gradient(90deg,#ca404a 0px,#c43c4e 120px,#b0315b 157px,#6e186e 211px,#59116d 243px,#60136e 274px,#902568 318px,#b93556 357px,#c83f4c 410px,#c9404b 491px)"></i><i style="background:linear-gradient(90deg,#d44842 0px,#cd4248 119px,#b53458 153px,#6e186e 194px,#3e0a65 226px,#310a5a 250px,#3d0a64 274px,#6d186e 306px,#b33359 346px,#cc4248 376px,#d64a40 465px,#d64a40 491px)"></i><i style="background:linear-gradient(90deg,#dd513a 0px,#d64a40 115px,#c03a51 147px,#912568 172px,#510e6c 199px,#2e0a59 216px,#140a35 239px,#120a32 259px,#230c4c 278px,#490c6a 298px,#85216b 323px,#bd3853 349px,#d54a40 374px,#e05536 442px,#e15635 491px)"></i><i style="background:linear-gradient(90deg,#e55b31 0px,#df5337 109px,#cd4248 141px,#a72d5f 163px,#64156e 188px,#380962 205px,#130a33 223px,#050418 241px,#06051a 262px,#140b34 278px,#3a0964 297px,#6c186e 315px,#b2325a 340px,#d44842 360px,#e65d2f 396px,#ea632a 491px)"></i><i style="background:linear-gradient(90deg,#ea6429 0px,#e65c30 108px,#d24743 143px,#ab2f5e 164px,#66166e 188px,#380962 205px,#120a32 224px,#050418 241px,#06051a 262px,#140b34 278px,#380962 296px,#66166e 312px,#aa2f5e 334px,#d54a40 354px,#ea632a 382px,#f06e21 446px,#f06f20 491px)"></i><i style="background:linear-gradient(90deg,#ee6b24 0px,#eb6429 106px,#d84c3e 144px,#b3325a 165px,#70196e 189px,#3c0a64 210px,#190b3e 231px,#110a30 250px,#180b3c 268px,#380a62 289px,#67166e 308px,#a72d5f 329px,#d54a40 348px,#ec6727 372px,#f3771a 419px,#f47918 491px)"></i><i style="background:linear-gradient(90deg,#ef6e21 0px,#ec6726 111px,#df5337 144px,#be3952 165px,#7d1e6c 191px,#480c6a 218px,#310a5c 244px,#370a60 267px,#59116e 293px,#972766 318px,#d64a40 343px,#ed6826 364px,#f47a17 401px,#f57d15 491px)"></i><i style="background:linear-gradient(90deg,#ef6e21 0px,#ec6726 119px,#df5337 149px,#bc3754 172px,#82206c 200px,#60136e 228px,#59116d 259px,#711a6e 290px,#a92e5f 318px,#df5337 344px,#f1721e 370px,#f57d15 426px,#f67e14 491px)"></i><i style="background:linear-gradient(90deg,#ee6b24 0px,#ea6429 129px,#d94c3e 159px,#9d2964 197px,#801f6c 228px,#7d1e6c 266px,#972766 299px,#cc4248 329px,#eb6429 353px,#f2751b 383px,#f47918 491px)"></i><i style="background:linear-gradient(90deg,#ea6429 0px,#e65e2e 136px,#d24743 167px,#a62d60 206px,#982865 248px,#a32c61 290px,#ca404a 323px,#e9612b 352px,#f06e21 385px,#f1721e 491px)"></i><i style="background:linear-gradient(90deg,#e55b31 0px,#e15635 144px,#bf3952 191px,#b0315b 232px,#b53458 292px,#d54a41 330px,#e9622b 363px,#eb6628 491px)"></i><i style="background:linear-gradient(90deg,#de5238 0px,#da4e3c 152px,#c13a50 211px,#c53d4e 304px,#e45932 362px,#e45a31 491px)"></i><i style="background:linear-gradient(90deg,#d54a40 0px,#d34743 167px,#ce4447 223px,#d14644 321px,#dd513a 373px,#db503b 491px)"></i><i style="background:linear-gradient(90deg,#cc4149 0px,#d44842 189px,#df5337 262px,#d54a41 341px,#d04545 491px)"></i><i style="background:linear-gradient(90deg,#c13a50 0px,#c63e4d 128px,#e05536 198px,#ed6925 248px,#e65d2f 289px,#cf4446 355px,#c63d4d 456px,#c63d4d 491px)"></i><i style="background:linear-gradient(90deg,#b63458 0px,#bc3754 123px,#d74b3f 172px,#f47b17 225px,#f7850f 255px,#ef6e21 292px,#d04545 343px,#bd3853 397px,#b93656 491px)"></i><i style="background:linear-gradient(90deg,#a92e5e 0px,#b0315b 114px,#c63e4d 154px,#eb6528 190px,#fa9208 222px,#fca30b 249px,#fb9707 275px,#f47819 298px,#d04545 339px,#b63458 378px,#ad305d 456px,#ad305d 491px)"></i><i style="background:linear-gradient(90deg,#9d2964 0px,#a42c61 111px,#bc3754 148px,#e35933 178px,#fa8f09 207px,#fca60b 221px,#fbbb20 243px,#fbb71c 265px,#fb9707 290px,#ee6b23 313px,#cc4149 341px,#ac2f5d 374px,#9f2a63 433px,#9f2a63 491px)"></i><i style="background:linear-gradient(90deg,#932567 0px,#992865 106px,#b0315b 141px,#d84c3e 169px,#f78311 196px,#fb9c06 208px,#fac42a 234px,#f9c932 253px,#fac026 271px,#fb9a06 294px,#f47a17 309px,#d14644 336px,#a82e5f 366px,#952667 408px,#922568 491px)"></i><i style="background:linear-gradient(90deg,#8c2369 0px,#922568 104px,#a72d5f 138px,#d04545 165px,#f57b17 192px,#fb9806 206px,#fac026 230px,#f9ca33 251px,#fac228 269px,#fb9a06 294px,#f67f13 307px,#d64a40 332px,#a92e5e 358px,#902568 390px,#87216b 474px,#87216b 491px)"></i><i style="background:linear-gradient(90deg,#88226a 0px,#8f2469 104px,#a52c60 138px,#d24644 167px,#f47819 194px,#fb9906 211px,#fbb71c 236px,#fbbb20 259px,#fca309 284px,#f98c0a 297px,#e35933 322px,#b63457 347px,#932667 374px,#84206b 416px,#811f6c 491px)"></i><i style="background:linear-gradient(90deg,#8a226a 0px,#912568 106px,#a82e5f 141px,#d74b3f 173px,#f47b17 203px,#fb9707 226px,#fca30b 253px,#fa8f09 283px,#e65c30 316px,#b53458 346px,#932667 372px,#83206b 420px,#801f6c 491px)"></i><i style="background:linear-gradient(90deg,#902568 0px,#972766 108px,#ae305c 145px,#df5437 186px,#f47a17 224px,#f78311 257px,#f06f21 291px,#d44842 324px,#9f2a63 361px,#8c2369 397px,#85216b 491px)"></i><i style="background:linear-gradient(90deg,#992865 0px,#a12b62 119px,#b93656 157px,#df5437 205px,#e9622b 253px,#de5238 299px,#b53458 343px,#982766 377px,#8f2469 459px,#8f2469 491px)"></i><i style="background:linear-gradient(90deg,#a22b61 0px,#a92e5f 132px,#ca414a 213px,#ca414a 290px,#ae305c 345px,#9d2964 385px,#9a2865 491px)"></i><i style="background:linear-gradient(90deg,#ab2f5e 0px,#a82e5f 229px,#a72d5f 344px,#a42c61 431px,#a42c61 491px)"></i><i style="background:linear-gradient(90deg,#b1325a 0px,#a92e5e 124px,#83206b 248px,#902568 303px,#a62d60 386px,#ad305d 491px)"></i><i style="background:linear-gradient(90deg,#b53458 0px,#af315c 109px,#8e2469 187px,#751b6e 243px,#801f6c 289px,#a62d60 371px,#b2325a 464px,#b3325a 491px)"></i><i style="background:linear-gradient(90deg,#b73557 0px,#af315c 122px,#83206b 243px,#8c2369 292px,#ae305c 383px,#b63458 491px)"></i><i style="background:linear-gradient(90deg,#b63457 0px,#ad305c 160px,#9e2a63 259px,#b43359 420px,#b63458 491px)"></i><i style="background:linear-gradient(90deg,#b1325a 0px,#b63457 165px,#b93556 324px,#b1325a 469px,#b1325a 491px)"></i><i style="background:linear-gradient(90deg,#a82e5f 0px,#ae305c 125px,#d44942 218px,#d34843 289px,#ad305d 393px,#a92e5f 491px)"></i><i style="background:linear-gradient(90deg,#9a2865 0px,#a22b62 108px,#b93656 148px,#e35933 200px,#ed6a24 244px,#e9622b 286px,#cf4446 331px,#a82e5f 381px,#9d2964 466px,#9d2964 491px)"></i><i style="background:linear-gradient(90deg,#8e2469 0px,#972766 103px,#b0315b 140px,#e35933 184px,#f68013 228px,#f78410 265px,#ed6826 303px,#c93f4b 342px,#a22b62 381px,#932667 440px,#922568 491px)"></i><i style="background:linear-gradient(90deg,#8a226a 0px,#922568 102px,#ac2f5d 139px,#e05536 182px,#f47b17 223px,#f78311 258px,#f06f21 295px,#d34743 332px,#a42c61 373px,#922568 417px,#8e2469 491px)"></i><i style="background:linear-gradient(90deg,#912568 0px,#992865 111px,#b2325a 148px,#dd5239 196px,#ea6529 246px,#e45a31 291px,#c73e4c 334px,#9f2a63 381px,#942667 461px,#942667 491px)"></i><i style="background:linear-gradient(90deg,#a02b62 0px,#a62d60 127px,#ca404a 208px,#cb4149 289px,#a52c60 392px,#a22b61 491px)"></i><i style="background:linear-gradient(90deg,#b0315b 0px,#b1325a 491px)"></i><i style="background:linear-gradient(90deg,#be3952 0px,#b83556 124px,#912568 238px,#962766 287px,#b93656 390px,#be3952 491px)"></i><i style="background:linear-gradient(90deg,#c9404b 0px,#c33b4f 109px,#a92e5e 156px,#791c6d 220px,#731a6e 262px,#8c2369 310px,#bb3755 375px,#c63e4d 450px,#c83f4c 491px)"></i><i style="background:linear-gradient(90deg,#d14644 0px,#c93f4b 104px,#b2325a 142px,#71196e 197px,#540f6d 234px,#550f6d 271px,#781c6d 311px,#b93556 369px,#cb4149 420px,#ce4447 491px)"></i><i style="background:linear-gradient(90deg,#d84c3e 0px,#d04545 97px,#ba3655 133px,#721a6e 180px,#3d0a64 219px,#2c0b56 249px,#370a61 277px,#6a176e 317px,#b2325a 364px,#cb4149 400px,#d44842 485px,#d54941 491px)"></i><i style="background:linear-gradient(90deg,#de5338 0px,#d54a41 96px,#be3853 130px,#85216b 163px,#480b6a 193px,#240c4d 215px,#110a30 236px,#0f092c 258px,#1b0c41 279px,#420a67 305px,#791c6d 333px,#b93556 370px,#d04545 404px,#da4e3c 491px)"></i><i style="background:linear-gradient(90deg,#e35933 0px,#dd513a 88px,#c63e4d 125px,#972766 153px,#57106d 180px,#320a5e 196px,#0f092c 217px,#03020f 239px,#03020f 262px,#0f092c 284px,#340a5f 306px,#5f136e 325px,#a02a63 355px,#c73e4c 382px,#da4e3c 425px,#df5337 491px)"></i><i style="background:linear-gradient(90deg,#e75e2e 0px,#e15635 88px,#cb4149 124px,#a62d60 147px,#63146e 174px,#380962 191px,#110a30 211px,#02020c 231px,#000004 256px,#040312 275px,#190c3e 296px,#3a0964 311px,#6a176e 331px,#b2325a 363px,#d14644 390px,#e15635 444px,#e35933 491px)"></i><i style="background:linear-gradient(90deg,#ea6429 0px,#e45a31 88px,#cf4446 125px,#a92e5f 148px,#66166e 175px,#380962 194px,#10092f 216px,#030311 237px,#02020d 259px,#0d0829 282px,#2c0b58 302px,#510e6c 318px,#8f2468 344px,#c33b4f 371px,#db503b 402px,#e65c30 479px,#e65c30 491px)"></i><i style="background:linear-gradient(90deg,#eb6628 0px,#e65e2e 89px,#d24644 127px,#a92e5f 152px,#66166e 180px,#390a63 202px,#170b39 227px,#0e082a 252px,#180b3c 275px,#3a0a63 300px,#69176e 323px,#ad305c 354px,#d14644 379px,#e35833 420px,#e75e2e 491px)"></i><i style="background:linear-gradient(90deg,#eb6628 0px,#e65e2e 93px,#d54a41 128px,#af315c 154px,#6f196e 185px,#3d0a64 219px,#2c0b56 250px,#3b0a63 280px,#6a176e 314px,#aa2f5e 347px,#d04545 373px,#e25734 411px,#e75e2e 491px)"></i><i style="background:linear-gradient(90deg,#ea6429 0px,#e55c30 101px,#d24644 136px,#8d2369 180px,#61146e 214px,#510e6c 250px,#61136e 286px,#89226a 320px,#ce4447 367px,#e15635 406px,#e65c30 491px)"></i><i style="background:linear-gradient(90deg,#e75e2e 0px,#e25734 109px,#ce4347 144px,#932667 190px,#781c6d 228px,#781c6d 274px,#932667 312px,#d44842 369px,#e15734 424px,#e35933 491px)"></i><i style="background:linear-gradient(90deg,#e35933 0px,#de5338 118px,#c63d4d 157px,#9e2a63 205px,#932667 255px,#a22b61 305px,#d74b3f 374px,#df5337 466px,#df5337 491px)"></i><i style="background:linear-gradient(90deg,#de5338 0px,#d94d3d 129px,#b33359 205px,#b33359 298px,#d94c3e 386px,#da4e3c 491px)"></i><i style="background:linear-gradient(90deg,#d84c3e 0px,#d54941 144px,#c83f4b 210px,#cc4248 335px,#d54a41 404px,#d54941 491px)"></i><i style="background:linear-gradient(90deg,#d14644 0px,#dc503a 201px,#e35932 261px,#d54a41 359px,#cf4446 491px)"></i><i style="background:linear-gradient(90deg,#ca404a 0px,#d24743 112px,#e8602c 184px,#f57f14 241px,#f47918 277px,#dc503a 350px,#cb4149 441px,#ca404a 491px)"></i><i style="background:linear-gradient(90deg,#c33b4f 0px,#cc4248 102px,#e65c30 156px,#fa9509 207px,#fbb016 239px,#fbad13 268px,#fa900a 298px,#e45a31 348px,#cc4149 403px,#c33b4f 491px)"></i><i style="background:linear-gradient(90deg,#bb3755 0px,#c33b4f 89px,#db503b 135px,#f37819 168px,#fb9a07 188px,#fbb91e 205px,#f4de52 233px,#f3e45f 253px,#f5da4c 272px,#fcae13 302px,#fa9508 316px,#e45a31 356px,#ca404a 398px,#bd3853 469px,#bd3853 491px)"></i><i style="background:linear-gradient(90deg,#b0315b 0px,#bb3755 89px,#d74b3f 132px,#f2741c 161px,#fb9a06 179px,#fbb91e 192px,#f2e661 214px,#f7f993 231px,#fafd9f 249px,#f7fa95 269px,#f2ed71 282px,#fbbc21 308px,#fb9e07 321px,#f78410 333px,#e05536 363px,#c43c4e 401px,#b63457 466px,#b53458 491px)"></i><i style="background:linear-gradient(90deg,#a52c60 0px,#ae305c 85px,#cb4149 127px,#eb6429 154px,#fb9906 177px,#fbb61a 188px,#f3e45b 207px,#f8fb9a 223px,#fcffa4 230px,#fafda1 275px,#f1ef75 288px,#f8cd37 304px,#fca007 322px,#f8880d 332px,#df5437 360px,#c13a50 393px,#af315c 446px,#ad305d 491px)"></i><i style="background:linear-gradient(90deg,#972766 0px,#9f2a63 84px,#bb3755 124px,#e05536 152px,#fa9307 179px,#fca90e 187px,#f6d848 207px,#f4f587 226px,#f9fc9b 237px,#f9fc9b 265px,#f3f381 277px,#f8ce39 299px,#fca309 317px,#f98a0c 327px,#dc503a 356px,#ba3655 388px,#a62d60 433px,#a22b62 491px)"></i><i style="background:linear-gradient(90deg,#88226a 0px,#902568 88px,#a82e5f 123px,#d44842 153px,#f67f14 180px,#fb9b08 192px,#fac026 210px,#f4e056 235px,#f3e560 252px,#f5dc4f 271px,#fbb71c 296px,#fb9b08 310px,#f57c16 324px,#d34743 353px,#ad305c 385px,#9a2865 429px,#952667 491px)"></i><i style="background:linear-gradient(90deg,#781c6d 0px,#801f6c 92px,#962766 126px,#c83f4c 157px,#ee6b23 184px,#fa910a 206px,#fbaf15 233px,#fbb319 261px,#fb9809 291px,#f47a17 310px,#d44842 341px,#a52c60 374px,#8f2468 410px,#88226a 491px)"></i><i style="background:linear-gradient(90deg,#6b176e 0px,#731a6e 100px,#88226a 130px,#bb3755 161px,#e45b31 190px,#f57f14 228px,#f68212 265px,#ec6826 301px,#cc4249 333px,#972766 369px,#82206c 403px,#7b1d6d 491px)"></i><i style="background:linear-gradient(90deg,#62146e 0px,#69176e 108px,#82206c 138px,#c13a50 176px,#df5437 206px,#e8602c 253px,#dc513a 299px,#bd3853 331px,#87216b 371px,#761b6e 404px,#721a6e 491px)"></i><i style="background:linear-gradient(90deg,#5f136e 0px,#65156e 112px,#7c1d6d 140px,#c13a51 187px,#d44842 224px,#d24644 287px,#b93556 324px,#7f1e6c 368px,#70196e 403px,#6d186e 491px)"></i><i style="background:linear-gradient(90deg,#62146e 0px,#69166e 118px,#82206c 147px,#b53458 186px,#c53d4e 223px,#c13a50 296px,#a62d60 331px,#771c6d 374px,#6e186e 426px,#6e186e 491px)"></i><i style="background:linear-gradient(90deg,#6c186e 0px,#71196e 121px,#89226a 151px,#b0315b 189px,#b93556 240px,#b3325a 307px,#932667 345px,#781c6d 380px,#741b6e 491px)"></i><i style="background:linear-gradient(90deg,#7a1d6d 0px,#7d1e6c 128px,#a92e5f 193px,#a82e5f 313px,#811f6c 379px,#801f6c 491px)"></i><i style="background:linear-gradient(90deg,#8b236a 0px,#8c2369 141px,#9f2a63 195px,#9a2865 257px,#9b2964 330px,#8c2369 387px,#8f2468 491px)"></i><i style="background:linear-gradient(90deg,#9c2964 0px,#8f2468 197px,#7d1e6c 239px,#82206c 266px,#88226a 294px,#962766 333px,#a12b62 491px)"></i><i style="background:linear-gradient(90deg,#ac2f5d 0px,#a62d60 108px,#88226a 180px,#68166e 216px,#58106d 234px,#6e186e 259px,#5e136e 281px,#741a6e 300px,#932567 335px,#ac2f5d 396px,#b33359 491px)"></i><i style="background:linear-gradient(90deg,#bb3755 0px,#b33359 106px,#992865 153px,#5a116e 207px,#360a5f 222px,#290b52 232px,#380a61 243px,#5c126e 256px,#550f6d 263px,#330a5c 278px,#380a61 288px,#63146e 304px,#8f2469 334px,#b3325a 375px,#c13a51 433px,#c23b50 491px)"></i><i style="background:linear-gradient(90deg,#c83f4b 0px,#c13a51 103px,#a92e5f 143px,#61146e 193px,#3e0a65 210px,#230c4c 217px,#090620 226px,#070519 233px,#0f092c 240px,#2f0a5a 248px,#4d0c6b 254px,#520e6d 259px,#370a61 266px,#150a36 275px,#0e0829 281px,#110930 287px,#300a5b 296px,#510e6c 304px,#781c6d 321px,#b33359 361px,#ca404a 401px,#d04545 491px)"></i><i style="background:linear-gradient(90deg,#d34743 0px,#cc4248 104px,#b43359 142px,#761b6e 180px,#440a68 205px,#2a0b56 212px,#050418 222px,#000004 228px,#010109 237px,#0f092c 244px,#370961 251px,#4c0c6b 256px,#470b6a 261px,#2c0b58 266px,#0d0827 273px,#03020f 280px,#040313 286px,#150b37 293px,#380962 300px,#5b116e 309px,#a22b62 342px,#c63d4d 369px,#d74b3f 413px,#da4e3c 491px)"></i><i style="background:linear-gradient(90deg,#dc503a 0px,#d54a40 108px,#c03a51 142px,#902568 171px,#510e6c 202px,#310a5d 212px,#09061f 224px,#03020f 230px,#050417 237px,#190c3d 245px,#380962 251px,#4b0c6b 257px,#3e0966 263px,#1d0c44 270px,#0c0826 277px,#0a0621 283px,#150b37 290px,#3c0964 299px,#67166e 311px,#ae305c 343px,#d04545 369px,#df5437 419px,#e15734 491px)"></i><i style="background:linear-gradient(90deg,#e35833 0px,#de5238 110px,#ca414a 144px,#a12b62 170px,#61136e 202px,#3b0a63 217px,#1f0b46 228px,#1f0b46 236px,#360a60 247px,#500d6c 257px,#430a68 265px,#2a0b53 277px,#2e0b58 286px,#58106d 300px,#9b2865 327px,#cc4248 355px,#e05536 387px,#e65d2f 477px,#e65d2f 491px)"></i><i style="background:linear-gradient(90deg,#e8602d 0px,#e45932 116px,#d04545 150px,#9d2964 181px,#5d126e 217px,#4b0c6a 232px,#56106d 249px,#5f136e 260px,#540f6c 280px,#6b176e 296px,#ad305d 328px,#d64a40 355px,#e65c30 393px,#e9612b 491px)"></i><i style="background:linear-gradient(90deg,#eb6528 0px,#e75e2e 123px,#d54941 155px,#962766 196px,#721a6e 230px,#7b1d6d 285px,#b3325a 324px,#da4e3d 353px,#e75e2e 394px,#e9612b 491px)"></i><i style="background:linear-gradient(90deg,#eb6628 0px,#e8612c 129px,#d54941 161px,#a32c61 200px,#8f2468 233px,#952666 284px,#b83556 320px,#de5238 356px,#e65e2e 407px,#e75e2e 491px)"></i><i style="background:linear-gradient(90deg,#eb6528 0px,#e75e2e 137px,#ce4347 172px,#ac2f5d 209px,#a32c61 258px,#b2325a 303px,#dd5139 357px,#e35933 429px,#e45932 491px)"></i><i style="background:linear-gradient(90deg,#e8602d 0px,#e55b31 141px,#c63d4d 185px,#b63458 221px,#b93556 296px,#db503b 364px,#de5338 491px)"></i><i style="background:linear-gradient(90deg,#e35933 0px,#e05536 146px,#c23b50 205px,#c43c4e 311px,#d74b3f 374px,#d74b3f 491px)"></i><i style="background:linear-gradient(90deg,#dd513a 0px,#d94d3d 156px,#ca404a 211px,#ce4347 339px,#ce4447 491px)"></i><i style="background:linear-gradient(90deg,#d44842 0px,#d44842 176px,#d54a40 282px,#c63e4d 429px,#c63e4d 491px)"></i><i style="background:linear-gradient(90deg,#cb4149 0px,#d44842 159px,#e55c30 256px,#d04545 326px,#bf3952 399px,#bc3754 491px)"></i><i style="background:linear-gradient(90deg,#c13a50 0px,#c83f4b 126px,#e15635 192px,#f0701f 245px,#ea6429 286px,#c23b50 355px,#b53458 418px,#b33359 491px)"></i><i style="background:linear-gradient(90deg,#b83556 0px,#bf3952 118px,#d94c3e 170px,#f57c16 224px,#f7850f 256px,#ef6e21 293px,#c63d4d 346px,#b0315b 387px,#aa2f5e 491px)"></i><i style="background:linear-gradient(90deg,#ad305c 0px,#b33359 112px,#cd4248 157px,#f47819 206px,#fa9407 236px,#fb9607 264px,#f57c16 292px,#d74b3f 329px,#b1325a 366px,#a22b61 419px,#a12b62 491px)"></i><i style="background:linear-gradient(90deg,#a22b61 0px,#aa2f5e 113px,#c43c4e 152px,#eb6429 188px,#fa9307 221px,#fca40a 250px,#fb9506 278px,#ee6a24 308px,#c53d4e 342px,#a52c60 375px,#982766 441px,#972766 491px)"></i><i style="background:linear-gradient(90deg,#992865 0px,#9f2a63 108px,#b53458 145px,#df5337 178px,#f8870e 212px,#fb9e07 235px,#fca208 260px,#f98b0b 286px,#e35933 318px,#b83556 348px,#9d2964 377px,#922568 433px,#902568 491px)"></i><i style="background:linear-gradient(90deg,#902568 0px,#982766 113px,#ad305c 146px,#d84c3e 177px,#f57c16 210px,#fb9607 238px,#fa9407 267px,#f2751b 296px,#d44842 326px,#a52c60 358px,#902568 396px,#8b236a 491px)"></i><i style="background:linear-gradient(90deg,#8a226a 0px,#8f2468 110px,#a22b61 144px,#d34743 179px,#ef6c23 208px,#f78410 240px,#f68013 270px,#e75e2e 304px,#be3853 336px,#992865 366px,#8b236a 410px,#88226a 491px)"></i><i style="background:linear-gradient(90deg,#84206b 0px,#8c2369 118px,#9f2a63 148px,#d54a40 188px,#ec6726 222px,#f06f20 260px,#e25833 299px,#b63458 337px,#952667 367px,#89226a 423px,#88226a 491px)"></i><i style="background:linear-gradient(90deg,#84206b 0px,#8a226a 124px,#9f2a63 153px,#d54a40 199px,#e55c30 243px,#df5337 286px,#c43c4e 321px,#972766 363px,#8c2369 415px,#8b236a 491px)"></i><i style="background:linear-gradient(90deg,#84206b 0px,#8c2369 131px,#a72d5f 164px,#cd4248 202px,#d84d3e 250px,#ce4347 299px,#992865 364px,#902568 441px,#902568 491px)"></i><i style="background:linear-gradient(90deg,#8a226a 0px,#8f2469 133px,#af315c 174px,#c83f4b 213px,#c9404b 286px,#b1325a 332px,#9b2964 372px,#972766 491px)"></i><i style="background:linear-gradient(90deg,#902568 0px,#952667 139px,#be3853 207px,#be3853 298px,#a22b61 376px,#a12b62 491px)"></i><i style="background:linear-gradient(90deg,#992865 0px,#9c2964 143px,#b63457 209px,#b33359 323px,#aa2f5e 408px,#ab2f5e 491px)"></i><i style="background:linear-gradient(90deg,#a22b61 0px,#a52c60 156px,#ae305c 216px,#b53458 491px)"></i><i style="background:linear-gradient(90deg,#ac2f5d 0px,#a42c61 212px,#a22b62 280px,#be3853 387px,#c03a51 491px)"></i><i style="background:linear-gradient(90deg,#b53458 0px,#ad305c 139px,#8f2468 250px,#9c2964 299px,#c33b4f 371px,#ca404a 491px)"></i><i style="background:linear-gradient(90deg,#be3853 0px,#b63458 125px,#922568 196px,#7e1e6c 246px,#8a226a 291px,#c83f4c 369px,#d24743 455px,#d24743 491px)"></i><i style="background:linear-gradient(90deg,#c63e4d 0px,#be3853 114px,#a62d60 159px,#731a6e 224px,#6e186e 264px,#88226a 306px,#c83f4b 366px,#d74b3f 418px,#da4e3d 491px)"></i><i style="background:linear-gradient(90deg,#cd4248 0px,#c63d4d 108px,#ad305d 149px,#70196e 210px,#5f136e 249px,#6d186e 287px,#9b2964 329px,#ca404a 367px,#db4f3b 411px,#df5337 491px)"></i><i style="background:linear-gradient(90deg,#d44842 0px,#cc4248 103px,#b33359 143px,#731a6e 198px,#59116e 238px,#5d126e 274px,#7d1e6d 311px,#bc3754 356px,#d74b3f 389px,#e15635 476px,#e15635 491px)"></i><i style="background:linear-gradient(90deg,#da4e3c 0px,#d14644 103px,#b93656 139px,#781c6d 192px,#5b116e 232px,#5c126e 271px,#7c1d6d 311px,#b93656 356px,#d64a40 389px,#e15635 474px,#e15734 491px)"></i><i style="background:linear-gradient(90deg,#de5338 0px,#d54941 104px,#bb3755 141px,#7e1e6c 191px,#62146e 232px,#64156e 273px,#82206c 314px,#c23b50 366px,#d94c3e 404px,#df5437 491px)"></i><i style="background:linear-gradient(90deg,#e15635 0px,#da4e3d 100px,#bf3952 140px,#86216b 192px,#6e186e 237px,#731a6e 280px,#972766 327px,#cb4149 382px,#d94d3d 439px,#db503b 491px)"></i><i style="background:linear-gradient(90deg,#e25734 0px,#da4e3c 103px,#be3853 145px,#8d2369 198px,#7e1e6c 245px,#88226a 295px,#be3853 367px,#d04545 412px,#d54a41 491px)"></i><i style="background:linear-gradient(90deg,#e15734 0px,#d94d3d 107px,#b63458 158px,#972766 206px,#8f2468 262px,#a12b62 321px,#c83f4b 397px,#cf4446 491px)"></i><i style="background:linear-gradient(90deg,#df5337 0px,#d94c3e 105px,#a72d5f 193px,#9e2a63 258px,#b0315b 338px,#c63d4d 415px,#c9404b 491px)"></i><i style="background:linear-gradient(90deg,#db503b 0px,#d44842 111px,#ad305c 200px,#ac2f5d 297px,#c13a50 432px,#c33b4f 491px)"></i><i style="background:linear-gradient(90deg,#d64a40 0px,#d04545 113px,#b43359 200px,#b63458 331px,#bd3853 491px)"></i><i style="background:linear-gradient(90deg,#d04545 0px,#cb4149 117px,#b83556 211px,#b73557 491px)"></i><i style="background:linear-gradient(90deg,#cb4149 0px,#c63d4d 130px,#bc3754 233px,#b43359 389px,#b3325a 491px)"></i><i style="background:linear-gradient(90deg,#c63d4d 0px,#bc3754 337px,#ad305c 435px,#ad305d 491px)"></i><i style="background:linear-gradient(90deg,#c13a51 0px,#c63d4d 305px,#a92e5f 428px,#a72d5f 491px)"></i><i style="background:linear-gradient(90deg,#bc3754 0px,#c83f4c 164px,#d04545 278px,#bc3754 354px,#a62d60 421px,#a22b62 491px)"></i><i style="background:linear-gradient(90deg,#b83556 0px,#c23b50 121px,#d84c3e 242px,#ce4447 320px,#a42c61 417px,#9f2a63 491px)"></i><i style="background:linear-gradient(90deg,#b3325a 0px,#be3853 109px,#de5338 221px,#dd513a 292px,#c33b4f 355px,#a32c61 418px,#9d2964 491px)"></i><i style="background:linear-gradient(90deg,#ad305d 0px,#b93556 100px,#e25734 212px,#e35833 286px,#c93f4b 351px,#a62d60 413px,#9d2964 491px)"></i><i style="background:linear-gradient(90deg,#a62d60 0px,#b2325a 94px,#e15635 201px,#e75e2e 264px,#d54a41 332px,#a92e5f 411px,#9f2a63 491px)"></i><i style="background:linear-gradient(90deg,#a02a62 0px,#ab2f5e 94px,#de5338 196px,#e55c30 263px,#d34743 335px,#aa2f5e 416px,#a22b62 491px)"></i><i style="background:linear-gradient(90deg,#9a2865 0px,#a22b61 89px,#d84c3e 193px,#e05536 264px,#ce4347 339px,#ab2f5e 421px,#a62d60 491px)"></i><i style="background:linear-gradient(90deg,#932667 0px,#9b2964 91px,#d04545 188px,#d84c3e 270px,#c53d4e 349px,#ab2f5e 426px,#a62d60 491px)"></i><i style="background:linear-gradient(90deg,#8e2469 0px,#972766 95px,#c63e4d 185px,#cd4348 274px,#bc3754 359px,#a82e5f 433px,#a62d60 491px)"></i><i style="background:linear-gradient(90deg,#8c2369 0px,#922568 94px,#bc3754 183px,#bf3952 301px,#a12b62 438px,#a02a62 491px)"></i><i style="background:linear-gradient(90deg,#8c2369 0px,#8f2468 100px,#af315c 181px,#ad305d 343px,#982765 422px,#972766 491px)"></i><i style="background:linear-gradient(90deg,#8e2469 0px,#8f2468 111px,#9f2a63 176px,#9c2964 288px,#9b2964 355px,#8c2369 422px,#8d2369 491px)"></i><i style="background:linear-gradient(90deg,#922568 0px,#8f2469 118px,#8f2469 188px,#84206b 259px,#8f2469 347px,#801f6c 428px,#85216b 491px)"></i><i style="background:linear-gradient(90deg,#972766 0px,#88226a 177px,#761b6e 252px,#87216b 352px,#7c1d6d 429px,#82206c 491px)"></i><i style="background:linear-gradient(90deg,#9f2a63 0px,#8a226a 171px,#751b6e 250px,#88226a 358px,#82206c 434px,#88226a 491px)"></i><i style="background:linear-gradient(90deg,#a52c60 0px,#932567 173px,#84206b 253px,#932567 368px,#932567 473px,#942667 491px)"></i><i style="background:linear-gradient(90deg,#ad305d 0px,#9f2a63 187px,#982865 272px,#a32c61 385px,#a62d60 491px)"></i><i style="background:linear-gradient(90deg,#b53458 0px,#ad305c 304px,#bb3755 491px)"></i><i style="background:linear-gradient(90deg,#be3952 0px,#be3952 344px,#cd4348 450px,#cc4248 491px)"></i><i style="background:linear-gradient(90deg,#ca404a 0px,#c83f4c 337px,#db503b 435px,#db4f3b 491px)"></i><i style="background:linear-gradient(90deg,#d44842 0px,#d14644 128px,#d14644 345px,#e55b31 432px,#e45932 491px)"></i><i style="background:linear-gradient(90deg,#db503b 0px,#d94c3e 119px,#d54941 201px,#d94c3e 356px,#e8612c 434px,#e75e2e 491px)"></i><i style="background:linear-gradient(90deg,#dc503a 0px,#da4e3c 119px,#d84c3e 197px,#d94d3d 296px,#dc503a 366px,#e75e2e 440px,#e55c30 491px)"></i><i style="background:linear-gradient(90deg,#d64a40 0px,#d64a40 97px,#da4e3c 218px,#da4e3d 369px,#e15635 454px,#df5437 491px)"></i><i style="background:linear-gradient(90deg,#ce4347 0px,#ce4347 93px,#be3853 105px,#d04545 119px,#d74b3f 287px,#d44842 373px,#d74b3f 491px)"></i><i style="background:linear-gradient(90deg,#c63d4d 0px,#c53d4e 91px,#a92e5e 99px,#9d2964 104px,#c63d4d 116px,#d14644 279px,#ce4447 415px,#cd4248 491px)"></i><i style="background:linear-gradient(90deg,#c03a51 0px,#bf3952 90px,#ab2f5e 96px,#8a226a 102px,#8f2469 106px,#b93556 114px,#c33b4f 122px,#c83f4b 305px,#c63d4d 491px)"></i><i style="background:linear-gradient(90deg,#bc3754 0px,#ba3655 91px,#a22b61 98px,#912568 103px,#992865 107px,#b93656 115px,#bf3952 133px,#c13a50 343px,#c03a51 491px)"></i></div>
<svg width="2125" height="1583" viewBox="0 0 2125 1583">
<linearGradient id="inf" x1="0" x2="1" y1="0" y2="0"><stop offset="0.0000" stop-color="#000004"/><stop offset="0.0625" stop-color="#0b0724"/><stop offset="0.1250" stop-color="#210c4a"/><stop offset="0.1875" stop-color="#3d0965"/><stop offset="0.2500" stop-color="#57106e"/><stop offset="0.3125" stop-color="#71196e"/><stop offset="0.3750" stop-color="#8a226a"/><stop offset="0.4375" stop-color="#a32c61"/><stop offset="0.5000" stop-color="#bc3754"/><stop offset="0.5625" stop-color="#d04545"/><stop offset="0.6250" stop-color="#e35933"/><stop offset="0.6875" stop-color="#f1711f"/><stop offset="0.7500" stop-color="#f98c0a"/><stop offset="0.8125" stop-color="#fcaa0f"/><stop offset="0.8750" stop-color="#f9c932"/><stop offset="0.9375" stop-color="#f2e865"/><stop offset="1.0000" stop-color="#fcffa4"/></linearGradient>
<rect x="453.70" y="71.00" width="189.60" height="21.20" fill="url(#inf)" stroke="#000" stroke-width="3"/>
<path d="M501.85 72.20V76.00M548.50 72.20V76.00M595.15 72.20V76.00" stroke="#000" stroke-width="3"/>
<rect x="1185.20" y="71.00" width="189.60" height="21.20" fill="url(#inf)" stroke="#000" stroke-width="3"/>
<path d="M1233.35 72.20V76.00M1280.00 72.20V76.00M1326.65 72.20V76.00" stroke="#000" stroke-width="3"/>
<rect x="1916.70" y="71.00" width="189.60" height="21.20" fill="url(#inf)" stroke="#000" stroke-width="3"/>
<path d="M1964.85 72.20V76.00M2011.50 72.20V76.00M2058.15 72.20V76.00" stroke="#000" stroke-width="3"/>
<clipPath id="clipd"><rect x="151.8" y="1023.7" width="490.1" height="449.3"/></clipPath>
<g clip-path="url(#clipd)">
<path d="M151.8 1472.9 L152.4 1472.9 L153.0 1472.9 L153.6 1472.9 L154.3 1472.9 L154.9 1472.9 L155.5 1472.9 L156.1 1472.9 L156.7 1472.8 L157.3 1472.8 L157.9 1472.8 L158.5 1472.8 L159.2 1472.8 L159.8 1472.8 L160.4 1472.8 L161.0 1472.8 L161.6 1472.8 L162.2 1472.8 L162.8 1472.8 L163.4 1472.8 L164.1 1472.8 L164.7 1472.8 L165.3 1472.8 L165.9 1472.8 L166.5 1472.8 L167.1 1472.8 L167.7 1472.8 L168.3 1472.8 L169.0 1472.7 L169.6 1472.7 L170.2 1472.7 L170.8 1472.7 L171.4 1472.7 L172.0 1472.7 L172.6 1472.7 L173.2 1472.7 L173.9 1472.7 L174.5 1472.7 L175.1 1472.7 L175.7 1472.7 L176.3 1472.7 L176.9 1472.7 L177.5 1472.7 L178.1 1472.8 L178.8 1472.8 L179.4 1472.8 L180.0 1472.8 L180.6 1472.8 L181.2 1472.8 L181.8 1472.8 L182.4 1472.8 L183.0 1472.8 L183.7 1472.8 L184.3 1472.9 L184.9 1472.9 L185.5 1472.9 L186.1 1472.9 L186.7 1473.0 L187.3 1473.0 L187.9 1473.0 L188.6 1473.0 L189.2 1472.9 L189.8 1472.9 L190.4 1472.9 L191.0 1472.8 L191.6 1472.8 L192.2 1472.7 L192.8 1472.7 L193.5 1472.6 L194.1 1472.6 L194.7 1472.5 L195.3 1472.5 L195.9 1472.4 L196.5 1472.3 L197.1 1472.3 L197.7 1472.2 L198.4 1472.1 L199.0 1472.0 L199.6 1471.9 L200.2 1471.9 L200.8 1471.8 L201.4 1471.7 L202.0 1471.6 L202.6 1471.5 L203.3 1471.3 L203.9 1471.2 L204.5 1471.1 L205.1 1471.0 L205.7 1470.9 L206.3 1470.7 L206.9 1470.6 L207.5 1470.4 L208.2 1470.3 L208.8 1470.1 L209.4 1470.0 L210.0 1469.8 L210.6 1469.7 L211.2 1469.5 L211.8 1469.3 L212.4 1469.1 L213.1 1468.9 L213.7 1468.7 L214.3 1468.5 L214.9 1468.3 L215.5 1468.1 L216.1 1467.9 L216.7 1467.7 L217.4 1467.5 L218.0 1467.2 L218.6 1467.0 L219.2 1466.8 L219.8 1466.5 L220.4 1466.3 L221.0 1466.0 L221.6 1465.8 L222.3 1465.5 L222.9 1465.3 L223.5 1465.0 L224.1 1464.7 L224.7 1464.5 L225.3 1464.2 L225.9 1463.9 L226.5 1463.7 L227.2 1463.4 L227.8 1463.1 L228.4 1462.8 L229.0 1462.5 L229.6 1462.3 L230.2 1462.0 L230.8 1461.7 L231.4 1461.4 L232.1 1461.2 L232.7 1460.9 L233.3 1460.6 L233.9 1460.4 L234.5 1460.1 L235.1 1459.8 L235.7 1459.6 L236.3 1459.3 L237.0 1459.1 L237.6 1458.9 L238.2 1458.7 L238.8 1458.4 L239.4 1458.2 L240.0 1458.0 L240.6 1457.9 L241.2 1457.7 L241.9 1457.5 L242.5 1457.4 L243.1 1457.3 L243.7 1457.2 L244.3 1457.1 L244.9 1457.0 L245.5 1456.9 L246.1 1456.9 L246.8 1456.9 L247.4 1456.9 L248.0 1456.9 L248.6 1456.9 L249.2 1457.0 L249.8 1457.1 L250.4 1457.2 L251.0 1457.4 L251.7 1457.6 L252.3 1457.8 L252.9 1458.0 L253.5 1458.3 L254.1 1458.6 L254.7 1458.9 L255.3 1459.3 L255.9 1459.7 L256.6 1460.2 L257.2 1460.7 L257.8 1461.2 L258.4 1461.8 L259.0 1462.4 L259.6 1463.0 L260.2 1463.7 L260.8 1464.5 L261.5 1465.2 L262.1 1466.1 L262.7 1467.0 L263.3 1467.9 L263.9 1468.8 L264.5 1469.9 L265.1 1470.9 L265.7 1472.1 L266.4 1472.8 L267.0 1471.5 L267.6 1470.3 L268.2 1468.9 L268.8 1467.5 L269.4 1466.1 L270.0 1464.6 L270.6 1463.1 L271.3 1461.5 L271.9 1459.8 L272.5 1458.1 L273.1 1456.3 L273.7 1454.5 L274.3 1452.7 L274.9 1450.7 L275.6 1448.8 L276.2 1446.7 L276.8 1444.6 L277.4 1442.5 L278.0 1440.3 L278.6 1438.1 L279.2 1435.8 L279.8 1433.4 L280.5 1431.1 L281.1 1428.6 L281.7 1426.1 L282.3 1423.6 L282.9 1421.1 L283.5 1418.4 L284.1 1415.8 L284.7 1413.1 L285.4 1410.4 L286.0 1407.6 L286.6 1404.9 L287.2 1402.0 L287.8 1399.2 L288.4 1396.3 L289.0 1393.4 L289.6 1390.5 L290.3 1387.6 L290.9 1384.7 L291.5 1381.7 L292.1 1378.7 L292.7 1375.8 L293.3 1372.8 L293.9 1369.8 L294.5 1366.8 L295.2 1363.9 L295.8 1360.9 L296.4 1358.0 L297.0 1355.1 L297.6 1352.2 L298.2 1349.3 L298.8 1346.4 L299.4 1343.6 L300.1 1340.8 L300.7 1338.1 L301.3 1335.4 L301.9 1332.8 L302.5 1330.2 L303.1 1327.6 L303.7 1325.2 L304.3 1322.8 L305.0 1320.4 L305.6 1318.2 L306.2 1316.0 L306.8 1313.9 L307.4 1311.9 L308.0 1310.0 L308.6 1308.2 L309.2 1306.4 L309.9 1304.8 L310.5 1303.3 L311.1 1301.9 L311.7 1300.6 L312.3 1299.5 L312.9 1298.5 L313.5 1297.6 L314.1 1296.8 L314.8 1296.2 L315.4 1295.7 L316.0 1295.3 L316.6 1295.1 L317.2 1295.1 L317.8 1295.2 L318.4 1295.5 L319.0 1295.9 L319.7 1296.5 L320.3 1297.3 L320.9 1298.2 L321.5 1299.3 L322.1 1300.6 L322.7 1302.0 L323.3 1303.7 L323.9 1305.5 L324.6 1307.5 L325.2 1309.7 L325.8 1312.1 L326.4 1314.6 L327.0 1317.4 L327.6 1320.3 L328.2 1323.4 L328.8 1326.7 L329.5 1330.2 L330.1 1333.9 L330.7 1337.8 L331.3 1341.8 L331.9 1346.1 L332.5 1350.5 L333.1 1355.2 L333.7 1360.0 L334.4 1364.9 L335.0 1370.1 L335.6 1375.4 L336.2 1381.0 L336.8 1386.7 L337.4 1392.5 L338.0 1398.5 L338.7 1404.7 L339.3 1411.1 L339.9 1417.5 L340.5 1424.2 L341.1 1431.0 L341.7 1437.9 L342.3 1445.0 L342.9 1452.2 L343.6 1459.5 L344.2 1467.0 L344.8 1471.5 L345.4 1463.8 L346.0 1456.0 L346.6 1448.2 L347.2 1440.2 L347.8 1432.2 L348.5 1424.0 L349.1 1415.9 L349.7 1407.6 L350.3 1399.3 L350.9 1390.9 L351.5 1382.6 L352.1 1374.1 L352.7 1365.7 L353.4 1357.2 L354.0 1348.7 L354.6 1340.3 L355.2 1331.8 L355.8 1323.3 L356.4 1314.9 L357.0 1306.5 L357.6 1298.1 L358.3 1289.8 L358.9 1281.6 L359.5 1273.4 L360.1 1265.3 L360.7 1257.2 L361.3 1249.3 L361.9 1241.4 L362.5 1233.7 L363.2 1226.1 L363.8 1218.6 L364.4 1211.2 L365.0 1204.0 L365.6 1196.9 L366.2 1189.9 L366.8 1183.2 L367.4 1176.6 L368.1 1170.1 L368.7 1163.9 L369.3 1157.8 L369.9 1152.0 L370.5 1146.3 L371.1 1140.8 L371.7 1135.6 L372.3 1130.6 L373.0 1125.8 L373.6 1121.2 L374.2 1116.9 L374.8 1112.8 L375.4 1109.0 L376.0 1105.4 L376.6 1102.0 L377.2 1099.0 L377.9 1096.1 L378.5 1093.6 L379.1 1091.3 L379.7 1089.3 L380.3 1087.5 L380.9 1086.1 L381.5 1084.9 L382.1 1084.0 L382.8 1083.3 L383.4 1082.9 L384.0 1082.9 L384.6 1083.1 L385.2 1083.5 L385.8 1084.3 L386.4 1085.3 L387.0 1086.6 L387.7 1088.2 L388.3 1090.1 L388.9 1092.2 L389.5 1094.6 L390.1 1097.2 L390.7 1100.2 L391.3 1103.3 L391.9 1106.8 L392.6 1110.5 L393.2 1114.4 L393.8 1118.6 L394.4 1123.0 L395.0 1127.7 L395.6 1132.6 L396.2 1137.7 L396.9 1143.0 L397.5 1148.5 L398.1 1154.3 L398.7 1160.2 L399.3 1166.4 L399.9 1172.7 L400.5 1179.2 L401.1 1185.9 L401.8 1192.7 L402.4 1199.7 L403.0 1206.8 L403.6 1214.1 L404.2 1221.6 L404.8 1229.1 L405.4 1236.8 L406.0 1244.6 L406.7 1252.4 L407.3 1260.4 L407.9 1268.5 L408.5 1276.6 L409.1 1284.9 L409.7 1293.1 L410.3 1301.5 L410.9 1309.9 L411.6 1318.3 L412.2 1326.7 L412.8 1335.2 L413.4 1343.6 L414.0 1352.1 L414.6 1360.6 L415.2 1369.1 L415.8 1377.5 L416.5 1385.9 L417.1 1394.3 L417.7 1402.6 L418.3 1410.9 L418.9 1419.1 L419.5 1427.3 L420.1 1435.4 L420.7 1443.4 L421.4 1451.3 L422.0 1459.2 L422.6 1466.9 L423.2 1471.5 L423.8 1464.0 L424.4 1456.6 L425.0 1449.3 L425.6 1442.1 L426.3 1435.1 L426.9 1428.3 L427.5 1421.5 L428.1 1414.9 L428.7 1408.5 L429.3 1402.2 L429.9 1396.1 L430.5 1390.1 L431.2 1384.4 L431.8 1378.7 L432.4 1373.3 L433.0 1368.0 L433.6 1362.9 L434.2 1358.0 L434.8 1353.3 L435.4 1348.7 L436.1 1344.4 L436.7 1340.2 L437.3 1336.2 L437.9 1332.4 L438.5 1328.8 L439.1 1325.4 L439.7 1322.1 L440.3 1319.1 L441.0 1316.2 L441.6 1313.6 L442.2 1311.1 L442.8 1308.8 L443.4 1306.7 L444.0 1304.8 L444.6 1303.0 L445.2 1301.4 L445.9 1300.1 L446.5 1298.8 L447.1 1297.8 L447.7 1296.9 L448.3 1296.2 L448.9 1295.7 L449.5 1295.3 L450.1 1295.1 L450.8 1295.1 L451.4 1295.2 L452.0 1295.4 L452.6 1295.9 L453.2 1296.4 L453.8 1297.1 L454.4 1297.9 L455.0 1298.9 L455.7 1299.9 L456.3 1301.1 L456.9 1302.5 L457.5 1303.9 L458.1 1305.4 L458.7 1307.1 L459.3 1308.9 L460.0 1310.7 L460.6 1312.7 L461.2 1314.7 L461.8 1316.9 L462.4 1319.1 L463.0 1321.4 L463.6 1323.7 L464.2 1326.2 L464.9 1328.7 L465.5 1331.2 L466.1 1333.8 L466.7 1336.5 L467.3 1339.2 L467.9 1341.9 L468.5 1344.7 L469.1 1347.6 L469.8 1350.4 L470.4 1353.3 L471.0 1356.2 L471.6 1359.2 L472.2 1362.1 L472.8 1365.1 L473.4 1368.0 L474.0 1371.0 L474.7 1374.0 L475.3 1376.9 L475.9 1379.9 L476.5 1382.9 L477.1 1385.8 L477.7 1388.8 L478.3 1391.7 L478.9 1394.6 L479.6 1397.5 L480.2 1400.3 L480.8 1403.2 L481.4 1406.0 L482.0 1408.8 L482.6 1411.5 L483.2 1414.2 L483.8 1416.9 L484.5 1419.5 L485.1 1422.1 L485.7 1424.6 L486.3 1427.1 L486.9 1429.6 L487.5 1432.0 L488.1 1434.4 L488.7 1436.7 L489.4 1439.0 L490.0 1441.2 L490.6 1443.4 L491.2 1445.5 L491.8 1447.5 L492.4 1449.5 L493.0 1451.5 L493.6 1453.4 L494.3 1455.3 L494.9 1457.1 L495.5 1458.8 L496.1 1460.5 L496.7 1462.1 L497.3 1463.7 L497.9 1465.2 L498.5 1466.7 L499.2 1468.1 L499.8 1469.5 L500.4 1470.8 L501.0 1472.0 L501.6 1472.8 L502.2 1471.6 L502.8 1470.5 L503.4 1469.5 L504.1 1468.5 L504.7 1467.5 L505.3 1466.6 L505.9 1465.7 L506.5 1464.9 L507.1 1464.2 L507.7 1463.4 L508.3 1462.8 L509.0 1462.1 L509.6 1461.5 L510.2 1461.0 L510.8 1460.5 L511.4 1460.0 L512.0 1459.6 L512.6 1459.2 L513.2 1458.8 L513.9 1458.5 L514.5 1458.2 L515.1 1457.9 L515.7 1457.7 L516.3 1457.5 L516.9 1457.3 L517.5 1457.2 L518.1 1457.1 L518.8 1457.0 L519.4 1456.9 L520.0 1456.9 L520.6 1456.9 L521.2 1456.9 L521.8 1456.9 L522.4 1456.9 L523.1 1457.0 L523.7 1457.1 L524.3 1457.2 L524.9 1457.3 L525.5 1457.5 L526.1 1457.6 L526.7 1457.8 L527.3 1457.9 L528.0 1458.1 L528.6 1458.3 L529.2 1458.5 L529.8 1458.7 L530.4 1459.0 L531.0 1459.2 L531.6 1459.4 L532.2 1459.7 L532.9 1459.9 L533.5 1460.2 L534.1 1460.5 L534.7 1460.7 L535.3 1461.0 L535.9 1461.3 L536.5 1461.5 L537.1 1461.8 L537.8 1462.1 L538.4 1462.4 L539.0 1462.7 L539.6 1462.9 L540.2 1463.2 L540.8 1463.5 L541.4 1463.8 L542.0 1464.0 L542.7 1464.3 L543.3 1464.6 L543.9 1464.9 L544.5 1465.1 L545.1 1465.4 L545.7 1465.6 L546.3 1465.9 L546.9 1466.1 L547.6 1466.4 L548.2 1466.6 L548.8 1466.9 L549.4 1467.1 L550.0 1467.3 L550.6 1467.6 L551.2 1467.8 L551.8 1468.0 L552.5 1468.2 L553.1 1468.4 L553.7 1468.6 L554.3 1468.8 L554.9 1469.0 L555.5 1469.2 L556.1 1469.4 L556.7 1469.6 L557.4 1469.7 L558.0 1469.9 L558.6 1470.1 L559.2 1470.2 L559.8 1470.4 L560.4 1470.5 L561.0 1470.6 L561.6 1470.8 L562.3 1470.9 L562.9 1471.0 L563.5 1471.2 L564.1 1471.3 L564.7 1471.4 L565.3 1471.5 L565.9 1471.6 L566.5 1471.7 L567.2 1471.8 L567.8 1471.9 L568.4 1472.0 L569.0 1472.1 L569.6 1472.1 L570.2 1472.2 L570.8 1472.3 L571.4 1472.4 L572.1 1472.4 L572.7 1472.5 L573.3 1472.5 L573.9 1472.6 L574.5 1472.7 L575.1 1472.7 L575.7 1472.7 L576.3 1472.8 L577.0 1472.8 L577.6 1472.9 L578.2 1472.9 L578.8 1472.9 L579.4 1473.0 L580.0 1473.0 L580.6 1473.0 L581.3 1472.9 L581.9 1472.9 L582.5 1472.9 L583.1 1472.9 L583.7 1472.9 L584.3 1472.8 L584.9 1472.8 L585.5 1472.8 L586.2 1472.8 L586.8 1472.8 L587.4 1472.8 L588.0 1472.8 L588.6 1472.8 L589.2 1472.8 L589.8 1472.7 L590.4 1472.7 L591.1 1472.7 L591.7 1472.7 L592.3 1472.7 L592.9 1472.7 L593.5 1472.7 L594.1 1472.7 L594.7 1472.7 L595.3 1472.7 L596.0 1472.7 L596.6 1472.7 L597.2 1472.7 L597.8 1472.7 L598.4 1472.7 L599.0 1472.7 L599.6 1472.8 L600.2 1472.8 L600.9 1472.8 L601.5 1472.8 L602.1 1472.8 L602.7 1472.8 L603.3 1472.8 L603.9 1472.8 L604.5 1472.8 L605.1 1472.8 L605.8 1472.8 L606.4 1472.8 L607.0 1472.8 L607.6 1472.8 L608.2 1472.8 L608.8 1472.8 L609.4 1472.8 L610.0 1472.8 L610.7 1472.8 L611.3 1472.8 L611.9 1472.9 L612.5 1472.9 L613.1 1472.9 L613.7 1472.9 L614.3 1472.9 L614.9 1472.9 L615.6 1472.9 L616.2 1472.9 L616.8 1472.9 L617.4 1472.9 L618.0 1472.9 L618.6 1472.9 L619.2 1472.9 L619.8 1472.9 L620.5 1472.9 L621.1 1472.9 L621.7 1472.9 L622.3 1472.9 L622.9 1472.9 L623.5 1472.9 L624.1 1472.9 L624.7 1472.9 L625.4 1472.9 L626.0 1472.9 L626.6 1472.9 L627.2 1473.0 L627.8 1473.0 L628.4 1473.0 L629.0 1473.0 L629.6 1473.0 L630.3 1473.0 L630.9 1473.0 L631.5 1473.0 L632.1 1473.0 L632.7 1473.0 L633.3 1473.0 L633.9 1473.0 L634.5 1473.0 L635.2 1473.0 L635.8 1473.0 L636.4 1473.0 L637.0 1473.0 L637.6 1473.0 L638.2 1473.0 L638.8 1473.0 L639.4 1473.0 L640.1 1473.0 L640.7 1473.0 L641.3 1473.0 L641.9 1473.0" fill="none" stroke="#ef7a2f" stroke-width="5.2" stroke-linejoin="round"/>
<g fill="none" stroke="#433a9c" stroke-width="2.0"><circle cx="153.6" cy="1461.2" r="5.0"/><circle cx="167.3" cy="1458.2" r="5.0"/><circle cx="180.9" cy="1457.3" r="5.0"/><circle cx="194.6" cy="1455.7" r="5.0"/><circle cx="208.2" cy="1451.2" r="5.0"/><circle cx="221.3" cy="1442.1" r="5.0"/><circle cx="234.9" cy="1429.0" r="5.0"/><circle cx="248.6" cy="1412.4" r="5.0"/><circle cx="262.2" cy="1392.7" r="5.0"/><circle cx="275.8" cy="1369.3" r="5.0"/><circle cx="289.2" cy="1344.8" r="5.0"/><circle cx="302.8" cy="1324.7" r="5.0"/><circle cx="316.5" cy="1327.8" r="5.0"/><circle cx="330.1" cy="1379.9" r="5.0"/><circle cx="343.8" cy="1440.0" r="5.0"/><circle cx="357.4" cy="1264.1" r="5.0"/><circle cx="371.1" cy="1112.2" r="5.0"/><circle cx="384.7" cy="1080.6" r="5.0"/><circle cx="398.0" cy="1187.4" r="5.0"/><circle cx="411.7" cy="1346.6" r="5.0"/><circle cx="425.3" cy="1461.8" r="5.0"/><circle cx="439.0" cy="1407.2" r="5.0"/><circle cx="452.3" cy="1389.6" r="5.0"/><circle cx="466.0" cy="1392.0" r="5.0"/><circle cx="479.6" cy="1402.0" r="5.0"/><circle cx="493.2" cy="1416.3" r="5.0"/><circle cx="506.9" cy="1431.5" r="5.0"/><circle cx="520.5" cy="1445.7" r="5.0"/><circle cx="533.6" cy="1455.1" r="5.0"/><circle cx="547.2" cy="1460.3" r="5.0"/><circle cx="560.9" cy="1463.9" r="5.0"/><circle cx="574.5" cy="1466.3" r="5.0"/><circle cx="588.2" cy="1469.7" r="5.0"/><circle cx="601.5" cy="1470.3" r="5.0"/><circle cx="615.1" cy="1468.5" r="5.0"/><circle cx="628.8" cy="1467.9" r="5.0"/></g>
</g>
<clipPath id="clipe"><rect x="883.2" y="1023.7" width="490.1" height="449.3"/></clipPath>
<g clip-path="url(#clipe)">
<path d="M883.2 1473.0 L884.2 1473.0 L885.2 1473.0 L886.2 1473.0 L887.2 1473.0 L888.2 1473.0 L889.2 1473.0 L890.2 1473.0 L891.2 1473.0 L892.2 1473.0 L893.2 1472.9 L894.2 1472.9 L895.2 1472.9 L896.2 1472.9 L897.2 1472.9 L898.2 1472.9 L899.2 1472.9 L900.2 1472.8 L901.2 1472.8 L902.2 1472.8 L903.2 1472.8 L904.2 1472.8 L905.2 1472.7 L906.2 1472.7 L907.2 1472.7 L908.2 1472.7 L909.2 1472.6 L910.2 1472.6 L911.2 1472.6 L912.2 1472.5 L913.2 1472.5 L914.2 1472.5 L915.2 1472.4 L916.2 1472.4 L917.2 1472.4 L918.2 1472.3 L919.2 1472.3 L920.2 1472.3 L921.2 1472.2 L922.2 1472.2 L923.2 1472.1 L924.2 1472.1 L925.2 1472.1 L926.2 1472.0 L927.2 1472.0 L928.2 1471.9 L929.2 1471.9 L930.2 1471.8 L931.2 1471.8 L932.2 1471.8 L933.2 1471.7 L934.2 1471.7 L935.2 1471.6 L936.2 1471.6 L937.2 1471.5 L938.2 1471.5 L939.2 1471.4 L940.2 1471.4 L941.2 1471.3 L942.2 1471.2 L943.2 1471.1 L944.2 1470.9 L945.2 1470.8 L946.2 1470.6 L947.2 1470.5 L948.2 1470.3 L949.2 1470.1 L950.2 1469.9 L951.2 1469.7 L952.2 1469.5 L953.2 1469.3 L954.2 1469.1 L955.2 1468.9 L956.2 1468.8 L957.2 1468.6 L958.2 1468.5 L959.2 1468.4 L960.2 1468.3 L961.2 1468.2 L962.2 1468.1 L963.2 1468.1 L964.2 1468.1 L965.2 1468.2 L966.2 1468.3 L967.2 1468.4 L968.2 1468.5 L969.2 1468.7 L970.2 1468.9 L971.2 1469.1 L972.2 1469.4 L973.2 1469.6 L974.2 1469.9 L975.2 1470.1 L976.2 1470.4 L977.2 1470.6 L978.2 1470.9 L979.2 1471.1 L980.2 1471.4 L981.2 1471.6 L982.2 1471.8 L983.2 1471.9 L984.2 1472.1 L985.2 1472.2 L986.2 1472.3 L987.2 1472.4 L988.2 1472.5 L989.2 1472.6 L990.2 1472.7 L991.2 1472.8 L992.2 1472.8 L993.2 1472.9 L994.2 1473.0 L995.0 1473.0 L996.0 1472.2 L997.0 1471.3 L998.0 1470.2 L999.0 1469.0 L1000.0 1467.6 L1001.0 1466.1 L1002.0 1464.5 L1003.0 1462.8 L1004.0 1461.0 L1005.0 1459.1 L1006.0 1457.1 L1007.0 1455.0 L1008.0 1452.9 L1009.0 1450.8 L1010.0 1448.5 L1011.0 1446.1 L1012.0 1443.2 L1013.0 1440.0 L1014.0 1436.5 L1015.0 1432.7 L1016.0 1428.8 L1017.0 1424.6 L1018.0 1420.4 L1019.0 1416.1 L1020.0 1411.9 L1021.0 1407.6 L1022.0 1403.5 L1023.0 1399.5 L1024.0 1395.7 L1025.0 1392.1 L1026.0 1388.9 L1027.0 1386.0 L1028.0 1383.4 L1029.0 1380.8 L1030.0 1378.3 L1031.0 1375.7 L1032.0 1373.3 L1033.0 1370.9 L1034.0 1368.6 L1035.0 1366.4 L1036.0 1364.4 L1037.0 1362.6 L1038.0 1361.0 L1039.0 1359.5 L1040.0 1358.3 L1041.0 1357.4 L1042.0 1356.7 L1043.0 1356.1 L1044.0 1355.4 L1045.0 1354.8 L1046.0 1354.3 L1047.0 1353.7 L1048.0 1353.3 L1049.0 1352.9 L1050.0 1352.5 L1051.0 1352.3 L1052.0 1352.1 L1053.0 1351.9 L1054.0 1351.9 L1055.0 1352.4 L1056.0 1353.6 L1057.0 1355.3 L1058.0 1357.6 L1059.0 1360.1 L1060.0 1363.0 L1061.0 1366.1 L1062.0 1369.2 L1063.0 1372.4 L1064.0 1375.6 L1065.0 1379.5 L1066.0 1384.0 L1067.0 1388.9 L1068.0 1393.9 L1069.0 1398.9 L1070.0 1403.6 L1071.0 1407.8 L1072.0 1411.5 L1073.0 1415.2 L1074.0 1418.7 L1075.0 1422.1 L1076.0 1425.3 L1077.0 1428.4 L1078.0 1431.3 L1078.8 1433.5 L1079.8 1432.4 L1080.8 1430.2 L1081.8 1426.9 L1082.8 1422.8 L1083.8 1417.8 L1084.8 1412.3 L1085.8 1406.2 L1086.8 1399.7 L1087.8 1392.9 L1088.8 1385.9 L1089.8 1377.1 L1090.8 1366.0 L1091.8 1353.0 L1092.8 1338.5 L1093.8 1323.0 L1094.8 1306.9 L1095.8 1290.7 L1096.8 1274.8 L1097.8 1259.7 L1098.8 1245.7 L1099.8 1233.3 L1100.8 1221.7 L1101.8 1210.1 L1102.8 1198.6 L1103.8 1187.4 L1104.8 1176.4 L1105.8 1165.9 L1106.8 1156.0 L1107.8 1146.6 L1108.8 1137.9 L1109.8 1130.1 L1110.8 1123.2 L1111.8 1116.8 L1112.8 1110.5 L1113.8 1104.3 L1114.8 1098.4 L1115.8 1092.9 L1116.8 1087.7 L1117.8 1083.1 L1118.8 1079.0 L1119.8 1075.5 L1120.8 1072.7 L1121.8 1070.7 L1122.8 1069.3 L1123.8 1068.0 L1124.8 1066.8 L1125.8 1065.9 L1126.8 1065.4 L1127.8 1065.3 L1128.8 1065.8 L1129.8 1066.7 L1130.8 1068.0 L1131.8 1069.5 L1132.8 1071.1 L1133.8 1072.8 L1134.8 1074.9 L1135.8 1077.4 L1136.8 1080.2 L1137.8 1083.4 L1138.8 1087.0 L1139.8 1091.0 L1140.8 1095.9 L1141.8 1101.9 L1142.8 1108.7 L1143.8 1116.3 L1144.8 1124.5 L1145.8 1133.0 L1146.8 1141.9 L1147.8 1150.9 L1148.8 1160.6 L1149.8 1171.5 L1150.8 1183.2 L1151.8 1195.5 L1152.8 1208.1 L1153.8 1220.6 L1154.8 1232.8 L1155.8 1244.4 L1156.8 1255.2 L1157.8 1265.6 L1158.8 1275.7 L1159.8 1285.7 L1160.8 1295.5 L1161.8 1305.3 L1162.8 1315.1 L1163.8 1324.9 L1164.8 1335.0 L1165.8 1345.8 L1166.8 1357.1 L1167.8 1368.4 L1168.8 1379.2 L1169.8 1389.1 L1170.8 1397.5 L1171.8 1404.1 L1172.8 1410.2 L1173.8 1415.9 L1174.8 1421.0 L1175.8 1425.6 L1176.8 1429.3 L1177.8 1432.2 L1178.4 1433.5 L1179.4 1425.5 L1180.4 1417.8 L1181.4 1410.5 L1182.4 1403.6 L1183.4 1397.1 L1184.4 1391.1 L1185.4 1385.6 L1186.4 1380.7 L1187.4 1376.5 L1188.4 1372.9 L1189.4 1369.6 L1190.4 1366.5 L1191.4 1363.6 L1192.4 1360.9 L1193.4 1358.6 L1194.4 1356.5 L1195.4 1354.7 L1196.4 1353.4 L1197.4 1352.4 L1198.4 1351.5 L1199.4 1350.6 L1200.4 1349.8 L1201.4 1349.1 L1202.4 1348.5 L1203.4 1348.0 L1204.4 1347.7 L1205.4 1347.5 L1206.4 1347.4 L1207.4 1347.6 L1208.4 1348.1 L1209.4 1348.9 L1210.4 1349.8 L1211.4 1351.0 L1212.4 1352.3 L1213.4 1353.8 L1214.4 1355.5 L1215.4 1357.2 L1216.4 1359.0 L1217.4 1360.8 L1218.4 1362.6 L1219.4 1364.5 L1220.4 1366.3 L1221.4 1368.4 L1222.4 1370.7 L1223.4 1373.3 L1224.4 1376.1 L1225.4 1379.0 L1226.4 1382.1 L1227.4 1385.4 L1228.4 1388.7 L1229.4 1392.1 L1230.4 1395.5 L1231.4 1398.9 L1232.4 1402.2 L1233.4 1405.6 L1234.4 1408.8 L1235.4 1411.9 L1236.4 1414.8 L1237.4 1417.6 L1238.4 1420.4 L1239.4 1423.3 L1240.4 1426.2 L1241.4 1429.1 L1242.4 1432.0 L1243.4 1434.8 L1244.4 1437.6 L1245.4 1440.3 L1246.4 1442.8 L1247.4 1445.2 L1248.4 1447.4 L1249.4 1449.5 L1250.4 1451.3 L1251.4 1452.9 L1252.4 1454.5 L1253.4 1456.1 L1254.4 1457.6 L1255.4 1459.1 L1256.4 1460.5 L1257.4 1461.8 L1258.4 1463.1 L1259.4 1464.3 L1260.4 1465.3 L1261.4 1466.3 L1262.4 1467.1 L1263.4 1467.8 L1264.4 1468.4 L1265.4 1468.9 L1266.4 1469.4 L1267.4 1469.8 L1268.4 1470.2 L1269.4 1470.6 L1270.4 1471.0 L1271.4 1471.3 L1272.4 1471.5 L1273.4 1471.7 L1274.4 1471.8 L1275.4 1471.8 L1276.4 1471.7 L1277.4 1471.6 L1278.4 1471.5 L1279.4 1471.4 L1280.4 1471.2 L1281.4 1471.0 L1282.4 1470.8 L1283.4 1470.6 L1284.4 1470.4 L1285.4 1470.2 L1286.4 1470.0 L1287.4 1469.9 L1288.4 1469.8 L1289.4 1469.7 L1290.4 1469.7 L1291.4 1469.7 L1292.4 1469.8 L1293.4 1469.8 L1294.4 1469.8 L1295.4 1469.9 L1296.4 1469.9 L1297.4 1470.0 L1298.4 1470.1 L1299.4 1470.1 L1300.4 1470.2 L1301.4 1470.3 L1302.4 1470.3 L1303.4 1470.4 L1304.4 1470.5 L1305.4 1470.6 L1306.4 1470.7 L1307.4 1470.9 L1308.4 1471.0 L1309.4 1471.2 L1310.4 1471.5 L1311.4 1471.7 L1312.4 1471.9 L1313.4 1472.1 L1314.4 1472.3 L1315.4 1472.5 L1316.4 1472.7 L1317.4 1472.8 L1318.4 1472.9 L1319.4 1473.0 L1320.4 1473.0 L1321.4 1473.0 L1322.4 1473.0 L1323.4 1473.0 L1324.4 1473.0 L1325.4 1473.0 L1326.4 1473.0 L1327.4 1473.0 L1328.4 1473.0 L1329.4 1473.0 L1330.4 1473.0 L1331.4 1473.0 L1332.4 1473.0 L1333.4 1473.0 L1334.4 1473.0 L1335.4 1473.0 L1336.4 1473.0 L1337.4 1473.0 L1338.4 1473.0 L1339.4 1473.0 L1340.4 1473.0 L1341.4 1473.0 L1342.4 1473.0 L1343.4 1473.0 L1344.4 1473.0 L1345.4 1473.0 L1346.4 1473.0 L1347.4 1473.0 L1348.4 1473.0 L1349.4 1473.0 L1350.4 1473.0 L1351.4 1473.0 L1352.4 1473.0 L1353.4 1473.0 L1354.4 1473.0 L1355.4 1473.0 L1356.4 1473.0 L1357.4 1473.0 L1358.4 1473.0 L1359.4 1473.0 L1360.4 1473.0 L1361.4 1473.0 L1362.4 1473.0 L1363.4 1473.0 L1364.4 1473.0 L1365.4 1473.0 L1366.4 1473.0 L1367.4 1473.0 L1368.4 1473.0 L1369.4 1473.0 L1370.4 1473.0 L1371.4 1473.0 L1372.4 1473.0" fill="none" stroke="#ef7a2f" stroke-width="5.2" stroke-linejoin="round"/>
<g fill="none" stroke="#433a9c" stroke-width="2.0"><circle cx="884.2" cy="1448.9" r="5.0"/><circle cx="885.8" cy="1449.7" r="5.0"/><circle cx="887.4" cy="1450.4" r="5.0"/><circle cx="889.0" cy="1450.9" r="5.0"/><circle cx="890.6" cy="1451.3" r="5.0"/><circle cx="892.2" cy="1451.5" r="5.0"/><circle cx="893.8" cy="1451.7" r="5.0"/><circle cx="895.4" cy="1451.8" r="5.0"/><circle cx="897.0" cy="1451.8" r="5.0"/><circle cx="898.6" cy="1451.5" r="5.0"/><circle cx="900.2" cy="1450.8" r="5.0"/><circle cx="901.8" cy="1449.9" r="5.0"/><circle cx="903.4" cy="1448.8" r="5.0"/><circle cx="905.0" cy="1447.6" r="5.0"/><circle cx="906.6" cy="1446.3" r="5.0"/><circle cx="908.2" cy="1445.2" r="5.0"/><circle cx="909.8" cy="1444.3" r="5.0"/><circle cx="911.4" cy="1443.6" r="5.0"/><circle cx="913.0" cy="1443.3" r="5.0"/><circle cx="914.6" cy="1443.4" r="5.0"/><circle cx="916.2" cy="1443.8" r="5.0"/><circle cx="917.8" cy="1444.5" r="5.0"/><circle cx="919.4" cy="1445.4" r="5.0"/><circle cx="921.0" cy="1446.3" r="5.0"/><circle cx="922.6" cy="1447.1" r="5.0"/><circle cx="924.2" cy="1447.8" r="5.0"/><circle cx="925.8" cy="1448.5" r="5.0"/><circle cx="927.4" cy="1449.2" r="5.0"/><circle cx="929.0" cy="1450.0" r="5.0"/><circle cx="930.6" cy="1450.7" r="5.0"/><circle cx="932.2" cy="1451.2" r="5.0"/><circle cx="933.8" cy="1451.6" r="5.0"/><circle cx="935.4" cy="1451.8" r="5.0"/><circle cx="937.0" cy="1451.7" r="5.0"/><circle cx="938.6" cy="1451.5" r="5.0"/><circle cx="940.2" cy="1451.2" r="5.0"/><circle cx="941.8" cy="1450.8" r="5.0"/><circle cx="943.4" cy="1450.3" r="5.0"/><circle cx="945.0" cy="1449.6" r="5.0"/><circle cx="946.6" cy="1449.0" r="5.0"/><circle cx="948.2" cy="1448.2" r="5.0"/><circle cx="949.8" cy="1447.4" r="5.0"/><circle cx="951.4" cy="1446.6" r="5.0"/><circle cx="953.0" cy="1445.7" r="5.0"/><circle cx="954.6" cy="1444.3" r="5.0"/><circle cx="956.2" cy="1442.7" r="5.0"/><circle cx="957.8" cy="1440.8" r="5.0"/><circle cx="959.4" cy="1439.0" r="5.0"/><circle cx="961.0" cy="1437.2" r="5.0"/><circle cx="962.6" cy="1435.8" r="5.0"/><circle cx="964.2" cy="1434.2" r="5.0"/><circle cx="965.8" cy="1432.6" r="5.0"/><circle cx="967.4" cy="1431.5" r="5.0"/><circle cx="969.0" cy="1431.0" r="5.0"/><circle cx="970.6" cy="1431.6" r="5.0"/><circle cx="972.2" cy="1432.9" r="5.0"/><circle cx="973.8" cy="1434.8" r="5.0"/><circle cx="975.4" cy="1436.8" r="5.0"/><circle cx="977.0" cy="1439.5" r="5.0"/><circle cx="978.6" cy="1442.7" r="5.0"/><circle cx="980.2" cy="1446.3" r="5.0"/><circle cx="981.8" cy="1450.6" r="5.0"/><circle cx="983.4" cy="1455.2" r="5.0"/><circle cx="985.0" cy="1459.1" r="5.0"/><circle cx="986.6" cy="1462.9" r="5.0"/><circle cx="988.2" cy="1465.4" r="5.0"/><circle cx="989.8" cy="1466.3" r="5.0"/><circle cx="991.4" cy="1466.8" r="5.0"/><circle cx="993.0" cy="1466.4" r="5.0"/><circle cx="994.6" cy="1464.1" r="5.0"/><circle cx="996.2" cy="1461.0" r="5.0"/><circle cx="997.8" cy="1458.2" r="5.0"/><circle cx="999.4" cy="1455.0" r="5.0"/><circle cx="1001.0" cy="1451.5" r="5.0"/><circle cx="1002.6" cy="1447.9" r="5.0"/><circle cx="1004.2" cy="1444.0" r="5.0"/><circle cx="1005.8" cy="1440.2" r="5.0"/><circle cx="1007.4" cy="1436.3" r="5.0"/><circle cx="1009.0" cy="1432.4" r="5.0"/><circle cx="1010.6" cy="1428.2" r="5.0"/><circle cx="1012.2" cy="1423.8" r="5.0"/><circle cx="1013.8" cy="1419.4" r="5.0"/><circle cx="1015.4" cy="1415.1" r="5.0"/><circle cx="1017.0" cy="1411.2" r="5.0"/><circle cx="1018.6" cy="1407.7" r="5.0"/><circle cx="1020.2" cy="1404.8" r="5.0"/><circle cx="1021.8" cy="1402.3" r="5.0"/><circle cx="1023.4" cy="1400.0" r="5.0"/><circle cx="1025.0" cy="1397.8" r="5.0"/><circle cx="1026.6" cy="1395.7" r="5.0"/><circle cx="1028.2" cy="1393.4" r="5.0"/><circle cx="1029.8" cy="1390.9" r="5.0"/><circle cx="1031.4" cy="1388.1" r="5.0"/><circle cx="1033.0" cy="1385.2" r="5.0"/><circle cx="1034.6" cy="1382.2" r="5.0"/><circle cx="1036.2" cy="1379.0" r="5.0"/><circle cx="1037.8" cy="1375.7" r="5.0"/><circle cx="1039.4" cy="1372.4" r="5.0"/><circle cx="1041.0" cy="1368.9" r="5.0"/><circle cx="1042.6" cy="1365.1" r="5.0"/><circle cx="1044.2" cy="1360.8" r="5.0"/><circle cx="1045.8" cy="1356.3" r="5.0"/><circle cx="1047.4" cy="1351.7" r="5.0"/><circle cx="1049.0" cy="1347.4" r="5.0"/><circle cx="1050.6" cy="1343.7" r="5.0"/><circle cx="1052.2" cy="1340.8" r="5.0"/><circle cx="1053.8" cy="1338.6" r="5.0"/><circle cx="1055.4" cy="1336.7" r="5.0"/><circle cx="1057.0" cy="1335.0" r="5.0"/><circle cx="1058.6" cy="1333.5" r="5.0"/><circle cx="1060.2" cy="1332.1" r="5.0"/><circle cx="1061.8" cy="1330.8" r="5.0"/><circle cx="1063.4" cy="1329.6" r="5.0"/><circle cx="1065.0" cy="1328.2" r="5.0"/><circle cx="1066.6" cy="1326.7" r="5.0"/><circle cx="1068.2" cy="1325.4" r="5.0"/><circle cx="1069.8" cy="1324.4" r="5.0"/><circle cx="1071.4" cy="1323.8" r="5.0"/><circle cx="1073.0" cy="1323.9" r="5.0"/><circle cx="1074.6" cy="1324.5" r="5.0"/><circle cx="1076.2" cy="1325.6" r="5.0"/><circle cx="1077.8" cy="1327.5" r="5.0"/><circle cx="1079.4" cy="1332.1" r="5.0"/><circle cx="1081.0" cy="1337.6" r="5.0"/><circle cx="1082.6" cy="1344.4" r="5.0"/><circle cx="1084.2" cy="1352.0" r="5.0"/><circle cx="1085.8" cy="1359.7" r="5.0"/><circle cx="1087.4" cy="1368.1" r="5.0"/><circle cx="1089.0" cy="1376.9" r="5.0"/><circle cx="1090.6" cy="1384.1" r="5.0"/><circle cx="1092.2" cy="1388.8" r="5.0"/><circle cx="1093.8" cy="1391.8" r="5.0"/><circle cx="1095.4" cy="1388.4" r="5.0"/><circle cx="1097.0" cy="1379.2" r="5.0"/><circle cx="1098.6" cy="1366.0" r="5.0"/><circle cx="1100.2" cy="1348.6" r="5.0"/><circle cx="1101.8" cy="1327.5" r="5.0"/><circle cx="1103.4" cy="1306.2" r="5.0"/><circle cx="1105.0" cy="1284.6" r="5.0"/><circle cx="1106.6" cy="1261.3" r="5.0"/><circle cx="1108.2" cy="1237.2" r="5.0"/><circle cx="1109.8" cy="1212.3" r="5.0"/><circle cx="1111.4" cy="1191.7" r="5.0"/><circle cx="1113.0" cy="1176.0" r="5.0"/><circle cx="1114.6" cy="1160.8" r="5.0"/><circle cx="1116.2" cy="1142.3" r="5.0"/><circle cx="1117.8" cy="1121.9" r="5.0"/><circle cx="1119.4" cy="1104.6" r="5.0"/><circle cx="1121.0" cy="1089.8" r="5.0"/><circle cx="1122.6" cy="1076.7" r="5.0"/><circle cx="1124.2" cy="1067.2" r="5.0"/><circle cx="1125.8" cy="1061.8" r="5.0"/><circle cx="1127.4" cy="1058.1" r="5.0"/><circle cx="1129.0" cy="1057.1" r="5.0"/><circle cx="1130.6" cy="1057.1" r="5.0"/><circle cx="1132.2" cy="1058.8" r="5.0"/><circle cx="1133.8" cy="1064.7" r="5.0"/><circle cx="1135.4" cy="1070.7" r="5.0"/><circle cx="1137.0" cy="1076.1" r="5.0"/><circle cx="1138.6" cy="1082.0" r="5.0"/><circle cx="1140.2" cy="1088.6" r="5.0"/><circle cx="1141.8" cy="1096.5" r="5.0"/><circle cx="1143.4" cy="1111.2" r="5.0"/><circle cx="1145.0" cy="1130.5" r="5.0"/><circle cx="1146.6" cy="1145.2" r="5.0"/><circle cx="1148.2" cy="1159.9" r="5.0"/><circle cx="1149.8" cy="1179.2" r="5.0"/><circle cx="1151.4" cy="1201.3" r="5.0"/><circle cx="1153.0" cy="1224.4" r="5.0"/><circle cx="1154.6" cy="1254.1" r="5.0"/><circle cx="1156.2" cy="1276.6" r="5.0"/><circle cx="1157.8" cy="1293.4" r="5.0"/><circle cx="1159.4" cy="1308.8" r="5.0"/><circle cx="1161.0" cy="1331.1" r="5.0"/><circle cx="1162.6" cy="1354.5" r="5.0"/><circle cx="1164.2" cy="1376.2" r="5.0"/><circle cx="1165.8" cy="1394.4" r="5.0"/><circle cx="1167.4" cy="1408.1" r="5.0"/><circle cx="1169.0" cy="1416.9" r="5.0"/><circle cx="1170.6" cy="1422.7" r="5.0"/><circle cx="1172.2" cy="1424.2" r="5.0"/><circle cx="1173.8" cy="1424.9" r="5.0"/><circle cx="1175.4" cy="1422.6" r="5.0"/><circle cx="1177.0" cy="1418.0" r="5.0"/><circle cx="1178.6" cy="1413.8" r="5.0"/><circle cx="1180.2" cy="1409.5" r="5.0"/><circle cx="1181.8" cy="1405.4" r="5.0"/><circle cx="1183.4" cy="1401.0" r="5.0"/><circle cx="1185.0" cy="1396.7" r="5.0"/><circle cx="1186.6" cy="1392.9" r="5.0"/><circle cx="1188.2" cy="1390.1" r="5.0"/><circle cx="1189.8" cy="1387.8" r="5.0"/><circle cx="1191.4" cy="1385.8" r="5.0"/><circle cx="1193.0" cy="1384.2" r="5.0"/><circle cx="1194.6" cy="1383.4" r="5.0"/><circle cx="1196.2" cy="1383.8" r="5.0"/><circle cx="1197.8" cy="1386.0" r="5.0"/><circle cx="1199.4" cy="1389.1" r="5.0"/><circle cx="1201.0" cy="1392.4" r="5.0"/><circle cx="1202.6" cy="1395.1" r="5.0"/><circle cx="1204.2" cy="1396.6" r="5.0"/><circle cx="1205.8" cy="1397.7" r="5.0"/><circle cx="1207.4" cy="1398.6" r="5.0"/><circle cx="1209.0" cy="1399.5" r="5.0"/><circle cx="1210.6" cy="1400.2" r="5.0"/><circle cx="1212.2" cy="1400.9" r="5.0"/><circle cx="1213.8" cy="1401.4" r="5.0"/><circle cx="1215.4" cy="1401.9" r="5.0"/><circle cx="1217.0" cy="1402.3" r="5.0"/><circle cx="1218.6" cy="1402.6" r="5.0"/><circle cx="1220.2" cy="1402.9" r="5.0"/><circle cx="1221.8" cy="1403.1" r="5.0"/><circle cx="1223.4" cy="1403.5" r="5.0"/><circle cx="1225.0" cy="1403.9" r="5.0"/><circle cx="1226.6" cy="1404.4" r="5.0"/><circle cx="1228.2" cy="1405.2" r="5.0"/><circle cx="1229.8" cy="1406.2" r="5.0"/><circle cx="1231.4" cy="1407.4" r="5.0"/><circle cx="1233.0" cy="1408.6" r="5.0"/><circle cx="1234.6" cy="1409.9" r="5.0"/><circle cx="1236.2" cy="1411.3" r="5.0"/><circle cx="1237.8" cy="1412.5" r="5.0"/><circle cx="1239.4" cy="1413.7" r="5.0"/><circle cx="1241.0" cy="1414.9" r="5.0"/><circle cx="1242.6" cy="1416.1" r="5.0"/><circle cx="1244.2" cy="1417.4" r="5.0"/><circle cx="1245.8" cy="1418.6" r="5.0"/><circle cx="1247.4" cy="1419.8" r="5.0"/><circle cx="1249.0" cy="1421.0" r="5.0"/><circle cx="1250.6" cy="1422.1" r="5.0"/><circle cx="1252.2" cy="1423.0" r="5.0"/><circle cx="1253.8" cy="1423.8" r="5.0"/><circle cx="1255.4" cy="1424.5" r="5.0"/><circle cx="1257.0" cy="1425.1" r="5.0"/><circle cx="1258.6" cy="1425.6" r="5.0"/><circle cx="1260.2" cy="1426.1" r="5.0"/><circle cx="1261.8" cy="1426.5" r="5.0"/><circle cx="1263.4" cy="1427.0" r="5.0"/><circle cx="1265.0" cy="1427.5" r="5.0"/><circle cx="1266.6" cy="1428.0" r="5.0"/><circle cx="1268.2" cy="1428.5" r="5.0"/><circle cx="1269.8" cy="1429.2" r="5.0"/><circle cx="1271.4" cy="1430.0" r="5.0"/><circle cx="1273.0" cy="1430.8" r="5.0"/><circle cx="1274.6" cy="1431.8" r="5.0"/><circle cx="1276.2" cy="1432.9" r="5.0"/><circle cx="1277.8" cy="1434.0" r="5.0"/><circle cx="1279.4" cy="1435.1" r="5.0"/><circle cx="1281.0" cy="1436.3" r="5.0"/><circle cx="1282.6" cy="1437.5" r="5.0"/><circle cx="1284.2" cy="1438.6" r="5.0"/><circle cx="1285.8" cy="1439.7" r="5.0"/><circle cx="1287.4" cy="1440.7" r="5.0"/><circle cx="1289.0" cy="1441.8" r="5.0"/><circle cx="1290.6" cy="1442.9" r="5.0"/><circle cx="1292.2" cy="1444.1" r="5.0"/><circle cx="1293.8" cy="1445.2" r="5.0"/><circle cx="1295.4" cy="1446.4" r="5.0"/><circle cx="1297.0" cy="1447.4" r="5.0"/><circle cx="1298.6" cy="1448.3" r="5.0"/><circle cx="1300.2" cy="1449.1" r="5.0"/><circle cx="1301.8" cy="1449.7" r="5.0"/><circle cx="1303.4" cy="1450.2" r="5.0"/><circle cx="1305.0" cy="1450.4" r="5.0"/><circle cx="1306.6" cy="1450.6" r="5.0"/><circle cx="1308.2" cy="1450.7" r="5.0"/><circle cx="1309.8" cy="1450.8" r="5.0"/><circle cx="1311.4" cy="1450.9" r="5.0"/><circle cx="1313.0" cy="1451.0" r="5.0"/><circle cx="1314.6" cy="1451.2" r="5.0"/><circle cx="1316.2" cy="1451.3" r="5.0"/><circle cx="1317.8" cy="1451.5" r="5.0"/><circle cx="1319.4" cy="1451.7" r="5.0"/><circle cx="1321.0" cy="1452.0" r="5.0"/><circle cx="1322.6" cy="1452.6" r="5.0"/><circle cx="1324.2" cy="1453.5" r="5.0"/><circle cx="1325.8" cy="1454.5" r="5.0"/><circle cx="1327.4" cy="1455.7" r="5.0"/><circle cx="1329.0" cy="1456.9" r="5.0"/><circle cx="1330.6" cy="1458.0" r="5.0"/><circle cx="1332.2" cy="1459.0" r="5.0"/><circle cx="1333.8" cy="1459.8" r="5.0"/><circle cx="1335.4" cy="1460.5" r="5.0"/><circle cx="1337.0" cy="1461.1" r="5.0"/><circle cx="1338.6" cy="1461.8" r="5.0"/><circle cx="1340.2" cy="1462.4" r="5.0"/><circle cx="1341.8" cy="1462.9" r="5.0"/><circle cx="1343.4" cy="1463.4" r="5.0"/><circle cx="1345.0" cy="1463.7" r="5.0"/><circle cx="1346.6" cy="1464.0" r="5.0"/><circle cx="1348.2" cy="1464.0" r="5.0"/><circle cx="1349.8" cy="1463.9" r="5.0"/><circle cx="1351.4" cy="1463.5" r="5.0"/><circle cx="1353.0" cy="1463.0" r="5.0"/><circle cx="1354.6" cy="1462.3" r="5.0"/><circle cx="1356.2" cy="1461.5" r="5.0"/><circle cx="1357.8" cy="1460.7" r="5.0"/><circle cx="1359.4" cy="1459.8" r="5.0"/><circle cx="1361.0" cy="1458.6" r="5.0"/><circle cx="1362.6" cy="1456.9" r="5.0"/><circle cx="1364.2" cy="1455.1" r="5.0"/><circle cx="1365.8" cy="1453.3" r="5.0"/><circle cx="1367.4" cy="1451.9" r="5.0"/><circle cx="1369.0" cy="1450.8" r="5.0"/><circle cx="1370.6" cy="1449.9" r="5.0"/><circle cx="1372.2" cy="1449.1" r="5.0"/></g>
</g>
<clipPath id="clipf"><rect x="1614.9" y="1023.7" width="490.1" height="449.3"/></clipPath>
<g clip-path="url(#clipf)">
<path d="M1614.9 1463.5 L1615.9 1462.6 L1616.9 1461.7 L1617.9 1460.7 L1618.9 1459.7 L1619.9 1458.6 L1620.9 1457.5 L1621.9 1456.4 L1622.9 1455.3 L1623.9 1454.1 L1624.9 1452.9 L1625.9 1451.7 L1626.9 1450.4 L1627.9 1449.1 L1628.9 1447.8 L1629.9 1446.5 L1630.9 1445.1 L1631.9 1443.7 L1632.9 1442.3 L1633.9 1440.9 L1634.9 1439.4 L1635.9 1437.9 L1636.9 1436.5 L1637.9 1434.9 L1638.9 1433.3 L1639.9 1431.6 L1640.9 1429.9 L1641.9 1428.1 L1642.9 1426.3 L1643.9 1424.4 L1644.9 1422.5 L1645.9 1420.6 L1646.9 1418.6 L1647.9 1416.6 L1648.9 1414.6 L1649.9 1412.6 L1650.9 1410.6 L1651.9 1408.5 L1652.9 1406.5 L1653.9 1404.5 L1654.9 1402.4 L1655.9 1400.4 L1656.9 1398.4 L1657.9 1396.4 L1658.9 1394.4 L1659.9 1392.5 L1660.9 1390.6 L1661.9 1388.7 L1662.9 1386.9 L1663.9 1385.1 L1664.9 1383.2 L1665.9 1381.4 L1666.9 1379.5 L1667.9 1377.6 L1668.9 1375.7 L1669.9 1373.8 L1670.9 1371.9 L1671.9 1369.9 L1672.9 1368.0 L1673.9 1366.1 L1674.9 1364.3 L1675.9 1362.4 L1676.9 1360.6 L1677.9 1358.8 L1678.9 1357.0 L1679.9 1355.2 L1680.9 1353.5 L1681.9 1351.9 L1682.9 1350.3 L1683.9 1348.7 L1684.9 1347.2 L1685.9 1345.8 L1686.9 1344.4 L1687.9 1343.1 L1688.9 1341.8 L1689.9 1340.7 L1690.9 1339.5 L1691.9 1338.4 L1692.9 1337.2 L1693.9 1336.1 L1694.9 1335.0 L1695.9 1334.0 L1696.9 1333.0 L1697.9 1332.0 L1698.9 1331.1 L1699.9 1330.4 L1700.9 1329.6 L1701.9 1329.0 L1702.9 1328.5 L1703.9 1328.1 L1704.9 1327.8 L1705.9 1327.5 L1706.9 1327.2 L1707.9 1327.0 L1708.9 1326.7 L1709.9 1326.4 L1710.9 1326.2 L1711.9 1326.0 L1712.9 1325.8 L1713.9 1325.7 L1714.9 1325.5 L1715.9 1325.4 L1716.9 1325.4 L1717.9 1325.3 L1718.9 1325.3 L1719.9 1325.4 L1720.9 1325.6 L1721.9 1325.9 L1722.9 1326.3 L1723.9 1326.8 L1724.9 1327.5 L1725.9 1328.2 L1726.9 1329.0 L1727.9 1329.9 L1728.9 1330.8 L1729.9 1331.9 L1730.9 1333.0 L1731.9 1334.1 L1732.9 1335.3 L1733.9 1336.5 L1734.9 1337.8 L1735.9 1339.0 L1736.9 1340.4 L1737.9 1341.7 L1738.9 1343.4 L1739.9 1345.4 L1740.9 1347.7 L1741.9 1350.3 L1742.9 1353.0 L1743.9 1356.0 L1744.9 1359.1 L1745.9 1362.3 L1746.9 1365.6 L1747.9 1369.0 L1748.9 1372.4 L1749.9 1375.7 L1750.9 1379.0 L1751.9 1382.2 L1752.9 1385.3 L1753.9 1388.3 L1754.9 1391.6 L1755.9 1395.0 L1756.9 1398.6 L1757.9 1402.2 L1758.9 1405.8 L1759.9 1409.4 L1760.9 1412.8 L1761.9 1416.0 L1762.9 1419.0 L1763.9 1421.6 L1764.9 1423.8 L1765.9 1425.6 L1766.9 1426.9 L1767.9 1428.0 L1768.9 1429.1 L1769.9 1430.1 L1770.9 1431.0 L1771.9 1431.7 L1772.9 1432.2 L1773.9 1432.5 L1774.5 1432.6 L1775.5 1429.1 L1776.5 1425.6 L1777.5 1422.0 L1778.5 1418.3 L1779.5 1414.5 L1780.5 1410.6 L1781.5 1406.6 L1782.5 1402.5 L1783.5 1398.4 L1784.5 1394.2 L1785.5 1389.8 L1786.5 1385.3 L1787.5 1380.7 L1788.5 1375.9 L1789.5 1370.9 L1790.5 1365.9 L1791.5 1360.8 L1792.5 1355.7 L1793.5 1350.5 L1794.5 1345.3 L1795.5 1340.1 L1796.5 1334.9 L1797.5 1329.8 L1798.5 1324.8 L1799.5 1319.8 L1800.5 1314.8 L1801.5 1309.8 L1802.5 1304.7 L1803.5 1299.7 L1804.5 1294.7 L1805.5 1289.6 L1806.5 1284.6 L1807.5 1279.6 L1808.5 1274.6 L1809.5 1269.5 L1810.5 1264.5 L1811.5 1259.5 L1812.5 1254.5 L1813.5 1249.5 L1814.5 1244.4 L1815.5 1239.4 L1816.5 1234.3 L1817.5 1229.3 L1818.5 1224.3 L1819.5 1219.3 L1820.5 1214.3 L1821.5 1209.3 L1822.5 1204.4 L1823.5 1199.5 L1824.5 1194.7 L1825.5 1189.9 L1826.5 1184.9 L1827.5 1179.9 L1828.5 1174.8 L1829.5 1169.7 L1830.5 1164.7 L1831.5 1159.7 L1832.5 1154.9 L1833.5 1150.2 L1834.5 1145.7 L1835.5 1141.4 L1836.5 1137.5 L1837.5 1133.9 L1838.5 1130.6 L1839.5 1127.4 L1840.5 1124.3 L1841.5 1121.3 L1842.5 1118.3 L1843.5 1115.4 L1844.5 1112.7 L1845.5 1110.1 L1846.5 1107.8 L1847.5 1105.6 L1848.5 1103.7 L1849.5 1102.0 L1850.5 1100.5 L1851.5 1099.4 L1852.5 1098.4 L1853.5 1097.5 L1854.5 1096.6 L1855.5 1095.8 L1856.5 1095.2 L1857.5 1094.7 L1858.5 1094.5 L1859.5 1094.5 L1860.5 1094.7 L1861.5 1095.0 L1862.5 1095.5 L1863.5 1096.1 L1864.5 1096.7 L1865.5 1097.5 L1866.5 1098.3 L1867.5 1099.5 L1868.5 1101.1 L1869.5 1103.0 L1870.5 1105.2 L1871.5 1107.7 L1872.5 1110.2 L1873.5 1112.9 L1874.5 1115.6 L1875.5 1118.3 L1876.5 1120.9 L1877.5 1123.4 L1878.5 1126.1 L1879.5 1128.8 L1880.5 1131.5 L1881.5 1134.4 L1882.5 1137.3 L1883.5 1140.3 L1884.5 1143.4 L1885.5 1146.5 L1886.5 1149.7 L1887.5 1153.0 L1888.5 1156.3 L1889.5 1159.7 L1890.5 1163.2 L1891.5 1166.7 L1892.5 1170.3 L1893.5 1174.0 L1894.5 1177.8 L1895.5 1181.7 L1896.5 1185.7 L1897.5 1189.7 L1898.5 1193.9 L1899.5 1198.1 L1900.5 1202.4 L1901.5 1206.8 L1902.5 1211.3 L1903.5 1215.9 L1904.5 1220.7 L1905.5 1225.7 L1906.5 1230.8 L1907.5 1236.0 L1908.5 1241.4 L1909.5 1246.9 L1910.5 1252.4 L1911.5 1258.0 L1912.5 1263.7 L1913.5 1269.4 L1914.5 1275.1 L1915.5 1280.9 L1916.5 1286.6 L1917.5 1292.3 L1918.5 1298.2 L1919.5 1304.2 L1920.5 1310.2 L1921.5 1316.3 L1922.5 1322.4 L1923.5 1328.6 L1924.5 1334.7 L1925.5 1340.8 L1926.5 1346.9 L1927.5 1352.9 L1928.5 1358.8 L1929.5 1364.6 L1930.5 1370.6 L1931.5 1377.0 L1932.5 1383.7 L1933.5 1390.5 L1934.5 1397.2 L1935.5 1403.6 L1936.5 1409.5 L1937.5 1414.7 L1938.5 1418.9 L1939.5 1422.1 L1940.5 1424.1 L1941.5 1425.6 L1942.5 1427.0 L1943.5 1428.3 L1944.5 1429.4 L1945.5 1430.3 L1946.5 1431.0 L1947.5 1431.4 L1948.2 1431.4 L1949.2 1426.7 L1950.2 1422.1 L1951.2 1417.6 L1952.2 1413.1 L1953.2 1408.8 L1954.2 1404.6 L1955.2 1400.5 L1956.2 1396.6 L1957.2 1392.8 L1958.2 1389.1 L1959.2 1385.7 L1960.2 1382.4 L1961.2 1379.2 L1962.2 1376.3 L1963.2 1373.3 L1964.2 1370.5 L1965.2 1367.7 L1966.2 1364.9 L1967.2 1362.3 L1968.2 1359.7 L1969.2 1357.2 L1970.2 1354.8 L1971.2 1352.5 L1972.2 1350.3 L1973.2 1348.3 L1974.2 1346.3 L1975.2 1344.5 L1976.2 1342.8 L1977.2 1341.3 L1978.2 1339.9 L1979.2 1338.5 L1980.2 1337.2 L1981.2 1335.9 L1982.2 1334.6 L1983.2 1333.5 L1984.2 1332.5 L1985.2 1331.6 L1986.2 1330.8 L1987.2 1330.2 L1988.2 1329.7 L1989.2 1329.3 L1990.2 1328.9 L1991.2 1328.5 L1992.2 1328.2 L1993.2 1327.8 L1994.2 1327.5 L1995.2 1327.2 L1996.2 1327.0 L1997.2 1326.8 L1998.2 1326.6 L1999.2 1326.5 L2000.2 1326.4 L2001.2 1326.4 L2002.2 1326.5 L2003.2 1326.6 L2004.2 1326.8 L2005.2 1327.1 L2006.2 1327.4 L2007.2 1327.8 L2008.2 1328.3 L2009.2 1328.8 L2010.2 1329.3 L2011.2 1330.0 L2012.2 1330.6 L2013.2 1331.3 L2014.2 1332.0 L2015.2 1332.8 L2016.2 1333.6 L2017.2 1334.4 L2018.2 1335.2 L2019.2 1336.0 L2020.2 1336.8 L2021.2 1337.7 L2022.2 1338.5 L2023.2 1339.4 L2024.2 1340.3 L2025.2 1341.4 L2026.2 1342.5 L2027.2 1343.8 L2028.2 1345.1 L2029.2 1346.4 L2030.2 1347.8 L2031.2 1349.3 L2032.2 1350.9 L2033.2 1352.4 L2034.2 1354.0 L2035.2 1355.6 L2036.2 1357.3 L2037.2 1358.9 L2038.2 1360.6 L2039.2 1362.2 L2040.2 1363.9 L2041.2 1365.5 L2042.2 1367.1 L2043.2 1368.9 L2044.2 1370.6 L2045.2 1372.4 L2046.2 1374.3 L2047.2 1376.1 L2048.2 1378.1 L2049.2 1380.0 L2050.2 1381.9 L2051.2 1383.9 L2052.2 1385.9 L2053.2 1387.8 L2054.2 1389.8 L2055.2 1391.8 L2056.2 1393.7 L2057.2 1395.7 L2058.2 1397.6 L2059.2 1399.5 L2060.2 1401.3 L2061.2 1403.1 L2062.2 1404.9 L2063.2 1406.6 L2064.2 1408.3 L2065.2 1410.1 L2066.2 1411.8 L2067.2 1413.5 L2068.2 1415.3 L2069.2 1417.0 L2070.2 1418.7 L2071.2 1420.4 L2072.2 1422.1 L2073.2 1423.7 L2074.2 1425.4 L2075.2 1427.0 L2076.2 1428.6 L2077.2 1430.1 L2078.2 1431.7 L2079.2 1433.2 L2080.2 1434.7 L2081.2 1436.1 L2082.2 1437.5 L2083.2 1438.9 L2084.2 1440.2 L2085.2 1441.6 L2086.2 1442.9 L2087.2 1444.2 L2088.2 1445.5 L2089.2 1446.7 L2090.2 1448.0 L2091.2 1449.2 L2092.2 1450.4 L2093.2 1451.6 L2094.2 1452.8 L2095.2 1453.9 L2096.2 1455.0 L2097.2 1456.0 L2098.2 1457.1 L2099.2 1458.1 L2100.2 1459.0 L2101.2 1459.9 L2102.2 1460.8 L2103.2 1461.6 L2104.2 1462.3" fill="none" stroke="#ef7a2f" stroke-width="5.2" stroke-linejoin="round"/>
<g fill="none" stroke="#433a9c" stroke-width="2.0"><circle cx="1666.2" cy="1338.2" r="5.0"/><circle cx="1669.7" cy="1359.8" r="5.0"/><circle cx="1672.6" cy="1361.2" r="5.0"/><circle cx="1675.5" cy="1362.5" r="5.0"/><circle cx="1678.4" cy="1363.8" r="5.0"/><circle cx="1681.3" cy="1364.9" r="5.0"/><circle cx="1684.2" cy="1365.9" r="5.0"/><circle cx="1687.1" cy="1366.9" r="5.0"/><circle cx="1690.0" cy="1368.2" r="5.0"/><circle cx="1692.9" cy="1370.1" r="5.0"/><circle cx="1695.8" cy="1372.3" r="5.0"/><circle cx="1698.7" cy="1373.9" r="5.0"/><circle cx="1701.6" cy="1374.0" r="5.0"/><circle cx="1704.5" cy="1372.9" r="5.0"/><circle cx="1707.4" cy="1371.3" r="5.0"/><circle cx="1710.3" cy="1369.8" r="5.0"/><circle cx="1713.2" cy="1369.1" r="5.0"/><circle cx="1716.1" cy="1369.7" r="5.0"/><circle cx="1719.0" cy="1371.5" r="5.0"/><circle cx="1721.9" cy="1373.9" r="5.0"/><circle cx="1724.8" cy="1376.4" r="5.0"/><circle cx="1727.7" cy="1379.4" r="5.0"/><circle cx="1730.6" cy="1382.9" r="5.0"/><circle cx="1733.5" cy="1386.9" r="5.0"/><circle cx="1736.4" cy="1391.7" r="5.0"/><circle cx="1739.3" cy="1397.5" r="5.0"/><circle cx="1742.2" cy="1403.9" r="5.0"/><circle cx="1745.1" cy="1410.8" r="5.0"/><circle cx="1748.0" cy="1418.1" r="5.0"/><circle cx="1750.9" cy="1424.1" r="5.0"/><circle cx="1753.8" cy="1428.7" r="5.0"/><circle cx="1756.7" cy="1432.5" r="5.0"/><circle cx="1759.6" cy="1435.0" r="5.0"/><circle cx="1762.5" cy="1436.8" r="5.0"/><circle cx="1765.4" cy="1435.8" r="5.0"/><circle cx="1768.3" cy="1428.8" r="5.0"/><circle cx="1771.2" cy="1419.9" r="5.0"/><circle cx="1774.1" cy="1410.4" r="5.0"/><circle cx="1777.0" cy="1402.8" r="5.0"/><circle cx="1779.9" cy="1393.1" r="5.0"/><circle cx="1782.8" cy="1382.6" r="5.0"/><circle cx="1785.7" cy="1372.1" r="5.0"/><circle cx="1788.6" cy="1363.0" r="5.0"/><circle cx="1791.5" cy="1356.1" r="5.0"/><circle cx="1794.4" cy="1347.0" r="5.0"/><circle cx="1797.3" cy="1334.6" r="5.0"/><circle cx="1800.2" cy="1324.8" r="5.0"/><circle cx="1803.1" cy="1317.0" r="5.0"/><circle cx="1806.0" cy="1307.9" r="5.0"/><circle cx="1808.9" cy="1293.5" r="5.0"/><circle cx="1811.8" cy="1276.5" r="5.0"/><circle cx="1814.7" cy="1261.0" r="5.0"/><circle cx="1817.6" cy="1244.8" r="5.0"/><circle cx="1820.5" cy="1226.6" r="5.0"/><circle cx="1823.4" cy="1211.0" r="5.0"/><circle cx="1826.3" cy="1198.5" r="5.0"/><circle cx="1829.2" cy="1185.7" r="5.0"/><circle cx="1832.1" cy="1170.9" r="5.0"/><circle cx="1835.0" cy="1157.4" r="5.0"/><circle cx="1837.9" cy="1146.4" r="5.0"/><circle cx="1840.8" cy="1135.5" r="5.0"/><circle cx="1843.7" cy="1122.3" r="5.0"/><circle cx="1846.6" cy="1111.6" r="5.0"/><circle cx="1849.5" cy="1105.0" r="5.0"/><circle cx="1852.4" cy="1101.1" r="5.0"/><circle cx="1855.3" cy="1098.4" r="5.0"/><circle cx="1858.2" cy="1095.9" r="5.0"/><circle cx="1861.1" cy="1095.9" r="5.0"/><circle cx="1864.0" cy="1103.2" r="5.0"/><circle cx="1866.9" cy="1109.7" r="5.0"/><circle cx="1869.8" cy="1114.4" r="5.0"/><circle cx="1872.7" cy="1116.7" r="5.0"/><circle cx="1875.6" cy="1117.9" r="5.0"/><circle cx="1878.5" cy="1119.2" r="5.0"/><circle cx="1881.4" cy="1122.6" r="5.0"/><circle cx="1884.3" cy="1128.3" r="5.0"/><circle cx="1887.2" cy="1135.3" r="5.0"/><circle cx="1890.1" cy="1146.3" r="5.0"/><circle cx="1893.0" cy="1162.1" r="5.0"/><circle cx="1895.9" cy="1177.2" r="5.0"/><circle cx="1898.8" cy="1191.4" r="5.0"/><circle cx="1901.7" cy="1202.9" r="5.0"/><circle cx="1904.6" cy="1213.6" r="5.0"/><circle cx="1907.5" cy="1226.3" r="5.0"/><circle cx="1910.4" cy="1240.5" r="5.0"/><circle cx="1913.3" cy="1253.1" r="5.0"/><circle cx="1916.2" cy="1265.3" r="5.0"/><circle cx="1919.1" cy="1280.7" r="5.0"/><circle cx="1922.0" cy="1299.8" r="5.0"/><circle cx="1924.9" cy="1315.3" r="5.0"/><circle cx="1927.8" cy="1328.6" r="5.0"/><circle cx="1930.7" cy="1342.7" r="5.0"/><circle cx="1933.6" cy="1357.9" r="5.0"/><circle cx="1936.5" cy="1370.4" r="5.0"/><circle cx="1939.4" cy="1380.6" r="5.0"/><circle cx="1942.3" cy="1392.4" r="5.0"/><circle cx="1945.2" cy="1407.4" r="5.0"/><circle cx="1948.1" cy="1422.3" r="5.0"/><circle cx="1951.0" cy="1436.5" r="5.0"/><circle cx="1953.9" cy="1449.9" r="5.0"/><circle cx="1956.8" cy="1459.8" r="5.0"/><circle cx="1959.7" cy="1462.6" r="5.0"/><circle cx="1962.6" cy="1453.4" r="5.0"/><circle cx="1965.5" cy="1442.4" r="5.0"/><circle cx="1968.4" cy="1431.7" r="5.0"/><circle cx="1971.3" cy="1423.6" r="5.0"/><circle cx="1974.2" cy="1417.6" r="5.0"/><circle cx="1977.1" cy="1413.9" r="5.0"/><circle cx="1980.0" cy="1411.8" r="5.0"/><circle cx="1982.9" cy="1411.2" r="5.0"/><circle cx="1985.8" cy="1410.9" r="5.0"/><circle cx="1988.7" cy="1410.5" r="5.0"/><circle cx="1991.6" cy="1409.7" r="5.0"/><circle cx="1994.5" cy="1407.2" r="5.0"/><circle cx="1997.4" cy="1403.7" r="5.0"/><circle cx="2000.3" cy="1399.7" r="5.0"/><circle cx="2003.2" cy="1394.4" r="5.0"/><circle cx="2006.1" cy="1390.6" r="5.0"/><circle cx="2009.0" cy="1389.6" r="5.0"/><circle cx="2011.9" cy="1389.0" r="5.0"/><circle cx="2014.8" cy="1388.8" r="5.0"/><circle cx="2017.7" cy="1390.2" r="5.0"/><circle cx="2020.6" cy="1392.4" r="5.0"/><circle cx="2023.5" cy="1393.5" r="5.0"/><circle cx="2026.4" cy="1394.0" r="5.0"/><circle cx="2029.3" cy="1394.3" r="5.0"/><circle cx="2032.2" cy="1393.4" r="5.0"/><circle cx="2035.1" cy="1389.3" r="5.0"/><circle cx="2038.0" cy="1385.2" r="5.0"/><circle cx="2040.9" cy="1382.7" r="5.0"/><circle cx="2043.8" cy="1380.5" r="5.0"/><circle cx="2046.7" cy="1379.8" r="5.0"/><circle cx="2049.6" cy="1382.0" r="5.0"/></g>
</g>
<rect x="151.60" y="105.50" width="491.70" height="735.70" fill="none" stroke="#000" stroke-width="3.2"/>
<path d="M133.10 841.20H151.60M133.10 657.28H151.60M133.10 473.35H151.60M133.10 289.42H151.60M133.10 105.50H151.60M151.60 841.20V859.70M397.45 841.20V859.70M643.30 841.20V859.70" stroke="#000" stroke-width="3" fill="none"/>
<text transform="translate(73.20,853.60) scale(0.9300,1)" font-size="41.00">5.5</text>
<text transform="translate(105.08,669.68) scale(0.9300,1)" font-size="41.00">6</text>
<text transform="translate(73.20,485.75) scale(0.9300,1)" font-size="41.00">6.5</text>
<text transform="translate(105.31,301.82) scale(0.9300,1)" font-size="41.00">7</text>
<text transform="translate(73.20,117.90) scale(0.9300,1)" font-size="41.00">7.5</text>
<text transform="translate(134.75,897.70) scale(0.9300,1)" font-size="41.00">-1</text>
<text transform="translate(386.85,897.70) scale(0.9300,1)" font-size="41.00">0</text>
<text transform="translate(632.19,897.70) scale(0.9300,1)" font-size="41.00">1</text>
<text transform="translate(281.30,937.90) scale(0.9489,1)" font-size="43.00">Voltage (mV)</text>
<text transform="translate(56.40,630.56) rotate(-90) scale(0.9525,1)" font-size="43.00">Magnetic field (T)</text>
<text transform="translate(0.85,38.20) scale(0.9200,1)" font-size="47.00" font-weight="bold">a</text>
<text transform="translate(148.87,36.30) scale(0.9150,1)" font-size="43.00">DP24-D</text>
<text transform="translate(435.87,59.30) scale(0.9300,1)" font-size="41.00">-2</text>
<text transform="translate(537.60,59.30) scale(0.9300,1)" font-size="41.00">0</text>
<text transform="translate(632.40,59.30) scale(0.9300,1)" font-size="41.00">2</text>
<text transform="translate(282.32,92.70) scale(0.8740,1)" font-size="43.0">δ<tspan font-style="italic">R</tspan> (kΩ)</text>
<text transform="translate(162.40,156.00) scale(0.9300,1)" font-size="41.00" fill="#fff">ν = 2.25</text>
<rect x="883.10" y="105.50" width="491.50" height="735.70" fill="none" stroke="#000" stroke-width="3.2"/>
<path d="M864.60 779.89H883.10M864.60 657.28H883.10M864.60 534.66H883.10M864.60 412.04H883.10M864.60 289.42H883.10M864.60 166.81H883.10M883.10 841.20V859.70M1005.98 841.20V859.70M1128.85 841.20V859.70M1251.72 841.20V859.70M1374.60 841.20V859.70" stroke="#000" stroke-width="3" fill="none"/>
<text transform="translate(804.78,792.29) scale(0.9300,1)" font-size="41.00">4.6</text>
<text transform="translate(804.74,669.68) scale(0.9300,1)" font-size="41.00">4.8</text>
<text transform="translate(836.50,547.06) scale(0.9300,1)" font-size="41.00">5</text>
<text transform="translate(805.01,424.44) scale(0.9300,1)" font-size="41.00">5.2</text>
<text transform="translate(804.21,301.82) scale(0.9300,1)" font-size="41.00">5.4</text>
<text transform="translate(804.78,179.21) scale(0.9300,1)" font-size="41.00">5.6</text>
<text transform="translate(850.25,897.70) scale(0.9300,1)" font-size="41.00">-0.3</text>
<text transform="translate(1118.25,897.70) scale(0.9300,1)" font-size="41.00">0</text>
<text transform="translate(1348.19,897.70) scale(0.9300,1)" font-size="41.00">0.3</text>
<text transform="translate(1012.70,937.90) scale(0.9489,1)" font-size="43.00">Voltage (mV)</text>
<text transform="translate(787.90,630.56) rotate(-90) scale(0.9525,1)" font-size="43.00">Magnetic field (T)</text>
<text transform="translate(726.65,38.20) scale(0.9200,1)" font-size="47.00" font-weight="bold">b</text>
<text transform="translate(880.37,36.30) scale(0.9150,1)" font-size="43.00">HV88-C</text>
<text transform="translate(1166.97,59.30) scale(0.9300,1)" font-size="41.00">-4</text>
<text transform="translate(1269.10,59.30) scale(0.9300,1)" font-size="41.00">0</text>
<text transform="translate(1364.01,59.30) scale(0.9300,1)" font-size="41.00">4</text>
<text transform="translate(1005.00,92.70) scale(0.8865,1)" font-size="43.0">δ<tspan font-style="italic">R</tspan> (kΩ)</text>
<text transform="translate(893.90,156.00) scale(0.9300,1)" font-size="41.00" fill="#fff">ν = 2.25</text>
<rect x="1614.60" y="105.50" width="491.60" height="735.70" fill="none" stroke="#000" stroke-width="3.2"/>
<path d="M1596.10 841.20H1614.60M1596.10 718.58H1614.60M1596.10 595.97H1614.60M1596.10 473.35H1614.60M1596.10 350.73H1614.60M1596.10 228.12H1614.60M1596.10 105.50H1614.60M1706.77 841.20V859.70M1860.40 841.20V859.70M2014.02 841.20V859.70" stroke="#000" stroke-width="3" fill="none"/>
<text transform="translate(1536.24,853.60) scale(0.9300,1)" font-size="41.00">4.8</text>
<text transform="translate(1568.00,608.37) scale(0.9300,1)" font-size="41.00">5</text>
<text transform="translate(1536.51,363.13) scale(0.9300,1)" font-size="41.00">5.2</text>
<text transform="translate(1535.71,117.90) scale(0.9300,1)" font-size="41.00">5.4</text>
<text transform="translate(1663.29,897.70) scale(0.9300,1)" font-size="41.00">-0.05</text>
<text transform="translate(1849.80,897.70) scale(0.9300,1)" font-size="41.00">0</text>
<text transform="translate(1976.98,897.70) scale(0.9300,1)" font-size="41.00">0.05</text>
<text transform="translate(1744.25,937.90) scale(0.9489,1)" font-size="43.00">Voltage (mV)</text>
<text transform="translate(1519.40,630.56) rotate(-90) scale(0.9525,1)" font-size="43.00">Magnetic field (T)</text>
<text transform="translate(1465.71,38.00) scale(0.9200,1)" font-size="47.00" font-weight="bold">c</text>
<text transform="translate(1611.87,36.30) scale(0.9150,1)" font-size="43.00">HV88-F</text>
<text transform="translate(1898.75,59.30) scale(0.9300,1)" font-size="41.00">-3</text>
<text transform="translate(2000.60,59.30) scale(0.9300,1)" font-size="41.00">0</text>
<text transform="translate(2095.51,59.30) scale(0.9300,1)" font-size="41.00">3</text>
<text transform="translate(1736.61,92.70) scale(0.8796,1)" font-size="43.0">δ<tspan font-style="italic">R</tspan> (kΩ)</text>
<text transform="translate(1625.40,156.00) scale(0.9300,1)" font-size="41.00" fill="#fff">ν = 2</text>
<rect x="151.80" y="1023.70" width="490.10" height="449.30" fill="none" stroke="#000" stroke-width="3.2"/>
<path d="M133.30 1473.00H151.80M133.30 1398.12H151.80M133.30 1323.23H151.80M133.30 1248.35H151.80M133.30 1173.47H151.80M133.30 1098.58H151.80M133.30 1023.70H151.80M151.80 1473.00V1491.50M274.32 1473.00V1491.50M396.85 1473.00V1491.50M519.38 1473.00V1491.50M641.90 1473.00V1491.50" stroke="#000" stroke-width="3" fill="none"/>
<text transform="translate(105.09,1485.40) scale(0.9300,1)" font-size="41.00">0</text>
<text transform="translate(73.48,1260.75) scale(0.9300,1)" font-size="41.00">0.3</text>
<text transform="translate(73.48,1036.10) scale(0.9300,1)" font-size="41.00">0.6</text>
<text transform="translate(134.95,1529.50) scale(0.9300,1)" font-size="41.00">-1</text>
<text transform="translate(386.25,1529.50) scale(0.9300,1)" font-size="41.00">0</text>
<text transform="translate(630.79,1529.50) scale(0.9300,1)" font-size="41.00">1</text>
<text transform="translate(280.70,1569.70) scale(0.9489,1)" font-size="43.00">Voltage (mV)</text>
<text transform="translate(56.10,1352.72) rotate(-90) scale(0.8548,1)" font-size="43.00">|FFT| (a.u.)</text>
<text transform="translate(1.03,998.30) scale(0.9200,1)" font-size="47.00" font-weight="bold">d</text>
<rect x="883.20" y="1023.70" width="490.10" height="449.30" fill="none" stroke="#000" stroke-width="3.2"/>
<path d="M864.70 1473.00H883.20M864.70 1391.46H883.20M864.70 1309.91H883.20M864.70 1228.37H883.20M864.70 1146.83H883.20M864.70 1065.29H883.20M883.20 1473.00V1491.50M1005.73 1473.00V1491.50M1128.25 1473.00V1491.50M1250.78 1473.00V1491.50M1373.30 1473.00V1491.50" stroke="#000" stroke-width="3" fill="none"/>
<text transform="translate(836.49,1485.40) scale(0.9300,1)" font-size="41.00">0</text>
<text transform="translate(804.31,1322.31) scale(0.9300,1)" font-size="41.00">0.4</text>
<text transform="translate(804.84,1159.23) scale(0.9300,1)" font-size="41.00">0.8</text>
<text transform="translate(850.35,1529.50) scale(0.9300,1)" font-size="41.00">-0.3</text>
<text transform="translate(1117.65,1529.50) scale(0.9300,1)" font-size="41.00">0</text>
<text transform="translate(1346.89,1529.50) scale(0.9300,1)" font-size="41.00">0.3</text>
<text transform="translate(1012.10,1569.70) scale(0.9489,1)" font-size="43.00">Voltage (mV)</text>
<text transform="translate(787.50,1352.72) rotate(-90) scale(0.8548,1)" font-size="43.00">|FFT| (a.u.)</text>
<text transform="translate(726.81,998.30) scale(0.9200,1)" font-size="47.00" font-weight="bold">e</text>
<rect x="1614.90" y="1023.70" width="490.10" height="449.30" fill="none" stroke="#000" stroke-width="3.2"/>
<path d="M1596.40 1473.00H1614.90M1596.40 1360.67H1614.90M1596.40 1248.35H1614.90M1596.40 1136.03H1614.90M1596.40 1023.70H1614.90M1614.90 1473.00V1491.50M1737.43 1473.00V1491.50M1859.95 1473.00V1491.50M1982.48 1473.00V1491.50M2105.00 1473.00V1491.50" stroke="#000" stroke-width="3" fill="none"/>
<text transform="translate(1568.19,1485.40) scale(0.9300,1)" font-size="41.00">0</text>
<text transform="translate(1536.01,1260.75) scale(0.9300,1)" font-size="41.00">0.4</text>
<text transform="translate(1536.54,1036.10) scale(0.9300,1)" font-size="41.00">0.8</text>
<text transform="translate(1582.15,1529.50) scale(0.9300,1)" font-size="41.00">-0.1</text>
<text transform="translate(1849.35,1529.50) scale(0.9300,1)" font-size="41.00">0</text>
<text transform="translate(2078.69,1529.50) scale(0.9300,1)" font-size="41.00">0.1</text>
<text transform="translate(1743.80,1569.70) scale(0.9489,1)" font-size="43.00">Voltage (mV)</text>
<text transform="translate(1519.20,1352.72) rotate(-90) scale(0.8548,1)" font-size="43.00">|FFT| (a.u.)</text>
<text transform="translate(1466.06,998.00) scale(0.9200,1)" font-size="47.00" font-weight="bold">f</text>
</svg>
</body></html>
